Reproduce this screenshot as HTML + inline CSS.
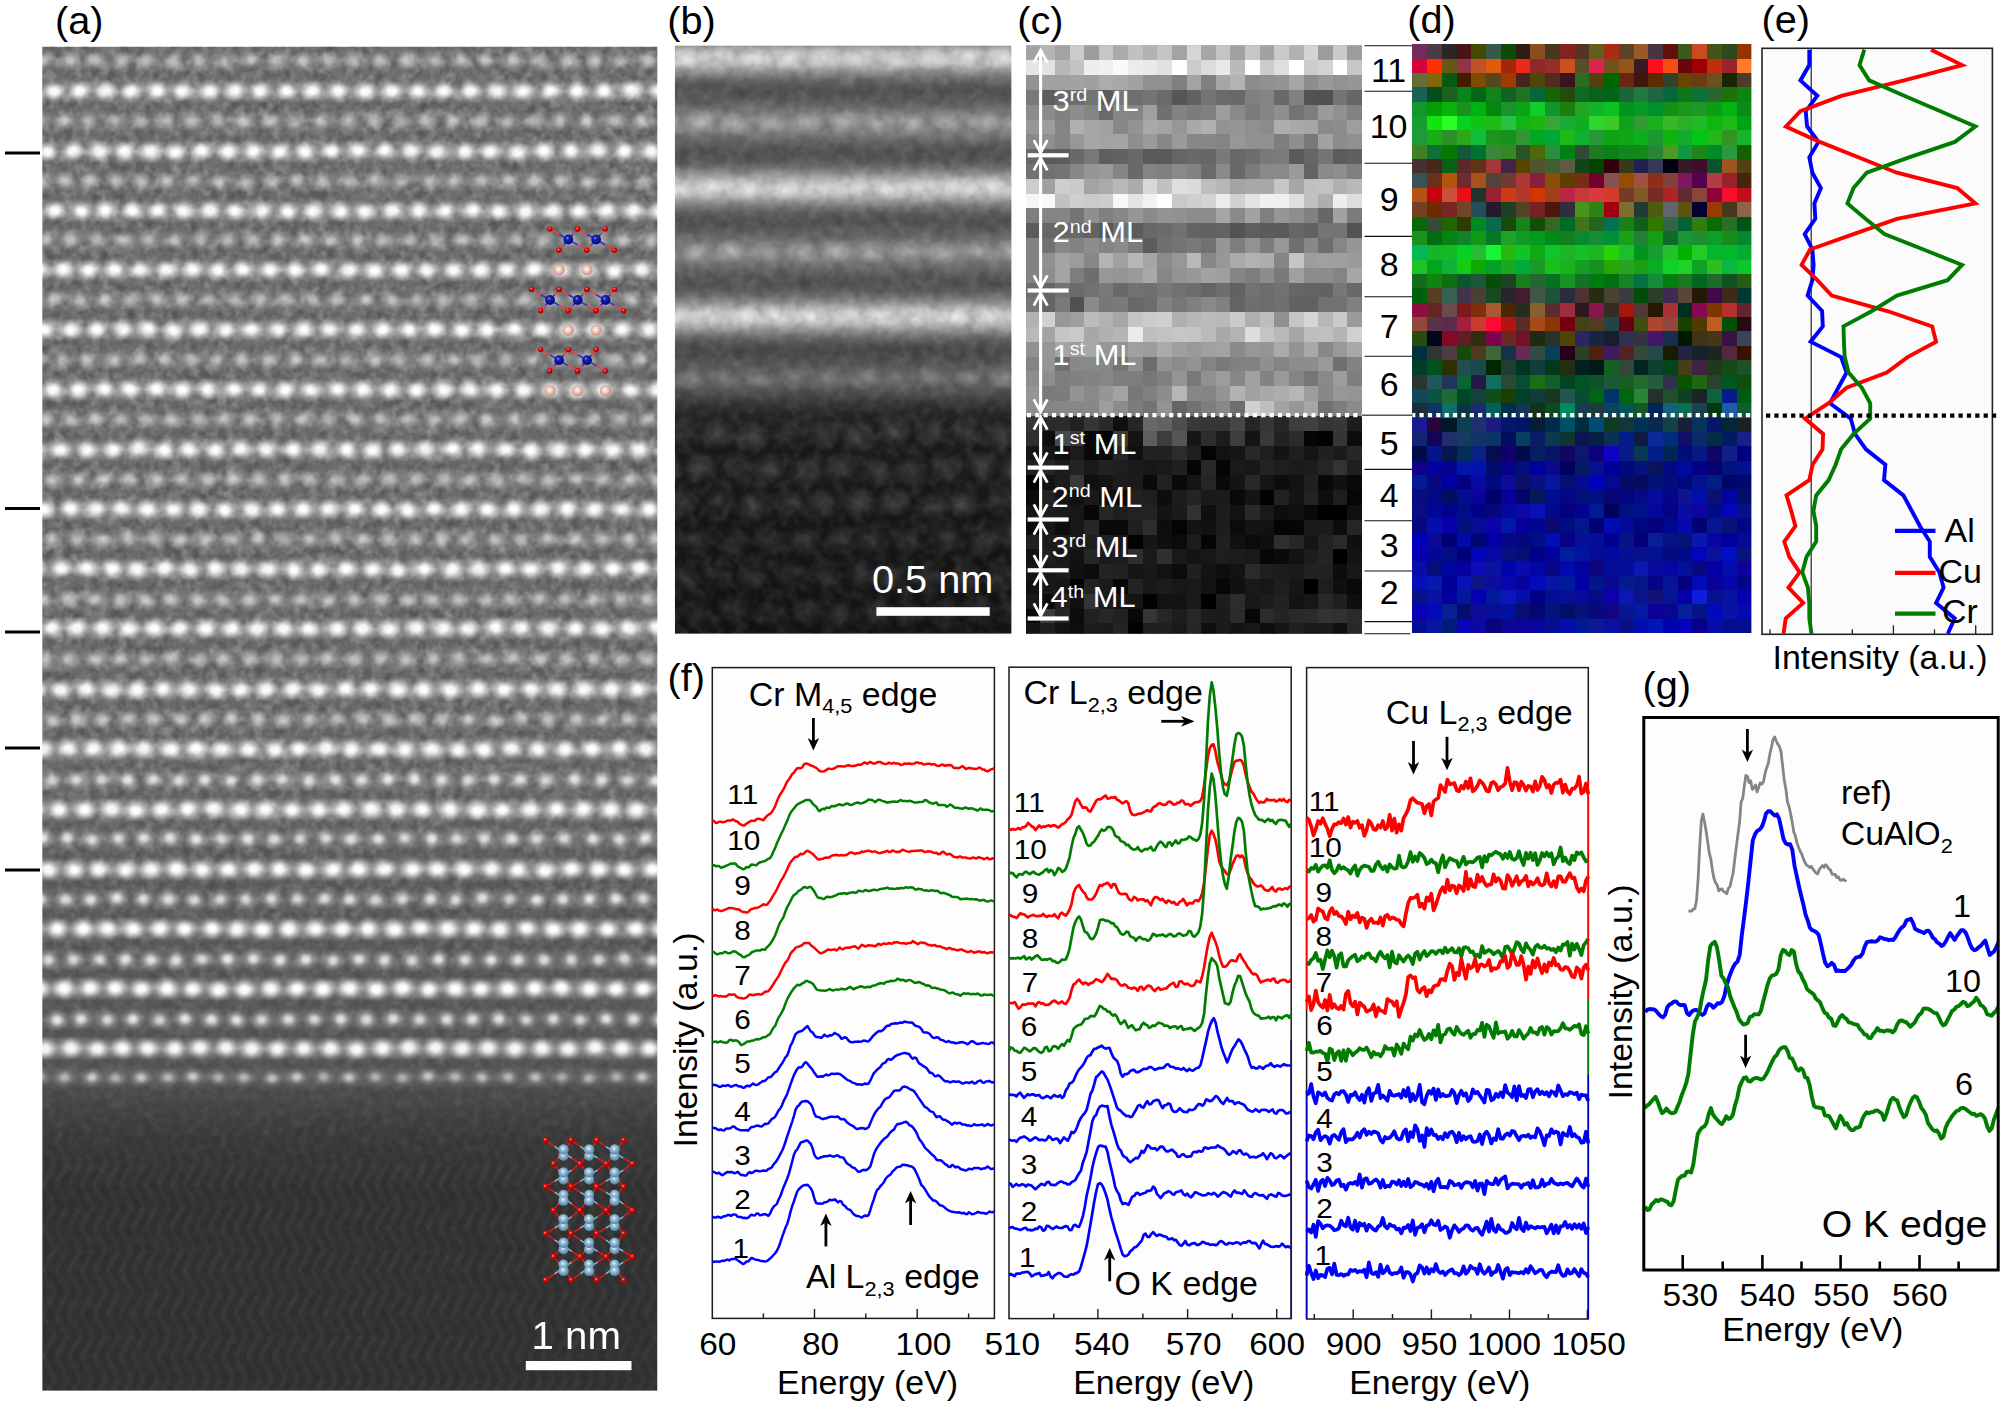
<!DOCTYPE html>
<html><head><meta charset="utf-8"><title>Figure</title>
<style>
html,body{margin:0;padding:0;background:#fff;}
body{width:2007px;height:1408px;overflow:hidden;}
svg{display:block;font-family:"Liberation Sans",sans-serif;}

</style></head><body>
<svg width="2007" height="1408" viewBox="0 0 2007 1408">
<rect width="2007" height="1408" fill="#fff"/>
<g id="panel_a"><defs>
<linearGradient id="abg" x1="0" y1="0" x2="0" y2="1">
<stop offset="0.0000" stop-color="#707070"/><stop offset="0.5605" stop-color="#6c6c6c"/><stop offset="0.6200" stop-color="#606060"/><stop offset="0.7539" stop-color="#585858"/><stop offset="0.7747" stop-color="#505050"/><stop offset="0.7874" stop-color="#464646"/><stop offset="0.8097" stop-color="#3a3a3a"/><stop offset="0.8506" stop-color="#313131"/><stop offset="0.9994" stop-color="#303030"/>
</linearGradient>
<radialGradient id="gB"><stop offset="0" stop-color="#fff" stop-opacity="1"/><stop offset="0.28" stop-color="#fff" stop-opacity="1"/><stop offset="0.55" stop-color="#fff" stop-opacity="0.5"/><stop offset="0.8" stop-color="#fff" stop-opacity="0.14"/><stop offset="1" stop-color="#fff" stop-opacity="0"/></radialGradient>
<radialGradient id="gD"><stop offset="0" stop-color="#fff" stop-opacity="0.62"/><stop offset="0.3" stop-color="#fff" stop-opacity="0.5"/><stop offset="0.65" stop-color="#fff" stop-opacity="0.17"/><stop offset="1" stop-color="#fff" stop-opacity="0"/></radialGradient>
<radialGradient id="gE"><stop offset="0" stop-color="#fff" stop-opacity="0.9"/><stop offset="0.25" stop-color="#fff" stop-opacity="0.8"/><stop offset="0.6" stop-color="#fff" stop-opacity="0.22"/><stop offset="1" stop-color="#fff" stop-opacity="0"/></radialGradient>
<linearGradient id="rowB" x1="0" y1="0" x2="0" y2="1"><stop offset="0" stop-color="#fff" stop-opacity="0"/><stop offset="0.5" stop-color="#fff" stop-opacity="0.34"/><stop offset="1" stop-color="#fff" stop-opacity="0"/></linearGradient>
<linearGradient id="rowD" x1="0" y1="0" x2="0" y2="1"><stop offset="0" stop-color="#fff" stop-opacity="0"/><stop offset="0.5" stop-color="#fff" stop-opacity="0.12"/><stop offset="1" stop-color="#fff" stop-opacity="0"/></linearGradient>
<linearGradient id="rowK" x1="0" y1="0" x2="0" y2="1"><stop offset="0" stop-color="#000" stop-opacity="0"/><stop offset="0.5" stop-color="#000" stop-opacity="0.04"/><stop offset="1" stop-color="#000" stop-opacity="0"/></linearGradient>
<pattern id="chev" width="25.6" height="43" patternUnits="userSpaceOnUse" x="42" y="1120"><path d="M2,20 L12,2 M14.8,20 L24.8,2 M-10.8,20 L-0.8,2" stroke="#fff" stroke-opacity="0.035" stroke-width="5" fill="none" stroke-linecap="round"/><path d="M2,23.5 L12,41.5 M14.8,23.5 L24.8,41.5 M27.6,23.5 L37.6,41.5" stroke="#fff" stroke-opacity="0.028" stroke-width="5" fill="none" stroke-linecap="round"/></pattern>
<linearGradient id="chevfade" x1="0" y1="0" x2="0" y2="1"><stop offset="0" stop-color="#fff" stop-opacity="0"/><stop offset="0.25" stop-color="#fff" stop-opacity="1"/><stop offset="1" stop-color="#fff" stop-opacity="1"/></linearGradient>
<mask id="chevm"><rect x="42" y="1100" width="616" height="291" fill="url(#chevfade)"/></mask>
<filter id="ablur" x="0" y="0" width="1" height="1" filterUnits="objectBoundingBox"><feGaussianBlur stdDeviation="1.1"/></filter>
<filter id="anz" x="0" y="0" width="1" height="1"><feTurbulence type="fractalNoise" baseFrequency="0.11" numOctaves="2" seed="4" result="t"/><feColorMatrix in="t" type="matrix" values="0 0 0 0 1  0 0 0 0 1  0 0 0 0 1  0.38 0 0 0 -0.148"/></filter>
<filter id="anzk" x="0" y="0" width="1" height="1"><feTurbulence type="fractalNoise" baseFrequency="0.11" numOctaves="2" seed="9" result="t"/><feColorMatrix in="t" type="matrix" values="0 0 0 0 0  0 0 0 0 0  0 0 0 0 0  0.38 0 0 0 -0.148"/></filter>
<filter id="anz2" x="0" y="0" width="1" height="1"><feTurbulence type="fractalNoise" baseFrequency="0.09" numOctaves="2" seed="14" result="t"/><feColorMatrix in="t" type="matrix" values="0 0 0 0 1  0 0 0 0 1  0 0 0 0 1  0.22 0 0 0 -0.075"/></filter>
<linearGradient id="nzg" gradientUnits="userSpaceOnUse" x1="0" y1="46" x2="0" y2="1391"><stop offset="0" stop-color="#fff"/><stop offset="0.5" stop-color="#fff"/><stop offset="0.68" stop-color="#999"/><stop offset="0.78" stop-color="#555"/><stop offset="0.84" stop-color="#2a2a2a"/><stop offset="1" stop-color="#222"/></linearGradient><mask id="nzm"><rect x="42" y="46" width="616" height="1345" fill="url(#nzg)"/></mask>
<clipPath id="aclip"><rect x="42.2" y="46.6" width="615.3" height="1344.2"/></clipPath>
</defs>
<g clip-path="url(#aclip)">
<rect x="42.2" y="46.6" width="615.3" height="1344.2" fill="url(#abg)"/>
<rect x="42" y="1100" width="616" height="291" fill="url(#chev)" mask="url(#chevm)"/>
<rect x="42" y="68.7" width="616" height="14" fill="url(#rowK)"/>
<rect x="42" y="99.2" width="616" height="14" fill="url(#rowK)"/>
<rect x="42" y="128.9" width="616" height="14" fill="url(#rowK)"/>
<rect x="42" y="159.3" width="616" height="14" fill="url(#rowK)"/>
<rect x="42" y="189.1" width="616" height="14" fill="url(#rowK)"/>
<rect x="42" y="218.9" width="616" height="14" fill="url(#rowK)"/>
<rect x="42" y="248" width="616" height="14" fill="url(#rowK)"/>
<rect x="42" y="277.9" width="616" height="14" fill="url(#rowK)"/>
<rect x="42" y="307.8" width="616" height="14" fill="url(#rowK)"/>
<rect x="42" y="337.7" width="616" height="14" fill="url(#rowK)"/>
<rect x="42" y="367.6" width="616" height="14" fill="url(#rowK)"/>
<rect x="42" y="397.5" width="616" height="14" fill="url(#rowK)"/>
<rect x="42" y="427.4" width="616" height="14" fill="url(#rowK)"/>
<rect x="42" y="457.6" width="616" height="14" fill="url(#rowK)"/>
<rect x="42" y="487.3" width="616" height="14" fill="url(#rowK)"/>
<rect x="42" y="517.2" width="616" height="14" fill="url(#rowK)"/>
<rect x="42" y="547.1" width="616" height="14" fill="url(#rowK)"/>
<rect x="42" y="577" width="616" height="14" fill="url(#rowK)"/>
<rect x="42" y="607.7" width="616" height="14" fill="url(#rowK)"/>
<rect x="42" y="636.6" width="616" height="14" fill="url(#rowK)"/>
<rect x="42" y="667" width="616" height="14" fill="url(#rowK)"/>
<rect x="42" y="697.4" width="616" height="14" fill="url(#rowK)"/>
<rect x="42" y="727.2" width="616" height="14" fill="url(#rowK)"/>
<rect x="42" y="757.1" width="616" height="14" fill="url(#rowK)"/>
<rect x="42" y="787.8" width="616" height="14" fill="url(#rowK)"/>
<rect x="42" y="817.7" width="616" height="14" fill="url(#rowK)"/>
<rect x="42" y="846.6" width="616" height="14" fill="url(#rowK)"/>
<rect x="42" y="877.2" width="616" height="14" fill="url(#rowK)"/>
<rect x="42" y="907.2" width="616" height="14" fill="url(#rowK)"/>
<rect x="42" y="937" width="616" height="14" fill="url(#rowK)"/>
<rect x="42" y="967.7" width="616" height="14" fill="url(#rowK)"/>
<rect x="42" y="996.7" width="616" height="14" fill="url(#rowK)"/>
<rect x="42" y="1027.3" width="616" height="14" fill="url(#rowK)"/>
<rect x="42" y="1056.4" width="616" height="14" fill="url(#rowK)"/>
<rect x="42" y="1085.4" width="616" height="14" fill="url(#rowK)"/>
<rect x="42" y="49.7" width="616" height="22" fill="url(#rowD)"/>
<rect x="42" y="79.2" width="616" height="24" fill="url(#rowB)"/>
<rect x="42" y="110" width="616" height="22" fill="url(#rowD)"/>
<rect x="42" y="139.4" width="616" height="24" fill="url(#rowB)"/>
<rect x="42" y="170.2" width="616" height="22" fill="url(#rowD)"/>
<rect x="42" y="199" width="616" height="24" fill="url(#rowB)"/>
<rect x="42" y="229.1" width="616" height="22" fill="url(#rowD)"/>
<rect x="42" y="258" width="616" height="24" fill="url(#rowB)"/>
<rect x="42" y="288.9" width="616" height="22" fill="url(#rowD)"/>
<rect x="42" y="317.8" width="616" height="24" fill="url(#rowB)"/>
<rect x="42" y="348.7" width="616" height="22" fill="url(#rowD)"/>
<rect x="42" y="377.6" width="616" height="24" fill="url(#rowB)"/>
<rect x="42" y="408.5" width="616" height="22" fill="url(#rowD)"/>
<rect x="42" y="437.6" width="616" height="24" fill="url(#rowB)"/>
<rect x="42" y="468.4" width="616" height="22" fill="url(#rowD)"/>
<rect x="42" y="497.3" width="616" height="24" fill="url(#rowB)"/>
<rect x="42" y="528.1" width="616" height="22" fill="url(#rowD)"/>
<rect x="42" y="557" width="616" height="24" fill="url(#rowB)"/>
<rect x="42" y="588.7" width="616" height="22" fill="url(#rowD)"/>
<rect x="42" y="616.6" width="616" height="24" fill="url(#rowB)"/>
<rect x="42" y="648" width="616" height="22" fill="url(#rowD)"/>
<rect x="42" y="677.4" width="616" height="24" fill="url(#rowB)"/>
<rect x="42" y="708.3" width="616" height="22" fill="url(#rowD)"/>
<rect x="42" y="737.1" width="616" height="24" fill="url(#rowB)"/>
<rect x="42" y="768.8" width="616" height="22" fill="url(#rowD)"/>
<rect x="42" y="797.7" width="616" height="24" fill="url(#rowB)"/>
<rect x="42" y="827.6" width="616" height="22" fill="url(#rowD)"/>
<rect x="42" y="857.3" width="616" height="24" fill="url(#rowB)"/>
<rect x="42" y="888.2" width="616" height="22" fill="url(#rowD)"/>
<rect x="42" y="917" width="616" height="24" fill="url(#rowB)"/>
<rect x="42" y="948.7" width="616" height="22" fill="url(#rowD)"/>
<rect x="42" y="976.7" width="616" height="24" fill="url(#rowB)"/>
<rect x="42" y="1008.4" width="616" height="22" fill="url(#rowD)"/>
<rect x="42" y="1036.4" width="616" height="24" fill="url(#rowB)"/>
<rect x="42" y="1066.4" width="616" height="22" fill="url(#rowD)"/>
<g mask="url(#nzm)"><rect x="42" y="46" width="616" height="1345" filter="url(#anz)"/>
<rect x="42" y="46" width="616" height="1345" filter="url(#anzk)"/></g>
<g filter="url(#ablur)">
<ellipse cx="44.4" cy="60.7" rx="11.8" ry="10.6" fill="url(#gD)" opacity="0.77"/>
<ellipse cx="70.3" cy="60.7" rx="12" ry="10.8" fill="url(#gD)" opacity="0.95"/>
<ellipse cx="94.8" cy="60.4" rx="11.4" ry="10.3" fill="url(#gD)" opacity="0.98"/>
<ellipse cx="121.2" cy="60.6" rx="12.4" ry="11.2" fill="url(#gD)" opacity="0.76"/>
<ellipse cx="146.2" cy="61" rx="11.3" ry="10.2" fill="url(#gD)" opacity="0.89"/>
<ellipse cx="172.8" cy="61.5" rx="12" ry="10.8" fill="url(#gD)" opacity="0.87"/>
<ellipse cx="198.6" cy="60.7" rx="11.6" ry="10.4" fill="url(#gD)" opacity="0.87"/>
<ellipse cx="223.7" cy="61.2" rx="12.2" ry="10.9" fill="url(#gD)" opacity="0.83"/>
<ellipse cx="250.2" cy="59.9" rx="11.7" ry="10.5" fill="url(#gD)" opacity="0.84"/>
<ellipse cx="276.7" cy="60.1" rx="11.7" ry="10.5" fill="url(#gD)" opacity="0.93"/>
<ellipse cx="303.2" cy="61.1" rx="11.3" ry="10.1" fill="url(#gD)" opacity="0.94"/>
<ellipse cx="328.6" cy="59.8" rx="12" ry="10.8" fill="url(#gD)" opacity="0.88"/>
<ellipse cx="354" cy="60.8" rx="11.8" ry="10.6" fill="url(#gD)" opacity="0.92"/>
<ellipse cx="381" cy="60.8" rx="11.1" ry="10" fill="url(#gD)" opacity="0.83"/>
<ellipse cx="407.8" cy="60" rx="12.4" ry="11.2" fill="url(#gD)" opacity="0.99"/>
<ellipse cx="434.3" cy="60.7" rx="12.3" ry="11" fill="url(#gD)" opacity="0.78"/>
<ellipse cx="461.2" cy="60.5" rx="12.1" ry="10.9" fill="url(#gD)" opacity="0.87"/>
<ellipse cx="486.3" cy="60.5" rx="11.5" ry="10.3" fill="url(#gD)" opacity="0.83"/>
<ellipse cx="513.5" cy="60.5" rx="11.7" ry="10.5" fill="url(#gD)" opacity="0.94"/>
<ellipse cx="540.1" cy="60.8" rx="11.7" ry="10.5" fill="url(#gD)" opacity="0.94"/>
<ellipse cx="568.2" cy="60.9" rx="12.2" ry="11" fill="url(#gD)" opacity="0.98"/>
<ellipse cx="594.7" cy="60.6" rx="12.2" ry="11" fill="url(#gD)" opacity="0.93"/>
<ellipse cx="620.4" cy="60.9" rx="11.1" ry="10" fill="url(#gD)" opacity="0.84"/>
<ellipse cx="647.9" cy="60.6" rx="11.9" ry="10.7" fill="url(#gD)" opacity="0.93"/>
<ellipse cx="54.3" cy="91.2" rx="13.2" ry="11.3" fill="url(#gB)"/>
<ellipse cx="79.9" cy="90.9" rx="13.3" ry="11.5" fill="url(#gB)"/>
<ellipse cx="105.2" cy="91" rx="13.4" ry="11.5" fill="url(#gB)"/>
<ellipse cx="130.9" cy="91" rx="13.3" ry="11.4" fill="url(#gB)"/>
<ellipse cx="157" cy="90.9" rx="13.6" ry="11.7" fill="url(#gB)"/>
<ellipse cx="182.5" cy="90.9" rx="13.6" ry="11.7" fill="url(#gB)"/>
<ellipse cx="209.2" cy="91" rx="13.6" ry="11.7" fill="url(#gB)"/>
<ellipse cx="234.5" cy="90.7" rx="13.6" ry="11.7" fill="url(#gB)"/>
<ellipse cx="259.6" cy="91.3" rx="12.6" ry="10.9" fill="url(#gB)"/>
<ellipse cx="286.8" cy="90.9" rx="12.7" ry="10.9" fill="url(#gB)"/>
<ellipse cx="312.5" cy="91" rx="13.4" ry="11.6" fill="url(#gB)"/>
<ellipse cx="338.1" cy="91.1" rx="13" ry="11.2" fill="url(#gB)"/>
<ellipse cx="365.2" cy="91.3" rx="13.8" ry="11.9" fill="url(#gB)"/>
<ellipse cx="392" cy="91.1" rx="13.6" ry="11.7" fill="url(#gB)"/>
<ellipse cx="418.2" cy="91.3" rx="12.6" ry="10.9" fill="url(#gB)"/>
<ellipse cx="443.7" cy="90.7" rx="12.7" ry="11" fill="url(#gB)"/>
<ellipse cx="470.5" cy="91.3" rx="13" ry="11.2" fill="url(#gB)"/>
<ellipse cx="496.7" cy="91" rx="13.2" ry="11.4" fill="url(#gB)"/>
<ellipse cx="523.1" cy="91.4" rx="13.5" ry="11.6" fill="url(#gB)"/>
<ellipse cx="550.6" cy="91" rx="13" ry="11.2" fill="url(#gB)"/>
<ellipse cx="577.1" cy="90.9" rx="13.7" ry="11.8" fill="url(#gB)"/>
<ellipse cx="603.9" cy="90.9" rx="13.1" ry="11.3" fill="url(#gB)"/>
<ellipse cx="631.6" cy="90.3" rx="13.7" ry="11.8" fill="url(#gB)"/>
<ellipse cx="659.4" cy="90.6" rx="13.3" ry="11.5" fill="url(#gB)"/>
<ellipse cx="38.6" cy="121.5" rx="12" ry="10.8" fill="url(#gD)" opacity="0.79"/>
<ellipse cx="64.4" cy="120.3" rx="11.1" ry="10" fill="url(#gD)" opacity="1.00"/>
<ellipse cx="89.2" cy="121.6" rx="12.1" ry="10.9" fill="url(#gD)" opacity="0.80"/>
<ellipse cx="114" cy="120.6" rx="11.9" ry="10.7" fill="url(#gD)" opacity="0.77"/>
<ellipse cx="140.2" cy="121.5" rx="11.7" ry="10.5" fill="url(#gD)" opacity="0.78"/>
<ellipse cx="166.4" cy="121.3" rx="11.9" ry="10.7" fill="url(#gD)" opacity="0.81"/>
<ellipse cx="191.5" cy="121.2" rx="12.2" ry="11" fill="url(#gD)" opacity="0.90"/>
<ellipse cx="217.7" cy="120.1" rx="11.9" ry="10.7" fill="url(#gD)" opacity="0.81"/>
<ellipse cx="243.4" cy="121.6" rx="12.3" ry="11.1" fill="url(#gD)" opacity="0.96"/>
<ellipse cx="269.7" cy="120.6" rx="11.5" ry="10.3" fill="url(#gD)" opacity="0.94"/>
<ellipse cx="294.6" cy="122" rx="12.3" ry="11.1" fill="url(#gD)" opacity="0.76"/>
<ellipse cx="320.9" cy="121.3" rx="11.1" ry="9.9" fill="url(#gD)" opacity="0.94"/>
<ellipse cx="348.5" cy="121.1" rx="11.9" ry="10.7" fill="url(#gD)" opacity="0.83"/>
<ellipse cx="373.6" cy="120.3" rx="12.3" ry="11.1" fill="url(#gD)" opacity="0.83"/>
<ellipse cx="400.9" cy="121.4" rx="11.5" ry="10.3" fill="url(#gD)" opacity="0.76"/>
<ellipse cx="426.6" cy="120.8" rx="11.4" ry="10.3" fill="url(#gD)" opacity="0.97"/>
<ellipse cx="453.9" cy="120.7" rx="11.2" ry="10.1" fill="url(#gD)" opacity="0.99"/>
<ellipse cx="480" cy="121" rx="12.4" ry="11.2" fill="url(#gD)" opacity="0.84"/>
<ellipse cx="507" cy="121.9" rx="11.1" ry="10" fill="url(#gD)" opacity="0.78"/>
<ellipse cx="533.5" cy="120.9" rx="11.1" ry="10" fill="url(#gD)" opacity="0.76"/>
<ellipse cx="559.9" cy="121" rx="11.3" ry="10.2" fill="url(#gD)" opacity="0.94"/>
<ellipse cx="587.3" cy="121.4" rx="11" ry="9.9" fill="url(#gD)" opacity="1.00"/>
<ellipse cx="614.2" cy="120.7" rx="11.8" ry="10.6" fill="url(#gD)" opacity="0.97"/>
<ellipse cx="641.5" cy="121.6" rx="11.6" ry="10.4" fill="url(#gD)" opacity="0.96"/>
<ellipse cx="668.1" cy="121.1" rx="11.4" ry="10.3" fill="url(#gD)" opacity="0.87"/>
<ellipse cx="47.3" cy="152" rx="12.8" ry="11" fill="url(#gB)"/>
<ellipse cx="73" cy="150.9" rx="12.9" ry="11.1" fill="url(#gB)"/>
<ellipse cx="98.9" cy="151.3" rx="13.7" ry="11.8" fill="url(#gB)"/>
<ellipse cx="124.7" cy="151.1" rx="13.6" ry="11.7" fill="url(#gB)"/>
<ellipse cx="150.2" cy="151.2" rx="13.7" ry="11.8" fill="url(#gB)"/>
<ellipse cx="175.4" cy="152.5" rx="13.5" ry="11.6" fill="url(#gB)"/>
<ellipse cx="201.7" cy="150.5" rx="13.5" ry="11.6" fill="url(#gB)"/>
<ellipse cx="227.9" cy="151.4" rx="13.6" ry="11.7" fill="url(#gB)"/>
<ellipse cx="253.4" cy="151.1" rx="13.6" ry="11.7" fill="url(#gB)"/>
<ellipse cx="279.8" cy="151.8" rx="13.2" ry="11.3" fill="url(#gB)"/>
<ellipse cx="305.5" cy="151.6" rx="13.6" ry="11.7" fill="url(#gB)"/>
<ellipse cx="331.6" cy="151" rx="12.8" ry="11" fill="url(#gB)"/>
<ellipse cx="357.8" cy="150.2" rx="13" ry="11.2" fill="url(#gB)"/>
<ellipse cx="385" cy="150.5" rx="12.6" ry="10.8" fill="url(#gB)"/>
<ellipse cx="410.8" cy="150.5" rx="13.1" ry="11.3" fill="url(#gB)"/>
<ellipse cx="437.3" cy="152.1" rx="12.9" ry="11.1" fill="url(#gB)"/>
<ellipse cx="464.6" cy="151.6" rx="13" ry="11.2" fill="url(#gB)"/>
<ellipse cx="490.6" cy="151.8" rx="13" ry="11.2" fill="url(#gB)"/>
<ellipse cx="517.5" cy="152.3" rx="13.1" ry="11.3" fill="url(#gB)"/>
<ellipse cx="544" cy="150.9" rx="13.7" ry="11.8" fill="url(#gB)"/>
<ellipse cx="571.3" cy="150.6" rx="13.1" ry="11.3" fill="url(#gB)"/>
<ellipse cx="597.9" cy="150.3" rx="13.1" ry="11.2" fill="url(#gB)"/>
<ellipse cx="624.6" cy="151.1" rx="13.3" ry="11.4" fill="url(#gB)"/>
<ellipse cx="651.1" cy="151.4" rx="13.3" ry="11.4" fill="url(#gB)"/>
<ellipse cx="39.5" cy="181.5" rx="12.4" ry="11.1" fill="url(#gD)" opacity="0.99"/>
<ellipse cx="64.9" cy="180.7" rx="11.7" ry="10.5" fill="url(#gD)" opacity="0.99"/>
<ellipse cx="89.7" cy="180.4" rx="11.6" ry="10.4" fill="url(#gD)" opacity="0.98"/>
<ellipse cx="116.5" cy="181.1" rx="11.4" ry="10.2" fill="url(#gD)" opacity="0.84"/>
<ellipse cx="141.7" cy="181.4" rx="11.3" ry="10.2" fill="url(#gD)" opacity="0.89"/>
<ellipse cx="166.6" cy="181.2" rx="11.6" ry="10.5" fill="url(#gD)" opacity="0.91"/>
<ellipse cx="193" cy="180.5" rx="11.5" ry="10.4" fill="url(#gD)" opacity="0.80"/>
<ellipse cx="218.6" cy="181.4" rx="11.6" ry="10.5" fill="url(#gD)" opacity="0.93"/>
<ellipse cx="245.3" cy="182.5" rx="11.6" ry="10.4" fill="url(#gD)" opacity="0.87"/>
<ellipse cx="271.9" cy="181.2" rx="11.8" ry="10.6" fill="url(#gD)" opacity="0.84"/>
<ellipse cx="297" cy="181.1" rx="11.1" ry="10" fill="url(#gD)" opacity="0.81"/>
<ellipse cx="322.8" cy="181.5" rx="12" ry="10.8" fill="url(#gD)" opacity="0.77"/>
<ellipse cx="349.9" cy="180.9" rx="12.4" ry="11.2" fill="url(#gD)" opacity="0.89"/>
<ellipse cx="375.3" cy="180.9" rx="11.4" ry="10.3" fill="url(#gD)" opacity="0.90"/>
<ellipse cx="401" cy="181.3" rx="12.2" ry="11" fill="url(#gD)" opacity="0.78"/>
<ellipse cx="429.4" cy="181.2" rx="11.9" ry="10.8" fill="url(#gD)" opacity="0.83"/>
<ellipse cx="454.4" cy="181.2" rx="11.7" ry="10.5" fill="url(#gD)" opacity="0.98"/>
<ellipse cx="481.9" cy="181" rx="11.7" ry="10.6" fill="url(#gD)" opacity="0.87"/>
<ellipse cx="507.8" cy="181.2" rx="11.5" ry="10.4" fill="url(#gD)" opacity="0.99"/>
<ellipse cx="534.9" cy="181.3" rx="12.4" ry="11.2" fill="url(#gD)" opacity="0.97"/>
<ellipse cx="562.2" cy="180.8" rx="11.9" ry="10.7" fill="url(#gD)" opacity="0.83"/>
<ellipse cx="588.5" cy="181.2" rx="11.9" ry="10.7" fill="url(#gD)" opacity="0.92"/>
<ellipse cx="615.9" cy="181.2" rx="11.9" ry="10.7" fill="url(#gD)" opacity="0.81"/>
<ellipse cx="643" cy="181.3" rx="11.3" ry="10.2" fill="url(#gD)" opacity="0.76"/>
<ellipse cx="668.9" cy="181.9" rx="11.4" ry="10.3" fill="url(#gD)" opacity="0.97"/>
<ellipse cx="30.9" cy="210.6" rx="13.7" ry="11.8" fill="url(#gB)"/>
<ellipse cx="54.9" cy="210.5" rx="12.9" ry="11.1" fill="url(#gB)"/>
<ellipse cx="81.1" cy="211.2" rx="12.9" ry="11.1" fill="url(#gB)"/>
<ellipse cx="105.3" cy="210.6" rx="13.4" ry="11.5" fill="url(#gB)"/>
<ellipse cx="132.2" cy="210.4" rx="13.2" ry="11.3" fill="url(#gB)"/>
<ellipse cx="157.9" cy="210.7" rx="12.7" ry="11" fill="url(#gB)"/>
<ellipse cx="183.4" cy="210.6" rx="13.7" ry="11.8" fill="url(#gB)"/>
<ellipse cx="210.1" cy="210.4" rx="13.4" ry="11.6" fill="url(#gB)"/>
<ellipse cx="235.4" cy="211.3" rx="12.8" ry="11" fill="url(#gB)"/>
<ellipse cx="261.8" cy="211.2" rx="13" ry="11.2" fill="url(#gB)"/>
<ellipse cx="287.8" cy="212.1" rx="12.9" ry="11.1" fill="url(#gB)"/>
<ellipse cx="313.4" cy="211.2" rx="13.6" ry="11.7" fill="url(#gB)"/>
<ellipse cx="340.4" cy="211.5" rx="12.8" ry="11" fill="url(#gB)"/>
<ellipse cx="364.9" cy="211.6" rx="13.8" ry="11.8" fill="url(#gB)"/>
<ellipse cx="392.2" cy="210.9" rx="13.6" ry="11.7" fill="url(#gB)"/>
<ellipse cx="418.7" cy="210.9" rx="13.2" ry="11.4" fill="url(#gB)"/>
<ellipse cx="444.8" cy="210.8" rx="12.6" ry="10.9" fill="url(#gB)"/>
<ellipse cx="472.3" cy="209.9" rx="13" ry="11.1" fill="url(#gB)"/>
<ellipse cx="498.8" cy="211.4" rx="12.7" ry="10.9" fill="url(#gB)"/>
<ellipse cx="526" cy="211.7" rx="13.7" ry="11.8" fill="url(#gB)"/>
<ellipse cx="552.3" cy="211" rx="13.3" ry="11.5" fill="url(#gB)"/>
<ellipse cx="578.9" cy="211.1" rx="12.7" ry="10.9" fill="url(#gB)"/>
<ellipse cx="606.2" cy="210.4" rx="13.6" ry="11.7" fill="url(#gB)"/>
<ellipse cx="633.4" cy="210.5" rx="13.4" ry="11.5" fill="url(#gB)"/>
<ellipse cx="660.3" cy="211.5" rx="13.7" ry="11.7" fill="url(#gB)"/>
<ellipse cx="46.3" cy="239.4" rx="11.1" ry="10" fill="url(#gD)" opacity="0.93"/>
<ellipse cx="71.7" cy="239.5" rx="12.2" ry="11" fill="url(#gD)" opacity="0.90"/>
<ellipse cx="97.5" cy="239.3" rx="12.3" ry="11.1" fill="url(#gD)" opacity="0.75"/>
<ellipse cx="123.3" cy="240.2" rx="11.3" ry="10.1" fill="url(#gD)" opacity="0.95"/>
<ellipse cx="148.9" cy="239.7" rx="11.9" ry="10.7" fill="url(#gD)" opacity="0.81"/>
<ellipse cx="174.9" cy="240.4" rx="11.2" ry="10.1" fill="url(#gD)" opacity="0.79"/>
<ellipse cx="200.6" cy="239.8" rx="11.3" ry="10.2" fill="url(#gD)" opacity="0.89"/>
<ellipse cx="226.5" cy="240.2" rx="11.2" ry="10.1" fill="url(#gD)" opacity="0.83"/>
<ellipse cx="251.5" cy="239.5" rx="11.6" ry="10.5" fill="url(#gD)" opacity="0.86"/>
<ellipse cx="278.1" cy="240.6" rx="11.5" ry="10.4" fill="url(#gD)" opacity="0.85"/>
<ellipse cx="304.8" cy="239.6" rx="11.6" ry="10.4" fill="url(#gD)" opacity="0.98"/>
<ellipse cx="330.5" cy="240.4" rx="11.4" ry="10.2" fill="url(#gD)" opacity="0.95"/>
<ellipse cx="356.9" cy="240.1" rx="11.9" ry="10.8" fill="url(#gD)" opacity="0.85"/>
<ellipse cx="383.7" cy="240.5" rx="12.4" ry="11.1" fill="url(#gD)" opacity="0.92"/>
<ellipse cx="409.6" cy="240.3" rx="11.5" ry="10.4" fill="url(#gD)" opacity="0.76"/>
<ellipse cx="436.4" cy="241.6" rx="12.2" ry="11" fill="url(#gD)" opacity="0.85"/>
<ellipse cx="462.5" cy="239.6" rx="11.1" ry="10" fill="url(#gD)" opacity="0.83"/>
<ellipse cx="489.1" cy="240.2" rx="12.5" ry="11.2" fill="url(#gD)" opacity="0.88"/>
<ellipse cx="516.4" cy="239.8" rx="11.2" ry="10.1" fill="url(#gD)" opacity="0.83"/>
<ellipse cx="542.6" cy="240.2" rx="11.8" ry="10.6" fill="url(#gD)" opacity="0.91"/>
<ellipse cx="569.3" cy="239.6" rx="11.8" ry="10.6" fill="url(#gD)" opacity="0.90"/>
<ellipse cx="596.3" cy="239.5" rx="12.5" ry="11.2" fill="url(#gD)" opacity="0.83"/>
<ellipse cx="623.1" cy="240.4" rx="11.7" ry="10.5" fill="url(#gD)" opacity="0.88"/>
<ellipse cx="651.3" cy="240.4" rx="12.2" ry="11" fill="url(#gD)" opacity="0.93"/>
<ellipse cx="38.6" cy="269.7" rx="13.2" ry="11.4" fill="url(#gB)"/>
<ellipse cx="63.2" cy="269.7" rx="13.5" ry="11.6" fill="url(#gB)"/>
<ellipse cx="88.8" cy="270.1" rx="13.3" ry="11.4" fill="url(#gB)"/>
<ellipse cx="114.6" cy="269.8" rx="13.3" ry="11.4" fill="url(#gB)"/>
<ellipse cx="139.8" cy="270.2" rx="12.7" ry="10.9" fill="url(#gB)"/>
<ellipse cx="166.7" cy="270.2" rx="13.6" ry="11.7" fill="url(#gB)"/>
<ellipse cx="192.4" cy="269.1" rx="13.5" ry="11.6" fill="url(#gB)"/>
<ellipse cx="217.7" cy="270.5" rx="13.7" ry="11.7" fill="url(#gB)"/>
<ellipse cx="243.1" cy="269.7" rx="13" ry="11.1" fill="url(#gB)"/>
<ellipse cx="270" cy="270.2" rx="13.2" ry="11.3" fill="url(#gB)"/>
<ellipse cx="295.4" cy="270.2" rx="13.2" ry="11.4" fill="url(#gB)"/>
<ellipse cx="321" cy="269.1" rx="12.8" ry="11" fill="url(#gB)"/>
<ellipse cx="348.9" cy="270.5" rx="13.4" ry="11.5" fill="url(#gB)"/>
<ellipse cx="374.3" cy="270.8" rx="13.6" ry="11.7" fill="url(#gB)"/>
<ellipse cx="401.3" cy="270.1" rx="13.1" ry="11.3" fill="url(#gB)"/>
<ellipse cx="426.8" cy="270.3" rx="12.7" ry="10.9" fill="url(#gB)"/>
<ellipse cx="453.7" cy="270.3" rx="12.7" ry="10.9" fill="url(#gB)"/>
<ellipse cx="480.7" cy="270.1" rx="13.5" ry="11.6" fill="url(#gB)"/>
<ellipse cx="506.2" cy="269.9" rx="12.7" ry="10.9" fill="url(#gB)"/>
<ellipse cx="534.1" cy="269.3" rx="13.7" ry="11.8" fill="url(#gB)"/>
<ellipse cx="560.9" cy="270.5" rx="12.8" ry="11" fill="url(#gB)"/>
<ellipse cx="586.8" cy="270.7" rx="13" ry="11.2" fill="url(#gB)"/>
<ellipse cx="614.3" cy="270.7" rx="13.6" ry="11.7" fill="url(#gB)"/>
<ellipse cx="641.7" cy="269.5" rx="12.9" ry="11.1" fill="url(#gB)"/>
<ellipse cx="668.9" cy="269.9" rx="13.1" ry="11.3" fill="url(#gB)"/>
<ellipse cx="54.1" cy="299.7" rx="11.7" ry="10.5" fill="url(#gD)" opacity="1.00"/>
<ellipse cx="80.3" cy="300.2" rx="12.2" ry="11" fill="url(#gD)" opacity="0.87"/>
<ellipse cx="105.5" cy="299.6" rx="11.8" ry="10.6" fill="url(#gD)" opacity="0.94"/>
<ellipse cx="131.3" cy="300.3" rx="11.7" ry="10.5" fill="url(#gD)" opacity="0.88"/>
<ellipse cx="156.6" cy="299.3" rx="11.8" ry="10.6" fill="url(#gD)" opacity="0.94"/>
<ellipse cx="182.2" cy="299.8" rx="12" ry="10.8" fill="url(#gD)" opacity="0.99"/>
<ellipse cx="207.9" cy="299.6" rx="11.9" ry="10.7" fill="url(#gD)" opacity="0.79"/>
<ellipse cx="233.7" cy="300.1" rx="11.4" ry="10.3" fill="url(#gD)" opacity="0.87"/>
<ellipse cx="260.5" cy="299.9" rx="12.5" ry="11.2" fill="url(#gD)" opacity="0.89"/>
<ellipse cx="286" cy="299.6" rx="11.9" ry="10.7" fill="url(#gD)" opacity="0.96"/>
<ellipse cx="312.1" cy="299.6" rx="12.2" ry="11" fill="url(#gD)" opacity="0.78"/>
<ellipse cx="337.4" cy="299.9" rx="11.5" ry="10.3" fill="url(#gD)" opacity="0.94"/>
<ellipse cx="365.5" cy="299.6" rx="11.4" ry="10.2" fill="url(#gD)" opacity="0.92"/>
<ellipse cx="391.3" cy="299.8" rx="11.4" ry="10.2" fill="url(#gD)" opacity="0.89"/>
<ellipse cx="417.4" cy="300.1" rx="12.4" ry="11.1" fill="url(#gD)" opacity="0.83"/>
<ellipse cx="444.1" cy="300.5" rx="12.1" ry="10.9" fill="url(#gD)" opacity="0.76"/>
<ellipse cx="470.1" cy="300.4" rx="12.2" ry="11" fill="url(#gD)" opacity="0.86"/>
<ellipse cx="497.9" cy="300" rx="11.3" ry="10.2" fill="url(#gD)" opacity="0.82"/>
<ellipse cx="524.9" cy="300.5" rx="12.2" ry="11" fill="url(#gD)" opacity="0.93"/>
<ellipse cx="552.1" cy="299.7" rx="12.2" ry="11" fill="url(#gD)" opacity="0.86"/>
<ellipse cx="577.2" cy="299" rx="11.8" ry="10.6" fill="url(#gD)" opacity="0.83"/>
<ellipse cx="604.6" cy="300.3" rx="12.2" ry="11" fill="url(#gD)" opacity="0.85"/>
<ellipse cx="631.2" cy="299.9" rx="11.6" ry="10.4" fill="url(#gD)" opacity="0.86"/>
<ellipse cx="658.2" cy="300.3" rx="11.3" ry="10.2" fill="url(#gD)" opacity="0.76"/>
<ellipse cx="45.2" cy="329.5" rx="13.3" ry="11.5" fill="url(#gB)"/>
<ellipse cx="71" cy="329.9" rx="13.3" ry="11.4" fill="url(#gB)"/>
<ellipse cx="97" cy="329.4" rx="13.2" ry="11.4" fill="url(#gB)"/>
<ellipse cx="122.9" cy="329.2" rx="13.3" ry="11.4" fill="url(#gB)"/>
<ellipse cx="147.7" cy="329.1" rx="13.8" ry="11.9" fill="url(#gB)"/>
<ellipse cx="173.6" cy="330.5" rx="13.4" ry="11.6" fill="url(#gB)"/>
<ellipse cx="199.3" cy="329.3" rx="13.7" ry="11.8" fill="url(#gB)"/>
<ellipse cx="225.6" cy="330.2" rx="13.1" ry="11.3" fill="url(#gB)"/>
<ellipse cx="251.2" cy="329.5" rx="13.5" ry="11.6" fill="url(#gB)"/>
<ellipse cx="278" cy="329.6" rx="12.9" ry="11.1" fill="url(#gB)"/>
<ellipse cx="303.6" cy="329.9" rx="13.5" ry="11.6" fill="url(#gB)"/>
<ellipse cx="329.3" cy="329.5" rx="12.7" ry="10.9" fill="url(#gB)"/>
<ellipse cx="356.7" cy="329.8" rx="13" ry="11.2" fill="url(#gB)"/>
<ellipse cx="382.6" cy="329.7" rx="13.8" ry="11.9" fill="url(#gB)"/>
<ellipse cx="408.7" cy="329.7" rx="13.3" ry="11.4" fill="url(#gB)"/>
<ellipse cx="434.6" cy="329.1" rx="13.8" ry="11.9" fill="url(#gB)"/>
<ellipse cx="461.7" cy="330.3" rx="13.4" ry="11.5" fill="url(#gB)"/>
<ellipse cx="487" cy="330.1" rx="13.6" ry="11.7" fill="url(#gB)"/>
<ellipse cx="514.5" cy="329" rx="12.8" ry="11" fill="url(#gB)"/>
<ellipse cx="541.9" cy="329.8" rx="13" ry="11.1" fill="url(#gB)"/>
<ellipse cx="568.2" cy="330" rx="13.7" ry="11.8" fill="url(#gB)"/>
<ellipse cx="594.8" cy="329.8" rx="13.6" ry="11.7" fill="url(#gB)"/>
<ellipse cx="622.1" cy="329.5" rx="13.3" ry="11.4" fill="url(#gB)"/>
<ellipse cx="649.2" cy="329.8" rx="13.4" ry="11.5" fill="url(#gB)"/>
<ellipse cx="37.1" cy="359.7" rx="11.2" ry="10.1" fill="url(#gD)" opacity="0.85"/>
<ellipse cx="62.3" cy="359.8" rx="11.2" ry="10.1" fill="url(#gD)" opacity="0.82"/>
<ellipse cx="87.7" cy="359.9" rx="11.1" ry="10" fill="url(#gD)" opacity="0.93"/>
<ellipse cx="113.9" cy="360.1" rx="11.6" ry="10.5" fill="url(#gD)" opacity="1.00"/>
<ellipse cx="139.1" cy="359.1" rx="11.6" ry="10.4" fill="url(#gD)" opacity="0.91"/>
<ellipse cx="164.7" cy="359.5" rx="12.5" ry="11.2" fill="url(#gD)" opacity="0.85"/>
<ellipse cx="191.2" cy="359.7" rx="11.5" ry="10.3" fill="url(#gD)" opacity="0.87"/>
<ellipse cx="216.2" cy="359.8" rx="11" ry="9.9" fill="url(#gD)" opacity="0.93"/>
<ellipse cx="242.2" cy="359.6" rx="11.4" ry="10.3" fill="url(#gD)" opacity="0.95"/>
<ellipse cx="268.6" cy="360.5" rx="11.3" ry="10.2" fill="url(#gD)" opacity="0.98"/>
<ellipse cx="295" cy="359.3" rx="11.2" ry="10.1" fill="url(#gD)" opacity="1.00"/>
<ellipse cx="320.8" cy="360.5" rx="11.7" ry="10.5" fill="url(#gD)" opacity="0.92"/>
<ellipse cx="347.4" cy="360.7" rx="12" ry="10.8" fill="url(#gD)" opacity="0.80"/>
<ellipse cx="374.1" cy="359.5" rx="11.7" ry="10.5" fill="url(#gD)" opacity="1.00"/>
<ellipse cx="398.7" cy="359.9" rx="12.3" ry="11.1" fill="url(#gD)" opacity="0.88"/>
<ellipse cx="427.2" cy="360" rx="12.3" ry="11.1" fill="url(#gD)" opacity="0.83"/>
<ellipse cx="452.7" cy="360.2" rx="11.5" ry="10.4" fill="url(#gD)" opacity="0.86"/>
<ellipse cx="478.2" cy="360" rx="12.5" ry="11.2" fill="url(#gD)" opacity="0.78"/>
<ellipse cx="505.9" cy="359.4" rx="11.9" ry="10.7" fill="url(#gD)" opacity="0.78"/>
<ellipse cx="532.2" cy="359.4" rx="11.2" ry="10.1" fill="url(#gD)" opacity="0.81"/>
<ellipse cx="558.9" cy="359.5" rx="12.2" ry="10.9" fill="url(#gD)" opacity="0.88"/>
<ellipse cx="586.4" cy="359.3" rx="12.2" ry="11" fill="url(#gD)" opacity="0.86"/>
<ellipse cx="613.4" cy="359.8" rx="12.1" ry="10.9" fill="url(#gD)" opacity="0.92"/>
<ellipse cx="639.6" cy="359.3" rx="11.1" ry="10" fill="url(#gD)" opacity="0.98"/>
<ellipse cx="666.4" cy="359.9" rx="11.2" ry="10.1" fill="url(#gD)" opacity="0.85"/>
<ellipse cx="53.2" cy="390.2" rx="13.4" ry="11.5" fill="url(#gB)"/>
<ellipse cx="78.4" cy="389.8" rx="13.7" ry="11.8" fill="url(#gB)"/>
<ellipse cx="104.5" cy="389.4" rx="13.2" ry="11.4" fill="url(#gB)"/>
<ellipse cx="129.9" cy="389.2" rx="13.8" ry="11.9" fill="url(#gB)"/>
<ellipse cx="156.3" cy="388.9" rx="13.5" ry="11.6" fill="url(#gB)"/>
<ellipse cx="181.7" cy="390.2" rx="13.9" ry="11.9" fill="url(#gB)"/>
<ellipse cx="207.9" cy="389.5" rx="13.2" ry="11.4" fill="url(#gB)"/>
<ellipse cx="233.8" cy="389.6" rx="12.9" ry="11.1" fill="url(#gB)"/>
<ellipse cx="259.2" cy="389.7" rx="12.7" ry="11" fill="url(#gB)"/>
<ellipse cx="285.3" cy="389.8" rx="13.4" ry="11.5" fill="url(#gB)"/>
<ellipse cx="311.1" cy="390.3" rx="13" ry="11.2" fill="url(#gB)"/>
<ellipse cx="337.6" cy="389.6" rx="12.8" ry="11" fill="url(#gB)"/>
<ellipse cx="363.3" cy="389.8" rx="13.7" ry="11.8" fill="url(#gB)"/>
<ellipse cx="390.4" cy="390" rx="13.7" ry="11.8" fill="url(#gB)"/>
<ellipse cx="416.7" cy="390.5" rx="13" ry="11.2" fill="url(#gB)"/>
<ellipse cx="443.8" cy="389.5" rx="13.8" ry="11.9" fill="url(#gB)"/>
<ellipse cx="469.7" cy="389.3" rx="13.5" ry="11.6" fill="url(#gB)"/>
<ellipse cx="496.4" cy="390.1" rx="13.6" ry="11.7" fill="url(#gB)"/>
<ellipse cx="523.7" cy="390.2" rx="13.2" ry="11.3" fill="url(#gB)"/>
<ellipse cx="550.3" cy="389.6" rx="13" ry="11.2" fill="url(#gB)"/>
<ellipse cx="577" cy="390.5" rx="13.7" ry="11.8" fill="url(#gB)"/>
<ellipse cx="603.4" cy="389.6" rx="13.4" ry="11.5" fill="url(#gB)"/>
<ellipse cx="630.6" cy="390.4" rx="13" ry="11.2" fill="url(#gB)"/>
<ellipse cx="658" cy="389.9" rx="13.8" ry="11.8" fill="url(#gB)"/>
<ellipse cx="45" cy="419.6" rx="11.3" ry="10.2" fill="url(#gD)" opacity="0.97"/>
<ellipse cx="70.3" cy="419.8" rx="11.2" ry="10.1" fill="url(#gD)" opacity="0.88"/>
<ellipse cx="95.4" cy="418.9" rx="12.2" ry="11" fill="url(#gD)" opacity="1.00"/>
<ellipse cx="120.6" cy="419.5" rx="11.3" ry="10.2" fill="url(#gD)" opacity="0.81"/>
<ellipse cx="147.3" cy="420" rx="11.7" ry="10.5" fill="url(#gD)" opacity="1.00"/>
<ellipse cx="172.3" cy="419.3" rx="11.9" ry="10.7" fill="url(#gD)" opacity="0.93"/>
<ellipse cx="199" cy="420.3" rx="11.6" ry="10.4" fill="url(#gD)" opacity="0.95"/>
<ellipse cx="224.1" cy="419.3" rx="12" ry="10.8" fill="url(#gD)" opacity="0.95"/>
<ellipse cx="249.8" cy="419.5" rx="11.5" ry="10.3" fill="url(#gD)" opacity="1.00"/>
<ellipse cx="276.5" cy="419.3" rx="11.3" ry="10.2" fill="url(#gD)" opacity="0.86"/>
<ellipse cx="302.7" cy="419" rx="11.8" ry="10.6" fill="url(#gD)" opacity="1.00"/>
<ellipse cx="328.8" cy="420.3" rx="11.3" ry="10.2" fill="url(#gD)" opacity="0.86"/>
<ellipse cx="354.9" cy="419" rx="11.2" ry="10.1" fill="url(#gD)" opacity="1.00"/>
<ellipse cx="380.7" cy="419.4" rx="11.2" ry="10.1" fill="url(#gD)" opacity="0.94"/>
<ellipse cx="407.2" cy="419.8" rx="11.6" ry="10.4" fill="url(#gD)" opacity="0.94"/>
<ellipse cx="434.5" cy="419.9" rx="11.5" ry="10.3" fill="url(#gD)" opacity="0.89"/>
<ellipse cx="460.6" cy="419.3" rx="12.4" ry="11.1" fill="url(#gD)" opacity="0.94"/>
<ellipse cx="486.8" cy="419.6" rx="12.3" ry="11" fill="url(#gD)" opacity="0.97"/>
<ellipse cx="514.6" cy="420.3" rx="11.2" ry="10.1" fill="url(#gD)" opacity="1.00"/>
<ellipse cx="541.6" cy="419.8" rx="11.3" ry="10.1" fill="url(#gD)" opacity="0.96"/>
<ellipse cx="567.6" cy="419.1" rx="11" ry="9.9" fill="url(#gD)" opacity="0.83"/>
<ellipse cx="593.9" cy="418.8" rx="12.3" ry="11.1" fill="url(#gD)" opacity="0.80"/>
<ellipse cx="620.8" cy="419.5" rx="11.6" ry="10.4" fill="url(#gD)" opacity="0.87"/>
<ellipse cx="648.1" cy="418.9" rx="11.5" ry="10.4" fill="url(#gD)" opacity="0.87"/>
<ellipse cx="35.4" cy="450" rx="13.1" ry="11.3" fill="url(#gB)"/>
<ellipse cx="60.2" cy="450.1" rx="13" ry="11.2" fill="url(#gB)"/>
<ellipse cx="86.8" cy="450" rx="13.1" ry="11.3" fill="url(#gB)"/>
<ellipse cx="112.9" cy="449.8" rx="13.1" ry="11.2" fill="url(#gB)"/>
<ellipse cx="138.7" cy="448.4" rx="13.3" ry="11.5" fill="url(#gB)"/>
<ellipse cx="163.7" cy="450.2" rx="13.7" ry="11.8" fill="url(#gB)"/>
<ellipse cx="189.2" cy="449.6" rx="13.4" ry="11.5" fill="url(#gB)"/>
<ellipse cx="215.5" cy="450.2" rx="13.3" ry="11.4" fill="url(#gB)"/>
<ellipse cx="240.6" cy="449.1" rx="13.2" ry="11.4" fill="url(#gB)"/>
<ellipse cx="266.5" cy="449.2" rx="13.1" ry="11.3" fill="url(#gB)"/>
<ellipse cx="293.2" cy="449.6" rx="13.1" ry="11.2" fill="url(#gB)"/>
<ellipse cx="320.2" cy="449.5" rx="13.3" ry="11.4" fill="url(#gB)"/>
<ellipse cx="346.4" cy="449.7" rx="13.8" ry="11.8" fill="url(#gB)"/>
<ellipse cx="372.6" cy="450.3" rx="13.5" ry="11.6" fill="url(#gB)"/>
<ellipse cx="398.4" cy="449.5" rx="12.9" ry="11.1" fill="url(#gB)"/>
<ellipse cx="425.1" cy="449.2" rx="13.5" ry="11.6" fill="url(#gB)"/>
<ellipse cx="452.3" cy="448.4" rx="12.9" ry="11.1" fill="url(#gB)"/>
<ellipse cx="478" cy="448.9" rx="13.4" ry="11.5" fill="url(#gB)"/>
<ellipse cx="505.1" cy="449.6" rx="12.8" ry="11" fill="url(#gB)"/>
<ellipse cx="531.1" cy="450.5" rx="13.8" ry="11.8" fill="url(#gB)"/>
<ellipse cx="558.7" cy="449.9" rx="13.8" ry="11.9" fill="url(#gB)"/>
<ellipse cx="584.9" cy="449.8" rx="13.4" ry="11.6" fill="url(#gB)"/>
<ellipse cx="612.4" cy="450" rx="13.9" ry="12" fill="url(#gB)"/>
<ellipse cx="639" cy="449.6" rx="13.7" ry="11.8" fill="url(#gB)"/>
<ellipse cx="666.5" cy="449" rx="12.9" ry="11.1" fill="url(#gB)"/>
<ellipse cx="52.5" cy="479.7" rx="11.8" ry="10.6" fill="url(#gD)" opacity="1.00"/>
<ellipse cx="79" cy="479.8" rx="11.1" ry="10" fill="url(#gD)" opacity="0.98"/>
<ellipse cx="103.4" cy="479.3" rx="12.5" ry="11.2" fill="url(#gD)" opacity="0.99"/>
<ellipse cx="129.8" cy="480" rx="12.5" ry="11.2" fill="url(#gD)" opacity="0.88"/>
<ellipse cx="155.8" cy="479.4" rx="12.3" ry="11" fill="url(#gD)" opacity="0.89"/>
<ellipse cx="180.5" cy="479.8" rx="12" ry="10.8" fill="url(#gD)" opacity="0.86"/>
<ellipse cx="207.5" cy="479.8" rx="11.2" ry="10.1" fill="url(#gD)" opacity="1.00"/>
<ellipse cx="233" cy="479.3" rx="12.4" ry="11.2" fill="url(#gD)" opacity="1.00"/>
<ellipse cx="258.9" cy="479.6" rx="12.4" ry="11.2" fill="url(#gD)" opacity="1.00"/>
<ellipse cx="284.5" cy="479.3" rx="11.8" ry="10.7" fill="url(#gD)" opacity="0.92"/>
<ellipse cx="310.4" cy="479" rx="11" ry="9.9" fill="url(#gD)" opacity="0.90"/>
<ellipse cx="337" cy="480.3" rx="12.4" ry="11.2" fill="url(#gD)" opacity="0.85"/>
<ellipse cx="362.5" cy="479.8" rx="12.2" ry="11" fill="url(#gD)" opacity="0.85"/>
<ellipse cx="389.5" cy="479.1" rx="12.4" ry="11.2" fill="url(#gD)" opacity="0.89"/>
<ellipse cx="416.3" cy="479.1" rx="11.8" ry="10.6" fill="url(#gD)" opacity="0.88"/>
<ellipse cx="443.8" cy="478.7" rx="11.9" ry="10.7" fill="url(#gD)" opacity="0.93"/>
<ellipse cx="468.7" cy="479.9" rx="12" ry="10.8" fill="url(#gD)" opacity="1.00"/>
<ellipse cx="497" cy="480.6" rx="11.9" ry="10.7" fill="url(#gD)" opacity="0.96"/>
<ellipse cx="523.3" cy="478.7" rx="11.8" ry="10.6" fill="url(#gD)" opacity="0.89"/>
<ellipse cx="549" cy="479.8" rx="12.2" ry="11" fill="url(#gD)" opacity="1.00"/>
<ellipse cx="576.3" cy="479.6" rx="11.2" ry="10.1" fill="url(#gD)" opacity="0.85"/>
<ellipse cx="602.3" cy="479.4" rx="12" ry="10.8" fill="url(#gD)" opacity="0.94"/>
<ellipse cx="629.6" cy="479.4" rx="11.1" ry="10" fill="url(#gD)" opacity="1.00"/>
<ellipse cx="656.5" cy="480" rx="12" ry="10.8" fill="url(#gD)" opacity="0.86"/>
<ellipse cx="44.1" cy="509.4" rx="13.8" ry="11.9" fill="url(#gB)"/>
<ellipse cx="70.6" cy="508.6" rx="13.5" ry="11.6" fill="url(#gB)"/>
<ellipse cx="96.1" cy="509.2" rx="13.7" ry="11.8" fill="url(#gB)"/>
<ellipse cx="121.5" cy="508.6" rx="13.3" ry="11.4" fill="url(#gB)"/>
<ellipse cx="147.4" cy="509.5" rx="14" ry="12.1" fill="url(#gB)"/>
<ellipse cx="173.5" cy="509.6" rx="13.3" ry="11.4" fill="url(#gB)"/>
<ellipse cx="198.7" cy="509.8" rx="13.9" ry="11.9" fill="url(#gB)"/>
<ellipse cx="224.9" cy="510.2" rx="13.1" ry="11.3" fill="url(#gB)"/>
<ellipse cx="251.6" cy="510" rx="13.7" ry="11.8" fill="url(#gB)"/>
<ellipse cx="277.4" cy="509.4" rx="13.2" ry="11.3" fill="url(#gB)"/>
<ellipse cx="303" cy="509.1" rx="13.4" ry="11.5" fill="url(#gB)"/>
<ellipse cx="328.9" cy="509.1" rx="13.3" ry="11.4" fill="url(#gB)"/>
<ellipse cx="354.3" cy="509" rx="13.9" ry="12" fill="url(#gB)"/>
<ellipse cx="381.6" cy="509.6" rx="13.3" ry="11.4" fill="url(#gB)"/>
<ellipse cx="407.3" cy="510.1" rx="13.9" ry="12" fill="url(#gB)"/>
<ellipse cx="434.2" cy="509.1" rx="12.9" ry="11.1" fill="url(#gB)"/>
<ellipse cx="461.2" cy="509.6" rx="13.6" ry="11.7" fill="url(#gB)"/>
<ellipse cx="487.7" cy="509.6" rx="13.7" ry="11.8" fill="url(#gB)"/>
<ellipse cx="514.1" cy="508.9" rx="13.6" ry="11.7" fill="url(#gB)"/>
<ellipse cx="540.8" cy="509.7" rx="13.4" ry="11.5" fill="url(#gB)"/>
<ellipse cx="567.4" cy="508.8" rx="13.6" ry="11.7" fill="url(#gB)"/>
<ellipse cx="594.6" cy="509.3" rx="13.2" ry="11.4" fill="url(#gB)"/>
<ellipse cx="622" cy="509.4" rx="13.1" ry="11.2" fill="url(#gB)"/>
<ellipse cx="649.3" cy="509.5" rx="13.7" ry="11.8" fill="url(#gB)"/>
<ellipse cx="52.7" cy="539.3" rx="11.4" ry="10.3" fill="url(#gD)" opacity="0.94"/>
<ellipse cx="77.4" cy="538.9" rx="11.9" ry="10.7" fill="url(#gD)" opacity="0.90"/>
<ellipse cx="102.5" cy="540.1" rx="11.6" ry="10.4" fill="url(#gD)" opacity="1.00"/>
<ellipse cx="128" cy="538.1" rx="12.1" ry="10.9" fill="url(#gD)" opacity="0.99"/>
<ellipse cx="154.4" cy="538.5" rx="12.5" ry="11.2" fill="url(#gD)" opacity="0.89"/>
<ellipse cx="180" cy="539.8" rx="12.4" ry="11.2" fill="url(#gD)" opacity="0.92"/>
<ellipse cx="205" cy="539.3" rx="12.4" ry="11.2" fill="url(#gD)" opacity="0.96"/>
<ellipse cx="231.5" cy="539.5" rx="11.4" ry="10.3" fill="url(#gD)" opacity="1.00"/>
<ellipse cx="258" cy="538.3" rx="11.1" ry="10" fill="url(#gD)" opacity="1.00"/>
<ellipse cx="284.3" cy="539.5" rx="11.3" ry="10.2" fill="url(#gD)" opacity="0.85"/>
<ellipse cx="308.9" cy="539.2" rx="11.2" ry="10.1" fill="url(#gD)" opacity="0.92"/>
<ellipse cx="335.8" cy="538.3" rx="11.7" ry="10.5" fill="url(#gD)" opacity="0.95"/>
<ellipse cx="362.8" cy="538.9" rx="11.4" ry="10.3" fill="url(#gD)" opacity="1.00"/>
<ellipse cx="389.5" cy="539.3" rx="11.9" ry="10.7" fill="url(#gD)" opacity="0.94"/>
<ellipse cx="414.7" cy="539.5" rx="11.7" ry="10.5" fill="url(#gD)" opacity="0.93"/>
<ellipse cx="442.1" cy="539.7" rx="12.2" ry="11" fill="url(#gD)" opacity="1.00"/>
<ellipse cx="467.5" cy="539.5" rx="11.9" ry="10.7" fill="url(#gD)" opacity="0.85"/>
<ellipse cx="495.4" cy="540" rx="11.5" ry="10.3" fill="url(#gD)" opacity="0.91"/>
<ellipse cx="521.5" cy="539.7" rx="11" ry="9.9" fill="url(#gD)" opacity="1.00"/>
<ellipse cx="547.2" cy="538.6" rx="11.4" ry="10.2" fill="url(#gD)" opacity="0.89"/>
<ellipse cx="575.5" cy="539.4" rx="11.6" ry="10.4" fill="url(#gD)" opacity="1.00"/>
<ellipse cx="602" cy="538.8" rx="11.8" ry="10.6" fill="url(#gD)" opacity="0.89"/>
<ellipse cx="628.7" cy="539.3" rx="11.5" ry="10.4" fill="url(#gD)" opacity="1.00"/>
<ellipse cx="655.7" cy="538.7" rx="12.3" ry="11.1" fill="url(#gD)" opacity="0.99"/>
<ellipse cx="35.4" cy="568.5" rx="13.2" ry="11.4" fill="url(#gB)"/>
<ellipse cx="61.4" cy="568.4" rx="13.3" ry="11.5" fill="url(#gB)"/>
<ellipse cx="86.8" cy="568.3" rx="13.1" ry="11.3" fill="url(#gB)"/>
<ellipse cx="112.3" cy="568.7" rx="13.9" ry="11.9" fill="url(#gB)"/>
<ellipse cx="137.1" cy="569.3" rx="14" ry="12.1" fill="url(#gB)"/>
<ellipse cx="164.3" cy="568.4" rx="13.7" ry="11.8" fill="url(#gB)"/>
<ellipse cx="189.7" cy="569.6" rx="13.3" ry="11.4" fill="url(#gB)"/>
<ellipse cx="215.4" cy="568.2" rx="13.1" ry="11.2" fill="url(#gB)"/>
<ellipse cx="240.8" cy="569.2" rx="13.3" ry="11.4" fill="url(#gB)"/>
<ellipse cx="267.6" cy="569.3" rx="13.7" ry="11.7" fill="url(#gB)"/>
<ellipse cx="293.7" cy="569.7" rx="13.4" ry="11.6" fill="url(#gB)"/>
<ellipse cx="319.1" cy="569.9" rx="13.3" ry="11.4" fill="url(#gB)"/>
<ellipse cx="346.3" cy="569.1" rx="13.7" ry="11.8" fill="url(#gB)"/>
<ellipse cx="373.2" cy="569.5" rx="13.1" ry="11.3" fill="url(#gB)"/>
<ellipse cx="398.1" cy="570.4" rx="13" ry="11.2" fill="url(#gB)"/>
<ellipse cx="424.1" cy="569.1" rx="13.1" ry="11.2" fill="url(#gB)"/>
<ellipse cx="452.2" cy="569.2" rx="14.1" ry="12.1" fill="url(#gB)"/>
<ellipse cx="478.4" cy="569" rx="13.9" ry="12" fill="url(#gB)"/>
<ellipse cx="505.7" cy="568.6" rx="13.4" ry="11.5" fill="url(#gB)"/>
<ellipse cx="530.4" cy="569.2" rx="13.6" ry="11.7" fill="url(#gB)"/>
<ellipse cx="558.1" cy="567.8" rx="13.4" ry="11.5" fill="url(#gB)"/>
<ellipse cx="585.2" cy="568.9" rx="13.7" ry="11.8" fill="url(#gB)"/>
<ellipse cx="612.9" cy="568.8" rx="13.3" ry="11.4" fill="url(#gB)"/>
<ellipse cx="639.6" cy="567.7" rx="14" ry="12" fill="url(#gB)"/>
<ellipse cx="665.3" cy="569.1" rx="13.2" ry="11.3" fill="url(#gB)"/>
<ellipse cx="43.2" cy="600" rx="11.9" ry="10.7" fill="url(#gD)" opacity="1.00"/>
<ellipse cx="68.6" cy="599.5" rx="12.4" ry="11.2" fill="url(#gD)" opacity="1.00"/>
<ellipse cx="94.4" cy="599.4" rx="12" ry="10.8" fill="url(#gD)" opacity="1.00"/>
<ellipse cx="120.5" cy="600.7" rx="11.9" ry="10.7" fill="url(#gD)" opacity="1.00"/>
<ellipse cx="145.8" cy="599.6" rx="11.7" ry="10.5" fill="url(#gD)" opacity="1.00"/>
<ellipse cx="171.1" cy="599.3" rx="12.4" ry="11.1" fill="url(#gD)" opacity="1.00"/>
<ellipse cx="197.7" cy="599.6" rx="12.3" ry="11" fill="url(#gD)" opacity="1.00"/>
<ellipse cx="222.2" cy="599.9" rx="11.8" ry="10.6" fill="url(#gD)" opacity="1.00"/>
<ellipse cx="249" cy="600" rx="11.7" ry="10.6" fill="url(#gD)" opacity="1.00"/>
<ellipse cx="274.4" cy="599.4" rx="11.4" ry="10.3" fill="url(#gD)" opacity="0.99"/>
<ellipse cx="301.6" cy="599.3" rx="12" ry="10.8" fill="url(#gD)" opacity="1.00"/>
<ellipse cx="327.2" cy="600.5" rx="11.3" ry="10.1" fill="url(#gD)" opacity="0.93"/>
<ellipse cx="353.7" cy="600.1" rx="11.2" ry="10" fill="url(#gD)" opacity="1.00"/>
<ellipse cx="380.2" cy="600" rx="12.3" ry="11" fill="url(#gD)" opacity="1.00"/>
<ellipse cx="407.3" cy="599.6" rx="11.1" ry="10" fill="url(#gD)" opacity="1.00"/>
<ellipse cx="432" cy="599.7" rx="11.4" ry="10.2" fill="url(#gD)" opacity="1.00"/>
<ellipse cx="458.9" cy="599.1" rx="11.6" ry="10.4" fill="url(#gD)" opacity="1.00"/>
<ellipse cx="486.2" cy="599.3" rx="11.1" ry="10" fill="url(#gD)" opacity="1.00"/>
<ellipse cx="511.4" cy="599.7" rx="11.5" ry="10.4" fill="url(#gD)" opacity="1.00"/>
<ellipse cx="539.2" cy="599.5" rx="11.6" ry="10.5" fill="url(#gD)" opacity="0.91"/>
<ellipse cx="565.1" cy="599.8" rx="11.1" ry="10" fill="url(#gD)" opacity="0.91"/>
<ellipse cx="593.6" cy="599.1" rx="12.2" ry="11" fill="url(#gD)" opacity="1.00"/>
<ellipse cx="620" cy="599.4" rx="12.4" ry="11.1" fill="url(#gD)" opacity="0.89"/>
<ellipse cx="646.5" cy="599.8" rx="12.4" ry="11.2" fill="url(#gD)" opacity="0.98"/>
<ellipse cx="52.3" cy="628.2" rx="13.3" ry="11.4" fill="url(#gB)"/>
<ellipse cx="76.8" cy="628" rx="14.2" ry="12.2" fill="url(#gB)"/>
<ellipse cx="102.5" cy="628.4" rx="14" ry="12.1" fill="url(#gB)"/>
<ellipse cx="128.9" cy="628.6" rx="14.1" ry="12.1" fill="url(#gB)"/>
<ellipse cx="154" cy="628.3" rx="14" ry="12" fill="url(#gB)"/>
<ellipse cx="179.8" cy="628.7" rx="13.2" ry="11.4" fill="url(#gB)"/>
<ellipse cx="205.9" cy="628.4" rx="13.8" ry="11.8" fill="url(#gB)"/>
<ellipse cx="231.8" cy="628.6" rx="13.7" ry="11.7" fill="url(#gB)"/>
<ellipse cx="257.4" cy="628.7" rx="14.2" ry="12.2" fill="url(#gB)"/>
<ellipse cx="283.6" cy="628.8" rx="13.5" ry="11.6" fill="url(#gB)"/>
<ellipse cx="308.8" cy="628.6" rx="13.4" ry="11.5" fill="url(#gB)"/>
<ellipse cx="336.4" cy="628.6" rx="13.6" ry="11.7" fill="url(#gB)"/>
<ellipse cx="362.7" cy="628.7" rx="13.8" ry="11.8" fill="url(#gB)"/>
<ellipse cx="388.6" cy="629.1" rx="13.8" ry="11.9" fill="url(#gB)"/>
<ellipse cx="415.6" cy="627.6" rx="14" ry="12" fill="url(#gB)"/>
<ellipse cx="442.5" cy="628.4" rx="14" ry="12" fill="url(#gB)"/>
<ellipse cx="467.9" cy="628.8" rx="13.1" ry="11.3" fill="url(#gB)"/>
<ellipse cx="495.2" cy="627.5" rx="13.5" ry="11.6" fill="url(#gB)"/>
<ellipse cx="521.1" cy="628" rx="13.2" ry="11.4" fill="url(#gB)"/>
<ellipse cx="548.5" cy="628.6" rx="13.7" ry="11.7" fill="url(#gB)"/>
<ellipse cx="575.3" cy="628.5" rx="13.1" ry="11.3" fill="url(#gB)"/>
<ellipse cx="602" cy="628.7" rx="14" ry="12" fill="url(#gB)"/>
<ellipse cx="628.9" cy="628" rx="14.1" ry="12.2" fill="url(#gB)"/>
<ellipse cx="656.6" cy="627.2" rx="13.5" ry="11.6" fill="url(#gB)"/>
<ellipse cx="43.9" cy="659.2" rx="12.4" ry="11.2" fill="url(#gD)" opacity="1.00"/>
<ellipse cx="69.3" cy="659.2" rx="11.7" ry="10.5" fill="url(#gD)" opacity="0.90"/>
<ellipse cx="96.1" cy="659.6" rx="12.1" ry="10.9" fill="url(#gD)" opacity="1.00"/>
<ellipse cx="119.9" cy="659.1" rx="11.1" ry="10" fill="url(#gD)" opacity="1.00"/>
<ellipse cx="145.8" cy="659.5" rx="11.1" ry="10" fill="url(#gD)" opacity="0.93"/>
<ellipse cx="171.2" cy="657.8" rx="12.2" ry="11" fill="url(#gD)" opacity="0.96"/>
<ellipse cx="198.7" cy="659.5" rx="11.6" ry="10.5" fill="url(#gD)" opacity="0.93"/>
<ellipse cx="222.9" cy="658.9" rx="11.5" ry="10.3" fill="url(#gD)" opacity="1.00"/>
<ellipse cx="249.6" cy="659.1" rx="12.4" ry="11.2" fill="url(#gD)" opacity="0.97"/>
<ellipse cx="276.4" cy="659.1" rx="12.3" ry="11.1" fill="url(#gD)" opacity="0.98"/>
<ellipse cx="300.7" cy="659.4" rx="11.3" ry="10.2" fill="url(#gD)" opacity="0.91"/>
<ellipse cx="327.3" cy="658.6" rx="12.1" ry="10.9" fill="url(#gD)" opacity="1.00"/>
<ellipse cx="353.5" cy="659.5" rx="11.3" ry="10.2" fill="url(#gD)" opacity="1.00"/>
<ellipse cx="380.7" cy="658.6" rx="11.6" ry="10.4" fill="url(#gD)" opacity="0.97"/>
<ellipse cx="406.2" cy="659.3" rx="12.1" ry="10.9" fill="url(#gD)" opacity="1.00"/>
<ellipse cx="433.2" cy="658.6" rx="11.9" ry="10.7" fill="url(#gD)" opacity="0.92"/>
<ellipse cx="458.6" cy="657.9" rx="12.1" ry="10.9" fill="url(#gD)" opacity="0.95"/>
<ellipse cx="486.3" cy="659" rx="11" ry="9.9" fill="url(#gD)" opacity="1.00"/>
<ellipse cx="512.7" cy="657.9" rx="11.4" ry="10.3" fill="url(#gD)" opacity="1.00"/>
<ellipse cx="540" cy="659" rx="12.3" ry="11.1" fill="url(#gD)" opacity="1.00"/>
<ellipse cx="566.4" cy="659.2" rx="12.2" ry="11" fill="url(#gD)" opacity="1.00"/>
<ellipse cx="593.5" cy="658.7" rx="11.9" ry="10.7" fill="url(#gD)" opacity="0.95"/>
<ellipse cx="621" cy="659.5" rx="12" ry="10.8" fill="url(#gD)" opacity="0.90"/>
<ellipse cx="647.2" cy="659.3" rx="12.2" ry="11" fill="url(#gD)" opacity="0.94"/>
<ellipse cx="36" cy="689.8" rx="13.6" ry="11.7" fill="url(#gB)"/>
<ellipse cx="60.4" cy="690.3" rx="13.2" ry="11.3" fill="url(#gB)"/>
<ellipse cx="86.2" cy="689.3" rx="13.5" ry="11.6" fill="url(#gB)"/>
<ellipse cx="111.8" cy="690" rx="14" ry="12" fill="url(#gB)"/>
<ellipse cx="136.6" cy="689.7" rx="14.2" ry="12.2" fill="url(#gB)"/>
<ellipse cx="163.3" cy="689.3" rx="13.1" ry="11.3" fill="url(#gB)"/>
<ellipse cx="188.4" cy="689.6" rx="13.6" ry="11.7" fill="url(#gB)"/>
<ellipse cx="215.9" cy="690.7" rx="13.5" ry="11.6" fill="url(#gB)"/>
<ellipse cx="240.4" cy="689.9" rx="13.3" ry="11.5" fill="url(#gB)"/>
<ellipse cx="266" cy="689.5" rx="13.9" ry="12" fill="url(#gB)"/>
<ellipse cx="292.5" cy="689.1" rx="13.4" ry="11.5" fill="url(#gB)"/>
<ellipse cx="317.8" cy="690.1" rx="13.7" ry="11.7" fill="url(#gB)"/>
<ellipse cx="346" cy="688.9" rx="13.4" ry="11.6" fill="url(#gB)"/>
<ellipse cx="370.7" cy="689" rx="13.3" ry="11.4" fill="url(#gB)"/>
<ellipse cx="397.9" cy="689.5" rx="14.2" ry="12.2" fill="url(#gB)"/>
<ellipse cx="423.8" cy="689.5" rx="14.1" ry="12.1" fill="url(#gB)"/>
<ellipse cx="450.5" cy="690" rx="14.3" ry="12.3" fill="url(#gB)"/>
<ellipse cx="478.2" cy="688.4" rx="13.5" ry="11.6" fill="url(#gB)"/>
<ellipse cx="503.9" cy="690" rx="13.7" ry="11.8" fill="url(#gB)"/>
<ellipse cx="531.2" cy="689.2" rx="13.2" ry="11.4" fill="url(#gB)"/>
<ellipse cx="557" cy="689.5" rx="13.4" ry="11.5" fill="url(#gB)"/>
<ellipse cx="584.1" cy="689.1" rx="14.3" ry="12.3" fill="url(#gB)"/>
<ellipse cx="610.9" cy="689.3" rx="13.8" ry="11.8" fill="url(#gB)"/>
<ellipse cx="637.7" cy="689.3" rx="14.2" ry="12.2" fill="url(#gB)"/>
<ellipse cx="665.8" cy="688.5" rx="13.3" ry="11.4" fill="url(#gB)"/>
<ellipse cx="51.8" cy="720.5" rx="11.3" ry="10.2" fill="url(#gD)" opacity="1.00"/>
<ellipse cx="76.8" cy="719.4" rx="12.2" ry="11" fill="url(#gD)" opacity="1.00"/>
<ellipse cx="102.6" cy="719.6" rx="11.6" ry="10.4" fill="url(#gD)" opacity="1.00"/>
<ellipse cx="128.6" cy="718.7" rx="11.3" ry="10.2" fill="url(#gD)" opacity="0.95"/>
<ellipse cx="154.1" cy="718.9" rx="11.9" ry="10.7" fill="url(#gD)" opacity="1.00"/>
<ellipse cx="180.3" cy="719.5" rx="11.5" ry="10.4" fill="url(#gD)" opacity="1.00"/>
<ellipse cx="205.2" cy="719.7" rx="11.7" ry="10.5" fill="url(#gD)" opacity="0.98"/>
<ellipse cx="231.3" cy="718.5" rx="12.2" ry="11" fill="url(#gD)" opacity="1.00"/>
<ellipse cx="258" cy="719.6" rx="12.3" ry="11.1" fill="url(#gD)" opacity="1.00"/>
<ellipse cx="283.4" cy="720" rx="11.2" ry="10.1" fill="url(#gD)" opacity="1.00"/>
<ellipse cx="309.3" cy="719.9" rx="11.9" ry="10.7" fill="url(#gD)" opacity="1.00"/>
<ellipse cx="336.7" cy="719.3" rx="11.4" ry="10.2" fill="url(#gD)" opacity="0.93"/>
<ellipse cx="362.4" cy="718.7" rx="12.4" ry="11.1" fill="url(#gD)" opacity="0.95"/>
<ellipse cx="389" cy="719.7" rx="11.9" ry="10.7" fill="url(#gD)" opacity="1.00"/>
<ellipse cx="415" cy="719" rx="11.2" ry="10.1" fill="url(#gD)" opacity="1.00"/>
<ellipse cx="442.4" cy="719.5" rx="11.4" ry="10.3" fill="url(#gD)" opacity="1.00"/>
<ellipse cx="468.5" cy="719.2" rx="11.3" ry="10.2" fill="url(#gD)" opacity="1.00"/>
<ellipse cx="495.2" cy="720.3" rx="11.2" ry="10" fill="url(#gD)" opacity="1.00"/>
<ellipse cx="521.7" cy="718.5" rx="11.3" ry="10.1" fill="url(#gD)" opacity="1.00"/>
<ellipse cx="547.9" cy="719.5" rx="11.4" ry="10.3" fill="url(#gD)" opacity="1.00"/>
<ellipse cx="575.9" cy="720.1" rx="12.4" ry="11.2" fill="url(#gD)" opacity="1.00"/>
<ellipse cx="602.6" cy="719.2" rx="11.1" ry="10" fill="url(#gD)" opacity="0.94"/>
<ellipse cx="628.8" cy="718.6" rx="11.1" ry="10" fill="url(#gD)" opacity="1.00"/>
<ellipse cx="656" cy="719.2" rx="11.1" ry="10" fill="url(#gD)" opacity="1.00"/>
<ellipse cx="42.9" cy="749.1" rx="13.6" ry="11.7" fill="url(#gB)"/>
<ellipse cx="68.3" cy="748.7" rx="13.4" ry="11.5" fill="url(#gB)"/>
<ellipse cx="93.2" cy="748.6" rx="13.7" ry="11.8" fill="url(#gB)"/>
<ellipse cx="118.3" cy="748.7" rx="14.3" ry="12.3" fill="url(#gB)"/>
<ellipse cx="143.7" cy="748.7" rx="14.1" ry="12.2" fill="url(#gB)"/>
<ellipse cx="170.5" cy="749.5" rx="14.4" ry="12.3" fill="url(#gB)"/>
<ellipse cx="196" cy="748.6" rx="14.2" ry="12.2" fill="url(#gB)"/>
<ellipse cx="221.6" cy="749.4" rx="13.7" ry="11.8" fill="url(#gB)"/>
<ellipse cx="248.3" cy="749.5" rx="13.3" ry="11.4" fill="url(#gB)"/>
<ellipse cx="274.9" cy="749.9" rx="13.5" ry="11.6" fill="url(#gB)"/>
<ellipse cx="299.2" cy="748.9" rx="13.4" ry="11.5" fill="url(#gB)"/>
<ellipse cx="326.4" cy="748.2" rx="13.8" ry="11.9" fill="url(#gB)"/>
<ellipse cx="351.4" cy="749.3" rx="13.7" ry="11.8" fill="url(#gB)"/>
<ellipse cx="378.6" cy="749.3" rx="14" ry="12" fill="url(#gB)"/>
<ellipse cx="404.8" cy="749.7" rx="13.8" ry="11.8" fill="url(#gB)"/>
<ellipse cx="431.8" cy="749.5" rx="14.1" ry="12.1" fill="url(#gB)"/>
<ellipse cx="458.5" cy="750" rx="13.4" ry="11.5" fill="url(#gB)"/>
<ellipse cx="484" cy="749.8" rx="14" ry="12" fill="url(#gB)"/>
<ellipse cx="511.6" cy="748.6" rx="13.3" ry="11.5" fill="url(#gB)"/>
<ellipse cx="538" cy="749.3" rx="13.2" ry="11.4" fill="url(#gB)"/>
<ellipse cx="564.6" cy="749.6" rx="13.7" ry="11.8" fill="url(#gB)"/>
<ellipse cx="591.6" cy="748.9" rx="13.7" ry="11.8" fill="url(#gB)"/>
<ellipse cx="618.8" cy="748.2" rx="13.5" ry="11.6" fill="url(#gB)"/>
<ellipse cx="645.6" cy="749.1" rx="13.8" ry="11.9" fill="url(#gB)"/>
<ellipse cx="51.2" cy="780.4" rx="12.2" ry="11.2" fill="url(#gE)" opacity="0.86"/>
<ellipse cx="76.2" cy="779.8" rx="11.9" ry="11" fill="url(#gE)" opacity="0.87"/>
<ellipse cx="101.9" cy="779.4" rx="12.3" ry="11.3" fill="url(#gE)" opacity="0.89"/>
<ellipse cx="127.1" cy="780" rx="11.7" ry="10.8" fill="url(#gE)" opacity="0.98"/>
<ellipse cx="153.6" cy="779.7" rx="11.6" ry="10.7" fill="url(#gE)" opacity="0.90"/>
<ellipse cx="178.8" cy="780.3" rx="12.3" ry="11.3" fill="url(#gE)" opacity="0.90"/>
<ellipse cx="204.6" cy="779.9" rx="11.7" ry="10.7" fill="url(#gE)" opacity="0.92"/>
<ellipse cx="230.9" cy="780.7" rx="11.7" ry="10.7" fill="url(#gE)" opacity="0.90"/>
<ellipse cx="257.4" cy="780" rx="12.2" ry="11.2" fill="url(#gE)" opacity="0.97"/>
<ellipse cx="282.7" cy="779.6" rx="12.4" ry="11.4" fill="url(#gE)" opacity="0.87"/>
<ellipse cx="309.1" cy="780.6" rx="12.4" ry="11.4" fill="url(#gE)" opacity="0.93"/>
<ellipse cx="334.9" cy="779.8" rx="11.7" ry="10.8" fill="url(#gE)" opacity="0.98"/>
<ellipse cx="361.5" cy="780.4" rx="12.1" ry="11.1" fill="url(#gE)" opacity="0.92"/>
<ellipse cx="387.7" cy="779.5" rx="11.8" ry="10.8" fill="url(#gE)" opacity="0.99"/>
<ellipse cx="414.6" cy="779" rx="12.1" ry="11.2" fill="url(#gE)" opacity="0.96"/>
<ellipse cx="441.5" cy="779.8" rx="12.1" ry="11.2" fill="url(#gE)" opacity="0.89"/>
<ellipse cx="468.2" cy="780.3" rx="12.4" ry="11.4" fill="url(#gE)" opacity="0.85"/>
<ellipse cx="493.9" cy="779.4" rx="11.8" ry="10.9" fill="url(#gE)" opacity="0.90"/>
<ellipse cx="520.2" cy="779.7" rx="11.7" ry="10.8" fill="url(#gE)" opacity="0.96"/>
<ellipse cx="546.5" cy="780.2" rx="11.9" ry="11" fill="url(#gE)" opacity="0.90"/>
<ellipse cx="574.4" cy="779.2" rx="11.9" ry="11" fill="url(#gE)" opacity="0.93"/>
<ellipse cx="601.4" cy="779.9" rx="12" ry="11" fill="url(#gE)" opacity="0.93"/>
<ellipse cx="628" cy="780.1" rx="11.6" ry="10.7" fill="url(#gE)" opacity="0.88"/>
<ellipse cx="655.3" cy="780.6" rx="11.7" ry="10.7" fill="url(#gE)" opacity="0.99"/>
<ellipse cx="33.8" cy="810.5" rx="14" ry="12" fill="url(#gB)"/>
<ellipse cx="59" cy="809.6" rx="13.3" ry="11.4" fill="url(#gB)"/>
<ellipse cx="84.5" cy="809.6" rx="13.6" ry="11.7" fill="url(#gB)"/>
<ellipse cx="111.5" cy="809" rx="13.5" ry="11.6" fill="url(#gB)"/>
<ellipse cx="135.5" cy="810.4" rx="14" ry="12" fill="url(#gB)"/>
<ellipse cx="161.6" cy="809.6" rx="13.9" ry="12" fill="url(#gB)"/>
<ellipse cx="188" cy="809.3" rx="13.7" ry="11.8" fill="url(#gB)"/>
<ellipse cx="213.4" cy="808.7" rx="13.8" ry="11.8" fill="url(#gB)"/>
<ellipse cx="240.5" cy="810.1" rx="14.5" ry="12.4" fill="url(#gB)"/>
<ellipse cx="265.6" cy="809.8" rx="14.5" ry="12.5" fill="url(#gB)"/>
<ellipse cx="291.8" cy="810" rx="13.5" ry="11.6" fill="url(#gB)"/>
<ellipse cx="318.3" cy="809.8" rx="13.8" ry="11.9" fill="url(#gB)"/>
<ellipse cx="343.4" cy="809.3" rx="14" ry="12.1" fill="url(#gB)"/>
<ellipse cx="370.9" cy="809.1" rx="14.2" ry="12.2" fill="url(#gB)"/>
<ellipse cx="396.5" cy="809.8" rx="13.6" ry="11.7" fill="url(#gB)"/>
<ellipse cx="422.3" cy="809.2" rx="13.4" ry="11.5" fill="url(#gB)"/>
<ellipse cx="449.9" cy="809.6" rx="14.1" ry="12.1" fill="url(#gB)"/>
<ellipse cx="477.5" cy="810.2" rx="14.5" ry="12.4" fill="url(#gB)"/>
<ellipse cx="502.2" cy="810.2" rx="13.3" ry="11.5" fill="url(#gB)"/>
<ellipse cx="530.3" cy="809.8" rx="13.8" ry="11.9" fill="url(#gB)"/>
<ellipse cx="556.2" cy="809" rx="13.6" ry="11.7" fill="url(#gB)"/>
<ellipse cx="583.3" cy="809.6" rx="14.4" ry="12.4" fill="url(#gB)"/>
<ellipse cx="610.6" cy="809.8" rx="14" ry="12.1" fill="url(#gB)"/>
<ellipse cx="636.6" cy="810.2" rx="14.2" ry="12.2" fill="url(#gB)"/>
<ellipse cx="664.6" cy="810" rx="13.9" ry="12" fill="url(#gB)"/>
<ellipse cx="42.6" cy="837.9" rx="12.4" ry="11.4" fill="url(#gE)" opacity="0.97"/>
<ellipse cx="67.4" cy="837.9" rx="12" ry="11" fill="url(#gE)" opacity="0.90"/>
<ellipse cx="91.9" cy="839.8" rx="12.1" ry="11.1" fill="url(#gE)" opacity="0.88"/>
<ellipse cx="118.5" cy="838.4" rx="11.7" ry="10.8" fill="url(#gE)" opacity="0.91"/>
<ellipse cx="144.1" cy="838.3" rx="12.3" ry="11.3" fill="url(#gE)" opacity="0.94"/>
<ellipse cx="170.2" cy="838.1" rx="12.5" ry="11.5" fill="url(#gE)" opacity="0.95"/>
<ellipse cx="196.1" cy="839.2" rx="12.2" ry="11.2" fill="url(#gE)" opacity="0.99"/>
<ellipse cx="221.4" cy="838.7" rx="12.3" ry="11.3" fill="url(#gE)" opacity="0.86"/>
<ellipse cx="247.8" cy="838.9" rx="12.4" ry="11.4" fill="url(#gE)" opacity="0.96"/>
<ellipse cx="273.9" cy="839.3" rx="12.1" ry="11.1" fill="url(#gE)" opacity="0.92"/>
<ellipse cx="299.8" cy="838.6" rx="11.6" ry="10.7" fill="url(#gE)" opacity="0.86"/>
<ellipse cx="325.9" cy="838.2" rx="12.1" ry="11.1" fill="url(#gE)" opacity="0.86"/>
<ellipse cx="350.9" cy="838.9" rx="12.3" ry="11.3" fill="url(#gE)" opacity="0.96"/>
<ellipse cx="378.3" cy="839.1" rx="11.6" ry="10.7" fill="url(#gE)" opacity="0.97"/>
<ellipse cx="404.7" cy="838.2" rx="12" ry="11" fill="url(#gE)" opacity="0.87"/>
<ellipse cx="431.9" cy="838.7" rx="11.8" ry="10.9" fill="url(#gE)" opacity="0.98"/>
<ellipse cx="456.6" cy="838.7" rx="12" ry="11.1" fill="url(#gE)" opacity="0.88"/>
<ellipse cx="484.1" cy="838.7" rx="11.6" ry="10.7" fill="url(#gE)" opacity="0.98"/>
<ellipse cx="511.4" cy="838.9" rx="12.2" ry="11.2" fill="url(#gE)" opacity="0.96"/>
<ellipse cx="536.8" cy="839" rx="12.3" ry="11.3" fill="url(#gE)" opacity="0.88"/>
<ellipse cx="564.7" cy="838.4" rx="11.6" ry="10.7" fill="url(#gE)" opacity="0.91"/>
<ellipse cx="592.8" cy="838.5" rx="11.9" ry="10.9" fill="url(#gE)" opacity="0.92"/>
<ellipse cx="619" cy="839.4" rx="12.4" ry="11.4" fill="url(#gE)" opacity="0.89"/>
<ellipse cx="645.5" cy="838.2" rx="12.4" ry="11.4" fill="url(#gE)" opacity="0.99"/>
<ellipse cx="48.5" cy="869.7" rx="14" ry="12.1" fill="url(#gB)"/>
<ellipse cx="74" cy="869.8" rx="13.8" ry="11.8" fill="url(#gB)"/>
<ellipse cx="99.3" cy="869.4" rx="13.7" ry="11.8" fill="url(#gB)"/>
<ellipse cx="125.8" cy="869.8" rx="13.7" ry="11.8" fill="url(#gB)"/>
<ellipse cx="150.8" cy="869.2" rx="13.9" ry="12" fill="url(#gB)"/>
<ellipse cx="176.3" cy="869" rx="14.6" ry="12.5" fill="url(#gB)"/>
<ellipse cx="202" cy="869.8" rx="13.8" ry="11.9" fill="url(#gB)"/>
<ellipse cx="228.4" cy="869.6" rx="13.6" ry="11.7" fill="url(#gB)"/>
<ellipse cx="254.1" cy="868.9" rx="13.8" ry="11.8" fill="url(#gB)"/>
<ellipse cx="279.6" cy="869" rx="13.6" ry="11.7" fill="url(#gB)"/>
<ellipse cx="306" cy="870.3" rx="14" ry="12" fill="url(#gB)"/>
<ellipse cx="332.8" cy="869.4" rx="14.2" ry="12.2" fill="url(#gB)"/>
<ellipse cx="358.5" cy="869.3" rx="14.5" ry="12.5" fill="url(#gB)"/>
<ellipse cx="384.5" cy="869.2" rx="13.7" ry="11.8" fill="url(#gB)"/>
<ellipse cx="412.2" cy="869.3" rx="14" ry="12" fill="url(#gB)"/>
<ellipse cx="437.3" cy="869.2" rx="13.9" ry="11.9" fill="url(#gB)"/>
<ellipse cx="464" cy="869.3" rx="14.4" ry="12.4" fill="url(#gB)"/>
<ellipse cx="491.5" cy="868.9" rx="13.4" ry="11.6" fill="url(#gB)"/>
<ellipse cx="518" cy="870.1" rx="14.1" ry="12.2" fill="url(#gB)"/>
<ellipse cx="545.1" cy="870.6" rx="14.2" ry="12.2" fill="url(#gB)"/>
<ellipse cx="571.3" cy="868.9" rx="13.9" ry="12" fill="url(#gB)"/>
<ellipse cx="598.6" cy="869.2" rx="13.8" ry="11.9" fill="url(#gB)"/>
<ellipse cx="624.3" cy="869.8" rx="13.4" ry="11.5" fill="url(#gB)"/>
<ellipse cx="652.4" cy="869.3" rx="14.3" ry="12.3" fill="url(#gB)"/>
<ellipse cx="40.1" cy="899.5" rx="12.1" ry="11.2" fill="url(#gE)" opacity="0.94"/>
<ellipse cx="65.7" cy="899.4" rx="12.3" ry="11.3" fill="url(#gE)" opacity="0.94"/>
<ellipse cx="90.7" cy="899.6" rx="12.2" ry="11.2" fill="url(#gE)" opacity="0.95"/>
<ellipse cx="117" cy="897.9" rx="12.2" ry="11.2" fill="url(#gE)" opacity="0.97"/>
<ellipse cx="143.2" cy="899" rx="11.8" ry="10.8" fill="url(#gE)" opacity="0.94"/>
<ellipse cx="168.3" cy="899.6" rx="12.5" ry="11.5" fill="url(#gE)" opacity="0.98"/>
<ellipse cx="194.1" cy="900" rx="12.3" ry="11.4" fill="url(#gE)" opacity="0.87"/>
<ellipse cx="220.2" cy="899.6" rx="11.5" ry="10.6" fill="url(#gE)" opacity="0.87"/>
<ellipse cx="245.9" cy="899.5" rx="11.9" ry="10.9" fill="url(#gE)" opacity="0.88"/>
<ellipse cx="271.5" cy="898.5" rx="11.8" ry="10.8" fill="url(#gE)" opacity="0.93"/>
<ellipse cx="297.6" cy="898.6" rx="12" ry="11.1" fill="url(#gE)" opacity="0.85"/>
<ellipse cx="324.5" cy="898.6" rx="12.2" ry="11.3" fill="url(#gE)" opacity="0.92"/>
<ellipse cx="349.8" cy="899.5" rx="12.3" ry="11.3" fill="url(#gE)" opacity="0.95"/>
<ellipse cx="375.8" cy="899.6" rx="12.4" ry="11.4" fill="url(#gE)" opacity="0.88"/>
<ellipse cx="402.4" cy="899.2" rx="12.2" ry="11.2" fill="url(#gE)" opacity="0.87"/>
<ellipse cx="430.5" cy="898.9" rx="12.3" ry="11.4" fill="url(#gE)" opacity="0.91"/>
<ellipse cx="455.4" cy="899.8" rx="11.6" ry="10.7" fill="url(#gE)" opacity="0.90"/>
<ellipse cx="482.2" cy="898.2" rx="12.1" ry="11.1" fill="url(#gE)" opacity="0.94"/>
<ellipse cx="509.6" cy="899" rx="11.6" ry="10.7" fill="url(#gE)" opacity="0.86"/>
<ellipse cx="536.7" cy="899.8" rx="11.7" ry="10.8" fill="url(#gE)" opacity="1.00"/>
<ellipse cx="562.6" cy="899.2" rx="12.2" ry="11.2" fill="url(#gE)" opacity="0.93"/>
<ellipse cx="589.5" cy="898.8" rx="12.1" ry="11.1" fill="url(#gE)" opacity="0.98"/>
<ellipse cx="616" cy="898.3" rx="11.9" ry="10.9" fill="url(#gE)" opacity="1.00"/>
<ellipse cx="643.1" cy="898.8" rx="12.4" ry="11.4" fill="url(#gE)" opacity="0.87"/>
<ellipse cx="31.6" cy="929.1" rx="14.4" ry="12.4" fill="url(#gB)"/>
<ellipse cx="57.1" cy="929" rx="13.8" ry="11.9" fill="url(#gB)"/>
<ellipse cx="83.3" cy="928.9" rx="14.2" ry="12.2" fill="url(#gB)"/>
<ellipse cx="107.2" cy="928.8" rx="14.3" ry="12.3" fill="url(#gB)"/>
<ellipse cx="133" cy="928.9" rx="13.9" ry="11.9" fill="url(#gB)"/>
<ellipse cx="160.1" cy="928.5" rx="14.1" ry="12.2" fill="url(#gB)"/>
<ellipse cx="184.7" cy="928.9" rx="13.5" ry="11.6" fill="url(#gB)"/>
<ellipse cx="211.9" cy="928.6" rx="13.7" ry="11.8" fill="url(#gB)"/>
<ellipse cx="237.2" cy="929.4" rx="13.9" ry="12" fill="url(#gB)"/>
<ellipse cx="262.6" cy="929.5" rx="14.5" ry="12.4" fill="url(#gB)"/>
<ellipse cx="289.1" cy="929.2" rx="14.5" ry="12.5" fill="url(#gB)"/>
<ellipse cx="315.2" cy="928.9" rx="14" ry="12" fill="url(#gB)"/>
<ellipse cx="342.2" cy="929.1" rx="13.9" ry="11.9" fill="url(#gB)"/>
<ellipse cx="368.1" cy="929" rx="14" ry="12.1" fill="url(#gB)"/>
<ellipse cx="394.6" cy="929.6" rx="14.5" ry="12.4" fill="url(#gB)"/>
<ellipse cx="420.8" cy="928" rx="13.7" ry="11.7" fill="url(#gB)"/>
<ellipse cx="447.5" cy="928.7" rx="14.6" ry="12.5" fill="url(#gB)"/>
<ellipse cx="474.1" cy="928.6" rx="14" ry="12.1" fill="url(#gB)"/>
<ellipse cx="499.7" cy="929.7" rx="13.8" ry="11.9" fill="url(#gB)"/>
<ellipse cx="526.9" cy="928.3" rx="13.5" ry="11.6" fill="url(#gB)"/>
<ellipse cx="553.5" cy="929.3" rx="14.2" ry="12.2" fill="url(#gB)"/>
<ellipse cx="579.4" cy="929" rx="14.5" ry="12.5" fill="url(#gB)"/>
<ellipse cx="607.7" cy="929.3" rx="13.5" ry="11.6" fill="url(#gB)"/>
<ellipse cx="635.5" cy="928.7" rx="13.5" ry="11.6" fill="url(#gB)"/>
<ellipse cx="662" cy="929.3" rx="14.5" ry="12.5" fill="url(#gB)"/>
<ellipse cx="48.2" cy="959.9" rx="12.2" ry="11.2" fill="url(#gE)" opacity="0.92"/>
<ellipse cx="73.4" cy="959.5" rx="12.1" ry="11.2" fill="url(#gE)" opacity="0.91"/>
<ellipse cx="99.6" cy="959.5" rx="11.7" ry="10.8" fill="url(#gE)" opacity="0.90"/>
<ellipse cx="125.6" cy="959.3" rx="12.4" ry="11.4" fill="url(#gE)" opacity="0.95"/>
<ellipse cx="150.8" cy="960.2" rx="12.5" ry="11.5" fill="url(#gE)" opacity="0.94"/>
<ellipse cx="175.8" cy="960.5" rx="12.3" ry="11.3" fill="url(#gE)" opacity="0.95"/>
<ellipse cx="201.9" cy="959.4" rx="12.3" ry="11.3" fill="url(#gE)" opacity="0.86"/>
<ellipse cx="227.4" cy="959.3" rx="12.4" ry="11.4" fill="url(#gE)" opacity="0.99"/>
<ellipse cx="253.4" cy="958.8" rx="12.5" ry="11.5" fill="url(#gE)" opacity="0.94"/>
<ellipse cx="280.1" cy="960.2" rx="12.2" ry="11.2" fill="url(#gE)" opacity="0.98"/>
<ellipse cx="305.6" cy="959.6" rx="12.3" ry="11.3" fill="url(#gE)" opacity="1.00"/>
<ellipse cx="333.1" cy="960.6" rx="12" ry="11" fill="url(#gE)" opacity="0.91"/>
<ellipse cx="359" cy="959.1" rx="12.1" ry="11.1" fill="url(#gE)" opacity="0.95"/>
<ellipse cx="384.5" cy="960.2" rx="12.1" ry="11.1" fill="url(#gE)" opacity="0.93"/>
<ellipse cx="412" cy="960.5" rx="12.3" ry="11.4" fill="url(#gE)" opacity="0.89"/>
<ellipse cx="438.5" cy="959.5" rx="11.5" ry="10.6" fill="url(#gE)" opacity="0.97"/>
<ellipse cx="464.8" cy="960" rx="11.9" ry="10.9" fill="url(#gE)" opacity="0.90"/>
<ellipse cx="491" cy="959.9" rx="11.6" ry="10.6" fill="url(#gE)" opacity="0.99"/>
<ellipse cx="518.2" cy="960" rx="12.4" ry="11.4" fill="url(#gE)" opacity="0.98"/>
<ellipse cx="544.1" cy="960" rx="12.2" ry="11.2" fill="url(#gE)" opacity="0.89"/>
<ellipse cx="571.5" cy="959.7" rx="11.8" ry="10.9" fill="url(#gE)" opacity="0.92"/>
<ellipse cx="598.6" cy="959.9" rx="12.1" ry="11.1" fill="url(#gE)" opacity="0.87"/>
<ellipse cx="624.7" cy="958.9" rx="12.4" ry="11.4" fill="url(#gE)" opacity="0.88"/>
<ellipse cx="652.1" cy="960.5" rx="12.1" ry="11.1" fill="url(#gE)" opacity="0.91"/>
<ellipse cx="39.1" cy="988.8" rx="13.8" ry="11.8" fill="url(#gB)"/>
<ellipse cx="63.9" cy="988.6" rx="14.6" ry="12.5" fill="url(#gB)"/>
<ellipse cx="89.9" cy="987.9" rx="14.1" ry="12.1" fill="url(#gB)"/>
<ellipse cx="115.4" cy="988.1" rx="13.9" ry="11.9" fill="url(#gB)"/>
<ellipse cx="141.2" cy="988.9" rx="13.6" ry="11.7" fill="url(#gB)"/>
<ellipse cx="167" cy="988.5" rx="14.5" ry="12.4" fill="url(#gB)"/>
<ellipse cx="192.8" cy="989" rx="13.5" ry="11.6" fill="url(#gB)"/>
<ellipse cx="218.8" cy="990.1" rx="13.9" ry="12" fill="url(#gB)"/>
<ellipse cx="244.4" cy="989.6" rx="14.3" ry="12.3" fill="url(#gB)"/>
<ellipse cx="270.8" cy="988.5" rx="13.8" ry="11.9" fill="url(#gB)"/>
<ellipse cx="296.6" cy="988.6" rx="13.6" ry="11.7" fill="url(#gB)"/>
<ellipse cx="322.9" cy="989.2" rx="14.3" ry="12.3" fill="url(#gB)"/>
<ellipse cx="349.4" cy="988.3" rx="14.4" ry="12.4" fill="url(#gB)"/>
<ellipse cx="376.2" cy="989.4" rx="14.3" ry="12.3" fill="url(#gB)"/>
<ellipse cx="402.5" cy="988.1" rx="14.4" ry="12.4" fill="url(#gB)"/>
<ellipse cx="428.7" cy="989.5" rx="13.4" ry="11.6" fill="url(#gB)"/>
<ellipse cx="455.3" cy="988.8" rx="14.4" ry="12.4" fill="url(#gB)"/>
<ellipse cx="481" cy="989.4" rx="13.4" ry="11.5" fill="url(#gB)"/>
<ellipse cx="507.9" cy="988.7" rx="14.6" ry="12.5" fill="url(#gB)"/>
<ellipse cx="534.9" cy="988.1" rx="13.8" ry="11.9" fill="url(#gB)"/>
<ellipse cx="561.2" cy="987.8" rx="13.8" ry="11.9" fill="url(#gB)"/>
<ellipse cx="589.4" cy="988.9" rx="14.5" ry="12.5" fill="url(#gB)"/>
<ellipse cx="615.9" cy="988.9" rx="13.8" ry="11.8" fill="url(#gB)"/>
<ellipse cx="642.9" cy="988.9" rx="13.8" ry="11.9" fill="url(#gB)"/>
<ellipse cx="31.3" cy="1019.5" rx="12.1" ry="11.1" fill="url(#gE)" opacity="0.93"/>
<ellipse cx="56.8" cy="1020.1" rx="12.2" ry="11.2" fill="url(#gE)" opacity="1.00"/>
<ellipse cx="81" cy="1019.2" rx="12.1" ry="11.1" fill="url(#gE)" opacity="0.98"/>
<ellipse cx="107.5" cy="1019.8" rx="11.9" ry="11" fill="url(#gE)" opacity="0.89"/>
<ellipse cx="132.9" cy="1019.2" rx="12" ry="11" fill="url(#gE)" opacity="1.00"/>
<ellipse cx="159.6" cy="1020.2" rx="12" ry="11" fill="url(#gE)" opacity="0.85"/>
<ellipse cx="184.9" cy="1018.8" rx="12.2" ry="11.2" fill="url(#gE)" opacity="0.99"/>
<ellipse cx="211.3" cy="1019.3" rx="12.3" ry="11.3" fill="url(#gE)" opacity="0.96"/>
<ellipse cx="236.6" cy="1020" rx="11.6" ry="10.7" fill="url(#gE)" opacity="0.99"/>
<ellipse cx="261.7" cy="1019.7" rx="12.1" ry="11.1" fill="url(#gE)" opacity="0.87"/>
<ellipse cx="288.3" cy="1019.3" rx="12.2" ry="11.3" fill="url(#gE)" opacity="0.93"/>
<ellipse cx="314.2" cy="1019" rx="11.6" ry="10.7" fill="url(#gE)" opacity="0.88"/>
<ellipse cx="340.7" cy="1019.1" rx="12.3" ry="11.3" fill="url(#gE)" opacity="0.93"/>
<ellipse cx="366.4" cy="1019.6" rx="12.4" ry="11.4" fill="url(#gE)" opacity="0.94"/>
<ellipse cx="393.3" cy="1018.9" rx="12" ry="11" fill="url(#gE)" opacity="0.98"/>
<ellipse cx="419.5" cy="1019.5" rx="12.1" ry="11.2" fill="url(#gE)" opacity="0.86"/>
<ellipse cx="446.8" cy="1019.4" rx="11.7" ry="10.8" fill="url(#gE)" opacity="0.95"/>
<ellipse cx="472.3" cy="1019.3" rx="12.4" ry="11.4" fill="url(#gE)" opacity="0.96"/>
<ellipse cx="498.9" cy="1019.1" rx="11.9" ry="10.9" fill="url(#gE)" opacity="0.96"/>
<ellipse cx="526.1" cy="1019.8" rx="11.5" ry="10.6" fill="url(#gE)" opacity="0.85"/>
<ellipse cx="553.2" cy="1019.1" rx="11.7" ry="10.7" fill="url(#gE)" opacity="0.94"/>
<ellipse cx="580.3" cy="1020" rx="11.5" ry="10.6" fill="url(#gE)" opacity="0.88"/>
<ellipse cx="606.2" cy="1019" rx="11.9" ry="10.9" fill="url(#gE)" opacity="0.97"/>
<ellipse cx="633.5" cy="1019.2" rx="12" ry="11" fill="url(#gE)" opacity="0.97"/>
<ellipse cx="660.5" cy="1019.5" rx="12" ry="11.1" fill="url(#gE)" opacity="0.95"/>
<ellipse cx="45.5" cy="1049" rx="14" ry="12.1" fill="url(#gB)" opacity="0.95"/>
<ellipse cx="71" cy="1048.1" rx="14.5" ry="12.5" fill="url(#gB)" opacity="0.95"/>
<ellipse cx="97.2" cy="1049" rx="13.8" ry="11.8" fill="url(#gB)" opacity="0.95"/>
<ellipse cx="122.4" cy="1048.2" rx="14.2" ry="12.2" fill="url(#gB)" opacity="0.95"/>
<ellipse cx="147.8" cy="1048.4" rx="13.8" ry="11.9" fill="url(#gB)" opacity="0.95"/>
<ellipse cx="174.4" cy="1048.5" rx="13.9" ry="12" fill="url(#gB)" opacity="0.95"/>
<ellipse cx="199.9" cy="1047.8" rx="14" ry="12" fill="url(#gB)" opacity="0.95"/>
<ellipse cx="226.1" cy="1047.7" rx="13.5" ry="11.6" fill="url(#gB)" opacity="0.95"/>
<ellipse cx="251.4" cy="1048.7" rx="14.3" ry="12.3" fill="url(#gB)" opacity="0.95"/>
<ellipse cx="277.4" cy="1048.9" rx="13.6" ry="11.7" fill="url(#gB)" opacity="0.95"/>
<ellipse cx="303.8" cy="1048.8" rx="13.5" ry="11.6" fill="url(#gB)" opacity="0.95"/>
<ellipse cx="330.4" cy="1048.6" rx="14" ry="12" fill="url(#gB)" opacity="0.95"/>
<ellipse cx="356.5" cy="1049.7" rx="14" ry="12" fill="url(#gB)" opacity="0.95"/>
<ellipse cx="382.5" cy="1048.4" rx="14.4" ry="12.4" fill="url(#gB)" opacity="0.95"/>
<ellipse cx="408.7" cy="1047.6" rx="14.5" ry="12.5" fill="url(#gB)" opacity="0.95"/>
<ellipse cx="435.6" cy="1047.8" rx="14.1" ry="12.1" fill="url(#gB)" opacity="0.95"/>
<ellipse cx="461.8" cy="1048.6" rx="14.2" ry="12.2" fill="url(#gB)" opacity="0.95"/>
<ellipse cx="488" cy="1048.1" rx="14.1" ry="12.1" fill="url(#gB)" opacity="0.95"/>
<ellipse cx="514.8" cy="1048.7" rx="14.3" ry="12.3" fill="url(#gB)" opacity="0.95"/>
<ellipse cx="541.8" cy="1048.6" rx="14.1" ry="12.1" fill="url(#gB)" opacity="0.95"/>
<ellipse cx="568.2" cy="1049.1" rx="13.9" ry="12" fill="url(#gB)" opacity="0.95"/>
<ellipse cx="595.1" cy="1047.3" rx="14.1" ry="12.1" fill="url(#gB)" opacity="0.95"/>
<ellipse cx="622.1" cy="1048.3" rx="14.4" ry="12.4" fill="url(#gB)" opacity="0.95"/>
<ellipse cx="649.5" cy="1048.7" rx="13.7" ry="11.8" fill="url(#gB)" opacity="0.95"/>
<ellipse cx="39.2" cy="1076.8" rx="11.5" ry="9.5" fill="url(#gE)" opacity="0.61"/>
<ellipse cx="64.5" cy="1077.5" rx="11.5" ry="9.5" fill="url(#gE)" opacity="0.66"/>
<ellipse cx="92" cy="1077.5" rx="11.5" ry="9.5" fill="url(#gE)" opacity="0.79"/>
<ellipse cx="115.2" cy="1078.1" rx="11.5" ry="9.5" fill="url(#gE)" opacity="0.61"/>
<ellipse cx="141" cy="1077.6" rx="11.5" ry="9.5" fill="url(#gE)" opacity="0.78"/>
<ellipse cx="168" cy="1077.5" rx="11.5" ry="9.5" fill="url(#gE)" opacity="0.66"/>
<ellipse cx="192.8" cy="1076.7" rx="11.5" ry="9.5" fill="url(#gE)" opacity="0.78"/>
<ellipse cx="218.4" cy="1077.8" rx="11.5" ry="9.5" fill="url(#gE)" opacity="0.56"/>
<ellipse cx="244.2" cy="1077.5" rx="11.5" ry="9.5" fill="url(#gE)" opacity="0.64"/>
<ellipse cx="271.9" cy="1078.4" rx="11.5" ry="9.5" fill="url(#gE)" opacity="0.68"/>
<ellipse cx="296.6" cy="1077.2" rx="11.5" ry="9.5" fill="url(#gE)" opacity="0.77"/>
<ellipse cx="323.5" cy="1077" rx="11.5" ry="9.5" fill="url(#gE)" opacity="0.58"/>
<ellipse cx="349.2" cy="1077.6" rx="11.5" ry="9.5" fill="url(#gE)" opacity="0.75"/>
<ellipse cx="375.6" cy="1077" rx="11.5" ry="9.5" fill="url(#gE)" opacity="0.60"/>
<ellipse cx="402.6" cy="1078.1" rx="11.5" ry="9.5" fill="url(#gE)" opacity="0.59"/>
<ellipse cx="427.9" cy="1076.3" rx="11.5" ry="9.5" fill="url(#gE)" opacity="0.74"/>
<ellipse cx="455.3" cy="1076.9" rx="11.5" ry="9.5" fill="url(#gE)" opacity="0.63"/>
<ellipse cx="481.8" cy="1077.5" rx="11.5" ry="9.5" fill="url(#gE)" opacity="0.68"/>
<ellipse cx="508.3" cy="1077.2" rx="11.5" ry="9.5" fill="url(#gE)" opacity="0.65"/>
<ellipse cx="535.3" cy="1077.3" rx="11.5" ry="9.5" fill="url(#gE)" opacity="0.68"/>
<ellipse cx="561.8" cy="1077.2" rx="11.5" ry="9.5" fill="url(#gE)" opacity="0.55"/>
<ellipse cx="588.9" cy="1078.1" rx="11.5" ry="9.5" fill="url(#gE)" opacity="0.61"/>
<ellipse cx="616.2" cy="1076.8" rx="11.5" ry="9.5" fill="url(#gE)" opacity="0.57"/>
<ellipse cx="642" cy="1077" rx="11.5" ry="9.5" fill="url(#gE)" opacity="0.74"/>
</g>
<g mask="url(#nzm)" opacity="0.35"><rect x="42" y="46" width="616" height="1345" filter="url(#anz)"/>
<rect x="42" y="46" width="616" height="1345" filter="url(#anzk)"/></g>
</g>
<g id="modelTop">
<defs><radialGradient id="bBlue" cx="0.4" cy="0.35"><stop offset="0" stop-color="#8a96ff"/><stop offset="0.35" stop-color="#1a22b8"/><stop offset="1" stop-color="#0a0f80"/></radialGradient><radialGradient id="bRed" cx="0.4" cy="0.35"><stop offset="0" stop-color="#ffb0a0"/><stop offset="0.4" stop-color="#ee1111"/><stop offset="1" stop-color="#b00000"/></radialGradient><radialGradient id="bPink" cx="0.45" cy="0.45"><stop offset="0" stop-color="#fff"/><stop offset="0.3" stop-color="#f6dcd6"/><stop offset="0.75" stop-color="#dfb0a6"/><stop offset="1" stop-color="#c8948a"/></radialGradient><radialGradient id="bAl" cx="0.45" cy="0.4"><stop offset="0" stop-color="#fff"/><stop offset="0.3" stop-color="#a8cbe2"/><stop offset="1" stop-color="#5f8fb0"/></radialGradient></defs>
<path d="M568.4,239.5L559.2,234.2" stroke="#2a34c8" stroke-width="1.6"/>
<path d="M559.2,234.2L550,228.9" stroke="#f04040" stroke-width="1.6"/>
<path d="M568.4,239.5L573,234.2" stroke="#2a34c8" stroke-width="1.6"/>
<path d="M573,234.2L577.6,228.9" stroke="#f04040" stroke-width="1.6"/>
<path d="M568.4,239.5L563.7,244.9" stroke="#2a34c8" stroke-width="1.6"/>
<path d="M563.7,244.9L559,250.3" stroke="#f04040" stroke-width="1.6"/>
<path d="M568.4,239.5L577.5,244.9" stroke="#2a34c8" stroke-width="1.6"/>
<path d="M577.5,244.9L586.7,250.3" stroke="#f04040" stroke-width="1.6"/>
<path d="M596.1,239.5L586.9,234.2" stroke="#2a34c8" stroke-width="1.6"/>
<path d="M586.9,234.2L577.7,228.9" stroke="#f04040" stroke-width="1.6"/>
<path d="M596.1,239.5L600.7,234.2" stroke="#2a34c8" stroke-width="1.6"/>
<path d="M600.7,234.2L605.3,228.9" stroke="#f04040" stroke-width="1.6"/>
<path d="M596.1,239.5L591.4,244.9" stroke="#2a34c8" stroke-width="1.6"/>
<path d="M591.4,244.9L586.7,250.3" stroke="#f04040" stroke-width="1.6"/>
<path d="M596.1,239.5L605.2,244.9" stroke="#2a34c8" stroke-width="1.6"/>
<path d="M605.2,244.9L614.4,250.3" stroke="#f04040" stroke-width="1.6"/>
<circle cx="550" cy="228.9" r="2.7" fill="url(#bRed)"/>
<circle cx="559" cy="250.3" r="2.7" fill="url(#bRed)"/>
<circle cx="577.6" cy="228.9" r="2.7" fill="url(#bRed)"/>
<circle cx="577.7" cy="228.9" r="2.7" fill="url(#bRed)"/>
<circle cx="586.7" cy="250.3" r="2.7" fill="url(#bRed)"/>
<circle cx="605.3" cy="228.9" r="2.7" fill="url(#bRed)"/>
<circle cx="614.4" cy="250.3" r="2.7" fill="url(#bRed)"/>
<circle cx="568.4" cy="239.5" r="4.9" fill="url(#bBlue)"/>
<circle cx="596.1" cy="239.5" r="4.9" fill="url(#bBlue)"/>
<path d="M550,300L540.8,294.7" stroke="#2a34c8" stroke-width="1.6"/>
<path d="M540.8,294.7L531.6,289.4" stroke="#f04040" stroke-width="1.6"/>
<path d="M550,300L554.6,294.7" stroke="#2a34c8" stroke-width="1.6"/>
<path d="M554.6,294.7L559.2,289.4" stroke="#f04040" stroke-width="1.6"/>
<path d="M550,300L545.3,305.4" stroke="#2a34c8" stroke-width="1.6"/>
<path d="M545.3,305.4L540.6,310.8" stroke="#f04040" stroke-width="1.6"/>
<path d="M550,300L559.1,305.4" stroke="#2a34c8" stroke-width="1.6"/>
<path d="M559.1,305.4L568.3,310.8" stroke="#f04040" stroke-width="1.6"/>
<path d="M577.7,300L568.5,294.7" stroke="#2a34c8" stroke-width="1.6"/>
<path d="M568.5,294.7L559.3,289.4" stroke="#f04040" stroke-width="1.6"/>
<path d="M577.7,300L582.3,294.7" stroke="#2a34c8" stroke-width="1.6"/>
<path d="M582.3,294.7L586.9,289.4" stroke="#f04040" stroke-width="1.6"/>
<path d="M577.7,300L573,305.4" stroke="#2a34c8" stroke-width="1.6"/>
<path d="M573,305.4L568.3,310.8" stroke="#f04040" stroke-width="1.6"/>
<path d="M577.7,300L586.9,305.4" stroke="#2a34c8" stroke-width="1.6"/>
<path d="M586.9,305.4L596,310.8" stroke="#f04040" stroke-width="1.6"/>
<path d="M605.5,300L596.3,294.7" stroke="#2a34c8" stroke-width="1.6"/>
<path d="M596.3,294.7L587.1,289.4" stroke="#f04040" stroke-width="1.6"/>
<path d="M605.5,300L610.1,294.7" stroke="#2a34c8" stroke-width="1.6"/>
<path d="M610.1,294.7L614.7,289.4" stroke="#f04040" stroke-width="1.6"/>
<path d="M605.5,300L600.8,305.4" stroke="#2a34c8" stroke-width="1.6"/>
<path d="M600.8,305.4L596.1,310.8" stroke="#f04040" stroke-width="1.6"/>
<path d="M605.5,300L614.6,305.4" stroke="#2a34c8" stroke-width="1.6"/>
<path d="M614.6,305.4L623.8,310.8" stroke="#f04040" stroke-width="1.6"/>
<circle cx="531.6" cy="289.4" r="2.7" fill="url(#bRed)"/>
<circle cx="540.6" cy="310.8" r="2.7" fill="url(#bRed)"/>
<circle cx="559.2" cy="289.4" r="2.7" fill="url(#bRed)"/>
<circle cx="559.3" cy="289.4" r="2.7" fill="url(#bRed)"/>
<circle cx="568.3" cy="310.8" r="2.7" fill="url(#bRed)"/>
<circle cx="586.9" cy="289.4" r="2.7" fill="url(#bRed)"/>
<circle cx="587.1" cy="289.4" r="2.7" fill="url(#bRed)"/>
<circle cx="596" cy="310.8" r="2.7" fill="url(#bRed)"/>
<circle cx="596.1" cy="310.8" r="2.7" fill="url(#bRed)"/>
<circle cx="614.7" cy="289.4" r="2.7" fill="url(#bRed)"/>
<circle cx="623.8" cy="310.8" r="2.7" fill="url(#bRed)"/>
<circle cx="550" cy="300" r="4.9" fill="url(#bBlue)"/>
<circle cx="577.7" cy="300" r="4.9" fill="url(#bBlue)"/>
<circle cx="605.5" cy="300" r="4.9" fill="url(#bBlue)"/>
<path d="M559.1,360.2L549.9,354.9" stroke="#2a34c8" stroke-width="1.6"/>
<path d="M549.9,354.9L540.7,349.6" stroke="#f04040" stroke-width="1.6"/>
<path d="M559.1,360.2L563.7,354.9" stroke="#2a34c8" stroke-width="1.6"/>
<path d="M563.7,354.9L568.3,349.6" stroke="#f04040" stroke-width="1.6"/>
<path d="M559.1,360.2L554.4,365.6" stroke="#2a34c8" stroke-width="1.6"/>
<path d="M554.4,365.6L549.7,371" stroke="#f04040" stroke-width="1.6"/>
<path d="M559.1,360.2L568.2,365.6" stroke="#2a34c8" stroke-width="1.6"/>
<path d="M568.2,365.6L577.4,371" stroke="#f04040" stroke-width="1.6"/>
<path d="M587,360.2L577.8,354.9" stroke="#2a34c8" stroke-width="1.6"/>
<path d="M577.8,354.9L568.6,349.6" stroke="#f04040" stroke-width="1.6"/>
<path d="M587,360.2L591.6,354.9" stroke="#2a34c8" stroke-width="1.6"/>
<path d="M591.6,354.9L596.2,349.6" stroke="#f04040" stroke-width="1.6"/>
<path d="M587,360.2L582.3,365.6" stroke="#2a34c8" stroke-width="1.6"/>
<path d="M582.3,365.6L577.6,371" stroke="#f04040" stroke-width="1.6"/>
<path d="M587,360.2L596.1,365.6" stroke="#2a34c8" stroke-width="1.6"/>
<path d="M596.1,365.6L605.3,371" stroke="#f04040" stroke-width="1.6"/>
<circle cx="540.7" cy="349.6" r="2.7" fill="url(#bRed)"/>
<circle cx="549.7" cy="371" r="2.7" fill="url(#bRed)"/>
<circle cx="568.3" cy="349.6" r="2.7" fill="url(#bRed)"/>
<circle cx="568.6" cy="349.6" r="2.7" fill="url(#bRed)"/>
<circle cx="577.4" cy="371" r="2.7" fill="url(#bRed)"/>
<circle cx="577.6" cy="371" r="2.7" fill="url(#bRed)"/>
<circle cx="596.2" cy="349.6" r="2.7" fill="url(#bRed)"/>
<circle cx="605.3" cy="371" r="2.7" fill="url(#bRed)"/>
<circle cx="559.1" cy="360.2" r="4.9" fill="url(#bBlue)"/>
<circle cx="587" cy="360.2" r="4.9" fill="url(#bBlue)"/>
<circle cx="559.1" cy="269.8" r="5.7" fill="url(#bPink)"/>
<circle cx="587" cy="269.8" r="5.7" fill="url(#bPink)"/>
<circle cx="568.3" cy="330.2" r="5.7" fill="url(#bPink)"/>
<circle cx="596.1" cy="330.2" r="5.7" fill="url(#bPink)"/>
<circle cx="550" cy="390.6" r="5.7" fill="url(#bPink)"/>
<circle cx="577.7" cy="390.6" r="5.7" fill="url(#bPink)"/>
<circle cx="605.5" cy="390.6" r="5.7" fill="url(#bPink)"/>
</g>
<g id="modelBot">
<path d="M563.5,1152.6L554.5,1146.4" stroke="#8fb6d2" stroke-width="1.5"/>
<path d="M554.5,1146.4L545.6,1140.2" stroke="#e01818" stroke-width="1.5"/>
<path d="M563.5,1152.6L567.4,1146.4" stroke="#8fb6d2" stroke-width="1.5"/>
<path d="M567.4,1146.4L571.2,1140.2" stroke="#e01818" stroke-width="1.5"/>
<path d="M563.5,1152.6L558.5,1158.2" stroke="#8fb6d2" stroke-width="1.5"/>
<path d="M558.5,1158.2L553.5,1163.7" stroke="#e01818" stroke-width="1.5"/>
<path d="M563.5,1152.6L571.8,1158.2" stroke="#8fb6d2" stroke-width="1.5"/>
<path d="M571.8,1158.2L580.1,1163.7" stroke="#e01818" stroke-width="1.5"/>
<path d="M589.1,1152.6L580.2,1146.4" stroke="#8fb6d2" stroke-width="1.5"/>
<path d="M580.2,1146.4L571.2,1140.2" stroke="#e01818" stroke-width="1.5"/>
<path d="M589.1,1152.6L592.9,1146.4" stroke="#8fb6d2" stroke-width="1.5"/>
<path d="M592.9,1146.4L596.7,1140.2" stroke="#e01818" stroke-width="1.5"/>
<path d="M589.1,1152.6L584.6,1158.2" stroke="#8fb6d2" stroke-width="1.5"/>
<path d="M584.6,1158.2L580.1,1163.7" stroke="#e01818" stroke-width="1.5"/>
<path d="M589.1,1152.6L597.7,1158.2" stroke="#8fb6d2" stroke-width="1.5"/>
<path d="M597.7,1158.2L606.3,1163.7" stroke="#e01818" stroke-width="1.5"/>
<path d="M614.6,1152.6L605.7,1146.4" stroke="#8fb6d2" stroke-width="1.5"/>
<path d="M605.7,1146.4L596.7,1140.2" stroke="#e01818" stroke-width="1.5"/>
<path d="M614.6,1152.6L619.1,1146.4" stroke="#8fb6d2" stroke-width="1.5"/>
<path d="M619.1,1146.4L623.6,1140.2" stroke="#e01818" stroke-width="1.5"/>
<path d="M614.6,1152.6L610.5,1158.2" stroke="#8fb6d2" stroke-width="1.5"/>
<path d="M610.5,1158.2L606.3,1163.7" stroke="#e01818" stroke-width="1.5"/>
<path d="M614.6,1152.6L623.5,1158.2" stroke="#8fb6d2" stroke-width="1.5"/>
<path d="M623.5,1158.2L632.5,1163.7" stroke="#e01818" stroke-width="1.5"/>
<path d="M563.5,1175.9L558.5,1169.8" stroke="#8fb6d2" stroke-width="1.5"/>
<path d="M558.5,1169.8L553.5,1163.7" stroke="#e01818" stroke-width="1.5"/>
<path d="M563.5,1175.9L571.8,1169.8" stroke="#8fb6d2" stroke-width="1.5"/>
<path d="M571.8,1169.8L580.1,1163.7" stroke="#e01818" stroke-width="1.5"/>
<path d="M563.5,1175.9L554.5,1181.3" stroke="#8fb6d2" stroke-width="1.5"/>
<path d="M554.5,1181.3L545.6,1186.8" stroke="#e01818" stroke-width="1.5"/>
<path d="M563.5,1175.9L567.4,1181.3" stroke="#8fb6d2" stroke-width="1.5"/>
<path d="M567.4,1181.3L571.2,1186.8" stroke="#e01818" stroke-width="1.5"/>
<path d="M589.1,1175.9L584.6,1169.8" stroke="#8fb6d2" stroke-width="1.5"/>
<path d="M584.6,1169.8L580.1,1163.7" stroke="#e01818" stroke-width="1.5"/>
<path d="M589.1,1175.9L597.7,1169.8" stroke="#8fb6d2" stroke-width="1.5"/>
<path d="M597.7,1169.8L606.3,1163.7" stroke="#e01818" stroke-width="1.5"/>
<path d="M589.1,1175.9L580.2,1181.3" stroke="#8fb6d2" stroke-width="1.5"/>
<path d="M580.2,1181.3L571.2,1186.8" stroke="#e01818" stroke-width="1.5"/>
<path d="M589.1,1175.9L592.9,1181.3" stroke="#8fb6d2" stroke-width="1.5"/>
<path d="M592.9,1181.3L596.7,1186.8" stroke="#e01818" stroke-width="1.5"/>
<path d="M614.6,1175.9L610.5,1169.8" stroke="#8fb6d2" stroke-width="1.5"/>
<path d="M610.5,1169.8L606.3,1163.7" stroke="#e01818" stroke-width="1.5"/>
<path d="M614.6,1175.9L623.5,1169.8" stroke="#8fb6d2" stroke-width="1.5"/>
<path d="M623.5,1169.8L632.5,1163.7" stroke="#e01818" stroke-width="1.5"/>
<path d="M614.6,1175.9L605.7,1181.3" stroke="#8fb6d2" stroke-width="1.5"/>
<path d="M605.7,1181.3L596.7,1186.8" stroke="#e01818" stroke-width="1.5"/>
<path d="M614.6,1175.9L619.1,1181.3" stroke="#8fb6d2" stroke-width="1.5"/>
<path d="M619.1,1181.3L623.6,1186.8" stroke="#e01818" stroke-width="1.5"/>
<path d="M563.5,1197.7L554.5,1192.2" stroke="#8fb6d2" stroke-width="1.5"/>
<path d="M554.5,1192.2L545.6,1186.8" stroke="#e01818" stroke-width="1.5"/>
<path d="M563.5,1197.7L567.4,1192.2" stroke="#8fb6d2" stroke-width="1.5"/>
<path d="M567.4,1192.2L571.2,1186.8" stroke="#e01818" stroke-width="1.5"/>
<path d="M563.5,1197.7L558.5,1204" stroke="#8fb6d2" stroke-width="1.5"/>
<path d="M558.5,1204L553.5,1210.4" stroke="#e01818" stroke-width="1.5"/>
<path d="M563.5,1197.7L571.8,1204" stroke="#8fb6d2" stroke-width="1.5"/>
<path d="M571.8,1204L580.1,1210.4" stroke="#e01818" stroke-width="1.5"/>
<path d="M589.1,1197.7L580.2,1192.2" stroke="#8fb6d2" stroke-width="1.5"/>
<path d="M580.2,1192.2L571.2,1186.8" stroke="#e01818" stroke-width="1.5"/>
<path d="M589.1,1197.7L592.9,1192.2" stroke="#8fb6d2" stroke-width="1.5"/>
<path d="M592.9,1192.2L596.7,1186.8" stroke="#e01818" stroke-width="1.5"/>
<path d="M589.1,1197.7L584.6,1204" stroke="#8fb6d2" stroke-width="1.5"/>
<path d="M584.6,1204L580.1,1210.4" stroke="#e01818" stroke-width="1.5"/>
<path d="M589.1,1197.7L597.7,1204" stroke="#8fb6d2" stroke-width="1.5"/>
<path d="M597.7,1204L606.3,1210.4" stroke="#e01818" stroke-width="1.5"/>
<path d="M614.6,1197.7L605.7,1192.2" stroke="#8fb6d2" stroke-width="1.5"/>
<path d="M605.7,1192.2L596.7,1186.8" stroke="#e01818" stroke-width="1.5"/>
<path d="M614.6,1197.7L619.1,1192.2" stroke="#8fb6d2" stroke-width="1.5"/>
<path d="M619.1,1192.2L623.6,1186.8" stroke="#e01818" stroke-width="1.5"/>
<path d="M614.6,1197.7L610.5,1204" stroke="#8fb6d2" stroke-width="1.5"/>
<path d="M610.5,1204L606.3,1210.4" stroke="#e01818" stroke-width="1.5"/>
<path d="M614.6,1197.7L623.5,1204" stroke="#8fb6d2" stroke-width="1.5"/>
<path d="M623.5,1204L632.5,1210.4" stroke="#e01818" stroke-width="1.5"/>
<path d="M563.5,1222.6L558.5,1216.5" stroke="#8fb6d2" stroke-width="1.5"/>
<path d="M558.5,1216.5L553.5,1210.4" stroke="#e01818" stroke-width="1.5"/>
<path d="M563.5,1222.6L571.8,1216.5" stroke="#8fb6d2" stroke-width="1.5"/>
<path d="M571.8,1216.5L580.1,1210.4" stroke="#e01818" stroke-width="1.5"/>
<path d="M563.5,1222.6L554.5,1228.1" stroke="#8fb6d2" stroke-width="1.5"/>
<path d="M554.5,1228.1L545.6,1233.6" stroke="#e01818" stroke-width="1.5"/>
<path d="M563.5,1222.6L567.4,1228.1" stroke="#8fb6d2" stroke-width="1.5"/>
<path d="M567.4,1228.1L571.2,1233.6" stroke="#e01818" stroke-width="1.5"/>
<path d="M589.1,1222.6L584.6,1216.5" stroke="#8fb6d2" stroke-width="1.5"/>
<path d="M584.6,1216.5L580.1,1210.4" stroke="#e01818" stroke-width="1.5"/>
<path d="M589.1,1222.6L597.7,1216.5" stroke="#8fb6d2" stroke-width="1.5"/>
<path d="M597.7,1216.5L606.3,1210.4" stroke="#e01818" stroke-width="1.5"/>
<path d="M589.1,1222.6L580.2,1228.1" stroke="#8fb6d2" stroke-width="1.5"/>
<path d="M580.2,1228.1L571.2,1233.6" stroke="#e01818" stroke-width="1.5"/>
<path d="M589.1,1222.6L592.9,1228.1" stroke="#8fb6d2" stroke-width="1.5"/>
<path d="M592.9,1228.1L596.7,1233.6" stroke="#e01818" stroke-width="1.5"/>
<path d="M614.6,1222.6L610.5,1216.5" stroke="#8fb6d2" stroke-width="1.5"/>
<path d="M610.5,1216.5L606.3,1210.4" stroke="#e01818" stroke-width="1.5"/>
<path d="M614.6,1222.6L623.5,1216.5" stroke="#8fb6d2" stroke-width="1.5"/>
<path d="M623.5,1216.5L632.5,1210.4" stroke="#e01818" stroke-width="1.5"/>
<path d="M614.6,1222.6L605.7,1228.1" stroke="#8fb6d2" stroke-width="1.5"/>
<path d="M605.7,1228.1L596.7,1233.6" stroke="#e01818" stroke-width="1.5"/>
<path d="M614.6,1222.6L619.1,1228.1" stroke="#8fb6d2" stroke-width="1.5"/>
<path d="M619.1,1228.1L623.6,1233.6" stroke="#e01818" stroke-width="1.5"/>
<path d="M563.5,1246L554.5,1239.8" stroke="#8fb6d2" stroke-width="1.5"/>
<path d="M554.5,1239.8L545.6,1233.6" stroke="#e01818" stroke-width="1.5"/>
<path d="M563.5,1246L567.4,1239.8" stroke="#8fb6d2" stroke-width="1.5"/>
<path d="M567.4,1239.8L571.2,1233.6" stroke="#e01818" stroke-width="1.5"/>
<path d="M563.5,1246L558.5,1251.4" stroke="#8fb6d2" stroke-width="1.5"/>
<path d="M558.5,1251.4L553.5,1256.8" stroke="#e01818" stroke-width="1.5"/>
<path d="M563.5,1246L571.8,1251.4" stroke="#8fb6d2" stroke-width="1.5"/>
<path d="M571.8,1251.4L580.1,1256.8" stroke="#e01818" stroke-width="1.5"/>
<path d="M589.1,1246L580.2,1239.8" stroke="#8fb6d2" stroke-width="1.5"/>
<path d="M580.2,1239.8L571.2,1233.6" stroke="#e01818" stroke-width="1.5"/>
<path d="M589.1,1246L592.9,1239.8" stroke="#8fb6d2" stroke-width="1.5"/>
<path d="M592.9,1239.8L596.7,1233.6" stroke="#e01818" stroke-width="1.5"/>
<path d="M589.1,1246L584.6,1251.4" stroke="#8fb6d2" stroke-width="1.5"/>
<path d="M584.6,1251.4L580.1,1256.8" stroke="#e01818" stroke-width="1.5"/>
<path d="M589.1,1246L597.7,1251.4" stroke="#8fb6d2" stroke-width="1.5"/>
<path d="M597.7,1251.4L606.3,1256.8" stroke="#e01818" stroke-width="1.5"/>
<path d="M614.6,1246L605.7,1239.8" stroke="#8fb6d2" stroke-width="1.5"/>
<path d="M605.7,1239.8L596.7,1233.6" stroke="#e01818" stroke-width="1.5"/>
<path d="M614.6,1246L619.1,1239.8" stroke="#8fb6d2" stroke-width="1.5"/>
<path d="M619.1,1239.8L623.6,1233.6" stroke="#e01818" stroke-width="1.5"/>
<path d="M614.6,1246L610.5,1251.4" stroke="#8fb6d2" stroke-width="1.5"/>
<path d="M610.5,1251.4L606.3,1256.8" stroke="#e01818" stroke-width="1.5"/>
<path d="M614.6,1246L623.5,1251.4" stroke="#8fb6d2" stroke-width="1.5"/>
<path d="M623.5,1251.4L632.5,1256.8" stroke="#e01818" stroke-width="1.5"/>
<path d="M563.5,1267.7L558.5,1262.2" stroke="#8fb6d2" stroke-width="1.5"/>
<path d="M558.5,1262.2L553.5,1256.8" stroke="#e01818" stroke-width="1.5"/>
<path d="M563.5,1267.7L571.8,1262.2" stroke="#8fb6d2" stroke-width="1.5"/>
<path d="M571.8,1262.2L580.1,1256.8" stroke="#e01818" stroke-width="1.5"/>
<path d="M563.5,1267.7L554.5,1273.9" stroke="#8fb6d2" stroke-width="1.5"/>
<path d="M554.5,1273.9L545.6,1280.1" stroke="#e01818" stroke-width="1.5"/>
<path d="M563.5,1267.7L567.4,1273.9" stroke="#8fb6d2" stroke-width="1.5"/>
<path d="M567.4,1273.9L571.2,1280.1" stroke="#e01818" stroke-width="1.5"/>
<path d="M589.1,1267.7L584.6,1262.2" stroke="#8fb6d2" stroke-width="1.5"/>
<path d="M584.6,1262.2L580.1,1256.8" stroke="#e01818" stroke-width="1.5"/>
<path d="M589.1,1267.7L597.7,1262.2" stroke="#8fb6d2" stroke-width="1.5"/>
<path d="M597.7,1262.2L606.3,1256.8" stroke="#e01818" stroke-width="1.5"/>
<path d="M589.1,1267.7L580.2,1273.9" stroke="#8fb6d2" stroke-width="1.5"/>
<path d="M580.2,1273.9L571.2,1280.1" stroke="#e01818" stroke-width="1.5"/>
<path d="M589.1,1267.7L592.9,1273.9" stroke="#8fb6d2" stroke-width="1.5"/>
<path d="M592.9,1273.9L596.7,1280.1" stroke="#e01818" stroke-width="1.5"/>
<path d="M614.6,1267.7L610.5,1262.2" stroke="#8fb6d2" stroke-width="1.5"/>
<path d="M610.5,1262.2L606.3,1256.8" stroke="#e01818" stroke-width="1.5"/>
<path d="M614.6,1267.7L623.5,1262.2" stroke="#8fb6d2" stroke-width="1.5"/>
<path d="M623.5,1262.2L632.5,1256.8" stroke="#e01818" stroke-width="1.5"/>
<path d="M614.6,1267.7L605.7,1273.9" stroke="#8fb6d2" stroke-width="1.5"/>
<path d="M605.7,1273.9L596.7,1280.1" stroke="#e01818" stroke-width="1.5"/>
<path d="M614.6,1267.7L619.1,1273.9" stroke="#8fb6d2" stroke-width="1.5"/>
<path d="M619.1,1273.9L623.6,1280.1" stroke="#e01818" stroke-width="1.5"/>
<circle cx="545.6" cy="1140.2" r="3" fill="url(#bRed)"/>
<circle cx="571.2" cy="1140.2" r="3" fill="url(#bRed)"/>
<circle cx="596.7" cy="1140.2" r="3" fill="url(#bRed)"/>
<circle cx="623.6" cy="1140.2" r="3" fill="url(#bRed)"/>
<circle cx="553.5" cy="1163.7" r="3" fill="url(#bRed)"/>
<circle cx="580.1" cy="1163.7" r="3" fill="url(#bRed)"/>
<circle cx="606.3" cy="1163.7" r="3" fill="url(#bRed)"/>
<circle cx="632.5" cy="1163.7" r="3" fill="url(#bRed)"/>
<circle cx="545.6" cy="1186.8" r="3" fill="url(#bRed)"/>
<circle cx="571.2" cy="1186.8" r="3" fill="url(#bRed)"/>
<circle cx="596.7" cy="1186.8" r="3" fill="url(#bRed)"/>
<circle cx="623.6" cy="1186.8" r="3" fill="url(#bRed)"/>
<circle cx="553.5" cy="1210.4" r="3" fill="url(#bRed)"/>
<circle cx="580.1" cy="1210.4" r="3" fill="url(#bRed)"/>
<circle cx="606.3" cy="1210.4" r="3" fill="url(#bRed)"/>
<circle cx="632.5" cy="1210.4" r="3" fill="url(#bRed)"/>
<circle cx="545.6" cy="1233.6" r="3" fill="url(#bRed)"/>
<circle cx="571.2" cy="1233.6" r="3" fill="url(#bRed)"/>
<circle cx="596.7" cy="1233.6" r="3" fill="url(#bRed)"/>
<circle cx="623.6" cy="1233.6" r="3" fill="url(#bRed)"/>
<circle cx="553.5" cy="1256.8" r="3" fill="url(#bRed)"/>
<circle cx="580.1" cy="1256.8" r="3" fill="url(#bRed)"/>
<circle cx="606.3" cy="1256.8" r="3" fill="url(#bRed)"/>
<circle cx="632.5" cy="1256.8" r="3" fill="url(#bRed)"/>
<circle cx="545.6" cy="1280.1" r="3" fill="url(#bRed)"/>
<circle cx="571.2" cy="1280.1" r="3" fill="url(#bRed)"/>
<circle cx="596.7" cy="1280.1" r="3" fill="url(#bRed)"/>
<circle cx="623.6" cy="1280.1" r="3" fill="url(#bRed)"/>
<circle cx="563.5" cy="1155.8" r="5" fill="url(#bAl)"/>
<circle cx="563.5" cy="1149.4" r="5.2" fill="url(#bAl)"/>
<circle cx="589.1" cy="1155.8" r="5" fill="url(#bAl)"/>
<circle cx="589.1" cy="1149.4" r="5.2" fill="url(#bAl)"/>
<circle cx="614.6" cy="1155.8" r="5" fill="url(#bAl)"/>
<circle cx="614.6" cy="1149.4" r="5.2" fill="url(#bAl)"/>
<circle cx="563.5" cy="1179.4" r="5" fill="url(#bAl)"/>
<circle cx="563.5" cy="1172.4" r="5.2" fill="url(#bAl)"/>
<circle cx="589.1" cy="1179.4" r="5" fill="url(#bAl)"/>
<circle cx="589.1" cy="1172.4" r="5.2" fill="url(#bAl)"/>
<circle cx="614.6" cy="1179.4" r="5" fill="url(#bAl)"/>
<circle cx="614.6" cy="1172.4" r="5.2" fill="url(#bAl)"/>
<circle cx="563.5" cy="1194.8" r="5" fill="url(#bAl)"/>
<circle cx="563.5" cy="1200.6" r="5.2" fill="url(#bAl)"/>
<circle cx="589.1" cy="1194.8" r="5" fill="url(#bAl)"/>
<circle cx="589.1" cy="1200.6" r="5.2" fill="url(#bAl)"/>
<circle cx="614.6" cy="1194.8" r="5" fill="url(#bAl)"/>
<circle cx="614.6" cy="1200.6" r="5.2" fill="url(#bAl)"/>
<circle cx="563.5" cy="1226.1" r="5" fill="url(#bAl)"/>
<circle cx="563.5" cy="1219.1" r="5.2" fill="url(#bAl)"/>
<circle cx="589.1" cy="1226.1" r="5" fill="url(#bAl)"/>
<circle cx="589.1" cy="1219.1" r="5.2" fill="url(#bAl)"/>
<circle cx="614.6" cy="1226.1" r="5" fill="url(#bAl)"/>
<circle cx="614.6" cy="1219.1" r="5.2" fill="url(#bAl)"/>
<circle cx="563.5" cy="1249.2" r="5" fill="url(#bAl)"/>
<circle cx="563.5" cy="1242.8" r="5.2" fill="url(#bAl)"/>
<circle cx="589.1" cy="1249.2" r="5" fill="url(#bAl)"/>
<circle cx="589.1" cy="1242.8" r="5.2" fill="url(#bAl)"/>
<circle cx="614.6" cy="1249.2" r="5" fill="url(#bAl)"/>
<circle cx="614.6" cy="1242.8" r="5.2" fill="url(#bAl)"/>
<circle cx="563.5" cy="1264.5" r="5" fill="url(#bAl)"/>
<circle cx="563.5" cy="1270.9" r="5.2" fill="url(#bAl)"/>
<circle cx="589.1" cy="1264.5" r="5" fill="url(#bAl)"/>
<circle cx="589.1" cy="1270.9" r="5.2" fill="url(#bAl)"/>
<circle cx="614.6" cy="1264.5" r="5" fill="url(#bAl)"/>
<circle cx="614.6" cy="1270.9" r="5.2" fill="url(#bAl)"/>
</g>
<rect x="525.8" y="1361" width="105.7" height="9.2" fill="#fff"/>
<text transform="translate(576.2,1348.7) scale(1.045,1)" font-size="38.5" text-anchor="middle" fill="#fff">1 nm</text>
<rect x="5" y="151.5" width="35" height="3" fill="#000"/>
<rect x="5" y="507" width="35" height="3" fill="#000"/>
<rect x="5" y="630.5" width="35" height="3" fill="#000"/>
<rect x="5" y="746.5" width="35" height="3" fill="#000"/>
<rect x="5" y="868.5" width="35" height="3" fill="#000"/>
<text transform="translate(55,34) scale(1.045,1)" font-size="38">(a)</text></g>
<g id="panel_b"><defs><linearGradient id="bbg" x1="0" y1="0" x2="0" y2="1">
<stop offset="0.0000" stop-color="#969696"/>
<stop offset="0.0051" stop-color="#a7a7a7"/>
<stop offset="0.0102" stop-color="#b6b6b6"/>
<stop offset="0.0153" stop-color="#c1c1c1"/>
<stop offset="0.0204" stop-color="#c6c6c6"/>
<stop offset="0.0255" stop-color="#c4c4c4"/>
<stop offset="0.0306" stop-color="#bdbdbd"/>
<stop offset="0.0357" stop-color="#b1b1b1"/>
<stop offset="0.0408" stop-color="#a1a1a1"/>
<stop offset="0.0459" stop-color="#909090"/>
<stop offset="0.0510" stop-color="#7f7f7f"/>
<stop offset="0.0561" stop-color="#707070"/>
<stop offset="0.0612" stop-color="#646464"/>
<stop offset="0.0663" stop-color="#5b5b5b"/>
<stop offset="0.0714" stop-color="#555555"/>
<stop offset="0.0765" stop-color="#525252"/>
<stop offset="0.0816" stop-color="#525252"/>
<stop offset="0.0867" stop-color="#555555"/>
<stop offset="0.0918" stop-color="#5a5a5a"/>
<stop offset="0.0969" stop-color="#606060"/>
<stop offset="0.1020" stop-color="#676767"/>
<stop offset="0.1071" stop-color="#707070"/>
<stop offset="0.1122" stop-color="#787878"/>
<stop offset="0.1173" stop-color="#7f7f7f"/>
<stop offset="0.1224" stop-color="#858585"/>
<stop offset="0.1275" stop-color="#898989"/>
<stop offset="0.1326" stop-color="#8a8a8a"/>
<stop offset="0.1377" stop-color="#888888"/>
<stop offset="0.1428" stop-color="#848484"/>
<stop offset="0.1479" stop-color="#7e7e7e"/>
<stop offset="0.1530" stop-color="#767676"/>
<stop offset="0.1581" stop-color="#6d6d6d"/>
<stop offset="0.1632" stop-color="#656565"/>
<stop offset="0.1683" stop-color="#5e5e5e"/>
<stop offset="0.1734" stop-color="#585858"/>
<stop offset="0.1785" stop-color="#545454"/>
<stop offset="0.1835" stop-color="#525252"/>
<stop offset="0.1886" stop-color="#535353"/>
<stop offset="0.1937" stop-color="#565656"/>
<stop offset="0.1988" stop-color="#5d5d5d"/>
<stop offset="0.2039" stop-color="#676767"/>
<stop offset="0.2090" stop-color="#747474"/>
<stop offset="0.2141" stop-color="#848484"/>
<stop offset="0.2192" stop-color="#969696"/>
<stop offset="0.2243" stop-color="#a8a8a8"/>
<stop offset="0.2294" stop-color="#b8b8b8"/>
<stop offset="0.2345" stop-color="#c4c4c4"/>
<stop offset="0.2396" stop-color="#cbcbcb"/>
<stop offset="0.2447" stop-color="#cbcbcb"/>
<stop offset="0.2498" stop-color="#c5c5c5"/>
<stop offset="0.2549" stop-color="#b9b9b9"/>
<stop offset="0.2600" stop-color="#a9a9a9"/>
<stop offset="0.2651" stop-color="#979797"/>
<stop offset="0.2702" stop-color="#858585"/>
<stop offset="0.2753" stop-color="#757575"/>
<stop offset="0.2804" stop-color="#686868"/>
<stop offset="0.2855" stop-color="#5d5d5d"/>
<stop offset="0.2906" stop-color="#575757"/>
<stop offset="0.2957" stop-color="#535353"/>
<stop offset="0.3008" stop-color="#525252"/>
<stop offset="0.3059" stop-color="#545454"/>
<stop offset="0.3110" stop-color="#585858"/>
<stop offset="0.3161" stop-color="#5d5d5d"/>
<stop offset="0.3212" stop-color="#646464"/>
<stop offset="0.3263" stop-color="#6b6b6b"/>
<stop offset="0.3314" stop-color="#737373"/>
<stop offset="0.3365" stop-color="#7a7a7a"/>
<stop offset="0.3416" stop-color="#7f7f7f"/>
<stop offset="0.3467" stop-color="#838383"/>
<stop offset="0.3518" stop-color="#848484"/>
<stop offset="0.3569" stop-color="#838383"/>
<stop offset="0.3620" stop-color="#7f7f7f"/>
<stop offset="0.3671" stop-color="#797979"/>
<stop offset="0.3722" stop-color="#727272"/>
<stop offset="0.3773" stop-color="#6b6b6b"/>
<stop offset="0.3824" stop-color="#636363"/>
<stop offset="0.3875" stop-color="#5d5d5d"/>
<stop offset="0.3926" stop-color="#575757"/>
<stop offset="0.3977" stop-color="#545454"/>
<stop offset="0.4028" stop-color="#525252"/>
<stop offset="0.4079" stop-color="#535353"/>
<stop offset="0.4130" stop-color="#575757"/>
<stop offset="0.4181" stop-color="#5e5e5e"/>
<stop offset="0.4232" stop-color="#686868"/>
<stop offset="0.4283" stop-color="#757575"/>
<stop offset="0.4334" stop-color="#868686"/>
<stop offset="0.4385" stop-color="#979797"/>
<stop offset="0.4436" stop-color="#a9a9a9"/>
<stop offset="0.4487" stop-color="#b8b8b8"/>
<stop offset="0.4538" stop-color="#c4c4c4"/>
<stop offset="0.4589" stop-color="#c9c9c9"/>
<stop offset="0.4640" stop-color="#c9c9c9"/>
<stop offset="0.4691" stop-color="#c2c2c2"/>
<stop offset="0.4742" stop-color="#b5b5b5"/>
<stop offset="0.4793" stop-color="#a5a5a5"/>
<stop offset="0.4844" stop-color="#939393"/>
<stop offset="0.4895" stop-color="#818181"/>
<stop offset="0.4946" stop-color="#707070"/>
<stop offset="0.4997" stop-color="#626262"/>
<stop offset="0.5048" stop-color="#575757"/>
<stop offset="0.5099" stop-color="#4f4f4f"/>
<stop offset="0.5150" stop-color="#4b4b4b"/>
<stop offset="0.5201" stop-color="#494949"/>
<stop offset="0.5252" stop-color="#4a4a4a"/>
<stop offset="0.5303" stop-color="#4c4c4c"/>
<stop offset="0.5354" stop-color="#505050"/>
<stop offset="0.5404" stop-color="#545454"/>
<stop offset="0.5455" stop-color="#595959"/>
<stop offset="0.5506" stop-color="#5d5d5d"/>
<stop offset="0.5557" stop-color="#616161"/>
<stop offset="0.5608" stop-color="#636363"/>
<stop offset="0.5659" stop-color="#636363"/>
<stop offset="0.5710" stop-color="#616161"/>
<stop offset="0.5761" stop-color="#5e5e5e"/>
<stop offset="0.5812" stop-color="#595959"/>
<stop offset="0.5863" stop-color="#535353"/>
<stop offset="0.5914" stop-color="#4d4d4d"/>
<stop offset="0.5965" stop-color="#464646"/>
<stop offset="0.6016" stop-color="#3f3f3f"/>
<stop offset="0.6067" stop-color="#383838"/>
<stop offset="0.6118" stop-color="#323232"/>
<stop offset="0.6169" stop-color="#2d2d2d"/>
<stop offset="0.6220" stop-color="#292929"/>
<stop offset="0.6271" stop-color="#262626"/>
<stop offset="0.6322" stop-color="#242424"/>
<stop offset="0.6373" stop-color="#222222"/>
<stop offset="0.6424" stop-color="#212121"/>
<stop offset="0.6475" stop-color="#1f1f1f"/>
<stop offset="0.6526" stop-color="#1e1e1e"/>
<stop offset="0.6577" stop-color="#1c1c1c"/>
<stop offset="0.6628" stop-color="#1b1b1b"/>
<stop offset="0.6679" stop-color="#1b1b1b"/>
<stop offset="0.6730" stop-color="#1b1b1b"/>
<stop offset="0.6781" stop-color="#1b1b1b"/>
<stop offset="0.6832" stop-color="#1a1a1a"/>
<stop offset="0.6883" stop-color="#1a1a1a"/>
<stop offset="0.6934" stop-color="#1a1a1a"/>
<stop offset="0.6985" stop-color="#1a1a1a"/>
<stop offset="0.7036" stop-color="#1a1a1a"/>
<stop offset="0.7087" stop-color="#1a1a1a"/>
<stop offset="0.7138" stop-color="#1a1a1a"/>
<stop offset="0.7189" stop-color="#191919"/>
<stop offset="0.7240" stop-color="#191919"/>
<stop offset="0.7291" stop-color="#191919"/>
<stop offset="0.7342" stop-color="#191919"/>
<stop offset="0.7393" stop-color="#191919"/>
<stop offset="0.7444" stop-color="#191919"/>
<stop offset="0.7495" stop-color="#191919"/>
<stop offset="0.7546" stop-color="#181818"/>
<stop offset="0.7597" stop-color="#181818"/>
<stop offset="0.7648" stop-color="#181818"/>
<stop offset="0.7699" stop-color="#181818"/>
<stop offset="0.7750" stop-color="#181818"/>
<stop offset="0.7801" stop-color="#181818"/>
<stop offset="0.7852" stop-color="#181818"/>
<stop offset="0.7903" stop-color="#171717"/>
<stop offset="0.7954" stop-color="#171717"/>
<stop offset="0.8005" stop-color="#171717"/>
<stop offset="0.8056" stop-color="#171717"/>
<stop offset="0.8107" stop-color="#171717"/>
<stop offset="0.8158" stop-color="#171717"/>
<stop offset="0.8209" stop-color="#171717"/>
<stop offset="0.8260" stop-color="#171717"/>
<stop offset="0.8311" stop-color="#161616"/>
<stop offset="0.8362" stop-color="#161616"/>
<stop offset="0.8413" stop-color="#161616"/>
<stop offset="0.8464" stop-color="#161616"/>
<stop offset="0.8515" stop-color="#161616"/>
<stop offset="0.8566" stop-color="#161616"/>
<stop offset="0.8617" stop-color="#161616"/>
<stop offset="0.8668" stop-color="#161616"/>
<stop offset="0.8719" stop-color="#161616"/>
<stop offset="0.8770" stop-color="#161616"/>
<stop offset="0.8821" stop-color="#151515"/>
<stop offset="0.8872" stop-color="#151515"/>
<stop offset="0.8923" stop-color="#151515"/>
<stop offset="0.8973" stop-color="#151515"/>
<stop offset="0.9024" stop-color="#151515"/>
<stop offset="0.9075" stop-color="#151515"/>
<stop offset="0.9126" stop-color="#151515"/>
<stop offset="0.9177" stop-color="#151515"/>
<stop offset="0.9228" stop-color="#151515"/>
<stop offset="0.9279" stop-color="#141414"/>
<stop offset="0.9330" stop-color="#141414"/>
<stop offset="0.9381" stop-color="#141414"/>
<stop offset="0.9432" stop-color="#141414"/>
<stop offset="0.9483" stop-color="#141414"/>
<stop offset="0.9534" stop-color="#141414"/>
<stop offset="0.9585" stop-color="#141414"/>
<stop offset="0.9636" stop-color="#141414"/>
<stop offset="0.9687" stop-color="#141414"/>
<stop offset="0.9738" stop-color="#141414"/>
<stop offset="0.9789" stop-color="#131313"/>
<stop offset="0.9840" stop-color="#131313"/>
<stop offset="0.9891" stop-color="#131313"/>
<stop offset="0.9942" stop-color="#131313"/>
<stop offset="0.9993" stop-color="#131313"/>
</linearGradient>
<radialGradient id="bblob"><stop offset="0" stop-color="#fff" stop-opacity="0.62"/><stop offset="0.5" stop-color="#fff" stop-opacity="0.28"/><stop offset="1" stop-color="#fff" stop-opacity="0"/></radialGradient>
<radialGradient id="bblob2"><stop offset="0" stop-color="#fff" stop-opacity="0.2"/><stop offset="0.55" stop-color="#fff" stop-opacity="0.09"/><stop offset="1" stop-color="#fff" stop-opacity="0"/></radialGradient>
<clipPath id="bclip"><rect x="674.8" y="45.4" width="336.8" height="588.4"/></clipPath>
<filter id="bnz" x="0" y="0" width="1" height="1"><feTurbulence type="fractalNoise" baseFrequency="0.09" numOctaves="2" seed="21" result="t"/><feColorMatrix in="t" type="matrix" values="0 0 0 0 1  0 0 0 0 1  0 0 0 0 1  0.2 0 0 0 -0.075"/></filter>
<filter id="bnzk" x="0" y="0" width="1" height="1"><feTurbulence type="fractalNoise" baseFrequency="0.09" numOctaves="2" seed="22" result="t"/><feColorMatrix in="t" type="matrix" values="0 0 0 0 0  0 0 0 0 0  0 0 0 0 0  0.3 0 0 0 -0.11"/></filter>
</defs>
<g clip-path="url(#bclip)">
<rect x="674.8" y="45.4" width="336.8" height="588.4" fill="url(#bbg)"/>
<ellipse cx="652.3" cy="58.7" rx="17" ry="12.5" fill="url(#bblob)" opacity="0.72"/>
<ellipse cx="686.3" cy="58.3" rx="17" ry="12.5" fill="url(#bblob)" opacity="0.98"/>
<ellipse cx="719.6" cy="57.9" rx="17" ry="12.5" fill="url(#bblob)" opacity="0.62"/>
<ellipse cx="754.5" cy="58.2" rx="17" ry="12.5" fill="url(#bblob)" opacity="0.79"/>
<ellipse cx="788.4" cy="59.2" rx="17" ry="12.5" fill="url(#bblob)" opacity="0.88"/>
<ellipse cx="825.1" cy="58.4" rx="17" ry="12.5" fill="url(#bblob)" opacity="0.83"/>
<ellipse cx="860" cy="56.8" rx="17" ry="12.5" fill="url(#bblob)" opacity="0.72"/>
<ellipse cx="895.2" cy="60.1" rx="17" ry="12.5" fill="url(#bblob)" opacity="0.66"/>
<ellipse cx="933.4" cy="58.5" rx="17" ry="12.5" fill="url(#bblob)" opacity="0.73"/>
<ellipse cx="965.6" cy="57" rx="17" ry="12.5" fill="url(#bblob)" opacity="0.99"/>
<ellipse cx="1000.4" cy="58.1" rx="17" ry="12.5" fill="url(#bblob)" opacity="0.87"/>
<ellipse cx="1033.8" cy="59.1" rx="17" ry="12.5" fill="url(#bblob)" opacity="0.69"/>
<ellipse cx="665.4" cy="120.6" rx="17" ry="12.5" fill="url(#bblob)" opacity="0.50"/>
<ellipse cx="701.2" cy="121.2" rx="17" ry="12.5" fill="url(#bblob)" opacity="0.68"/>
<ellipse cx="734.6" cy="123.6" rx="17" ry="12.5" fill="url(#bblob)" opacity="0.50"/>
<ellipse cx="770.1" cy="122.8" rx="17" ry="12.5" fill="url(#bblob)" opacity="0.48"/>
<ellipse cx="806.1" cy="123" rx="17" ry="12.5" fill="url(#bblob)" opacity="0.57"/>
<ellipse cx="844.7" cy="122.1" rx="17" ry="12.5" fill="url(#bblob)" opacity="0.64"/>
<ellipse cx="879.5" cy="124.1" rx="17" ry="12.5" fill="url(#bblob)" opacity="0.53"/>
<ellipse cx="911.2" cy="124.3" rx="17" ry="12.5" fill="url(#bblob)" opacity="0.59"/>
<ellipse cx="947.3" cy="121.1" rx="17" ry="12.5" fill="url(#bblob)" opacity="0.44"/>
<ellipse cx="984.5" cy="122" rx="17" ry="12.5" fill="url(#bblob)" opacity="0.62"/>
<ellipse cx="1018.3" cy="124.8" rx="17" ry="12.5" fill="url(#bblob)" opacity="0.60"/>
<ellipse cx="1053.1" cy="122.6" rx="17" ry="12.5" fill="url(#bblob)" opacity="0.45"/>
<ellipse cx="642.8" cy="186.9" rx="17" ry="12.5" fill="url(#bblob)" opacity="0.67"/>
<ellipse cx="678" cy="188.3" rx="17" ry="12.5" fill="url(#bblob)" opacity="0.82"/>
<ellipse cx="711.5" cy="188.9" rx="17" ry="12.5" fill="url(#bblob)" opacity="0.99"/>
<ellipse cx="749" cy="188.8" rx="17" ry="12.5" fill="url(#bblob)" opacity="0.80"/>
<ellipse cx="784.1" cy="188.7" rx="17" ry="12.5" fill="url(#bblob)" opacity="0.88"/>
<ellipse cx="818.9" cy="188.7" rx="17" ry="12.5" fill="url(#bblob)" opacity="0.75"/>
<ellipse cx="851.7" cy="188.2" rx="17" ry="12.5" fill="url(#bblob)" opacity="0.68"/>
<ellipse cx="890.3" cy="188.7" rx="17" ry="12.5" fill="url(#bblob)" opacity="1.00"/>
<ellipse cx="924.4" cy="189.2" rx="17" ry="12.5" fill="url(#bblob)" opacity="0.63"/>
<ellipse cx="960.6" cy="188" rx="17" ry="12.5" fill="url(#bblob)" opacity="0.93"/>
<ellipse cx="990.2" cy="187" rx="17" ry="12.5" fill="url(#bblob)" opacity="0.69"/>
<ellipse cx="1030.2" cy="188.8" rx="17" ry="12.5" fill="url(#bblob)" opacity="0.66"/>
<ellipse cx="658.7" cy="252.2" rx="17" ry="12.5" fill="url(#bblob)" opacity="0.48"/>
<ellipse cx="696.1" cy="253.6" rx="17" ry="12.5" fill="url(#bblob)" opacity="0.56"/>
<ellipse cx="731.3" cy="251" rx="17" ry="12.5" fill="url(#bblob)" opacity="0.71"/>
<ellipse cx="764.1" cy="252.2" rx="17" ry="12.5" fill="url(#bblob)" opacity="0.44"/>
<ellipse cx="802.3" cy="252.4" rx="17" ry="12.5" fill="url(#bblob)" opacity="0.47"/>
<ellipse cx="836.9" cy="251.2" rx="17" ry="12.5" fill="url(#bblob)" opacity="0.69"/>
<ellipse cx="870" cy="252.1" rx="17" ry="12.5" fill="url(#bblob)" opacity="0.68"/>
<ellipse cx="907.5" cy="251.4" rx="17" ry="12.5" fill="url(#bblob)" opacity="0.47"/>
<ellipse cx="942.5" cy="252.8" rx="17" ry="12.5" fill="url(#bblob)" opacity="0.64"/>
<ellipse cx="978.4" cy="251.5" rx="17" ry="12.5" fill="url(#bblob)" opacity="0.46"/>
<ellipse cx="1010.5" cy="250.6" rx="17" ry="12.5" fill="url(#bblob)" opacity="0.68"/>
<ellipse cx="1045" cy="251.8" rx="17" ry="12.5" fill="url(#bblob)" opacity="0.49"/>
<ellipse cx="672.3" cy="318.5" rx="17" ry="12.5" fill="url(#bblob)" opacity="0.72"/>
<ellipse cx="707.8" cy="316.6" rx="17" ry="12.5" fill="url(#bblob)" opacity="0.63"/>
<ellipse cx="743.8" cy="316.1" rx="17" ry="12.5" fill="url(#bblob)" opacity="0.96"/>
<ellipse cx="776.5" cy="315.6" rx="17" ry="12.5" fill="url(#bblob)" opacity="0.78"/>
<ellipse cx="812" cy="316.7" rx="17" ry="12.5" fill="url(#bblob)" opacity="0.95"/>
<ellipse cx="850.9" cy="316.8" rx="17" ry="12.5" fill="url(#bblob)" opacity="0.69"/>
<ellipse cx="884.4" cy="316.5" rx="17" ry="12.5" fill="url(#bblob)" opacity="0.89"/>
<ellipse cx="919.2" cy="314.7" rx="17" ry="12.5" fill="url(#bblob)" opacity="0.66"/>
<ellipse cx="954.2" cy="317" rx="17" ry="12.5" fill="url(#bblob)" opacity="0.95"/>
<ellipse cx="989.3" cy="315.8" rx="17" ry="12.5" fill="url(#bblob)" opacity="0.62"/>
<ellipse cx="1024.4" cy="317.6" rx="17" ry="12.5" fill="url(#bblob)" opacity="0.62"/>
<ellipse cx="1059.9" cy="315.8" rx="17" ry="12.5" fill="url(#bblob)" opacity="0.63"/>
<ellipse cx="653.2" cy="376.7" rx="17" ry="12.5" fill="url(#bblob)" opacity="0.33"/>
<ellipse cx="691.5" cy="379.3" rx="17" ry="12.5" fill="url(#bblob)" opacity="0.31"/>
<ellipse cx="722.4" cy="378.4" rx="17" ry="12.5" fill="url(#bblob)" opacity="0.29"/>
<ellipse cx="758.5" cy="378.4" rx="17" ry="12.5" fill="url(#bblob)" opacity="0.28"/>
<ellipse cx="794.2" cy="376.4" rx="17" ry="12.5" fill="url(#bblob)" opacity="0.25"/>
<ellipse cx="829.5" cy="377.5" rx="17" ry="12.5" fill="url(#bblob)" opacity="0.27"/>
<ellipse cx="866.4" cy="378.6" rx="17" ry="12.5" fill="url(#bblob)" opacity="0.35"/>
<ellipse cx="898.7" cy="379.6" rx="17" ry="12.5" fill="url(#bblob)" opacity="0.25"/>
<ellipse cx="932.2" cy="377" rx="17" ry="12.5" fill="url(#bblob)" opacity="0.35"/>
<ellipse cx="969.9" cy="377.5" rx="17" ry="12.5" fill="url(#bblob)" opacity="0.39"/>
<ellipse cx="1004.7" cy="376.5" rx="17" ry="12.5" fill="url(#bblob)" opacity="0.41"/>
<ellipse cx="1039.7" cy="377.6" rx="17" ry="12.5" fill="url(#bblob)" opacity="0.37"/>
<ellipse cx="651.6" cy="435.4" rx="19" ry="16" fill="url(#bblob2)" opacity="0.47"/>
<ellipse cx="684.4" cy="431" rx="19" ry="16" fill="url(#bblob2)" opacity="0.48"/>
<ellipse cx="718" cy="434" rx="19" ry="16" fill="url(#bblob2)" opacity="0.85"/>
<ellipse cx="752.1" cy="437.4" rx="19" ry="16" fill="url(#bblob2)" opacity="0.92"/>
<ellipse cx="789.2" cy="432.2" rx="19" ry="16" fill="url(#bblob2)" opacity="0.47"/>
<ellipse cx="824.4" cy="434.6" rx="19" ry="16" fill="url(#bblob2)" opacity="0.70"/>
<ellipse cx="857.9" cy="437" rx="19" ry="16" fill="url(#bblob2)" opacity="0.88"/>
<ellipse cx="894" cy="431" rx="19" ry="16" fill="url(#bblob2)" opacity="0.93"/>
<ellipse cx="930" cy="432.5" rx="19" ry="16" fill="url(#bblob2)" opacity="0.64"/>
<ellipse cx="964.6" cy="432.6" rx="19" ry="16" fill="url(#bblob2)" opacity="0.68"/>
<ellipse cx="999.3" cy="436.4" rx="19" ry="16" fill="url(#bblob2)" opacity="0.73"/>
<ellipse cx="1031.5" cy="431.7" rx="19" ry="16" fill="url(#bblob2)" opacity="0.95"/>
<ellipse cx="666.8" cy="469.3" rx="19" ry="16" fill="url(#bblob2)" opacity="0.94"/>
<ellipse cx="700.3" cy="467.7" rx="19" ry="16" fill="url(#bblob2)" opacity="0.92"/>
<ellipse cx="740.6" cy="468.5" rx="19" ry="16" fill="url(#bblob2)" opacity="0.51"/>
<ellipse cx="768.9" cy="469.1" rx="19" ry="16" fill="url(#bblob2)" opacity="0.74"/>
<ellipse cx="805" cy="472.9" rx="19" ry="16" fill="url(#bblob2)" opacity="0.82"/>
<ellipse cx="841" cy="466.6" rx="19" ry="16" fill="url(#bblob2)" opacity="0.77"/>
<ellipse cx="877" cy="472.1" rx="19" ry="16" fill="url(#bblob2)" opacity="0.76"/>
<ellipse cx="910.7" cy="470.2" rx="19" ry="16" fill="url(#bblob2)" opacity="0.74"/>
<ellipse cx="945.1" cy="468.5" rx="19" ry="16" fill="url(#bblob2)" opacity="0.69"/>
<ellipse cx="981.6" cy="465" rx="19" ry="16" fill="url(#bblob2)" opacity="0.76"/>
<ellipse cx="1016.5" cy="470.6" rx="19" ry="16" fill="url(#bblob2)" opacity="0.94"/>
<ellipse cx="1054.7" cy="466.7" rx="19" ry="16" fill="url(#bblob2)" opacity="0.75"/>
<ellipse cx="644.8" cy="504.5" rx="19" ry="16" fill="url(#bblob2)" opacity="0.97"/>
<ellipse cx="681.7" cy="503.8" rx="19" ry="16" fill="url(#bblob2)" opacity="0.75"/>
<ellipse cx="720.1" cy="501.3" rx="19" ry="16" fill="url(#bblob2)" opacity="0.47"/>
<ellipse cx="754.1" cy="506.1" rx="19" ry="16" fill="url(#bblob2)" opacity="0.85"/>
<ellipse cx="789.8" cy="503.2" rx="19" ry="16" fill="url(#bblob2)" opacity="0.64"/>
<ellipse cx="822.4" cy="503.2" rx="19" ry="16" fill="url(#bblob2)" opacity="0.75"/>
<ellipse cx="859.4" cy="502.9" rx="19" ry="16" fill="url(#bblob2)" opacity="0.97"/>
<ellipse cx="893.6" cy="502.5" rx="19" ry="16" fill="url(#bblob2)" opacity="0.85"/>
<ellipse cx="932.9" cy="507.6" rx="19" ry="16" fill="url(#bblob2)" opacity="0.71"/>
<ellipse cx="961.7" cy="503.6" rx="19" ry="16" fill="url(#bblob2)" opacity="0.96"/>
<ellipse cx="1003.4" cy="500.6" rx="19" ry="16" fill="url(#bblob2)" opacity="0.56"/>
<ellipse cx="1032.4" cy="500.4" rx="19" ry="16" fill="url(#bblob2)" opacity="0.67"/>
<ellipse cx="665.3" cy="537.7" rx="19" ry="16" fill="url(#bblob2)" opacity="0.59"/>
<ellipse cx="697.6" cy="542.1" rx="19" ry="16" fill="url(#bblob2)" opacity="0.46"/>
<ellipse cx="733.8" cy="542.8" rx="19" ry="16" fill="url(#bblob2)" opacity="0.40"/>
<ellipse cx="769.5" cy="541.3" rx="19" ry="16" fill="url(#bblob2)" opacity="0.50"/>
<ellipse cx="805.3" cy="540.7" rx="19" ry="16" fill="url(#bblob2)" opacity="0.63"/>
<ellipse cx="842.2" cy="539.7" rx="19" ry="16" fill="url(#bblob2)" opacity="0.63"/>
<ellipse cx="874.1" cy="539.9" rx="19" ry="16" fill="url(#bblob2)" opacity="0.49"/>
<ellipse cx="907.3" cy="539.8" rx="19" ry="16" fill="url(#bblob2)" opacity="0.56"/>
<ellipse cx="946.1" cy="537.1" rx="19" ry="16" fill="url(#bblob2)" opacity="0.56"/>
<ellipse cx="983.7" cy="541.6" rx="19" ry="16" fill="url(#bblob2)" opacity="0.64"/>
<ellipse cx="1014" cy="535.4" rx="19" ry="16" fill="url(#bblob2)" opacity="0.70"/>
<ellipse cx="1054.5" cy="538.5" rx="19" ry="16" fill="url(#bblob2)" opacity="0.75"/>
<ellipse cx="647.8" cy="578.6" rx="19" ry="16" fill="url(#bblob2)" opacity="0.46"/>
<ellipse cx="685.8" cy="579" rx="19" ry="16" fill="url(#bblob2)" opacity="0.55"/>
<ellipse cx="716.9" cy="572.9" rx="19" ry="16" fill="url(#bblob2)" opacity="0.37"/>
<ellipse cx="751.7" cy="576.1" rx="19" ry="16" fill="url(#bblob2)" opacity="0.61"/>
<ellipse cx="788.6" cy="572.6" rx="19" ry="16" fill="url(#bblob2)" opacity="0.36"/>
<ellipse cx="824.7" cy="575.2" rx="19" ry="16" fill="url(#bblob2)" opacity="0.59"/>
<ellipse cx="861.4" cy="574" rx="19" ry="16" fill="url(#bblob2)" opacity="0.52"/>
<ellipse cx="889.1" cy="577.3" rx="19" ry="16" fill="url(#bblob2)" opacity="0.74"/>
<ellipse cx="927.2" cy="577.7" rx="19" ry="16" fill="url(#bblob2)" opacity="0.63"/>
<ellipse cx="963.8" cy="577.1" rx="19" ry="16" fill="url(#bblob2)" opacity="0.67"/>
<ellipse cx="999.9" cy="577.5" rx="19" ry="16" fill="url(#bblob2)" opacity="0.51"/>
<ellipse cx="1037.6" cy="575.6" rx="19" ry="16" fill="url(#bblob2)" opacity="0.38"/>
<ellipse cx="664.6" cy="615" rx="19" ry="16" fill="url(#bblob2)" opacity="0.37"/>
<ellipse cx="699" cy="614.3" rx="19" ry="16" fill="url(#bblob2)" opacity="0.38"/>
<ellipse cx="735.5" cy="611.5" rx="19" ry="16" fill="url(#bblob2)" opacity="0.41"/>
<ellipse cx="771.5" cy="613.2" rx="19" ry="16" fill="url(#bblob2)" opacity="0.37"/>
<ellipse cx="808.2" cy="611.4" rx="19" ry="16" fill="url(#bblob2)" opacity="0.54"/>
<ellipse cx="840" cy="613.9" rx="19" ry="16" fill="url(#bblob2)" opacity="0.60"/>
<ellipse cx="876.8" cy="611.1" rx="19" ry="16" fill="url(#bblob2)" opacity="0.68"/>
<ellipse cx="907.3" cy="613.4" rx="19" ry="16" fill="url(#bblob2)" opacity="0.48"/>
<ellipse cx="944.2" cy="612.5" rx="19" ry="16" fill="url(#bblob2)" opacity="0.55"/>
<ellipse cx="979.4" cy="609.4" rx="19" ry="16" fill="url(#bblob2)" opacity="0.47"/>
<ellipse cx="1015.9" cy="612.8" rx="19" ry="16" fill="url(#bblob2)" opacity="0.44"/>
<ellipse cx="1054.1" cy="611.5" rx="19" ry="16" fill="url(#bblob2)" opacity="0.71"/>
<rect x="674" y="45" width="339" height="590" filter="url(#bnz)"/>
<rect x="674" y="45" width="339" height="590" filter="url(#bnzk)"/>
</g>
<rect x="876.4" y="607.2" width="113.3" height="8.6" fill="#fff"/>
<text transform="translate(932.7,593) scale(1.045,1)" font-size="38" text-anchor="middle" fill="#fff">0.5 nm</text>
<text transform="translate(667.3,34) scale(1.045,1)" font-size="38">(b)</text></g>
<g id="panel_c"><clipPath id="cclip"><rect x="1025.7" y="45.4" width="336.3" height="588.4"/></clipPath>
<g shape-rendering="crispEdges" clip-path="url(#cclip)">
<rect x="1025.7" y="45.4" width="336.3" height="588.4" fill="#808080"/>
<rect x="1025.7" y="45.4" width="14.9" height="15.1" fill="#a3a3a3"/>
<rect x="1040.3" y="45.4" width="14.9" height="15.1" fill="#b4b4b4"/>
<rect x="1054.9" y="45.4" width="14.9" height="15.1" fill="#a3a3a3"/>
<rect x="1069.6" y="45.4" width="14.9" height="15.1" fill="#cccccc"/>
<rect x="1084.2" y="45.4" width="14.9" height="15.1" fill="#9d9d9d"/>
<rect x="1098.8" y="45.4" width="14.9" height="15.1" fill="#c6c6c6"/>
<rect x="1113.4" y="45.4" width="14.9" height="15.1" fill="#aaaaaa"/>
<rect x="1128.1" y="45.4" width="14.9" height="15.1" fill="#c1c1c1"/>
<rect x="1142.7" y="45.4" width="14.9" height="15.1" fill="#b2b2b2"/>
<rect x="1157.3" y="45.4" width="14.9" height="15.1" fill="#c4c4c4"/>
<rect x="1171.9" y="45.4" width="14.9" height="15.1" fill="#a3a3a3"/>
<rect x="1186.5" y="45.4" width="14.9" height="15.1" fill="#d6d6d6"/>
<rect x="1201.2" y="45.4" width="14.9" height="15.1" fill="#a6a6a6"/>
<rect x="1215.8" y="45.4" width="14.9" height="15.1" fill="#c4c4c4"/>
<rect x="1230.4" y="45.4" width="14.9" height="15.1" fill="#a1a1a1"/>
<rect x="1245" y="45.4" width="14.9" height="15.1" fill="#c6c6c6"/>
<rect x="1259.6" y="45.4" width="14.9" height="15.1" fill="#a2a2a2"/>
<rect x="1274.3" y="45.4" width="14.9" height="15.1" fill="#cacaca"/>
<rect x="1288.9" y="45.4" width="14.9" height="15.1" fill="#b1b1b1"/>
<rect x="1303.5" y="45.4" width="14.9" height="15.1" fill="#d4d4d4"/>
<rect x="1318.1" y="45.4" width="14.9" height="15.1" fill="#9c9c9c"/>
<rect x="1332.8" y="45.4" width="14.9" height="15.1" fill="#cacaca"/>
<rect x="1347.4" y="45.4" width="14.9" height="15.1" fill="#9d9d9d"/>
<rect x="1025.7" y="60.2" width="14.9" height="15.1" fill="#e5e5e5"/>
<rect x="1040.3" y="60.2" width="14.9" height="15.1" fill="#e2e2e2"/>
<rect x="1054.9" y="60.2" width="14.9" height="15.1" fill="#b7b7b7"/>
<rect x="1069.6" y="60.2" width="14.9" height="15.1" fill="#c3c3c3"/>
<rect x="1084.2" y="60.2" width="14.9" height="15.1" fill="#eeeeee"/>
<rect x="1098.8" y="60.2" width="14.9" height="15.1" fill="#f0f0f0"/>
<rect x="1113.4" y="60.2" width="14.9" height="15.1" fill="#fafafa"/>
<rect x="1128.1" y="60.2" width="14.9" height="15.1" fill="#ececec"/>
<rect x="1142.7" y="60.2" width="14.9" height="15.1" fill="#e9e9e9"/>
<rect x="1157.3" y="60.2" width="14.9" height="15.1" fill="#e2e2e2"/>
<rect x="1171.9" y="60.2" width="14.9" height="15.1" fill="#fdfdfd"/>
<rect x="1186.5" y="60.2" width="14.9" height="15.1" fill="#cbcbcb"/>
<rect x="1201.2" y="60.2" width="14.9" height="15.1" fill="#dcdcdc"/>
<rect x="1215.8" y="60.2" width="14.9" height="15.1" fill="#e9e9e9"/>
<rect x="1230.4" y="60.2" width="14.9" height="15.1" fill="#bababa"/>
<rect x="1245" y="60.2" width="14.9" height="15.1" fill="#ffffff"/>
<rect x="1259.6" y="60.2" width="14.9" height="15.1" fill="#cccccc"/>
<rect x="1274.3" y="60.2" width="14.9" height="15.1" fill="#dedede"/>
<rect x="1288.9" y="60.2" width="14.9" height="15.1" fill="#ffffff"/>
<rect x="1303.5" y="60.2" width="14.9" height="15.1" fill="#cccccc"/>
<rect x="1318.1" y="60.2" width="14.9" height="15.1" fill="#d3d3d3"/>
<rect x="1332.8" y="60.2" width="14.9" height="15.1" fill="#ffffff"/>
<rect x="1347.4" y="60.2" width="14.9" height="15.1" fill="#c6c6c6"/>
<rect x="1025.7" y="75" width="14.9" height="15.1" fill="#939393"/>
<rect x="1040.3" y="75" width="14.9" height="15.1" fill="#a1a1a1"/>
<rect x="1054.9" y="75" width="14.9" height="15.1" fill="#a0a0a0"/>
<rect x="1069.6" y="75" width="14.9" height="15.1" fill="#a2a2a2"/>
<rect x="1084.2" y="75" width="14.9" height="15.1" fill="#9f9f9f"/>
<rect x="1098.8" y="75" width="14.9" height="15.1" fill="#acacac"/>
<rect x="1113.4" y="75" width="14.9" height="15.1" fill="#a8a8a8"/>
<rect x="1128.1" y="75" width="14.9" height="15.1" fill="#a2a2a2"/>
<rect x="1142.7" y="75" width="14.9" height="15.1" fill="#909090"/>
<rect x="1157.3" y="75" width="14.9" height="15.1" fill="#909090"/>
<rect x="1171.9" y="75" width="14.9" height="15.1" fill="#7f7f7f"/>
<rect x="1186.5" y="75" width="14.9" height="15.1" fill="#a3a3a3"/>
<rect x="1201.2" y="75" width="14.9" height="15.1" fill="#808080"/>
<rect x="1215.8" y="75" width="14.9" height="15.1" fill="#a6a6a6"/>
<rect x="1230.4" y="75" width="14.9" height="15.1" fill="#b3b3b3"/>
<rect x="1245" y="75" width="14.9" height="15.1" fill="#8b8b8b"/>
<rect x="1259.6" y="75" width="14.9" height="15.1" fill="#909090"/>
<rect x="1274.3" y="75" width="14.9" height="15.1" fill="#939393"/>
<rect x="1288.9" y="75" width="14.9" height="15.1" fill="#a5a5a5"/>
<rect x="1303.5" y="75" width="14.9" height="15.1" fill="#8d8d8d"/>
<rect x="1318.1" y="75" width="14.9" height="15.1" fill="#989898"/>
<rect x="1332.8" y="75" width="14.9" height="15.1" fill="#929292"/>
<rect x="1347.4" y="75" width="14.9" height="15.1" fill="#969696"/>
<rect x="1025.7" y="89.9" width="14.9" height="15.1" fill="#797979"/>
<rect x="1040.3" y="89.9" width="14.9" height="15.1" fill="#5e5e5e"/>
<rect x="1054.9" y="89.9" width="14.9" height="15.1" fill="#6a6a6a"/>
<rect x="1069.6" y="89.9" width="14.9" height="15.1" fill="#6d6d6d"/>
<rect x="1084.2" y="89.9" width="14.9" height="15.1" fill="#747474"/>
<rect x="1098.8" y="89.9" width="14.9" height="15.1" fill="#5a5a5a"/>
<rect x="1113.4" y="89.9" width="14.9" height="15.1" fill="#777777"/>
<rect x="1128.1" y="89.9" width="14.9" height="15.1" fill="#6f6f6f"/>
<rect x="1142.7" y="89.9" width="14.9" height="15.1" fill="#747474"/>
<rect x="1157.3" y="89.9" width="14.9" height="15.1" fill="#6a6a6a"/>
<rect x="1171.9" y="89.9" width="14.9" height="15.1" fill="#565656"/>
<rect x="1186.5" y="89.9" width="14.9" height="15.1" fill="#626262"/>
<rect x="1201.2" y="89.9" width="14.9" height="15.1" fill="#737373"/>
<rect x="1215.8" y="89.9" width="14.9" height="15.1" fill="#6a6a6a"/>
<rect x="1230.4" y="89.9" width="14.9" height="15.1" fill="#696969"/>
<rect x="1245" y="89.9" width="14.9" height="15.1" fill="#7f7f7f"/>
<rect x="1259.6" y="89.9" width="14.9" height="15.1" fill="#848484"/>
<rect x="1274.3" y="89.9" width="14.9" height="15.1" fill="#696969"/>
<rect x="1288.9" y="89.9" width="14.9" height="15.1" fill="#818181"/>
<rect x="1303.5" y="89.9" width="14.9" height="15.1" fill="#525252"/>
<rect x="1318.1" y="89.9" width="14.9" height="15.1" fill="#515151"/>
<rect x="1332.8" y="89.9" width="14.9" height="15.1" fill="#747474"/>
<rect x="1347.4" y="89.9" width="14.9" height="15.1" fill="#666666"/>
<rect x="1025.7" y="104.7" width="14.9" height="15.1" fill="#8c8c8c"/>
<rect x="1040.3" y="104.7" width="14.9" height="15.1" fill="#8b8b8b"/>
<rect x="1054.9" y="104.7" width="14.9" height="15.1" fill="#818181"/>
<rect x="1069.6" y="104.7" width="14.9" height="15.1" fill="#8d8d8d"/>
<rect x="1084.2" y="104.7" width="14.9" height="15.1" fill="#858585"/>
<rect x="1098.8" y="104.7" width="14.9" height="15.1" fill="#6a6a6a"/>
<rect x="1113.4" y="104.7" width="14.9" height="15.1" fill="#868686"/>
<rect x="1128.1" y="104.7" width="14.9" height="15.1" fill="#858585"/>
<rect x="1142.7" y="104.7" width="14.9" height="15.1" fill="#a0a0a0"/>
<rect x="1157.3" y="104.7" width="14.9" height="15.1" fill="#707070"/>
<rect x="1171.9" y="104.7" width="14.9" height="15.1" fill="#838383"/>
<rect x="1186.5" y="104.7" width="14.9" height="15.1" fill="#7c7c7c"/>
<rect x="1201.2" y="104.7" width="14.9" height="15.1" fill="#808080"/>
<rect x="1215.8" y="104.7" width="14.9" height="15.1" fill="#9d9d9d"/>
<rect x="1230.4" y="104.7" width="14.9" height="15.1" fill="#898989"/>
<rect x="1245" y="104.7" width="14.9" height="15.1" fill="#7b7b7b"/>
<rect x="1259.6" y="104.7" width="14.9" height="15.1" fill="#858585"/>
<rect x="1274.3" y="104.7" width="14.9" height="15.1" fill="#8f8f8f"/>
<rect x="1288.9" y="104.7" width="14.9" height="15.1" fill="#737373"/>
<rect x="1303.5" y="104.7" width="14.9" height="15.1" fill="#7e7e7e"/>
<rect x="1318.1" y="104.7" width="14.9" height="15.1" fill="#9b9b9b"/>
<rect x="1332.8" y="104.7" width="14.9" height="15.1" fill="#909090"/>
<rect x="1347.4" y="104.7" width="14.9" height="15.1" fill="#828282"/>
<rect x="1025.7" y="119.5" width="14.9" height="15.1" fill="#979797"/>
<rect x="1040.3" y="119.5" width="14.9" height="15.1" fill="#9d9d9d"/>
<rect x="1054.9" y="119.5" width="14.9" height="15.1" fill="#848484"/>
<rect x="1069.6" y="119.5" width="14.9" height="15.1" fill="#b0b0b0"/>
<rect x="1084.2" y="119.5" width="14.9" height="15.1" fill="#a6a6a6"/>
<rect x="1098.8" y="119.5" width="14.9" height="15.1" fill="#a2a2a2"/>
<rect x="1113.4" y="119.5" width="14.9" height="15.1" fill="#888888"/>
<rect x="1128.1" y="119.5" width="14.9" height="15.1" fill="#939393"/>
<rect x="1142.7" y="119.5" width="14.9" height="15.1" fill="#a9a9a9"/>
<rect x="1157.3" y="119.5" width="14.9" height="15.1" fill="#a4a4a4"/>
<rect x="1171.9" y="119.5" width="14.9" height="15.1" fill="#979797"/>
<rect x="1186.5" y="119.5" width="14.9" height="15.1" fill="#a9a9a9"/>
<rect x="1201.2" y="119.5" width="14.9" height="15.1" fill="#b0b0b0"/>
<rect x="1215.8" y="119.5" width="14.9" height="15.1" fill="#939393"/>
<rect x="1230.4" y="119.5" width="14.9" height="15.1" fill="#969696"/>
<rect x="1245" y="119.5" width="14.9" height="15.1" fill="#909090"/>
<rect x="1259.6" y="119.5" width="14.9" height="15.1" fill="#8b8b8b"/>
<rect x="1274.3" y="119.5" width="14.9" height="15.1" fill="#aeaeae"/>
<rect x="1288.9" y="119.5" width="14.9" height="15.1" fill="#a9a9a9"/>
<rect x="1303.5" y="119.5" width="14.9" height="15.1" fill="#a6a6a6"/>
<rect x="1318.1" y="119.5" width="14.9" height="15.1" fill="#8a8a8a"/>
<rect x="1332.8" y="119.5" width="14.9" height="15.1" fill="#8d8d8d"/>
<rect x="1347.4" y="119.5" width="14.9" height="15.1" fill="#9e9e9e"/>
<rect x="1025.7" y="134.3" width="14.9" height="15.1" fill="#888888"/>
<rect x="1040.3" y="134.3" width="14.9" height="15.1" fill="#8f8f8f"/>
<rect x="1054.9" y="134.3" width="14.9" height="15.1" fill="#848484"/>
<rect x="1069.6" y="134.3" width="14.9" height="15.1" fill="#979797"/>
<rect x="1084.2" y="134.3" width="14.9" height="15.1" fill="#a7a7a7"/>
<rect x="1098.8" y="134.3" width="14.9" height="15.1" fill="#a3a3a3"/>
<rect x="1113.4" y="134.3" width="14.9" height="15.1" fill="#a4a4a4"/>
<rect x="1128.1" y="134.3" width="14.9" height="15.1" fill="#8e8e8e"/>
<rect x="1142.7" y="134.3" width="14.9" height="15.1" fill="#9a9a9a"/>
<rect x="1157.3" y="134.3" width="14.9" height="15.1" fill="#888888"/>
<rect x="1171.9" y="134.3" width="14.9" height="15.1" fill="#9a9a9a"/>
<rect x="1186.5" y="134.3" width="14.9" height="15.1" fill="#888888"/>
<rect x="1201.2" y="134.3" width="14.9" height="15.1" fill="#878787"/>
<rect x="1215.8" y="134.3" width="14.9" height="15.1" fill="#848484"/>
<rect x="1230.4" y="134.3" width="14.9" height="15.1" fill="#979797"/>
<rect x="1245" y="134.3" width="14.9" height="15.1" fill="#919191"/>
<rect x="1259.6" y="134.3" width="14.9" height="15.1" fill="#909090"/>
<rect x="1274.3" y="134.3" width="14.9" height="15.1" fill="#7e7e7e"/>
<rect x="1288.9" y="134.3" width="14.9" height="15.1" fill="#8f8f8f"/>
<rect x="1303.5" y="134.3" width="14.9" height="15.1" fill="#797979"/>
<rect x="1318.1" y="134.3" width="14.9" height="15.1" fill="#a2a2a2"/>
<rect x="1332.8" y="134.3" width="14.9" height="15.1" fill="#8c8c8c"/>
<rect x="1347.4" y="134.3" width="14.9" height="15.1" fill="#909090"/>
<rect x="1025.7" y="149.1" width="14.9" height="15.1" fill="#686868"/>
<rect x="1040.3" y="149.1" width="14.9" height="15.1" fill="#5a5a5a"/>
<rect x="1054.9" y="149.1" width="14.9" height="15.1" fill="#5c5c5c"/>
<rect x="1069.6" y="149.1" width="14.9" height="15.1" fill="#696969"/>
<rect x="1084.2" y="149.1" width="14.9" height="15.1" fill="#787878"/>
<rect x="1098.8" y="149.1" width="14.9" height="15.1" fill="#5e5e5e"/>
<rect x="1113.4" y="149.1" width="14.9" height="15.1" fill="#626262"/>
<rect x="1128.1" y="149.1" width="14.9" height="15.1" fill="#696969"/>
<rect x="1142.7" y="149.1" width="14.9" height="15.1" fill="#595959"/>
<rect x="1157.3" y="149.1" width="14.9" height="15.1" fill="#595959"/>
<rect x="1171.9" y="149.1" width="14.9" height="15.1" fill="#656565"/>
<rect x="1186.5" y="149.1" width="14.9" height="15.1" fill="#696969"/>
<rect x="1201.2" y="149.1" width="14.9" height="15.1" fill="#666666"/>
<rect x="1215.8" y="149.1" width="14.9" height="15.1" fill="#797979"/>
<rect x="1230.4" y="149.1" width="14.9" height="15.1" fill="#686868"/>
<rect x="1245" y="149.1" width="14.9" height="15.1" fill="#6d6d6d"/>
<rect x="1259.6" y="149.1" width="14.9" height="15.1" fill="#797979"/>
<rect x="1274.3" y="149.1" width="14.9" height="15.1" fill="#7b7b7b"/>
<rect x="1288.9" y="149.1" width="14.9" height="15.1" fill="#5a5a5a"/>
<rect x="1303.5" y="149.1" width="14.9" height="15.1" fill="#666666"/>
<rect x="1318.1" y="149.1" width="14.9" height="15.1" fill="#757575"/>
<rect x="1332.8" y="149.1" width="14.9" height="15.1" fill="#5c5c5c"/>
<rect x="1347.4" y="149.1" width="14.9" height="15.1" fill="#606060"/>
<rect x="1025.7" y="164" width="14.9" height="15.1" fill="#727272"/>
<rect x="1040.3" y="164" width="14.9" height="15.1" fill="#717171"/>
<rect x="1054.9" y="164" width="14.9" height="15.1" fill="#757575"/>
<rect x="1069.6" y="164" width="14.9" height="15.1" fill="#878787"/>
<rect x="1084.2" y="164" width="14.9" height="15.1" fill="#969696"/>
<rect x="1098.8" y="164" width="14.9" height="15.1" fill="#9a9a9a"/>
<rect x="1113.4" y="164" width="14.9" height="15.1" fill="#858585"/>
<rect x="1128.1" y="164" width="14.9" height="15.1" fill="#696969"/>
<rect x="1142.7" y="164" width="14.9" height="15.1" fill="#848484"/>
<rect x="1157.3" y="164" width="14.9" height="15.1" fill="#808080"/>
<rect x="1171.9" y="164" width="14.9" height="15.1" fill="#898989"/>
<rect x="1186.5" y="164" width="14.9" height="15.1" fill="#838383"/>
<rect x="1201.2" y="164" width="14.9" height="15.1" fill="#6b6b6b"/>
<rect x="1215.8" y="164" width="14.9" height="15.1" fill="#8a8a8a"/>
<rect x="1230.4" y="164" width="14.9" height="15.1" fill="#686868"/>
<rect x="1245" y="164" width="14.9" height="15.1" fill="#7b7b7b"/>
<rect x="1259.6" y="164" width="14.9" height="15.1" fill="#898989"/>
<rect x="1274.3" y="164" width="14.9" height="15.1" fill="#898989"/>
<rect x="1288.9" y="164" width="14.9" height="15.1" fill="#9a9a9a"/>
<rect x="1303.5" y="164" width="14.9" height="15.1" fill="#636363"/>
<rect x="1318.1" y="164" width="14.9" height="15.1" fill="#898989"/>
<rect x="1332.8" y="164" width="14.9" height="15.1" fill="#8e8e8e"/>
<rect x="1347.4" y="164" width="14.9" height="15.1" fill="#808080"/>
<rect x="1025.7" y="178.8" width="14.9" height="15.1" fill="#cdcdcd"/>
<rect x="1040.3" y="178.8" width="14.9" height="15.1" fill="#a0a0a0"/>
<rect x="1054.9" y="178.8" width="14.9" height="15.1" fill="#cecece"/>
<rect x="1069.6" y="178.8" width="14.9" height="15.1" fill="#cacaca"/>
<rect x="1084.2" y="178.8" width="14.9" height="15.1" fill="#a3a3a3"/>
<rect x="1098.8" y="178.8" width="14.9" height="15.1" fill="#ababab"/>
<rect x="1113.4" y="178.8" width="14.9" height="15.1" fill="#b8b8b8"/>
<rect x="1128.1" y="178.8" width="14.9" height="15.1" fill="#ababab"/>
<rect x="1142.7" y="178.8" width="14.9" height="15.1" fill="#d8d8d8"/>
<rect x="1157.3" y="178.8" width="14.9" height="15.1" fill="#c1c1c1"/>
<rect x="1171.9" y="178.8" width="14.9" height="15.1" fill="#dfdfdf"/>
<rect x="1186.5" y="178.8" width="14.9" height="15.1" fill="#dbdbdb"/>
<rect x="1201.2" y="178.8" width="14.9" height="15.1" fill="#bebebe"/>
<rect x="1215.8" y="178.8" width="14.9" height="15.1" fill="#b7b7b7"/>
<rect x="1230.4" y="178.8" width="14.9" height="15.1" fill="#a4a4a4"/>
<rect x="1245" y="178.8" width="14.9" height="15.1" fill="#a8a8a8"/>
<rect x="1259.6" y="178.8" width="14.9" height="15.1" fill="#a8a8a8"/>
<rect x="1274.3" y="178.8" width="14.9" height="15.1" fill="#c6c6c6"/>
<rect x="1288.9" y="178.8" width="14.9" height="15.1" fill="#a6a6a6"/>
<rect x="1303.5" y="178.8" width="14.9" height="15.1" fill="#bfbfbf"/>
<rect x="1318.1" y="178.8" width="14.9" height="15.1" fill="#c2c2c2"/>
<rect x="1332.8" y="178.8" width="14.9" height="15.1" fill="#b0b0b0"/>
<rect x="1347.4" y="178.8" width="14.9" height="15.1" fill="#b8b8b8"/>
<rect x="1025.7" y="193.6" width="14.9" height="15.1" fill="#f6f6f6"/>
<rect x="1040.3" y="193.6" width="14.9" height="15.1" fill="#fafafa"/>
<rect x="1054.9" y="193.6" width="14.9" height="15.1" fill="#c1c1c1"/>
<rect x="1069.6" y="193.6" width="14.9" height="15.1" fill="#cfcfcf"/>
<rect x="1084.2" y="193.6" width="14.9" height="15.1" fill="#cbcbcb"/>
<rect x="1098.8" y="193.6" width="14.9" height="15.1" fill="#cdcdcd"/>
<rect x="1113.4" y="193.6" width="14.9" height="15.1" fill="#f8f8f8"/>
<rect x="1128.1" y="193.6" width="14.9" height="15.1" fill="#e4e4e4"/>
<rect x="1142.7" y="193.6" width="14.9" height="15.1" fill="#f2f2f2"/>
<rect x="1157.3" y="193.6" width="14.9" height="15.1" fill="#fefefe"/>
<rect x="1171.9" y="193.6" width="14.9" height="15.1" fill="#c9c9c9"/>
<rect x="1186.5" y="193.6" width="14.9" height="15.1" fill="#cfcfcf"/>
<rect x="1201.2" y="193.6" width="14.9" height="15.1" fill="#d4d4d4"/>
<rect x="1215.8" y="193.6" width="14.9" height="15.1" fill="#ececec"/>
<rect x="1230.4" y="193.6" width="14.9" height="15.1" fill="#d1d1d1"/>
<rect x="1245" y="193.6" width="14.9" height="15.1" fill="#e3e3e3"/>
<rect x="1259.6" y="193.6" width="14.9" height="15.1" fill="#f0f0f0"/>
<rect x="1274.3" y="193.6" width="14.9" height="15.1" fill="#efefef"/>
<rect x="1288.9" y="193.6" width="14.9" height="15.1" fill="#dedede"/>
<rect x="1303.5" y="193.6" width="14.9" height="15.1" fill="#c1c1c1"/>
<rect x="1318.1" y="193.6" width="14.9" height="15.1" fill="#aeaeae"/>
<rect x="1332.8" y="193.6" width="14.9" height="15.1" fill="#eeeeee"/>
<rect x="1347.4" y="193.6" width="14.9" height="15.1" fill="#dedede"/>
<rect x="1025.7" y="208.4" width="14.9" height="15.1" fill="#7e7e7e"/>
<rect x="1040.3" y="208.4" width="14.9" height="15.1" fill="#848484"/>
<rect x="1054.9" y="208.4" width="14.9" height="15.1" fill="#858585"/>
<rect x="1069.6" y="208.4" width="14.9" height="15.1" fill="#747474"/>
<rect x="1084.2" y="208.4" width="14.9" height="15.1" fill="#8f8f8f"/>
<rect x="1098.8" y="208.4" width="14.9" height="15.1" fill="#808080"/>
<rect x="1113.4" y="208.4" width="14.9" height="15.1" fill="#878787"/>
<rect x="1128.1" y="208.4" width="14.9" height="15.1" fill="#969696"/>
<rect x="1142.7" y="208.4" width="14.9" height="15.1" fill="#8a8a8a"/>
<rect x="1157.3" y="208.4" width="14.9" height="15.1" fill="#939393"/>
<rect x="1171.9" y="208.4" width="14.9" height="15.1" fill="#919191"/>
<rect x="1186.5" y="208.4" width="14.9" height="15.1" fill="#8c8c8c"/>
<rect x="1201.2" y="208.4" width="14.9" height="15.1" fill="#8c8c8c"/>
<rect x="1215.8" y="208.4" width="14.9" height="15.1" fill="#a6a6a6"/>
<rect x="1230.4" y="208.4" width="14.9" height="15.1" fill="#898989"/>
<rect x="1245" y="208.4" width="14.9" height="15.1" fill="#a2a2a2"/>
<rect x="1259.6" y="208.4" width="14.9" height="15.1" fill="#7f7f7f"/>
<rect x="1274.3" y="208.4" width="14.9" height="15.1" fill="#969696"/>
<rect x="1288.9" y="208.4" width="14.9" height="15.1" fill="#8e8e8e"/>
<rect x="1303.5" y="208.4" width="14.9" height="15.1" fill="#818181"/>
<rect x="1318.1" y="208.4" width="14.9" height="15.1" fill="#666666"/>
<rect x="1332.8" y="208.4" width="14.9" height="15.1" fill="#a2a2a2"/>
<rect x="1347.4" y="208.4" width="14.9" height="15.1" fill="#7b7b7b"/>
<rect x="1025.7" y="223.2" width="14.9" height="15.1" fill="#5c5c5c"/>
<rect x="1040.3" y="223.2" width="14.9" height="15.1" fill="#676767"/>
<rect x="1054.9" y="223.2" width="14.9" height="15.1" fill="#666666"/>
<rect x="1069.6" y="223.2" width="14.9" height="15.1" fill="#686868"/>
<rect x="1084.2" y="223.2" width="14.9" height="15.1" fill="#636363"/>
<rect x="1098.8" y="223.2" width="14.9" height="15.1" fill="#575757"/>
<rect x="1113.4" y="223.2" width="14.9" height="15.1" fill="#6e6e6e"/>
<rect x="1128.1" y="223.2" width="14.9" height="15.1" fill="#5c5c5c"/>
<rect x="1142.7" y="223.2" width="14.9" height="15.1" fill="#686868"/>
<rect x="1157.3" y="223.2" width="14.9" height="15.1" fill="#6b6b6b"/>
<rect x="1171.9" y="223.2" width="14.9" height="15.1" fill="#717171"/>
<rect x="1186.5" y="223.2" width="14.9" height="15.1" fill="#636363"/>
<rect x="1201.2" y="223.2" width="14.9" height="15.1" fill="#626262"/>
<rect x="1215.8" y="223.2" width="14.9" height="15.1" fill="#636363"/>
<rect x="1230.4" y="223.2" width="14.9" height="15.1" fill="#535353"/>
<rect x="1245" y="223.2" width="14.9" height="15.1" fill="#5e5e5e"/>
<rect x="1259.6" y="223.2" width="14.9" height="15.1" fill="#5b5b5b"/>
<rect x="1274.3" y="223.2" width="14.9" height="15.1" fill="#5a5a5a"/>
<rect x="1288.9" y="223.2" width="14.9" height="15.1" fill="#676767"/>
<rect x="1303.5" y="223.2" width="14.9" height="15.1" fill="#626262"/>
<rect x="1318.1" y="223.2" width="14.9" height="15.1" fill="#757575"/>
<rect x="1332.8" y="223.2" width="14.9" height="15.1" fill="#747474"/>
<rect x="1347.4" y="223.2" width="14.9" height="15.1" fill="#535353"/>
<rect x="1025.7" y="238.1" width="14.9" height="15.1" fill="#818181"/>
<rect x="1040.3" y="238.1" width="14.9" height="15.1" fill="#717171"/>
<rect x="1054.9" y="238.1" width="14.9" height="15.1" fill="#878787"/>
<rect x="1069.6" y="238.1" width="14.9" height="15.1" fill="#828282"/>
<rect x="1084.2" y="238.1" width="14.9" height="15.1" fill="#8d8d8d"/>
<rect x="1098.8" y="238.1" width="14.9" height="15.1" fill="#848484"/>
<rect x="1113.4" y="238.1" width="14.9" height="15.1" fill="#8a8a8a"/>
<rect x="1128.1" y="238.1" width="14.9" height="15.1" fill="#7b7b7b"/>
<rect x="1142.7" y="238.1" width="14.9" height="15.1" fill="#5c5c5c"/>
<rect x="1157.3" y="238.1" width="14.9" height="15.1" fill="#6f6f6f"/>
<rect x="1171.9" y="238.1" width="14.9" height="15.1" fill="#747474"/>
<rect x="1186.5" y="238.1" width="14.9" height="15.1" fill="#797979"/>
<rect x="1201.2" y="238.1" width="14.9" height="15.1" fill="#717171"/>
<rect x="1215.8" y="238.1" width="14.9" height="15.1" fill="#969696"/>
<rect x="1230.4" y="238.1" width="14.9" height="15.1" fill="#7d7d7d"/>
<rect x="1245" y="238.1" width="14.9" height="15.1" fill="#929292"/>
<rect x="1259.6" y="238.1" width="14.9" height="15.1" fill="#7b7b7b"/>
<rect x="1274.3" y="238.1" width="14.9" height="15.1" fill="#979797"/>
<rect x="1288.9" y="238.1" width="14.9" height="15.1" fill="#6f6f6f"/>
<rect x="1303.5" y="238.1" width="14.9" height="15.1" fill="#888888"/>
<rect x="1318.1" y="238.1" width="14.9" height="15.1" fill="#6d6d6d"/>
<rect x="1332.8" y="238.1" width="14.9" height="15.1" fill="#868686"/>
<rect x="1347.4" y="238.1" width="14.9" height="15.1" fill="#969696"/>
<rect x="1025.7" y="252.9" width="14.9" height="15.1" fill="#828282"/>
<rect x="1040.3" y="252.9" width="14.9" height="15.1" fill="#909090"/>
<rect x="1054.9" y="252.9" width="14.9" height="15.1" fill="#a4a4a4"/>
<rect x="1069.6" y="252.9" width="14.9" height="15.1" fill="#9c9c9c"/>
<rect x="1084.2" y="252.9" width="14.9" height="15.1" fill="#878787"/>
<rect x="1098.8" y="252.9" width="14.9" height="15.1" fill="#b4b4b4"/>
<rect x="1113.4" y="252.9" width="14.9" height="15.1" fill="#a0a0a0"/>
<rect x="1128.1" y="252.9" width="14.9" height="15.1" fill="#b7b7b7"/>
<rect x="1142.7" y="252.9" width="14.9" height="15.1" fill="#a5a5a5"/>
<rect x="1157.3" y="252.9" width="14.9" height="15.1" fill="#8b8b8b"/>
<rect x="1171.9" y="252.9" width="14.9" height="15.1" fill="#979797"/>
<rect x="1186.5" y="252.9" width="14.9" height="15.1" fill="#b8b8b8"/>
<rect x="1201.2" y="252.9" width="14.9" height="15.1" fill="#878787"/>
<rect x="1215.8" y="252.9" width="14.9" height="15.1" fill="#979797"/>
<rect x="1230.4" y="252.9" width="14.9" height="15.1" fill="#aaaaaa"/>
<rect x="1245" y="252.9" width="14.9" height="15.1" fill="#b2b2b2"/>
<rect x="1259.6" y="252.9" width="14.9" height="15.1" fill="#aeaeae"/>
<rect x="1274.3" y="252.9" width="14.9" height="15.1" fill="#858585"/>
<rect x="1288.9" y="252.9" width="14.9" height="15.1" fill="#c5c5c5"/>
<rect x="1303.5" y="252.9" width="14.9" height="15.1" fill="#9d9d9d"/>
<rect x="1318.1" y="252.9" width="14.9" height="15.1" fill="#a0a0a0"/>
<rect x="1332.8" y="252.9" width="14.9" height="15.1" fill="#9f9f9f"/>
<rect x="1347.4" y="252.9" width="14.9" height="15.1" fill="#9b9b9b"/>
<rect x="1025.7" y="267.7" width="14.9" height="15.1" fill="#838383"/>
<rect x="1040.3" y="267.7" width="14.9" height="15.1" fill="#8c8c8c"/>
<rect x="1054.9" y="267.7" width="14.9" height="15.1" fill="#a3a3a3"/>
<rect x="1069.6" y="267.7" width="14.9" height="15.1" fill="#7d7d7d"/>
<rect x="1084.2" y="267.7" width="14.9" height="15.1" fill="#6e6e6e"/>
<rect x="1098.8" y="267.7" width="14.9" height="15.1" fill="#989898"/>
<rect x="1113.4" y="267.7" width="14.9" height="15.1" fill="#959595"/>
<rect x="1128.1" y="267.7" width="14.9" height="15.1" fill="#9b9b9b"/>
<rect x="1142.7" y="267.7" width="14.9" height="15.1" fill="#a9a9a9"/>
<rect x="1157.3" y="267.7" width="14.9" height="15.1" fill="#868686"/>
<rect x="1171.9" y="267.7" width="14.9" height="15.1" fill="#939393"/>
<rect x="1186.5" y="267.7" width="14.9" height="15.1" fill="#989898"/>
<rect x="1201.2" y="267.7" width="14.9" height="15.1" fill="#a2a2a2"/>
<rect x="1215.8" y="267.7" width="14.9" height="15.1" fill="#9f9f9f"/>
<rect x="1230.4" y="267.7" width="14.9" height="15.1" fill="#858585"/>
<rect x="1245" y="267.7" width="14.9" height="15.1" fill="#7d7d7d"/>
<rect x="1259.6" y="267.7" width="14.9" height="15.1" fill="#8d8d8d"/>
<rect x="1274.3" y="267.7" width="14.9" height="15.1" fill="#7a7a7a"/>
<rect x="1288.9" y="267.7" width="14.9" height="15.1" fill="#a0a0a0"/>
<rect x="1303.5" y="267.7" width="14.9" height="15.1" fill="#8b8b8b"/>
<rect x="1318.1" y="267.7" width="14.9" height="15.1" fill="#8c8c8c"/>
<rect x="1332.8" y="267.7" width="14.9" height="15.1" fill="#848484"/>
<rect x="1347.4" y="267.7" width="14.9" height="15.1" fill="#a6a6a6"/>
<rect x="1025.7" y="282.5" width="14.9" height="15.1" fill="#6e6e6e"/>
<rect x="1040.3" y="282.5" width="14.9" height="15.1" fill="#676767"/>
<rect x="1054.9" y="282.5" width="14.9" height="15.1" fill="#727272"/>
<rect x="1069.6" y="282.5" width="14.9" height="15.1" fill="#6b6b6b"/>
<rect x="1084.2" y="282.5" width="14.9" height="15.1" fill="#717171"/>
<rect x="1098.8" y="282.5" width="14.9" height="15.1" fill="#797979"/>
<rect x="1113.4" y="282.5" width="14.9" height="15.1" fill="#696969"/>
<rect x="1128.1" y="282.5" width="14.9" height="15.1" fill="#717171"/>
<rect x="1142.7" y="282.5" width="14.9" height="15.1" fill="#707070"/>
<rect x="1157.3" y="282.5" width="14.9" height="15.1" fill="#777777"/>
<rect x="1171.9" y="282.5" width="14.9" height="15.1" fill="#717171"/>
<rect x="1186.5" y="282.5" width="14.9" height="15.1" fill="#6c6c6c"/>
<rect x="1201.2" y="282.5" width="14.9" height="15.1" fill="#656565"/>
<rect x="1215.8" y="282.5" width="14.9" height="15.1" fill="#6e6e6e"/>
<rect x="1230.4" y="282.5" width="14.9" height="15.1" fill="#616161"/>
<rect x="1245" y="282.5" width="14.9" height="15.1" fill="#727272"/>
<rect x="1259.6" y="282.5" width="14.9" height="15.1" fill="#6c6c6c"/>
<rect x="1274.3" y="282.5" width="14.9" height="15.1" fill="#717171"/>
<rect x="1288.9" y="282.5" width="14.9" height="15.1" fill="#666666"/>
<rect x="1303.5" y="282.5" width="14.9" height="15.1" fill="#636363"/>
<rect x="1318.1" y="282.5" width="14.9" height="15.1" fill="#626262"/>
<rect x="1332.8" y="282.5" width="14.9" height="15.1" fill="#777777"/>
<rect x="1347.4" y="282.5" width="14.9" height="15.1" fill="#696969"/>
<rect x="1025.7" y="297.3" width="14.9" height="15.1" fill="#777777"/>
<rect x="1040.3" y="297.3" width="14.9" height="15.1" fill="#646464"/>
<rect x="1054.9" y="297.3" width="14.9" height="15.1" fill="#797979"/>
<rect x="1069.6" y="297.3" width="14.9" height="15.1" fill="#505050"/>
<rect x="1084.2" y="297.3" width="14.9" height="15.1" fill="#8a8a8a"/>
<rect x="1098.8" y="297.3" width="14.9" height="15.1" fill="#777777"/>
<rect x="1113.4" y="297.3" width="14.9" height="15.1" fill="#7a7a7a"/>
<rect x="1128.1" y="297.3" width="14.9" height="15.1" fill="#686868"/>
<rect x="1142.7" y="297.3" width="14.9" height="15.1" fill="#6c6c6c"/>
<rect x="1157.3" y="297.3" width="14.9" height="15.1" fill="#818181"/>
<rect x="1171.9" y="297.3" width="14.9" height="15.1" fill="#777777"/>
<rect x="1186.5" y="297.3" width="14.9" height="15.1" fill="#7f7f7f"/>
<rect x="1201.2" y="297.3" width="14.9" height="15.1" fill="#898989"/>
<rect x="1215.8" y="297.3" width="14.9" height="15.1" fill="#818181"/>
<rect x="1230.4" y="297.3" width="14.9" height="15.1" fill="#636363"/>
<rect x="1245" y="297.3" width="14.9" height="15.1" fill="#6e6e6e"/>
<rect x="1259.6" y="297.3" width="14.9" height="15.1" fill="#6c6c6c"/>
<rect x="1274.3" y="297.3" width="14.9" height="15.1" fill="#6f6f6f"/>
<rect x="1288.9" y="297.3" width="14.9" height="15.1" fill="#616161"/>
<rect x="1303.5" y="297.3" width="14.9" height="15.1" fill="#616161"/>
<rect x="1318.1" y="297.3" width="14.9" height="15.1" fill="#717171"/>
<rect x="1332.8" y="297.3" width="14.9" height="15.1" fill="#727272"/>
<rect x="1347.4" y="297.3" width="14.9" height="15.1" fill="#808080"/>
<rect x="1025.7" y="312.2" width="14.9" height="15.1" fill="#b2b2b2"/>
<rect x="1040.3" y="312.2" width="14.9" height="15.1" fill="#d1d1d1"/>
<rect x="1054.9" y="312.2" width="14.9" height="15.1" fill="#979797"/>
<rect x="1069.6" y="312.2" width="14.9" height="15.1" fill="#9e9e9e"/>
<rect x="1084.2" y="312.2" width="14.9" height="15.1" fill="#bcbcbc"/>
<rect x="1098.8" y="312.2" width="14.9" height="15.1" fill="#b3b3b3"/>
<rect x="1113.4" y="312.2" width="14.9" height="15.1" fill="#a6a6a6"/>
<rect x="1128.1" y="312.2" width="14.9" height="15.1" fill="#c5c5c5"/>
<rect x="1142.7" y="312.2" width="14.9" height="15.1" fill="#cbcbcb"/>
<rect x="1157.3" y="312.2" width="14.9" height="15.1" fill="#cfcfcf"/>
<rect x="1171.9" y="312.2" width="14.9" height="15.1" fill="#b0b0b0"/>
<rect x="1186.5" y="312.2" width="14.9" height="15.1" fill="#b7b7b7"/>
<rect x="1201.2" y="312.2" width="14.9" height="15.1" fill="#bcbcbc"/>
<rect x="1215.8" y="312.2" width="14.9" height="15.1" fill="#b8b8b8"/>
<rect x="1230.4" y="312.2" width="14.9" height="15.1" fill="#cacaca"/>
<rect x="1245" y="312.2" width="14.9" height="15.1" fill="#afafaf"/>
<rect x="1259.6" y="312.2" width="14.9" height="15.1" fill="#bebebe"/>
<rect x="1274.3" y="312.2" width="14.9" height="15.1" fill="#909090"/>
<rect x="1288.9" y="312.2" width="14.9" height="15.1" fill="#c5c5c5"/>
<rect x="1303.5" y="312.2" width="14.9" height="15.1" fill="#d5d5d5"/>
<rect x="1318.1" y="312.2" width="14.9" height="15.1" fill="#b7b7b7"/>
<rect x="1332.8" y="312.2" width="14.9" height="15.1" fill="#cacaca"/>
<rect x="1347.4" y="312.2" width="14.9" height="15.1" fill="#9a9a9a"/>
<rect x="1025.7" y="327" width="14.9" height="15.1" fill="#b9b9b9"/>
<rect x="1040.3" y="327" width="14.9" height="15.1" fill="#a4a4a4"/>
<rect x="1054.9" y="327" width="14.9" height="15.1" fill="#c5c5c5"/>
<rect x="1069.6" y="327" width="14.9" height="15.1" fill="#c9c9c9"/>
<rect x="1084.2" y="327" width="14.9" height="15.1" fill="#a7a7a7"/>
<rect x="1098.8" y="327" width="14.9" height="15.1" fill="#b0b0b0"/>
<rect x="1113.4" y="327" width="14.9" height="15.1" fill="#b5b5b5"/>
<rect x="1128.1" y="327" width="14.9" height="15.1" fill="#ebebeb"/>
<rect x="1142.7" y="327" width="14.9" height="15.1" fill="#bebebe"/>
<rect x="1157.3" y="327" width="14.9" height="15.1" fill="#c2c2c2"/>
<rect x="1171.9" y="327" width="14.9" height="15.1" fill="#c6c6c6"/>
<rect x="1186.5" y="327" width="14.9" height="15.1" fill="#c5c5c5"/>
<rect x="1201.2" y="327" width="14.9" height="15.1" fill="#bbbbbb"/>
<rect x="1215.8" y="327" width="14.9" height="15.1" fill="#a8a8a8"/>
<rect x="1230.4" y="327" width="14.9" height="15.1" fill="#b3b3b3"/>
<rect x="1245" y="327" width="14.9" height="15.1" fill="#dddddd"/>
<rect x="1259.6" y="327" width="14.9" height="15.1" fill="#c4c4c4"/>
<rect x="1274.3" y="327" width="14.9" height="15.1" fill="#b9b9b9"/>
<rect x="1288.9" y="327" width="14.9" height="15.1" fill="#a7a7a7"/>
<rect x="1303.5" y="327" width="14.9" height="15.1" fill="#bebebe"/>
<rect x="1318.1" y="327" width="14.9" height="15.1" fill="#c0c0c0"/>
<rect x="1332.8" y="327" width="14.9" height="15.1" fill="#b4b4b4"/>
<rect x="1347.4" y="327" width="14.9" height="15.1" fill="#d0d0d0"/>
<rect x="1025.7" y="341.8" width="14.9" height="15.1" fill="#919191"/>
<rect x="1040.3" y="341.8" width="14.9" height="15.1" fill="#979797"/>
<rect x="1054.9" y="341.8" width="14.9" height="15.1" fill="#a5a5a5"/>
<rect x="1069.6" y="341.8" width="14.9" height="15.1" fill="#9d9d9d"/>
<rect x="1084.2" y="341.8" width="14.9" height="15.1" fill="#a9a9a9"/>
<rect x="1098.8" y="341.8" width="14.9" height="15.1" fill="#969696"/>
<rect x="1113.4" y="341.8" width="14.9" height="15.1" fill="#939393"/>
<rect x="1128.1" y="341.8" width="14.9" height="15.1" fill="#a0a0a0"/>
<rect x="1142.7" y="341.8" width="14.9" height="15.1" fill="#9c9c9c"/>
<rect x="1157.3" y="341.8" width="14.9" height="15.1" fill="#aaaaaa"/>
<rect x="1171.9" y="341.8" width="14.9" height="15.1" fill="#9f9f9f"/>
<rect x="1186.5" y="341.8" width="14.9" height="15.1" fill="#999999"/>
<rect x="1201.2" y="341.8" width="14.9" height="15.1" fill="#a0a0a0"/>
<rect x="1215.8" y="341.8" width="14.9" height="15.1" fill="#a3a3a3"/>
<rect x="1230.4" y="341.8" width="14.9" height="15.1" fill="#8a8a8a"/>
<rect x="1245" y="341.8" width="14.9" height="15.1" fill="#979797"/>
<rect x="1259.6" y="341.8" width="14.9" height="15.1" fill="#959595"/>
<rect x="1274.3" y="341.8" width="14.9" height="15.1" fill="#aaaaaa"/>
<rect x="1288.9" y="341.8" width="14.9" height="15.1" fill="#939393"/>
<rect x="1303.5" y="341.8" width="14.9" height="15.1" fill="#a8a8a8"/>
<rect x="1318.1" y="341.8" width="14.9" height="15.1" fill="#888888"/>
<rect x="1332.8" y="341.8" width="14.9" height="15.1" fill="#999999"/>
<rect x="1347.4" y="341.8" width="14.9" height="15.1" fill="#a8a8a8"/>
<rect x="1025.7" y="356.6" width="14.9" height="15.1" fill="#848484"/>
<rect x="1040.3" y="356.6" width="14.9" height="15.1" fill="#959595"/>
<rect x="1054.9" y="356.6" width="14.9" height="15.1" fill="#6f6f6f"/>
<rect x="1069.6" y="356.6" width="14.9" height="15.1" fill="#888888"/>
<rect x="1084.2" y="356.6" width="14.9" height="15.1" fill="#898989"/>
<rect x="1098.8" y="356.6" width="14.9" height="15.1" fill="#868686"/>
<rect x="1113.4" y="356.6" width="14.9" height="15.1" fill="#757575"/>
<rect x="1128.1" y="356.6" width="14.9" height="15.1" fill="#8f8f8f"/>
<rect x="1142.7" y="356.6" width="14.9" height="15.1" fill="#6c6c6c"/>
<rect x="1157.3" y="356.6" width="14.9" height="15.1" fill="#939393"/>
<rect x="1171.9" y="356.6" width="14.9" height="15.1" fill="#8b8b8b"/>
<rect x="1186.5" y="356.6" width="14.9" height="15.1" fill="#939393"/>
<rect x="1201.2" y="356.6" width="14.9" height="15.1" fill="#848484"/>
<rect x="1215.8" y="356.6" width="14.9" height="15.1" fill="#7a7a7a"/>
<rect x="1230.4" y="356.6" width="14.9" height="15.1" fill="#818181"/>
<rect x="1245" y="356.6" width="14.9" height="15.1" fill="#828282"/>
<rect x="1259.6" y="356.6" width="14.9" height="15.1" fill="#8f8f8f"/>
<rect x="1274.3" y="356.6" width="14.9" height="15.1" fill="#848484"/>
<rect x="1288.9" y="356.6" width="14.9" height="15.1" fill="#8c8c8c"/>
<rect x="1303.5" y="356.6" width="14.9" height="15.1" fill="#8d8d8d"/>
<rect x="1318.1" y="356.6" width="14.9" height="15.1" fill="#999999"/>
<rect x="1332.8" y="356.6" width="14.9" height="15.1" fill="#707070"/>
<rect x="1347.4" y="356.6" width="14.9" height="15.1" fill="#838383"/>
<rect x="1025.7" y="371.4" width="14.9" height="15.1" fill="#8d8d8d"/>
<rect x="1040.3" y="371.4" width="14.9" height="15.1" fill="#8d8d8d"/>
<rect x="1054.9" y="371.4" width="14.9" height="15.1" fill="#7e7e7e"/>
<rect x="1069.6" y="371.4" width="14.9" height="15.1" fill="#818181"/>
<rect x="1084.2" y="371.4" width="14.9" height="15.1" fill="#838383"/>
<rect x="1098.8" y="371.4" width="14.9" height="15.1" fill="#868686"/>
<rect x="1113.4" y="371.4" width="14.9" height="15.1" fill="#7e7e7e"/>
<rect x="1128.1" y="371.4" width="14.9" height="15.1" fill="#7d7d7d"/>
<rect x="1142.7" y="371.4" width="14.9" height="15.1" fill="#777777"/>
<rect x="1157.3" y="371.4" width="14.9" height="15.1" fill="#808080"/>
<rect x="1171.9" y="371.4" width="14.9" height="15.1" fill="#959595"/>
<rect x="1186.5" y="371.4" width="14.9" height="15.1" fill="#797979"/>
<rect x="1201.2" y="371.4" width="14.9" height="15.1" fill="#909090"/>
<rect x="1215.8" y="371.4" width="14.9" height="15.1" fill="#9c9c9c"/>
<rect x="1230.4" y="371.4" width="14.9" height="15.1" fill="#878787"/>
<rect x="1245" y="371.4" width="14.9" height="15.1" fill="#a1a1a1"/>
<rect x="1259.6" y="371.4" width="14.9" height="15.1" fill="#838383"/>
<rect x="1274.3" y="371.4" width="14.9" height="15.1" fill="#999999"/>
<rect x="1288.9" y="371.4" width="14.9" height="15.1" fill="#848484"/>
<rect x="1303.5" y="371.4" width="14.9" height="15.1" fill="#767676"/>
<rect x="1318.1" y="371.4" width="14.9" height="15.1" fill="#898989"/>
<rect x="1332.8" y="371.4" width="14.9" height="15.1" fill="#9c9c9c"/>
<rect x="1347.4" y="371.4" width="14.9" height="15.1" fill="#7e7e7e"/>
<rect x="1025.7" y="386.3" width="14.9" height="15.1" fill="#959595"/>
<rect x="1040.3" y="386.3" width="14.9" height="15.1" fill="#7a7a7a"/>
<rect x="1054.9" y="386.3" width="14.9" height="15.1" fill="#7c7c7c"/>
<rect x="1069.6" y="386.3" width="14.9" height="15.1" fill="#949494"/>
<rect x="1084.2" y="386.3" width="14.9" height="15.1" fill="#898989"/>
<rect x="1098.8" y="386.3" width="14.9" height="15.1" fill="#969696"/>
<rect x="1113.4" y="386.3" width="14.9" height="15.1" fill="#a3a3a3"/>
<rect x="1128.1" y="386.3" width="14.9" height="15.1" fill="#777777"/>
<rect x="1142.7" y="386.3" width="14.9" height="15.1" fill="#808080"/>
<rect x="1157.3" y="386.3" width="14.9" height="15.1" fill="#8d8d8d"/>
<rect x="1171.9" y="386.3" width="14.9" height="15.1" fill="#b6b6b6"/>
<rect x="1186.5" y="386.3" width="14.9" height="15.1" fill="#878787"/>
<rect x="1201.2" y="386.3" width="14.9" height="15.1" fill="#848484"/>
<rect x="1215.8" y="386.3" width="14.9" height="15.1" fill="#949494"/>
<rect x="1230.4" y="386.3" width="14.9" height="15.1" fill="#b2b2b2"/>
<rect x="1245" y="386.3" width="14.9" height="15.1" fill="#a1a1a1"/>
<rect x="1259.6" y="386.3" width="14.9" height="15.1" fill="#a9a9a9"/>
<rect x="1274.3" y="386.3" width="14.9" height="15.1" fill="#adadad"/>
<rect x="1288.9" y="386.3" width="14.9" height="15.1" fill="#b6b6b6"/>
<rect x="1303.5" y="386.3" width="14.9" height="15.1" fill="#9d9d9d"/>
<rect x="1318.1" y="386.3" width="14.9" height="15.1" fill="#888888"/>
<rect x="1332.8" y="386.3" width="14.9" height="15.1" fill="#979797"/>
<rect x="1347.4" y="386.3" width="14.9" height="15.1" fill="#959595"/>
<rect x="1025.7" y="401.1" width="14.9" height="15.1" fill="#909090"/>
<rect x="1040.3" y="401.1" width="14.9" height="15.1" fill="#848484"/>
<rect x="1054.9" y="401.1" width="14.9" height="15.1" fill="#878787"/>
<rect x="1069.6" y="401.1" width="14.9" height="15.1" fill="#878787"/>
<rect x="1084.2" y="401.1" width="14.9" height="15.1" fill="#888888"/>
<rect x="1098.8" y="401.1" width="14.9" height="15.1" fill="#9e9e9e"/>
<rect x="1113.4" y="401.1" width="14.9" height="15.1" fill="#8c8c8c"/>
<rect x="1128.1" y="401.1" width="14.9" height="15.1" fill="#7c7c7c"/>
<rect x="1142.7" y="401.1" width="14.9" height="15.1" fill="#737373"/>
<rect x="1157.3" y="401.1" width="14.9" height="15.1" fill="#939393"/>
<rect x="1171.9" y="401.1" width="14.9" height="15.1" fill="#656565"/>
<rect x="1186.5" y="401.1" width="14.9" height="15.1" fill="#727272"/>
<rect x="1201.2" y="401.1" width="14.9" height="15.1" fill="#7e7e7e"/>
<rect x="1215.8" y="401.1" width="14.9" height="15.1" fill="#888888"/>
<rect x="1230.4" y="401.1" width="14.9" height="15.1" fill="#6e6e6e"/>
<rect x="1245" y="401.1" width="14.9" height="15.1" fill="#d0d0d0"/>
<rect x="1259.6" y="401.1" width="14.9" height="15.1" fill="#bfbfbf"/>
<rect x="1274.3" y="401.1" width="14.9" height="15.1" fill="#a3a3a3"/>
<rect x="1288.9" y="401.1" width="14.9" height="15.1" fill="#969696"/>
<rect x="1303.5" y="401.1" width="14.9" height="15.1" fill="#a6a6a6"/>
<rect x="1318.1" y="401.1" width="14.9" height="15.1" fill="#707070"/>
<rect x="1332.8" y="401.1" width="14.9" height="15.1" fill="#7d7d7d"/>
<rect x="1347.4" y="401.1" width="14.9" height="15.1" fill="#8b8b8b"/>
<rect x="1025.7" y="415.9" width="14.9" height="15.1" fill="#353535"/>
<rect x="1040.3" y="415.9" width="14.9" height="15.1" fill="#2a2a2a"/>
<rect x="1054.9" y="415.9" width="14.9" height="15.1" fill="#2b2b2b"/>
<rect x="1069.6" y="415.9" width="14.9" height="15.1" fill="#212121"/>
<rect x="1084.2" y="415.9" width="14.9" height="15.1" fill="#353535"/>
<rect x="1098.8" y="415.9" width="14.9" height="15.1" fill="#292929"/>
<rect x="1113.4" y="415.9" width="14.9" height="15.1" fill="#0f0f0f"/>
<rect x="1128.1" y="415.9" width="14.9" height="15.1" fill="#262626"/>
<rect x="1142.7" y="415.9" width="14.9" height="15.1" fill="#686868"/>
<rect x="1157.3" y="415.9" width="14.9" height="15.1" fill="#626262"/>
<rect x="1171.9" y="415.9" width="14.9" height="15.1" fill="#4d4d4d"/>
<rect x="1186.5" y="415.9" width="14.9" height="15.1" fill="#383838"/>
<rect x="1201.2" y="415.9" width="14.9" height="15.1" fill="#363636"/>
<rect x="1215.8" y="415.9" width="14.9" height="15.1" fill="#363636"/>
<rect x="1230.4" y="415.9" width="14.9" height="15.1" fill="#464646"/>
<rect x="1245" y="415.9" width="14.9" height="15.1" fill="#252525"/>
<rect x="1259.6" y="415.9" width="14.9" height="15.1" fill="#363636"/>
<rect x="1274.3" y="415.9" width="14.9" height="15.1" fill="#262626"/>
<rect x="1288.9" y="415.9" width="14.9" height="15.1" fill="#3d3d3d"/>
<rect x="1303.5" y="415.9" width="14.9" height="15.1" fill="#404040"/>
<rect x="1318.1" y="415.9" width="14.9" height="15.1" fill="#343434"/>
<rect x="1332.8" y="415.9" width="14.9" height="15.1" fill="#383838"/>
<rect x="1347.4" y="415.9" width="14.9" height="15.1" fill="#1c1c1c"/>
<rect x="1025.7" y="430.7" width="14.9" height="15.1" fill="#2e2e2e"/>
<rect x="1040.3" y="430.7" width="14.9" height="15.1" fill="#0d0d0d"/>
<rect x="1054.9" y="430.7" width="14.9" height="15.1" fill="#494949"/>
<rect x="1069.6" y="430.7" width="14.9" height="15.1" fill="#373737"/>
<rect x="1084.2" y="430.7" width="14.9" height="15.1" fill="#070707"/>
<rect x="1098.8" y="430.7" width="14.9" height="15.1" fill="#000000"/>
<rect x="1113.4" y="430.7" width="14.9" height="15.1" fill="#3a3a3a"/>
<rect x="1128.1" y="430.7" width="14.9" height="15.1" fill="#131313"/>
<rect x="1142.7" y="430.7" width="14.9" height="15.1" fill="#5e5e5e"/>
<rect x="1157.3" y="430.7" width="14.9" height="15.1" fill="#3d3d3d"/>
<rect x="1171.9" y="430.7" width="14.9" height="15.1" fill="#555555"/>
<rect x="1186.5" y="430.7" width="14.9" height="15.1" fill="#161616"/>
<rect x="1201.2" y="430.7" width="14.9" height="15.1" fill="#2d2d2d"/>
<rect x="1215.8" y="430.7" width="14.9" height="15.1" fill="#1c1c1c"/>
<rect x="1230.4" y="430.7" width="14.9" height="15.1" fill="#3d3d3d"/>
<rect x="1245" y="430.7" width="14.9" height="15.1" fill="#141414"/>
<rect x="1259.6" y="430.7" width="14.9" height="15.1" fill="#393939"/>
<rect x="1274.3" y="430.7" width="14.9" height="15.1" fill="#222222"/>
<rect x="1288.9" y="430.7" width="14.9" height="15.1" fill="#2b2b2b"/>
<rect x="1303.5" y="430.7" width="14.9" height="15.1" fill="#050505"/>
<rect x="1318.1" y="430.7" width="14.9" height="15.1" fill="#020202"/>
<rect x="1332.8" y="430.7" width="14.9" height="15.1" fill="#353535"/>
<rect x="1347.4" y="430.7" width="14.9" height="15.1" fill="#0c0c0c"/>
<rect x="1025.7" y="445.5" width="14.9" height="15.1" fill="#161616"/>
<rect x="1040.3" y="445.5" width="14.9" height="15.1" fill="#161616"/>
<rect x="1054.9" y="445.5" width="14.9" height="15.1" fill="#0f0f0f"/>
<rect x="1069.6" y="445.5" width="14.9" height="15.1" fill="#1c1c1c"/>
<rect x="1084.2" y="445.5" width="14.9" height="15.1" fill="#090909"/>
<rect x="1098.8" y="445.5" width="14.9" height="15.1" fill="#0b0b0b"/>
<rect x="1113.4" y="445.5" width="14.9" height="15.1" fill="#252525"/>
<rect x="1128.1" y="445.5" width="14.9" height="15.1" fill="#101010"/>
<rect x="1142.7" y="445.5" width="14.9" height="15.1" fill="#222222"/>
<rect x="1157.3" y="445.5" width="14.9" height="15.1" fill="#222222"/>
<rect x="1171.9" y="445.5" width="14.9" height="15.1" fill="#2c2c2c"/>
<rect x="1186.5" y="445.5" width="14.9" height="15.1" fill="#1f1f1f"/>
<rect x="1201.2" y="445.5" width="14.9" height="15.1" fill="#040404"/>
<rect x="1215.8" y="445.5" width="14.9" height="15.1" fill="#121212"/>
<rect x="1230.4" y="445.5" width="14.9" height="15.1" fill="#151515"/>
<rect x="1245" y="445.5" width="14.9" height="15.1" fill="#282828"/>
<rect x="1259.6" y="445.5" width="14.9" height="15.1" fill="#1e1e1e"/>
<rect x="1274.3" y="445.5" width="14.9" height="15.1" fill="#141414"/>
<rect x="1288.9" y="445.5" width="14.9" height="15.1" fill="#1f1f1f"/>
<rect x="1303.5" y="445.5" width="14.9" height="15.1" fill="#151515"/>
<rect x="1318.1" y="445.5" width="14.9" height="15.1" fill="#202020"/>
<rect x="1332.8" y="445.5" width="14.9" height="15.1" fill="#1b1b1b"/>
<rect x="1347.4" y="445.5" width="14.9" height="15.1" fill="#272727"/>
<rect x="1025.7" y="460.4" width="14.9" height="15.1" fill="#1f1f1f"/>
<rect x="1040.3" y="460.4" width="14.9" height="15.1" fill="#252525"/>
<rect x="1054.9" y="460.4" width="14.9" height="15.1" fill="#1b1b1b"/>
<rect x="1069.6" y="460.4" width="14.9" height="15.1" fill="#232323"/>
<rect x="1084.2" y="460.4" width="14.9" height="15.1" fill="#1a1a1a"/>
<rect x="1098.8" y="460.4" width="14.9" height="15.1" fill="#222222"/>
<rect x="1113.4" y="460.4" width="14.9" height="15.1" fill="#1e1e1e"/>
<rect x="1128.1" y="460.4" width="14.9" height="15.1" fill="#1a1a1a"/>
<rect x="1142.7" y="460.4" width="14.9" height="15.1" fill="#171717"/>
<rect x="1157.3" y="460.4" width="14.9" height="15.1" fill="#191919"/>
<rect x="1171.9" y="460.4" width="14.9" height="15.1" fill="#202020"/>
<rect x="1186.5" y="460.4" width="14.9" height="15.1" fill="#050505"/>
<rect x="1201.2" y="460.4" width="14.9" height="15.1" fill="#282828"/>
<rect x="1215.8" y="460.4" width="14.9" height="15.1" fill="#040404"/>
<rect x="1230.4" y="460.4" width="14.9" height="15.1" fill="#1a1a1a"/>
<rect x="1245" y="460.4" width="14.9" height="15.1" fill="#181818"/>
<rect x="1259.6" y="460.4" width="14.9" height="15.1" fill="#232323"/>
<rect x="1274.3" y="460.4" width="14.9" height="15.1" fill="#1e1e1e"/>
<rect x="1288.9" y="460.4" width="14.9" height="15.1" fill="#1b1b1b"/>
<rect x="1303.5" y="460.4" width="14.9" height="15.1" fill="#1c1c1c"/>
<rect x="1318.1" y="460.4" width="14.9" height="15.1" fill="#252525"/>
<rect x="1332.8" y="460.4" width="14.9" height="15.1" fill="#333333"/>
<rect x="1347.4" y="460.4" width="14.9" height="15.1" fill="#1f1f1f"/>
<rect x="1025.7" y="475.2" width="14.9" height="15.1" fill="#030303"/>
<rect x="1040.3" y="475.2" width="14.9" height="15.1" fill="#131313"/>
<rect x="1054.9" y="475.2" width="14.9" height="15.1" fill="#1c1c1c"/>
<rect x="1069.6" y="475.2" width="14.9" height="15.1" fill="#393939"/>
<rect x="1084.2" y="475.2" width="14.9" height="15.1" fill="#101010"/>
<rect x="1098.8" y="475.2" width="14.9" height="15.1" fill="#141414"/>
<rect x="1113.4" y="475.2" width="14.9" height="15.1" fill="#1d1d1d"/>
<rect x="1128.1" y="475.2" width="14.9" height="15.1" fill="#1b1b1b"/>
<rect x="1142.7" y="475.2" width="14.9" height="15.1" fill="#0a0a0a"/>
<rect x="1157.3" y="475.2" width="14.9" height="15.1" fill="#212121"/>
<rect x="1171.9" y="475.2" width="14.9" height="15.1" fill="#0a0a0a"/>
<rect x="1186.5" y="475.2" width="14.9" height="15.1" fill="#151515"/>
<rect x="1201.2" y="475.2" width="14.9" height="15.1" fill="#252525"/>
<rect x="1215.8" y="475.2" width="14.9" height="15.1" fill="#0a0a0a"/>
<rect x="1230.4" y="475.2" width="14.9" height="15.1" fill="#141414"/>
<rect x="1245" y="475.2" width="14.9" height="15.1" fill="#282828"/>
<rect x="1259.6" y="475.2" width="14.9" height="15.1" fill="#151515"/>
<rect x="1274.3" y="475.2" width="14.9" height="15.1" fill="#0d0d0d"/>
<rect x="1288.9" y="475.2" width="14.9" height="15.1" fill="#121212"/>
<rect x="1303.5" y="475.2" width="14.9" height="15.1" fill="#202020"/>
<rect x="1318.1" y="475.2" width="14.9" height="15.1" fill="#080808"/>
<rect x="1332.8" y="475.2" width="14.9" height="15.1" fill="#111111"/>
<rect x="1347.4" y="475.2" width="14.9" height="15.1" fill="#090909"/>
<rect x="1025.7" y="490" width="14.9" height="15.1" fill="#0a0a0a"/>
<rect x="1040.3" y="490" width="14.9" height="15.1" fill="#222222"/>
<rect x="1054.9" y="490" width="14.9" height="15.1" fill="#151515"/>
<rect x="1069.6" y="490" width="14.9" height="15.1" fill="#111111"/>
<rect x="1084.2" y="490" width="14.9" height="15.1" fill="#1a1a1a"/>
<rect x="1098.8" y="490" width="14.9" height="15.1" fill="#0e0e0e"/>
<rect x="1113.4" y="490" width="14.9" height="15.1" fill="#090909"/>
<rect x="1128.1" y="490" width="14.9" height="15.1" fill="#212121"/>
<rect x="1142.7" y="490" width="14.9" height="15.1" fill="#1e1e1e"/>
<rect x="1157.3" y="490" width="14.9" height="15.1" fill="#0d0d0d"/>
<rect x="1171.9" y="490" width="14.9" height="15.1" fill="#1d1d1d"/>
<rect x="1186.5" y="490" width="14.9" height="15.1" fill="#242424"/>
<rect x="1201.2" y="490" width="14.9" height="15.1" fill="#1a1a1a"/>
<rect x="1215.8" y="490" width="14.9" height="15.1" fill="#1b1b1b"/>
<rect x="1230.4" y="490" width="14.9" height="15.1" fill="#090909"/>
<rect x="1245" y="490" width="14.9" height="15.1" fill="#141414"/>
<rect x="1259.6" y="490" width="14.9" height="15.1" fill="#030303"/>
<rect x="1274.3" y="490" width="14.9" height="15.1" fill="#212121"/>
<rect x="1288.9" y="490" width="14.9" height="15.1" fill="#141414"/>
<rect x="1303.5" y="490" width="14.9" height="15.1" fill="#232323"/>
<rect x="1318.1" y="490" width="14.9" height="15.1" fill="#0e0e0e"/>
<rect x="1332.8" y="490" width="14.9" height="15.1" fill="#1e1e1e"/>
<rect x="1347.4" y="490" width="14.9" height="15.1" fill="#060606"/>
<rect x="1025.7" y="504.8" width="14.9" height="15.1" fill="#131313"/>
<rect x="1040.3" y="504.8" width="14.9" height="15.1" fill="#1d1d1d"/>
<rect x="1054.9" y="504.8" width="14.9" height="15.1" fill="#1b1b1b"/>
<rect x="1069.6" y="504.8" width="14.9" height="15.1" fill="#171717"/>
<rect x="1084.2" y="504.8" width="14.9" height="15.1" fill="#070707"/>
<rect x="1098.8" y="504.8" width="14.9" height="15.1" fill="#252525"/>
<rect x="1113.4" y="504.8" width="14.9" height="15.1" fill="#1e1e1e"/>
<rect x="1128.1" y="504.8" width="14.9" height="15.1" fill="#232323"/>
<rect x="1142.7" y="504.8" width="14.9" height="15.1" fill="#232323"/>
<rect x="1157.3" y="504.8" width="14.9" height="15.1" fill="#141414"/>
<rect x="1171.9" y="504.8" width="14.9" height="15.1" fill="#1b1b1b"/>
<rect x="1186.5" y="504.8" width="14.9" height="15.1" fill="#323232"/>
<rect x="1201.2" y="504.8" width="14.9" height="15.1" fill="#0f0f0f"/>
<rect x="1215.8" y="504.8" width="14.9" height="15.1" fill="#1c1c1c"/>
<rect x="1230.4" y="504.8" width="14.9" height="15.1" fill="#121212"/>
<rect x="1245" y="504.8" width="14.9" height="15.1" fill="#292929"/>
<rect x="1259.6" y="504.8" width="14.9" height="15.1" fill="#191919"/>
<rect x="1274.3" y="504.8" width="14.9" height="15.1" fill="#0d0d0d"/>
<rect x="1288.9" y="504.8" width="14.9" height="15.1" fill="#111111"/>
<rect x="1303.5" y="504.8" width="14.9" height="15.1" fill="#090909"/>
<rect x="1318.1" y="504.8" width="14.9" height="15.1" fill="#000000"/>
<rect x="1332.8" y="504.8" width="14.9" height="15.1" fill="#000000"/>
<rect x="1347.4" y="504.8" width="14.9" height="15.1" fill="#101010"/>
<rect x="1025.7" y="519.6" width="14.9" height="15.1" fill="#0a0a0a"/>
<rect x="1040.3" y="519.6" width="14.9" height="15.1" fill="#171717"/>
<rect x="1054.9" y="519.6" width="14.9" height="15.1" fill="#0d0d0d"/>
<rect x="1069.6" y="519.6" width="14.9" height="15.1" fill="#181818"/>
<rect x="1084.2" y="519.6" width="14.9" height="15.1" fill="#272727"/>
<rect x="1098.8" y="519.6" width="14.9" height="15.1" fill="#0a0a0a"/>
<rect x="1113.4" y="519.6" width="14.9" height="15.1" fill="#090909"/>
<rect x="1128.1" y="519.6" width="14.9" height="15.1" fill="#1f1f1f"/>
<rect x="1142.7" y="519.6" width="14.9" height="15.1" fill="#2d2d2d"/>
<rect x="1157.3" y="519.6" width="14.9" height="15.1" fill="#0d0d0d"/>
<rect x="1171.9" y="519.6" width="14.9" height="15.1" fill="#040404"/>
<rect x="1186.5" y="519.6" width="14.9" height="15.1" fill="#131313"/>
<rect x="1201.2" y="519.6" width="14.9" height="15.1" fill="#111111"/>
<rect x="1215.8" y="519.6" width="14.9" height="15.1" fill="#1d1d1d"/>
<rect x="1230.4" y="519.6" width="14.9" height="15.1" fill="#0b0b0b"/>
<rect x="1245" y="519.6" width="14.9" height="15.1" fill="#131313"/>
<rect x="1259.6" y="519.6" width="14.9" height="15.1" fill="#121212"/>
<rect x="1274.3" y="519.6" width="14.9" height="15.1" fill="#050505"/>
<rect x="1288.9" y="519.6" width="14.9" height="15.1" fill="#060606"/>
<rect x="1303.5" y="519.6" width="14.9" height="15.1" fill="#1a1a1a"/>
<rect x="1318.1" y="519.6" width="14.9" height="15.1" fill="#1b1b1b"/>
<rect x="1332.8" y="519.6" width="14.9" height="15.1" fill="#0d0d0d"/>
<rect x="1347.4" y="519.6" width="14.9" height="15.1" fill="#252525"/>
<rect x="1025.7" y="534.5" width="14.9" height="15.1" fill="#212121"/>
<rect x="1040.3" y="534.5" width="14.9" height="15.1" fill="#1c1c1c"/>
<rect x="1054.9" y="534.5" width="14.9" height="15.1" fill="#1e1e1e"/>
<rect x="1069.6" y="534.5" width="14.9" height="15.1" fill="#1b1b1b"/>
<rect x="1084.2" y="534.5" width="14.9" height="15.1" fill="#1f1f1f"/>
<rect x="1098.8" y="534.5" width="14.9" height="15.1" fill="#202020"/>
<rect x="1113.4" y="534.5" width="14.9" height="15.1" fill="#181818"/>
<rect x="1128.1" y="534.5" width="14.9" height="15.1" fill="#030303"/>
<rect x="1142.7" y="534.5" width="14.9" height="15.1" fill="#161616"/>
<rect x="1157.3" y="534.5" width="14.9" height="15.1" fill="#0f0f0f"/>
<rect x="1171.9" y="534.5" width="14.9" height="15.1" fill="#0b0b0b"/>
<rect x="1186.5" y="534.5" width="14.9" height="15.1" fill="#1d1d1d"/>
<rect x="1201.2" y="534.5" width="14.9" height="15.1" fill="#050505"/>
<rect x="1215.8" y="534.5" width="14.9" height="15.1" fill="#202020"/>
<rect x="1230.4" y="534.5" width="14.9" height="15.1" fill="#111111"/>
<rect x="1245" y="534.5" width="14.9" height="15.1" fill="#0b0b0b"/>
<rect x="1259.6" y="534.5" width="14.9" height="15.1" fill="#0f0f0f"/>
<rect x="1274.3" y="534.5" width="14.9" height="15.1" fill="#2f2f2f"/>
<rect x="1288.9" y="534.5" width="14.9" height="15.1" fill="#262626"/>
<rect x="1303.5" y="534.5" width="14.9" height="15.1" fill="#151515"/>
<rect x="1318.1" y="534.5" width="14.9" height="15.1" fill="#222222"/>
<rect x="1332.8" y="534.5" width="14.9" height="15.1" fill="#2a2a2a"/>
<rect x="1347.4" y="534.5" width="14.9" height="15.1" fill="#0f0f0f"/>
<rect x="1025.7" y="549.3" width="14.9" height="15.1" fill="#121212"/>
<rect x="1040.3" y="549.3" width="14.9" height="15.1" fill="#1f1f1f"/>
<rect x="1054.9" y="549.3" width="14.9" height="15.1" fill="#191919"/>
<rect x="1069.6" y="549.3" width="14.9" height="15.1" fill="#121212"/>
<rect x="1084.2" y="549.3" width="14.9" height="15.1" fill="#262626"/>
<rect x="1098.8" y="549.3" width="14.9" height="15.1" fill="#1b1b1b"/>
<rect x="1113.4" y="549.3" width="14.9" height="15.1" fill="#1d1d1d"/>
<rect x="1128.1" y="549.3" width="14.9" height="15.1" fill="#2e2e2e"/>
<rect x="1142.7" y="549.3" width="14.9" height="15.1" fill="#1a1a1a"/>
<rect x="1157.3" y="549.3" width="14.9" height="15.1" fill="#303030"/>
<rect x="1171.9" y="549.3" width="14.9" height="15.1" fill="#191919"/>
<rect x="1186.5" y="549.3" width="14.9" height="15.1" fill="#141414"/>
<rect x="1201.2" y="549.3" width="14.9" height="15.1" fill="#171717"/>
<rect x="1215.8" y="549.3" width="14.9" height="15.1" fill="#1e1e1e"/>
<rect x="1230.4" y="549.3" width="14.9" height="15.1" fill="#1c1c1c"/>
<rect x="1245" y="549.3" width="14.9" height="15.1" fill="#191919"/>
<rect x="1259.6" y="549.3" width="14.9" height="15.1" fill="#060606"/>
<rect x="1274.3" y="549.3" width="14.9" height="15.1" fill="#0a0a0a"/>
<rect x="1288.9" y="549.3" width="14.9" height="15.1" fill="#131313"/>
<rect x="1303.5" y="549.3" width="14.9" height="15.1" fill="#1d1d1d"/>
<rect x="1318.1" y="549.3" width="14.9" height="15.1" fill="#242424"/>
<rect x="1332.8" y="549.3" width="14.9" height="15.1" fill="#000000"/>
<rect x="1347.4" y="549.3" width="14.9" height="15.1" fill="#141414"/>
<rect x="1025.7" y="564.1" width="14.9" height="15.1" fill="#151515"/>
<rect x="1040.3" y="564.1" width="14.9" height="15.1" fill="#181818"/>
<rect x="1054.9" y="564.1" width="14.9" height="15.1" fill="#1c1c1c"/>
<rect x="1069.6" y="564.1" width="14.9" height="15.1" fill="#111111"/>
<rect x="1084.2" y="564.1" width="14.9" height="15.1" fill="#0c0c0c"/>
<rect x="1098.8" y="564.1" width="14.9" height="15.1" fill="#242424"/>
<rect x="1113.4" y="564.1" width="14.9" height="15.1" fill="#212121"/>
<rect x="1128.1" y="564.1" width="14.9" height="15.1" fill="#151515"/>
<rect x="1142.7" y="564.1" width="14.9" height="15.1" fill="#181818"/>
<rect x="1157.3" y="564.1" width="14.9" height="15.1" fill="#121212"/>
<rect x="1171.9" y="564.1" width="14.9" height="15.1" fill="#0b0b0b"/>
<rect x="1186.5" y="564.1" width="14.9" height="15.1" fill="#202020"/>
<rect x="1201.2" y="564.1" width="14.9" height="15.1" fill="#131313"/>
<rect x="1215.8" y="564.1" width="14.9" height="15.1" fill="#0e0e0e"/>
<rect x="1230.4" y="564.1" width="14.9" height="15.1" fill="#131313"/>
<rect x="1245" y="564.1" width="14.9" height="15.1" fill="#2a2a2a"/>
<rect x="1259.6" y="564.1" width="14.9" height="15.1" fill="#1e1e1e"/>
<rect x="1274.3" y="564.1" width="14.9" height="15.1" fill="#1c1c1c"/>
<rect x="1288.9" y="564.1" width="14.9" height="15.1" fill="#1a1a1a"/>
<rect x="1303.5" y="564.1" width="14.9" height="15.1" fill="#222222"/>
<rect x="1318.1" y="564.1" width="14.9" height="15.1" fill="#212121"/>
<rect x="1332.8" y="564.1" width="14.9" height="15.1" fill="#0c0c0c"/>
<rect x="1347.4" y="564.1" width="14.9" height="15.1" fill="#171717"/>
<rect x="1025.7" y="578.9" width="14.9" height="15.1" fill="#111111"/>
<rect x="1040.3" y="578.9" width="14.9" height="15.1" fill="#191919"/>
<rect x="1054.9" y="578.9" width="14.9" height="15.1" fill="#171717"/>
<rect x="1069.6" y="578.9" width="14.9" height="15.1" fill="#030303"/>
<rect x="1084.2" y="578.9" width="14.9" height="15.1" fill="#232323"/>
<rect x="1098.8" y="578.9" width="14.9" height="15.1" fill="#1a1a1a"/>
<rect x="1113.4" y="578.9" width="14.9" height="15.1" fill="#060606"/>
<rect x="1128.1" y="578.9" width="14.9" height="15.1" fill="#232323"/>
<rect x="1142.7" y="578.9" width="14.9" height="15.1" fill="#181818"/>
<rect x="1157.3" y="578.9" width="14.9" height="15.1" fill="#1c1c1c"/>
<rect x="1171.9" y="578.9" width="14.9" height="15.1" fill="#171717"/>
<rect x="1186.5" y="578.9" width="14.9" height="15.1" fill="#191919"/>
<rect x="1201.2" y="578.9" width="14.9" height="15.1" fill="#121212"/>
<rect x="1215.8" y="578.9" width="14.9" height="15.1" fill="#060606"/>
<rect x="1230.4" y="578.9" width="14.9" height="15.1" fill="#111111"/>
<rect x="1245" y="578.9" width="14.9" height="15.1" fill="#191919"/>
<rect x="1259.6" y="578.9" width="14.9" height="15.1" fill="#171717"/>
<rect x="1274.3" y="578.9" width="14.9" height="15.1" fill="#1e1e1e"/>
<rect x="1288.9" y="578.9" width="14.9" height="15.1" fill="#161616"/>
<rect x="1303.5" y="578.9" width="14.9" height="15.1" fill="#000000"/>
<rect x="1318.1" y="578.9" width="14.9" height="15.1" fill="#1e1e1e"/>
<rect x="1332.8" y="578.9" width="14.9" height="15.1" fill="#0f0f0f"/>
<rect x="1347.4" y="578.9" width="14.9" height="15.1" fill="#090909"/>
<rect x="1025.7" y="593.7" width="14.9" height="15.1" fill="#191919"/>
<rect x="1040.3" y="593.7" width="14.9" height="15.1" fill="#0c0c0c"/>
<rect x="1054.9" y="593.7" width="14.9" height="15.1" fill="#212121"/>
<rect x="1069.6" y="593.7" width="14.9" height="15.1" fill="#111111"/>
<rect x="1084.2" y="593.7" width="14.9" height="15.1" fill="#343434"/>
<rect x="1098.8" y="593.7" width="14.9" height="15.1" fill="#1a1a1a"/>
<rect x="1113.4" y="593.7" width="14.9" height="15.1" fill="#161616"/>
<rect x="1128.1" y="593.7" width="14.9" height="15.1" fill="#151515"/>
<rect x="1142.7" y="593.7" width="14.9" height="15.1" fill="#020202"/>
<rect x="1157.3" y="593.7" width="14.9" height="15.1" fill="#121212"/>
<rect x="1171.9" y="593.7" width="14.9" height="15.1" fill="#131313"/>
<rect x="1186.5" y="593.7" width="14.9" height="15.1" fill="#191919"/>
<rect x="1201.2" y="593.7" width="14.9" height="15.1" fill="#010101"/>
<rect x="1215.8" y="593.7" width="14.9" height="15.1" fill="#1d1d1d"/>
<rect x="1230.4" y="593.7" width="14.9" height="15.1" fill="#2c2c2c"/>
<rect x="1245" y="593.7" width="14.9" height="15.1" fill="#171717"/>
<rect x="1259.6" y="593.7" width="14.9" height="15.1" fill="#1c1c1c"/>
<rect x="1274.3" y="593.7" width="14.9" height="15.1" fill="#222222"/>
<rect x="1288.9" y="593.7" width="14.9" height="15.1" fill="#131313"/>
<rect x="1303.5" y="593.7" width="14.9" height="15.1" fill="#171717"/>
<rect x="1318.1" y="593.7" width="14.9" height="15.1" fill="#282828"/>
<rect x="1332.8" y="593.7" width="14.9" height="15.1" fill="#1f1f1f"/>
<rect x="1347.4" y="593.7" width="14.9" height="15.1" fill="#0e0e0e"/>
<rect x="1025.7" y="608.6" width="14.9" height="15.1" fill="#090909"/>
<rect x="1040.3" y="608.6" width="14.9" height="15.1" fill="#3b3b3b"/>
<rect x="1054.9" y="608.6" width="14.9" height="15.1" fill="#242424"/>
<rect x="1069.6" y="608.6" width="14.9" height="15.1" fill="#0c0c0c"/>
<rect x="1084.2" y="608.6" width="14.9" height="15.1" fill="#212121"/>
<rect x="1098.8" y="608.6" width="14.9" height="15.1" fill="#272727"/>
<rect x="1113.4" y="608.6" width="14.9" height="15.1" fill="#212121"/>
<rect x="1128.1" y="608.6" width="14.9" height="15.1" fill="#080808"/>
<rect x="1142.7" y="608.6" width="14.9" height="15.1" fill="#353535"/>
<rect x="1157.3" y="608.6" width="14.9" height="15.1" fill="#262626"/>
<rect x="1171.9" y="608.6" width="14.9" height="15.1" fill="#1d1d1d"/>
<rect x="1186.5" y="608.6" width="14.9" height="15.1" fill="#282828"/>
<rect x="1201.2" y="608.6" width="14.9" height="15.1" fill="#1c1c1c"/>
<rect x="1215.8" y="608.6" width="14.9" height="15.1" fill="#1b1b1b"/>
<rect x="1230.4" y="608.6" width="14.9" height="15.1" fill="#2a2a2a"/>
<rect x="1245" y="608.6" width="14.9" height="15.1" fill="#070707"/>
<rect x="1259.6" y="608.6" width="14.9" height="15.1" fill="#2c2c2c"/>
<rect x="1274.3" y="608.6" width="14.9" height="15.1" fill="#242424"/>
<rect x="1288.9" y="608.6" width="14.9" height="15.1" fill="#292929"/>
<rect x="1303.5" y="608.6" width="14.9" height="15.1" fill="#2b2b2b"/>
<rect x="1318.1" y="608.6" width="14.9" height="15.1" fill="#323232"/>
<rect x="1332.8" y="608.6" width="14.9" height="15.1" fill="#313131"/>
<rect x="1347.4" y="608.6" width="14.9" height="15.1" fill="#2a2a2a"/>
<rect x="1025.7" y="623.4" width="14.9" height="15.1" fill="#141414"/>
<rect x="1040.3" y="623.4" width="14.9" height="15.1" fill="#1f1f1f"/>
<rect x="1054.9" y="623.4" width="14.9" height="15.1" fill="#131313"/>
<rect x="1069.6" y="623.4" width="14.9" height="15.1" fill="#0e0e0e"/>
<rect x="1084.2" y="623.4" width="14.9" height="15.1" fill="#1c1c1c"/>
<rect x="1098.8" y="623.4" width="14.9" height="15.1" fill="#1b1b1b"/>
<rect x="1113.4" y="623.4" width="14.9" height="15.1" fill="#242424"/>
<rect x="1128.1" y="623.4" width="14.9" height="15.1" fill="#020202"/>
<rect x="1142.7" y="623.4" width="14.9" height="15.1" fill="#1e1e1e"/>
<rect x="1157.3" y="623.4" width="14.9" height="15.1" fill="#1f1f1f"/>
<rect x="1171.9" y="623.4" width="14.9" height="15.1" fill="#191919"/>
<rect x="1186.5" y="623.4" width="14.9" height="15.1" fill="#272727"/>
<rect x="1201.2" y="623.4" width="14.9" height="15.1" fill="#0f0f0f"/>
<rect x="1215.8" y="623.4" width="14.9" height="15.1" fill="#1b1b1b"/>
<rect x="1230.4" y="623.4" width="14.9" height="15.1" fill="#141414"/>
<rect x="1245" y="623.4" width="14.9" height="15.1" fill="#181818"/>
<rect x="1259.6" y="623.4" width="14.9" height="15.1" fill="#0e0e0e"/>
<rect x="1274.3" y="623.4" width="14.9" height="15.1" fill="#161616"/>
<rect x="1288.9" y="623.4" width="14.9" height="15.1" fill="#1f1f1f"/>
<rect x="1303.5" y="623.4" width="14.9" height="15.1" fill="#191919"/>
<rect x="1318.1" y="623.4" width="14.9" height="15.1" fill="#1b1b1b"/>
<rect x="1332.8" y="623.4" width="14.9" height="15.1" fill="#101010"/>
<rect x="1347.4" y="623.4" width="14.9" height="15.1" fill="#282828"/>
</g>
<path d="M1040.6,50.1L1040.6,152.7" stroke="#fff" stroke-width="3.1" fill="none"/><path d="M1033.8,62.6L1040.6,50.1L1047.4,62.6" stroke="#fff" stroke-width="2.8" fill="none" stroke-linejoin="miter"/><path d="M1033.8,140.2L1040.6,152.7L1047.4,140.2" stroke="#fff" stroke-width="2.8" fill="none" stroke-linejoin="miter"/>
<path d="M1040.6,157.9L1040.6,287.9" stroke="#fff" stroke-width="3.1" fill="none"/><path d="M1033.8,170.4L1040.6,157.9L1047.4,170.4" stroke="#fff" stroke-width="2.8" fill="none" stroke-linejoin="miter"/><path d="M1033.8,275.4L1040.6,287.9L1047.4,275.4" stroke="#fff" stroke-width="2.8" fill="none" stroke-linejoin="miter"/>
<path d="M1040.6,293.1L1040.6,411.9" stroke="#fff" stroke-width="3.1" fill="none"/><path d="M1033.8,305.6L1040.6,293.1L1047.4,305.6" stroke="#fff" stroke-width="2.8" fill="none" stroke-linejoin="miter"/><path d="M1033.8,399.4L1040.6,411.9L1047.4,399.4" stroke="#fff" stroke-width="2.8" fill="none" stroke-linejoin="miter"/>
<path d="M1040.6,417.1L1040.6,465" stroke="#fff" stroke-width="3.1" fill="none"/><path d="M1033.8,429.6L1040.6,417.1L1047.4,429.6" stroke="#fff" stroke-width="2.8" fill="none" stroke-linejoin="miter"/><path d="M1033.8,452.5L1040.6,465L1047.4,452.5" stroke="#fff" stroke-width="2.8" fill="none" stroke-linejoin="miter"/>
<path d="M1040.6,470.2L1040.6,516.9" stroke="#fff" stroke-width="3.1" fill="none"/><path d="M1033.8,482.7L1040.6,470.2L1047.4,482.7" stroke="#fff" stroke-width="2.8" fill="none" stroke-linejoin="miter"/><path d="M1033.8,504.4L1040.6,516.9L1047.4,504.4" stroke="#fff" stroke-width="2.8" fill="none" stroke-linejoin="miter"/>
<path d="M1040.6,522.1L1040.6,567.7" stroke="#fff" stroke-width="3.1" fill="none"/><path d="M1033.8,534.6L1040.6,522.1L1047.4,534.6" stroke="#fff" stroke-width="2.8" fill="none" stroke-linejoin="miter"/><path d="M1033.8,555.2L1040.6,567.7L1047.4,555.2" stroke="#fff" stroke-width="2.8" fill="none" stroke-linejoin="miter"/>
<path d="M1040.6,572.9L1040.6,615.9" stroke="#fff" stroke-width="3.1" fill="none"/><path d="M1033.8,585.4L1040.6,572.9L1047.4,585.4" stroke="#fff" stroke-width="2.8" fill="none" stroke-linejoin="miter"/><path d="M1033.8,603.4L1040.6,615.9L1047.4,603.4" stroke="#fff" stroke-width="2.8" fill="none" stroke-linejoin="miter"/>
<rect x="1027.6" y="153.2" width="41" height="4.2" fill="#fff"/>
<rect x="1027.6" y="288.4" width="41" height="4.2" fill="#fff"/>
<rect x="1027.6" y="465.5" width="41" height="4.2" fill="#fff"/>
<rect x="1027.6" y="517.4" width="41" height="4.2" fill="#fff"/>
<rect x="1027.6" y="568.2" width="41" height="4.2" fill="#fff"/>
<rect x="1027.6" y="616.4" width="41" height="4.2" fill="#fff"/>
<path d="M1025.7,415.2L1362,415.2" stroke="#fff" stroke-width="4.2" stroke-dasharray="4.2,4.17" stroke-dashoffset="7.23" fill="none"/>
<text transform="translate(1052.6,110.6) scale(1.045,1)" font-size="29.5" fill="#fff">3<tspan font-size="18.9" dy="-9.5">rd</tspan><tspan dy="9.5"> ML</tspan></text>
<text transform="translate(1052.6,242.3) scale(1.045,1)" font-size="29.5" fill="#fff">2<tspan font-size="18.9" dy="-9.5">nd</tspan><tspan dy="9.5"> ML</tspan></text>
<text transform="translate(1052.6,364.8) scale(1.045,1)" font-size="29.5" fill="#fff">1<tspan font-size="18.9" dy="-9.5">st</tspan><tspan dy="9.5"> ML</tspan></text>
<text transform="translate(1052.6,453.6) scale(1.045,1)" font-size="29.5" fill="#fff">1<tspan font-size="18.9" dy="-9.5">st</tspan><tspan dy="9.5"> ML</tspan></text>
<text transform="translate(1051.6,506.5) scale(1.045,1)" font-size="29.5" fill="#fff">2<tspan font-size="18.9" dy="-9.5">nd</tspan><tspan dy="9.5"> ML</tspan></text>
<text transform="translate(1051.6,556.5) scale(1.045,1)" font-size="29.5" fill="#fff">3<tspan font-size="18.9" dy="-9.5">rd</tspan><tspan dy="9.5"> ML</tspan></text>
<text transform="translate(1050.6,607) scale(1.045,1)" font-size="29.5" fill="#fff">4<tspan font-size="18.9" dy="-9.5">th</tspan><tspan dy="9.5"> ML</tspan></text>
<path d="M1364.5,45.8L1414,45.8" stroke="#111" stroke-width="1.1"/>
<path d="M1364.5,91.2L1414,91.2" stroke="#111" stroke-width="1.1"/>
<path d="M1364.5,163.2L1414,163.2" stroke="#111" stroke-width="1.1"/>
<path d="M1364.5,236.4L1414,236.4" stroke="#111" stroke-width="1.1"/>
<path d="M1364.5,296.7L1414,296.7" stroke="#111" stroke-width="1.1"/>
<path d="M1364.5,356.2L1414,356.2" stroke="#111" stroke-width="1.1"/>
<path d="M1364.5,469.4L1414,469.4" stroke="#111" stroke-width="1.1"/>
<path d="M1364.5,520.7L1414,520.7" stroke="#111" stroke-width="1.1"/>
<path d="M1364.5,571L1414,571" stroke="#111" stroke-width="1.1"/>
<path d="M1364.5,621.6L1414,621.6" stroke="#111" stroke-width="1.1"/>
<path d="M1364.5,633.8L1414,633.8" stroke="#111" stroke-width="1.1"/>
<path d="M1362,415.2L1413,415.2" stroke="#555" stroke-width="1.4"/>
<text transform="translate(1388.5,82.3) scale(1.045,1)" font-size="32.5" text-anchor="middle">11</text>
<text transform="translate(1388.5,138) scale(1.045,1)" font-size="32.5" text-anchor="middle">10</text>
<text transform="translate(1389.2,210.8) scale(1.045,1)" font-size="32.5" text-anchor="middle">9</text>
<text transform="translate(1389.2,276.3) scale(1.045,1)" font-size="32.5" text-anchor="middle">8</text>
<text transform="translate(1389.2,338.2) scale(1.045,1)" font-size="32.5" text-anchor="middle">7</text>
<text transform="translate(1389.2,396.4) scale(1.045,1)" font-size="32.5" text-anchor="middle">6</text>
<text transform="translate(1389.2,455.4) scale(1.045,1)" font-size="32.5" text-anchor="middle">5</text>
<text transform="translate(1389.2,507.4) scale(1.045,1)" font-size="32.5" text-anchor="middle">4</text>
<text transform="translate(1389.2,556.8) scale(1.045,1)" font-size="32.5" text-anchor="middle">3</text>
<text transform="translate(1389.2,603.7) scale(1.045,1)" font-size="32.5" text-anchor="middle">2</text>
<text transform="translate(1017.3,34) scale(1.045,1)" font-size="38">(c)</text></g>
<g id="panel_d"><g shape-rendering="crispEdges">
<rect x="1412.4" y="44.2" width="339" height="588.8" fill="#203040"/>
<rect x="1412.4" y="44.2" width="15" height="14.7" fill="#702d5a"/>
<rect x="1427.1" y="44.2" width="15" height="14.7" fill="#4d3a45"/>
<rect x="1441.9" y="44.2" width="15" height="14.7" fill="#2c2522"/>
<rect x="1456.6" y="44.2" width="15" height="14.7" fill="#491318"/>
<rect x="1471.4" y="44.2" width="15" height="14.7" fill="#484900"/>
<rect x="1486.1" y="44.2" width="15" height="14.7" fill="#36594c"/>
<rect x="1500.8" y="44.2" width="15" height="14.7" fill="#0e4a05"/>
<rect x="1515.6" y="44.2" width="15" height="14.7" fill="#2f1c13"/>
<rect x="1530.3" y="44.2" width="15" height="14.7" fill="#8b4c1f"/>
<rect x="1545.1" y="44.2" width="15" height="14.7" fill="#47371b"/>
<rect x="1559.8" y="44.2" width="15" height="14.7" fill="#81241d"/>
<rect x="1574.5" y="44.2" width="15" height="14.7" fill="#543524"/>
<rect x="1589.3" y="44.2" width="15" height="14.7" fill="#635f1b"/>
<rect x="1604" y="44.2" width="15" height="14.7" fill="#a82d12"/>
<rect x="1618.7" y="44.2" width="15" height="14.7" fill="#5f4124"/>
<rect x="1633.5" y="44.2" width="15" height="14.7" fill="#9a592a"/>
<rect x="1648.2" y="44.2" width="15" height="14.7" fill="#493341"/>
<rect x="1663" y="44.2" width="15" height="14.7" fill="#650f0c"/>
<rect x="1677.7" y="44.2" width="15" height="14.7" fill="#3d591b"/>
<rect x="1692.4" y="44.2" width="15" height="14.7" fill="#cb4a21"/>
<rect x="1707.2" y="44.2" width="15" height="14.7" fill="#445417"/>
<rect x="1721.9" y="44.2" width="15" height="14.7" fill="#30481e"/>
<rect x="1736.7" y="44.2" width="15" height="14.7" fill="#953400"/>
<rect x="1412.4" y="58.6" width="15" height="14.7" fill="#d6033a"/>
<rect x="1427.1" y="58.6" width="15" height="14.7" fill="#ff2f04"/>
<rect x="1441.9" y="58.6" width="15" height="14.7" fill="#695617"/>
<rect x="1456.6" y="58.6" width="15" height="14.7" fill="#913445"/>
<rect x="1471.4" y="58.6" width="15" height="14.7" fill="#c0522b"/>
<rect x="1486.1" y="58.6" width="15" height="14.7" fill="#e15b0d"/>
<rect x="1500.8" y="58.6" width="15" height="14.7" fill="#a4250d"/>
<rect x="1515.6" y="58.6" width="15" height="14.7" fill="#e82c1a"/>
<rect x="1530.3" y="58.6" width="15" height="14.7" fill="#8c2a2b"/>
<rect x="1545.1" y="58.6" width="15" height="14.7" fill="#982d25"/>
<rect x="1559.8" y="58.6" width="15" height="14.7" fill="#c8531f"/>
<rect x="1574.5" y="58.6" width="15" height="14.7" fill="#574e25"/>
<rect x="1589.3" y="58.6" width="15" height="14.7" fill="#e1224e"/>
<rect x="1604" y="58.6" width="15" height="14.7" fill="#71511c"/>
<rect x="1618.7" y="58.6" width="15" height="14.7" fill="#965416"/>
<rect x="1633.5" y="58.6" width="15" height="14.7" fill="#3a1825"/>
<rect x="1648.2" y="58.6" width="15" height="14.7" fill="#ff0f1b"/>
<rect x="1663" y="58.6" width="15" height="14.7" fill="#f74e14"/>
<rect x="1677.7" y="58.6" width="15" height="14.7" fill="#67060d"/>
<rect x="1692.4" y="58.6" width="15" height="14.7" fill="#9c0000"/>
<rect x="1707.2" y="58.6" width="15" height="14.7" fill="#be2f0c"/>
<rect x="1721.9" y="58.6" width="15" height="14.7" fill="#9a232e"/>
<rect x="1736.7" y="58.6" width="15" height="14.7" fill="#ff7a2a"/>
<rect x="1412.4" y="72.9" width="15" height="14.7" fill="#636f36"/>
<rect x="1427.1" y="72.9" width="15" height="14.7" fill="#806607"/>
<rect x="1441.9" y="72.9" width="15" height="14.7" fill="#065a12"/>
<rect x="1456.6" y="72.9" width="15" height="14.7" fill="#431c00"/>
<rect x="1471.4" y="72.9" width="15" height="14.7" fill="#7e4c00"/>
<rect x="1486.1" y="72.9" width="15" height="14.7" fill="#55461e"/>
<rect x="1500.8" y="72.9" width="15" height="14.7" fill="#9f3a00"/>
<rect x="1515.6" y="72.9" width="15" height="14.7" fill="#47251e"/>
<rect x="1530.3" y="72.9" width="15" height="14.7" fill="#4e4808"/>
<rect x="1545.1" y="72.9" width="15" height="14.7" fill="#562a1e"/>
<rect x="1559.8" y="72.9" width="15" height="14.7" fill="#39141d"/>
<rect x="1574.5" y="72.9" width="15" height="14.7" fill="#296e1c"/>
<rect x="1589.3" y="72.9" width="15" height="14.7" fill="#583f12"/>
<rect x="1604" y="72.9" width="15" height="14.7" fill="#006603"/>
<rect x="1618.7" y="72.9" width="15" height="14.7" fill="#6c2511"/>
<rect x="1633.5" y="72.9" width="15" height="14.7" fill="#3d1710"/>
<rect x="1648.2" y="72.9" width="15" height="14.7" fill="#592d00"/>
<rect x="1663" y="72.9" width="15" height="14.7" fill="#2f442a"/>
<rect x="1677.7" y="72.9" width="15" height="14.7" fill="#674600"/>
<rect x="1692.4" y="72.9" width="15" height="14.7" fill="#6a3c0f"/>
<rect x="1707.2" y="72.9" width="15" height="14.7" fill="#6a511d"/>
<rect x="1721.9" y="72.9" width="15" height="14.7" fill="#172600"/>
<rect x="1736.7" y="72.9" width="15" height="14.7" fill="#4d3c26"/>
<rect x="1412.4" y="87.3" width="15" height="14.7" fill="#176152"/>
<rect x="1427.1" y="87.3" width="15" height="14.7" fill="#044e1b"/>
<rect x="1441.9" y="87.3" width="15" height="14.7" fill="#1b621f"/>
<rect x="1456.6" y="87.3" width="15" height="14.7" fill="#03861b"/>
<rect x="1471.4" y="87.3" width="15" height="14.7" fill="#036617"/>
<rect x="1486.1" y="87.3" width="15" height="14.7" fill="#10831f"/>
<rect x="1500.8" y="87.3" width="15" height="14.7" fill="#136124"/>
<rect x="1515.6" y="87.3" width="15" height="14.7" fill="#207321"/>
<rect x="1530.3" y="87.3" width="15" height="14.7" fill="#066638"/>
<rect x="1545.1" y="87.3" width="15" height="14.7" fill="#136603"/>
<rect x="1559.8" y="87.3" width="15" height="14.7" fill="#224b0e"/>
<rect x="1574.5" y="87.3" width="15" height="14.7" fill="#0e6928"/>
<rect x="1589.3" y="87.3" width="15" height="14.7" fill="#08621b"/>
<rect x="1604" y="87.3" width="15" height="14.7" fill="#00631a"/>
<rect x="1618.7" y="87.3" width="15" height="14.7" fill="#1a663b"/>
<rect x="1633.5" y="87.3" width="15" height="14.7" fill="#1e7a40"/>
<rect x="1648.2" y="87.3" width="15" height="14.7" fill="#1e6543"/>
<rect x="1663" y="87.3" width="15" height="14.7" fill="#066839"/>
<rect x="1677.7" y="87.3" width="15" height="14.7" fill="#0f7717"/>
<rect x="1692.4" y="87.3" width="15" height="14.7" fill="#0b7336"/>
<rect x="1707.2" y="87.3" width="15" height="14.7" fill="#25672d"/>
<rect x="1721.9" y="87.3" width="15" height="14.7" fill="#1d720d"/>
<rect x="1736.7" y="87.3" width="15" height="14.7" fill="#0b850f"/>
<rect x="1412.4" y="101.6" width="15" height="14.7" fill="#13962e"/>
<rect x="1427.1" y="101.6" width="15" height="14.7" fill="#029e03"/>
<rect x="1441.9" y="101.6" width="15" height="14.7" fill="#0bb10a"/>
<rect x="1456.6" y="101.6" width="15" height="14.7" fill="#1a911f"/>
<rect x="1471.4" y="101.6" width="15" height="14.7" fill="#00b113"/>
<rect x="1486.1" y="101.6" width="15" height="14.7" fill="#058612"/>
<rect x="1500.8" y="101.6" width="15" height="14.7" fill="#19942c"/>
<rect x="1515.6" y="101.6" width="15" height="14.7" fill="#09a418"/>
<rect x="1530.3" y="101.6" width="15" height="14.7" fill="#11cc29"/>
<rect x="1545.1" y="101.6" width="15" height="14.7" fill="#12952e"/>
<rect x="1559.8" y="101.6" width="15" height="14.7" fill="#1c7f0c"/>
<rect x="1574.5" y="101.6" width="15" height="14.7" fill="#25a521"/>
<rect x="1589.3" y="101.6" width="15" height="14.7" fill="#12b12b"/>
<rect x="1604" y="101.6" width="15" height="14.7" fill="#09c320"/>
<rect x="1618.7" y="101.6" width="15" height="14.7" fill="#01931e"/>
<rect x="1633.5" y="101.6" width="15" height="14.7" fill="#079a24"/>
<rect x="1648.2" y="101.6" width="15" height="14.7" fill="#008f2d"/>
<rect x="1663" y="101.6" width="15" height="14.7" fill="#129117"/>
<rect x="1677.7" y="101.6" width="15" height="14.7" fill="#199918"/>
<rect x="1692.4" y="101.6" width="15" height="14.7" fill="#229729"/>
<rect x="1707.2" y="101.6" width="15" height="14.7" fill="#0b9e12"/>
<rect x="1721.9" y="101.6" width="15" height="14.7" fill="#02b410"/>
<rect x="1736.7" y="101.6" width="15" height="14.7" fill="#0f881c"/>
<rect x="1412.4" y="116" width="15" height="14.7" fill="#159d2f"/>
<rect x="1427.1" y="116" width="15" height="14.7" fill="#12e412"/>
<rect x="1441.9" y="116" width="15" height="14.7" fill="#28ff23"/>
<rect x="1456.6" y="116" width="15" height="14.7" fill="#09d121"/>
<rect x="1471.4" y="116" width="15" height="14.7" fill="#11c217"/>
<rect x="1486.1" y="116" width="15" height="14.7" fill="#1ebc14"/>
<rect x="1500.8" y="116" width="15" height="14.7" fill="#26c145"/>
<rect x="1515.6" y="116" width="15" height="14.7" fill="#11b418"/>
<rect x="1530.3" y="116" width="15" height="14.7" fill="#1db40e"/>
<rect x="1545.1" y="116" width="15" height="14.7" fill="#36a635"/>
<rect x="1559.8" y="116" width="15" height="14.7" fill="#18ab37"/>
<rect x="1574.5" y="116" width="15" height="14.7" fill="#11ac20"/>
<rect x="1589.3" y="116" width="15" height="14.7" fill="#2fd72b"/>
<rect x="1604" y="116" width="15" height="14.7" fill="#39cb25"/>
<rect x="1618.7" y="116" width="15" height="14.7" fill="#11a11d"/>
<rect x="1633.5" y="116" width="15" height="14.7" fill="#369a32"/>
<rect x="1648.2" y="116" width="15" height="14.7" fill="#1baf20"/>
<rect x="1663" y="116" width="15" height="14.7" fill="#39b72b"/>
<rect x="1677.7" y="116" width="15" height="14.7" fill="#2caf28"/>
<rect x="1692.4" y="116" width="15" height="14.7" fill="#20ba29"/>
<rect x="1707.2" y="116" width="15" height="14.7" fill="#0eb70e"/>
<rect x="1721.9" y="116" width="15" height="14.7" fill="#1dbb18"/>
<rect x="1736.7" y="116" width="15" height="14.7" fill="#00a314"/>
<rect x="1412.4" y="130.4" width="15" height="14.7" fill="#1c9b38"/>
<rect x="1427.1" y="130.4" width="15" height="14.7" fill="#18af13"/>
<rect x="1441.9" y="130.4" width="15" height="14.7" fill="#2f8f2b"/>
<rect x="1456.6" y="130.4" width="15" height="14.7" fill="#2ba81a"/>
<rect x="1471.4" y="130.4" width="15" height="14.7" fill="#11be37"/>
<rect x="1486.1" y="130.4" width="15" height="14.7" fill="#1b961a"/>
<rect x="1500.8" y="130.4" width="15" height="14.7" fill="#159220"/>
<rect x="1515.6" y="130.4" width="15" height="14.7" fill="#339634"/>
<rect x="1530.3" y="130.4" width="15" height="14.7" fill="#04a523"/>
<rect x="1545.1" y="130.4" width="15" height="14.7" fill="#00a936"/>
<rect x="1559.8" y="130.4" width="15" height="14.7" fill="#1cb918"/>
<rect x="1574.5" y="130.4" width="15" height="14.7" fill="#0fb02d"/>
<rect x="1589.3" y="130.4" width="15" height="14.7" fill="#26983b"/>
<rect x="1604" y="130.4" width="15" height="14.7" fill="#0da613"/>
<rect x="1618.7" y="130.4" width="15" height="14.7" fill="#10a712"/>
<rect x="1633.5" y="130.4" width="15" height="14.7" fill="#0dae1e"/>
<rect x="1648.2" y="130.4" width="15" height="14.7" fill="#1d9730"/>
<rect x="1663" y="130.4" width="15" height="14.7" fill="#0fb30a"/>
<rect x="1677.7" y="130.4" width="15" height="14.7" fill="#13aa31"/>
<rect x="1692.4" y="130.4" width="15" height="14.7" fill="#00c714"/>
<rect x="1707.2" y="130.4" width="15" height="14.7" fill="#25b719"/>
<rect x="1721.9" y="130.4" width="15" height="14.7" fill="#329421"/>
<rect x="1736.7" y="130.4" width="15" height="14.7" fill="#15b627"/>
<rect x="1412.4" y="144.7" width="15" height="14.7" fill="#3f8123"/>
<rect x="1427.1" y="144.7" width="15" height="14.7" fill="#0c7135"/>
<rect x="1441.9" y="144.7" width="15" height="14.7" fill="#057a00"/>
<rect x="1456.6" y="144.7" width="15" height="14.7" fill="#13573b"/>
<rect x="1471.4" y="144.7" width="15" height="14.7" fill="#007331"/>
<rect x="1486.1" y="144.7" width="15" height="14.7" fill="#3a8738"/>
<rect x="1500.8" y="144.7" width="15" height="14.7" fill="#368821"/>
<rect x="1515.6" y="144.7" width="15" height="14.7" fill="#275426"/>
<rect x="1530.3" y="144.7" width="15" height="14.7" fill="#4e690b"/>
<rect x="1545.1" y="144.7" width="15" height="14.7" fill="#2a8e3b"/>
<rect x="1559.8" y="144.7" width="15" height="14.7" fill="#008115"/>
<rect x="1574.5" y="144.7" width="15" height="14.7" fill="#304a35"/>
<rect x="1589.3" y="144.7" width="15" height="14.7" fill="#1c7c1f"/>
<rect x="1604" y="144.7" width="15" height="14.7" fill="#088219"/>
<rect x="1618.7" y="144.7" width="15" height="14.7" fill="#138521"/>
<rect x="1633.5" y="144.7" width="15" height="14.7" fill="#138a17"/>
<rect x="1648.2" y="144.7" width="15" height="14.7" fill="#278635"/>
<rect x="1663" y="144.7" width="15" height="14.7" fill="#4c9923"/>
<rect x="1677.7" y="144.7" width="15" height="14.7" fill="#10983e"/>
<rect x="1692.4" y="144.7" width="15" height="14.7" fill="#1f861b"/>
<rect x="1707.2" y="144.7" width="15" height="14.7" fill="#008c29"/>
<rect x="1721.9" y="144.7" width="15" height="14.7" fill="#2b993f"/>
<rect x="1736.7" y="144.7" width="15" height="14.7" fill="#146100"/>
<rect x="1412.4" y="159.1" width="15" height="14.7" fill="#463031"/>
<rect x="1427.1" y="159.1" width="15" height="14.7" fill="#46281d"/>
<rect x="1441.9" y="159.1" width="15" height="14.7" fill="#07601a"/>
<rect x="1456.6" y="159.1" width="15" height="14.7" fill="#5e2829"/>
<rect x="1471.4" y="159.1" width="15" height="14.7" fill="#5f3313"/>
<rect x="1486.1" y="159.1" width="15" height="14.7" fill="#a33636"/>
<rect x="1500.8" y="159.1" width="15" height="14.7" fill="#422448"/>
<rect x="1515.6" y="159.1" width="15" height="14.7" fill="#554600"/>
<rect x="1530.3" y="159.1" width="15" height="14.7" fill="#51552f"/>
<rect x="1545.1" y="159.1" width="15" height="14.7" fill="#405f2e"/>
<rect x="1559.8" y="159.1" width="15" height="14.7" fill="#5d5b41"/>
<rect x="1574.5" y="159.1" width="15" height="14.7" fill="#114614"/>
<rect x="1589.3" y="159.1" width="15" height="14.7" fill="#004400"/>
<rect x="1604" y="159.1" width="15" height="14.7" fill="#33000e"/>
<rect x="1618.7" y="159.1" width="15" height="14.7" fill="#333b1a"/>
<rect x="1633.5" y="159.1" width="15" height="14.7" fill="#21204e"/>
<rect x="1648.2" y="159.1" width="15" height="14.7" fill="#333957"/>
<rect x="1663" y="159.1" width="15" height="14.7" fill="#00000e"/>
<rect x="1677.7" y="159.1" width="15" height="14.7" fill="#361926"/>
<rect x="1692.4" y="159.1" width="15" height="14.7" fill="#420d2c"/>
<rect x="1707.2" y="159.1" width="15" height="14.7" fill="#0c502d"/>
<rect x="1721.9" y="159.1" width="15" height="14.7" fill="#9d5422"/>
<rect x="1736.7" y="159.1" width="15" height="14.7" fill="#534015"/>
<rect x="1412.4" y="173.4" width="15" height="14.7" fill="#385255"/>
<rect x="1427.1" y="173.4" width="15" height="14.7" fill="#6a3019"/>
<rect x="1441.9" y="173.4" width="15" height="14.7" fill="#b4550d"/>
<rect x="1456.6" y="173.4" width="15" height="14.7" fill="#70292e"/>
<rect x="1471.4" y="173.4" width="15" height="14.7" fill="#a8511f"/>
<rect x="1486.1" y="173.4" width="15" height="14.7" fill="#504439"/>
<rect x="1500.8" y="173.4" width="15" height="14.7" fill="#703b32"/>
<rect x="1515.6" y="173.4" width="15" height="14.7" fill="#ad3836"/>
<rect x="1530.3" y="173.4" width="15" height="14.7" fill="#8a1e3d"/>
<rect x="1545.1" y="173.4" width="15" height="14.7" fill="#865104"/>
<rect x="1559.8" y="173.4" width="15" height="14.7" fill="#5e3f00"/>
<rect x="1574.5" y="173.4" width="15" height="14.7" fill="#7b2b1b"/>
<rect x="1589.3" y="173.4" width="15" height="14.7" fill="#750029"/>
<rect x="1604" y="173.4" width="15" height="14.7" fill="#855153"/>
<rect x="1618.7" y="173.4" width="15" height="14.7" fill="#934e00"/>
<rect x="1633.5" y="173.4" width="15" height="14.7" fill="#9d5242"/>
<rect x="1648.2" y="173.4" width="15" height="14.7" fill="#8d2e1d"/>
<rect x="1663" y="173.4" width="15" height="14.7" fill="#834139"/>
<rect x="1677.7" y="173.4" width="15" height="14.7" fill="#7d175e"/>
<rect x="1692.4" y="173.4" width="15" height="14.7" fill="#560052"/>
<rect x="1707.2" y="173.4" width="15" height="14.7" fill="#b43b45"/>
<rect x="1721.9" y="173.4" width="15" height="14.7" fill="#98222b"/>
<rect x="1736.7" y="173.4" width="15" height="14.7" fill="#44260d"/>
<rect x="1412.4" y="187.8" width="15" height="14.7" fill="#b75115"/>
<rect x="1427.1" y="187.8" width="15" height="14.7" fill="#c8010b"/>
<rect x="1441.9" y="187.8" width="15" height="14.7" fill="#cc4e3d"/>
<rect x="1456.6" y="187.8" width="15" height="14.7" fill="#e90e18"/>
<rect x="1471.4" y="187.8" width="15" height="14.7" fill="#21332b"/>
<rect x="1486.1" y="187.8" width="15" height="14.7" fill="#9c1f30"/>
<rect x="1500.8" y="187.8" width="15" height="14.7" fill="#cc3a16"/>
<rect x="1515.6" y="187.8" width="15" height="14.7" fill="#b1392c"/>
<rect x="1530.3" y="187.8" width="15" height="14.7" fill="#d13601"/>
<rect x="1545.1" y="187.8" width="15" height="14.7" fill="#9f401b"/>
<rect x="1559.8" y="187.8" width="15" height="14.7" fill="#ba2547"/>
<rect x="1574.5" y="187.8" width="15" height="14.7" fill="#c53a38"/>
<rect x="1589.3" y="187.8" width="15" height="14.7" fill="#d8393f"/>
<rect x="1604" y="187.8" width="15" height="14.7" fill="#d33c26"/>
<rect x="1618.7" y="187.8" width="15" height="14.7" fill="#723b2a"/>
<rect x="1633.5" y="187.8" width="15" height="14.7" fill="#815925"/>
<rect x="1648.2" y="187.8" width="15" height="14.7" fill="#742c24"/>
<rect x="1663" y="187.8" width="15" height="14.7" fill="#ad2326"/>
<rect x="1677.7" y="187.8" width="15" height="14.7" fill="#5e2c30"/>
<rect x="1692.4" y="187.8" width="15" height="14.7" fill="#89473a"/>
<rect x="1707.2" y="187.8" width="15" height="14.7" fill="#8e003c"/>
<rect x="1721.9" y="187.8" width="15" height="14.7" fill="#f90f2b"/>
<rect x="1736.7" y="187.8" width="15" height="14.7" fill="#c00e18"/>
<rect x="1412.4" y="202.2" width="15" height="14.7" fill="#744223"/>
<rect x="1427.1" y="202.2" width="15" height="14.7" fill="#702a00"/>
<rect x="1441.9" y="202.2" width="15" height="14.7" fill="#792523"/>
<rect x="1456.6" y="202.2" width="15" height="14.7" fill="#714527"/>
<rect x="1471.4" y="202.2" width="15" height="14.7" fill="#224e5a"/>
<rect x="1486.1" y="202.2" width="15" height="14.7" fill="#231b2b"/>
<rect x="1500.8" y="202.2" width="15" height="14.7" fill="#1c4024"/>
<rect x="1515.6" y="202.2" width="15" height="14.7" fill="#54432b"/>
<rect x="1530.3" y="202.2" width="15" height="14.7" fill="#772025"/>
<rect x="1545.1" y="202.2" width="15" height="14.7" fill="#4c180c"/>
<rect x="1559.8" y="202.2" width="15" height="14.7" fill="#2f2d40"/>
<rect x="1574.5" y="202.2" width="15" height="14.7" fill="#44951a"/>
<rect x="1589.3" y="202.2" width="15" height="14.7" fill="#308116"/>
<rect x="1604" y="202.2" width="15" height="14.7" fill="#a10013"/>
<rect x="1618.7" y="202.2" width="15" height="14.7" fill="#7d6d2f"/>
<rect x="1633.5" y="202.2" width="15" height="14.7" fill="#213937"/>
<rect x="1648.2" y="202.2" width="15" height="14.7" fill="#4c5a12"/>
<rect x="1663" y="202.2" width="15" height="14.7" fill="#646471"/>
<rect x="1677.7" y="202.2" width="15" height="14.7" fill="#5f530f"/>
<rect x="1692.4" y="202.2" width="15" height="14.7" fill="#020030"/>
<rect x="1707.2" y="202.2" width="15" height="14.7" fill="#9a3b00"/>
<rect x="1721.9" y="202.2" width="15" height="14.7" fill="#47371b"/>
<rect x="1736.7" y="202.2" width="15" height="14.7" fill="#8e634a"/>
<rect x="1412.4" y="216.5" width="15" height="14.7" fill="#076709"/>
<rect x="1427.1" y="216.5" width="15" height="14.7" fill="#374a38"/>
<rect x="1441.9" y="216.5" width="15" height="14.7" fill="#216502"/>
<rect x="1456.6" y="216.5" width="15" height="14.7" fill="#2c3c06"/>
<rect x="1471.4" y="216.5" width="15" height="14.7" fill="#038921"/>
<rect x="1486.1" y="216.5" width="15" height="14.7" fill="#096a4f"/>
<rect x="1500.8" y="216.5" width="15" height="14.7" fill="#164b09"/>
<rect x="1515.6" y="216.5" width="15" height="14.7" fill="#19821c"/>
<rect x="1530.3" y="216.5" width="15" height="14.7" fill="#144c08"/>
<rect x="1545.1" y="216.5" width="15" height="14.7" fill="#346727"/>
<rect x="1559.8" y="216.5" width="15" height="14.7" fill="#006b25"/>
<rect x="1574.5" y="216.5" width="15" height="14.7" fill="#40751a"/>
<rect x="1589.3" y="216.5" width="15" height="14.7" fill="#22661d"/>
<rect x="1604" y="216.5" width="15" height="14.7" fill="#04724c"/>
<rect x="1618.7" y="216.5" width="15" height="14.7" fill="#178118"/>
<rect x="1633.5" y="216.5" width="15" height="14.7" fill="#115f19"/>
<rect x="1648.2" y="216.5" width="15" height="14.7" fill="#327700"/>
<rect x="1663" y="216.5" width="15" height="14.7" fill="#2e6742"/>
<rect x="1677.7" y="216.5" width="15" height="14.7" fill="#036237"/>
<rect x="1692.4" y="216.5" width="15" height="14.7" fill="#307e0f"/>
<rect x="1707.2" y="216.5" width="15" height="14.7" fill="#096b03"/>
<rect x="1721.9" y="216.5" width="15" height="14.7" fill="#257225"/>
<rect x="1736.7" y="216.5" width="15" height="14.7" fill="#005418"/>
<rect x="1412.4" y="230.9" width="15" height="14.7" fill="#19931d"/>
<rect x="1427.1" y="230.9" width="15" height="14.7" fill="#006d14"/>
<rect x="1441.9" y="230.9" width="15" height="14.7" fill="#028313"/>
<rect x="1456.6" y="230.9" width="15" height="14.7" fill="#0f8327"/>
<rect x="1471.4" y="230.9" width="15" height="14.7" fill="#129814"/>
<rect x="1486.1" y="230.9" width="15" height="14.7" fill="#047925"/>
<rect x="1500.8" y="230.9" width="15" height="14.7" fill="#1da226"/>
<rect x="1515.6" y="230.9" width="15" height="14.7" fill="#0f9b23"/>
<rect x="1530.3" y="230.9" width="15" height="14.7" fill="#039b1d"/>
<rect x="1545.1" y="230.9" width="15" height="14.7" fill="#008a16"/>
<rect x="1559.8" y="230.9" width="15" height="14.7" fill="#11811e"/>
<rect x="1574.5" y="230.9" width="15" height="14.7" fill="#088b2d"/>
<rect x="1589.3" y="230.9" width="15" height="14.7" fill="#158d34"/>
<rect x="1604" y="230.9" width="15" height="14.7" fill="#009036"/>
<rect x="1618.7" y="230.9" width="15" height="14.7" fill="#1aa215"/>
<rect x="1633.5" y="230.9" width="15" height="14.7" fill="#238136"/>
<rect x="1648.2" y="230.9" width="15" height="14.7" fill="#159d17"/>
<rect x="1663" y="230.9" width="15" height="14.7" fill="#0e6c29"/>
<rect x="1677.7" y="230.9" width="15" height="14.7" fill="#1d9436"/>
<rect x="1692.4" y="230.9" width="15" height="14.7" fill="#1b902d"/>
<rect x="1707.2" y="230.9" width="15" height="14.7" fill="#0a9f29"/>
<rect x="1721.9" y="230.9" width="15" height="14.7" fill="#178c1b"/>
<rect x="1736.7" y="230.9" width="15" height="14.7" fill="#048930"/>
<rect x="1412.4" y="245.3" width="15" height="14.7" fill="#00b954"/>
<rect x="1427.1" y="245.3" width="15" height="14.7" fill="#18b428"/>
<rect x="1441.9" y="245.3" width="15" height="14.7" fill="#13ba25"/>
<rect x="1456.6" y="245.3" width="15" height="14.7" fill="#07d026"/>
<rect x="1471.4" y="245.3" width="15" height="14.7" fill="#26bb32"/>
<rect x="1486.1" y="245.3" width="15" height="14.7" fill="#16f534"/>
<rect x="1500.8" y="245.3" width="15" height="14.7" fill="#2ab70e"/>
<rect x="1515.6" y="245.3" width="15" height="14.7" fill="#11c326"/>
<rect x="1530.3" y="245.3" width="15" height="14.7" fill="#0daa13"/>
<rect x="1545.1" y="245.3" width="15" height="14.7" fill="#0fc52d"/>
<rect x="1559.8" y="245.3" width="15" height="14.7" fill="#1fb426"/>
<rect x="1574.5" y="245.3" width="15" height="14.7" fill="#15c027"/>
<rect x="1589.3" y="245.3" width="15" height="14.7" fill="#1eb522"/>
<rect x="1604" y="245.3" width="15" height="14.7" fill="#2ad105"/>
<rect x="1618.7" y="245.3" width="15" height="14.7" fill="#1abe2e"/>
<rect x="1633.5" y="245.3" width="15" height="14.7" fill="#00951c"/>
<rect x="1648.2" y="245.3" width="15" height="14.7" fill="#159f31"/>
<rect x="1663" y="245.3" width="15" height="14.7" fill="#23c22d"/>
<rect x="1677.7" y="245.3" width="15" height="14.7" fill="#02b201"/>
<rect x="1692.4" y="245.3" width="15" height="14.7" fill="#22cc27"/>
<rect x="1707.2" y="245.3" width="15" height="14.7" fill="#04b62e"/>
<rect x="1721.9" y="245.3" width="15" height="14.7" fill="#01b92b"/>
<rect x="1736.7" y="245.3" width="15" height="14.7" fill="#08aa32"/>
<rect x="1412.4" y="259.6" width="15" height="14.7" fill="#1dc326"/>
<rect x="1427.1" y="259.6" width="15" height="14.7" fill="#03a618"/>
<rect x="1441.9" y="259.6" width="15" height="14.7" fill="#0eb139"/>
<rect x="1456.6" y="259.6" width="15" height="14.7" fill="#14cd0d"/>
<rect x="1471.4" y="259.6" width="15" height="14.7" fill="#0fa901"/>
<rect x="1486.1" y="259.6" width="15" height="14.7" fill="#00a124"/>
<rect x="1500.8" y="259.6" width="15" height="14.7" fill="#18aa1d"/>
<rect x="1515.6" y="259.6" width="15" height="14.7" fill="#00a93b"/>
<rect x="1530.3" y="259.6" width="15" height="14.7" fill="#199b24"/>
<rect x="1545.1" y="259.6" width="15" height="14.7" fill="#18c119"/>
<rect x="1559.8" y="259.6" width="15" height="14.7" fill="#19b31d"/>
<rect x="1574.5" y="259.6" width="15" height="14.7" fill="#11a023"/>
<rect x="1589.3" y="259.6" width="15" height="14.7" fill="#169020"/>
<rect x="1604" y="259.6" width="15" height="14.7" fill="#29a805"/>
<rect x="1618.7" y="259.6" width="15" height="14.7" fill="#28a425"/>
<rect x="1633.5" y="259.6" width="15" height="14.7" fill="#1aa112"/>
<rect x="1648.2" y="259.6" width="15" height="14.7" fill="#07ae22"/>
<rect x="1663" y="259.6" width="15" height="14.7" fill="#0ed326"/>
<rect x="1677.7" y="259.6" width="15" height="14.7" fill="#20d224"/>
<rect x="1692.4" y="259.6" width="15" height="14.7" fill="#0ca424"/>
<rect x="1707.2" y="259.6" width="15" height="14.7" fill="#2dbe1f"/>
<rect x="1721.9" y="259.6" width="15" height="14.7" fill="#0ab83f"/>
<rect x="1736.7" y="259.6" width="15" height="14.7" fill="#0ac828"/>
<rect x="1412.4" y="274" width="15" height="14.7" fill="#156b1a"/>
<rect x="1427.1" y="274" width="15" height="14.7" fill="#0e850f"/>
<rect x="1441.9" y="274" width="15" height="14.7" fill="#0e6e13"/>
<rect x="1456.6" y="274" width="15" height="14.7" fill="#0d562d"/>
<rect x="1471.4" y="274" width="15" height="14.7" fill="#1e5638"/>
<rect x="1486.1" y="274" width="15" height="14.7" fill="#054d09"/>
<rect x="1500.8" y="274" width="15" height="14.7" fill="#1b4421"/>
<rect x="1515.6" y="274" width="15" height="14.7" fill="#177f1e"/>
<rect x="1530.3" y="274" width="15" height="14.7" fill="#256730"/>
<rect x="1545.1" y="274" width="15" height="14.7" fill="#05731e"/>
<rect x="1559.8" y="274" width="15" height="14.7" fill="#169523"/>
<rect x="1574.5" y="274" width="15" height="14.7" fill="#157028"/>
<rect x="1589.3" y="274" width="15" height="14.7" fill="#007b0f"/>
<rect x="1604" y="274" width="15" height="14.7" fill="#007010"/>
<rect x="1618.7" y="274" width="15" height="14.7" fill="#178123"/>
<rect x="1633.5" y="274" width="15" height="14.7" fill="#057041"/>
<rect x="1648.2" y="274" width="15" height="14.7" fill="#158d38"/>
<rect x="1663" y="274" width="15" height="14.7" fill="#027e0f"/>
<rect x="1677.7" y="274" width="15" height="14.7" fill="#1c7820"/>
<rect x="1692.4" y="274" width="15" height="14.7" fill="#00671e"/>
<rect x="1707.2" y="274" width="15" height="14.7" fill="#1b6c2a"/>
<rect x="1721.9" y="274" width="15" height="14.7" fill="#0f5122"/>
<rect x="1736.7" y="274" width="15" height="14.7" fill="#285e13"/>
<rect x="1412.4" y="288.3" width="15" height="14.7" fill="#00610d"/>
<rect x="1427.1" y="288.3" width="15" height="14.7" fill="#573f24"/>
<rect x="1441.9" y="288.3" width="15" height="14.7" fill="#346152"/>
<rect x="1456.6" y="288.3" width="15" height="14.7" fill="#44334c"/>
<rect x="1471.4" y="288.3" width="15" height="14.7" fill="#4a3e35"/>
<rect x="1486.1" y="288.3" width="15" height="14.7" fill="#174a21"/>
<rect x="1500.8" y="288.3" width="15" height="14.7" fill="#2a252a"/>
<rect x="1515.6" y="288.3" width="15" height="14.7" fill="#411e30"/>
<rect x="1530.3" y="288.3" width="15" height="14.7" fill="#415644"/>
<rect x="1545.1" y="288.3" width="15" height="14.7" fill="#1d5435"/>
<rect x="1559.8" y="288.3" width="15" height="14.7" fill="#2b2c3e"/>
<rect x="1574.5" y="288.3" width="15" height="14.7" fill="#4f3330"/>
<rect x="1589.3" y="288.3" width="15" height="14.7" fill="#242c11"/>
<rect x="1604" y="288.3" width="15" height="14.7" fill="#484231"/>
<rect x="1618.7" y="288.3" width="15" height="14.7" fill="#3a3d3f"/>
<rect x="1633.5" y="288.3" width="15" height="14.7" fill="#004c0b"/>
<rect x="1648.2" y="288.3" width="15" height="14.7" fill="#2b3e28"/>
<rect x="1663" y="288.3" width="15" height="14.7" fill="#412a51"/>
<rect x="1677.7" y="288.3" width="15" height="14.7" fill="#574639"/>
<rect x="1692.4" y="288.3" width="15" height="14.7" fill="#241902"/>
<rect x="1707.2" y="288.3" width="15" height="14.7" fill="#42084e"/>
<rect x="1721.9" y="288.3" width="15" height="14.7" fill="#40291a"/>
<rect x="1736.7" y="288.3" width="15" height="14.7" fill="#003931"/>
<rect x="1412.4" y="302.7" width="15" height="14.7" fill="#8f0e42"/>
<rect x="1427.1" y="302.7" width="15" height="14.7" fill="#632623"/>
<rect x="1441.9" y="302.7" width="15" height="14.7" fill="#6a4c4f"/>
<rect x="1456.6" y="302.7" width="15" height="14.7" fill="#7e191c"/>
<rect x="1471.4" y="302.7" width="15" height="14.7" fill="#812f0b"/>
<rect x="1486.1" y="302.7" width="15" height="14.7" fill="#ab5732"/>
<rect x="1500.8" y="302.7" width="15" height="14.7" fill="#4a2805"/>
<rect x="1515.6" y="302.7" width="15" height="14.7" fill="#252e1c"/>
<rect x="1530.3" y="302.7" width="15" height="14.7" fill="#836131"/>
<rect x="1545.1" y="302.7" width="15" height="14.7" fill="#5b2b31"/>
<rect x="1559.8" y="302.7" width="15" height="14.7" fill="#9d2c3d"/>
<rect x="1574.5" y="302.7" width="15" height="14.7" fill="#2e161e"/>
<rect x="1589.3" y="302.7" width="15" height="14.7" fill="#85174b"/>
<rect x="1604" y="302.7" width="15" height="14.7" fill="#332c23"/>
<rect x="1618.7" y="302.7" width="15" height="14.7" fill="#a3160b"/>
<rect x="1633.5" y="302.7" width="15" height="14.7" fill="#513839"/>
<rect x="1648.2" y="302.7" width="15" height="14.7" fill="#261900"/>
<rect x="1663" y="302.7" width="15" height="14.7" fill="#a93138"/>
<rect x="1677.7" y="302.7" width="15" height="14.7" fill="#002e1e"/>
<rect x="1692.4" y="302.7" width="15" height="14.7" fill="#88094f"/>
<rect x="1707.2" y="302.7" width="15" height="14.7" fill="#7c3602"/>
<rect x="1721.9" y="302.7" width="15" height="14.7" fill="#b73030"/>
<rect x="1736.7" y="302.7" width="15" height="14.7" fill="#62252c"/>
<rect x="1412.4" y="317.1" width="15" height="14.7" fill="#92473b"/>
<rect x="1427.1" y="317.1" width="15" height="14.7" fill="#593148"/>
<rect x="1441.9" y="317.1" width="15" height="14.7" fill="#5e2a4c"/>
<rect x="1456.6" y="317.1" width="15" height="14.7" fill="#a41f3c"/>
<rect x="1471.4" y="317.1" width="15" height="14.7" fill="#c63d30"/>
<rect x="1486.1" y="317.1" width="15" height="14.7" fill="#ff0934"/>
<rect x="1500.8" y="317.1" width="15" height="14.7" fill="#b01513"/>
<rect x="1515.6" y="317.1" width="15" height="14.7" fill="#582f27"/>
<rect x="1530.3" y="317.1" width="15" height="14.7" fill="#a74a17"/>
<rect x="1545.1" y="317.1" width="15" height="14.7" fill="#8b3500"/>
<rect x="1559.8" y="317.1" width="15" height="14.7" fill="#74000f"/>
<rect x="1574.5" y="317.1" width="15" height="14.7" fill="#424314"/>
<rect x="1589.3" y="317.1" width="15" height="14.7" fill="#533a21"/>
<rect x="1604" y="317.1" width="15" height="14.7" fill="#244343"/>
<rect x="1618.7" y="317.1" width="15" height="14.7" fill="#670010"/>
<rect x="1633.5" y="317.1" width="15" height="14.7" fill="#404f0f"/>
<rect x="1648.2" y="317.1" width="15" height="14.7" fill="#ad462e"/>
<rect x="1663" y="317.1" width="15" height="14.7" fill="#90473d"/>
<rect x="1677.7" y="317.1" width="15" height="14.7" fill="#184100"/>
<rect x="1692.4" y="317.1" width="15" height="14.7" fill="#4f3b00"/>
<rect x="1707.2" y="317.1" width="15" height="14.7" fill="#bd5d1e"/>
<rect x="1721.9" y="317.1" width="15" height="14.7" fill="#034f07"/>
<rect x="1736.7" y="317.1" width="15" height="14.7" fill="#260913"/>
<rect x="1412.4" y="331.4" width="15" height="14.7" fill="#274c0d"/>
<rect x="1427.1" y="331.4" width="15" height="14.7" fill="#00061e"/>
<rect x="1441.9" y="331.4" width="15" height="14.7" fill="#830926"/>
<rect x="1456.6" y="331.4" width="15" height="14.7" fill="#5e1f24"/>
<rect x="1471.4" y="331.4" width="15" height="14.7" fill="#312c13"/>
<rect x="1486.1" y="331.4" width="15" height="14.7" fill="#7a024f"/>
<rect x="1500.8" y="331.4" width="15" height="14.7" fill="#6c2623"/>
<rect x="1515.6" y="331.4" width="15" height="14.7" fill="#731226"/>
<rect x="1530.3" y="331.4" width="15" height="14.7" fill="#1f2b0e"/>
<rect x="1545.1" y="331.4" width="15" height="14.7" fill="#28332d"/>
<rect x="1559.8" y="331.4" width="15" height="14.7" fill="#4c4600"/>
<rect x="1574.5" y="331.4" width="15" height="14.7" fill="#2b2660"/>
<rect x="1589.3" y="331.4" width="15" height="14.7" fill="#172442"/>
<rect x="1604" y="331.4" width="15" height="14.7" fill="#181d2f"/>
<rect x="1618.7" y="331.4" width="15" height="14.7" fill="#2e324e"/>
<rect x="1633.5" y="331.4" width="15" height="14.7" fill="#33343f"/>
<rect x="1648.2" y="331.4" width="15" height="14.7" fill="#441869"/>
<rect x="1663" y="331.4" width="15" height="14.7" fill="#182c4d"/>
<rect x="1677.7" y="331.4" width="15" height="14.7" fill="#001900"/>
<rect x="1692.4" y="331.4" width="15" height="14.7" fill="#3c3318"/>
<rect x="1707.2" y="331.4" width="15" height="14.7" fill="#463517"/>
<rect x="1721.9" y="331.4" width="15" height="14.7" fill="#381242"/>
<rect x="1736.7" y="331.4" width="15" height="14.7" fill="#39445b"/>
<rect x="1412.4" y="345.8" width="15" height="14.7" fill="#00313c"/>
<rect x="1427.1" y="345.8" width="15" height="14.7" fill="#31352f"/>
<rect x="1441.9" y="345.8" width="15" height="14.7" fill="#4d3c42"/>
<rect x="1456.6" y="345.8" width="15" height="14.7" fill="#18490c"/>
<rect x="1471.4" y="345.8" width="15" height="14.7" fill="#4f3b1d"/>
<rect x="1486.1" y="345.8" width="15" height="14.7" fill="#3c6738"/>
<rect x="1500.8" y="345.8" width="15" height="14.7" fill="#173148"/>
<rect x="1515.6" y="345.8" width="15" height="14.7" fill="#6a2854"/>
<rect x="1530.3" y="345.8" width="15" height="14.7" fill="#344b43"/>
<rect x="1545.1" y="345.8" width="15" height="14.7" fill="#0a3f58"/>
<rect x="1559.8" y="345.8" width="15" height="14.7" fill="#26001b"/>
<rect x="1574.5" y="345.8" width="15" height="14.7" fill="#2e3e27"/>
<rect x="1589.3" y="345.8" width="15" height="14.7" fill="#50200e"/>
<rect x="1604" y="345.8" width="15" height="14.7" fill="#3c1c5e"/>
<rect x="1618.7" y="345.8" width="15" height="14.7" fill="#532224"/>
<rect x="1633.5" y="345.8" width="15" height="14.7" fill="#34493a"/>
<rect x="1648.2" y="345.8" width="15" height="14.7" fill="#28474a"/>
<rect x="1663" y="345.8" width="15" height="14.7" fill="#151c00"/>
<rect x="1677.7" y="345.8" width="15" height="14.7" fill="#242344"/>
<rect x="1692.4" y="345.8" width="15" height="14.7" fill="#14222a"/>
<rect x="1707.2" y="345.8" width="15" height="14.7" fill="#1a2524"/>
<rect x="1721.9" y="345.8" width="15" height="14.7" fill="#552841"/>
<rect x="1736.7" y="345.8" width="15" height="14.7" fill="#381200"/>
<rect x="1412.4" y="360.1" width="15" height="14.7" fill="#003e27"/>
<rect x="1427.1" y="360.1" width="15" height="14.7" fill="#005120"/>
<rect x="1441.9" y="360.1" width="15" height="14.7" fill="#2b3200"/>
<rect x="1456.6" y="360.1" width="15" height="14.7" fill="#244d53"/>
<rect x="1471.4" y="360.1" width="15" height="14.7" fill="#194a49"/>
<rect x="1486.1" y="360.1" width="15" height="14.7" fill="#002700"/>
<rect x="1500.8" y="360.1" width="15" height="14.7" fill="#1f3f30"/>
<rect x="1515.6" y="360.1" width="15" height="14.7" fill="#003524"/>
<rect x="1530.3" y="360.1" width="15" height="14.7" fill="#113d3a"/>
<rect x="1545.1" y="360.1" width="15" height="14.7" fill="#03391a"/>
<rect x="1559.8" y="360.1" width="15" height="14.7" fill="#242e10"/>
<rect x="1574.5" y="360.1" width="15" height="14.7" fill="#002120"/>
<rect x="1589.3" y="360.1" width="15" height="14.7" fill="#041818"/>
<rect x="1604" y="360.1" width="15" height="14.7" fill="#156121"/>
<rect x="1618.7" y="360.1" width="15" height="14.7" fill="#35453e"/>
<rect x="1633.5" y="360.1" width="15" height="14.7" fill="#00261f"/>
<rect x="1648.2" y="360.1" width="15" height="14.7" fill="#0c422d"/>
<rect x="1663" y="360.1" width="15" height="14.7" fill="#004618"/>
<rect x="1677.7" y="360.1" width="15" height="14.7" fill="#453e1b"/>
<rect x="1692.4" y="360.1" width="15" height="14.7" fill="#402245"/>
<rect x="1707.2" y="360.1" width="15" height="14.7" fill="#1e3a1c"/>
<rect x="1721.9" y="360.1" width="15" height="14.7" fill="#164916"/>
<rect x="1736.7" y="360.1" width="15" height="14.7" fill="#1e5125"/>
<rect x="1412.4" y="374.5" width="15" height="14.7" fill="#283831"/>
<rect x="1427.1" y="374.5" width="15" height="14.7" fill="#20575b"/>
<rect x="1441.9" y="374.5" width="15" height="14.7" fill="#203559"/>
<rect x="1456.6" y="374.5" width="15" height="14.7" fill="#0a6631"/>
<rect x="1471.4" y="374.5" width="15" height="14.7" fill="#231a45"/>
<rect x="1486.1" y="374.5" width="15" height="14.7" fill="#10705f"/>
<rect x="1500.8" y="374.5" width="15" height="14.7" fill="#274c32"/>
<rect x="1515.6" y="374.5" width="15" height="14.7" fill="#064e34"/>
<rect x="1530.3" y="374.5" width="15" height="14.7" fill="#1b6e17"/>
<rect x="1545.1" y="374.5" width="15" height="14.7" fill="#165d2d"/>
<rect x="1559.8" y="374.5" width="15" height="14.7" fill="#00451f"/>
<rect x="1574.5" y="374.5" width="15" height="14.7" fill="#025325"/>
<rect x="1589.3" y="374.5" width="15" height="14.7" fill="#0f512d"/>
<rect x="1604" y="374.5" width="15" height="14.7" fill="#1b5a36"/>
<rect x="1618.7" y="374.5" width="15" height="14.7" fill="#195e25"/>
<rect x="1633.5" y="374.5" width="15" height="14.7" fill="#226b2c"/>
<rect x="1648.2" y="374.5" width="15" height="14.7" fill="#275b3f"/>
<rect x="1663" y="374.5" width="15" height="14.7" fill="#2e3249"/>
<rect x="1677.7" y="374.5" width="15" height="14.7" fill="#095300"/>
<rect x="1692.4" y="374.5" width="15" height="14.7" fill="#1f6811"/>
<rect x="1707.2" y="374.5" width="15" height="14.7" fill="#2a412b"/>
<rect x="1721.9" y="374.5" width="15" height="14.7" fill="#015722"/>
<rect x="1736.7" y="374.5" width="15" height="14.7" fill="#0e4d0c"/>
<rect x="1412.4" y="388.9" width="15" height="14.7" fill="#13455d"/>
<rect x="1427.1" y="388.9" width="15" height="14.7" fill="#0a5541"/>
<rect x="1441.9" y="388.9" width="15" height="14.7" fill="#1d6a36"/>
<rect x="1456.6" y="388.9" width="15" height="14.7" fill="#004928"/>
<rect x="1471.4" y="388.9" width="15" height="14.7" fill="#14433d"/>
<rect x="1486.1" y="388.9" width="15" height="14.7" fill="#0e4f17"/>
<rect x="1500.8" y="388.9" width="15" height="14.7" fill="#1b3f03"/>
<rect x="1515.6" y="388.9" width="15" height="14.7" fill="#004227"/>
<rect x="1530.3" y="388.9" width="15" height="14.7" fill="#103d3a"/>
<rect x="1545.1" y="388.9" width="15" height="14.7" fill="#183721"/>
<rect x="1559.8" y="388.9" width="15" height="14.7" fill="#215550"/>
<rect x="1574.5" y="388.9" width="15" height="14.7" fill="#0a4b33"/>
<rect x="1589.3" y="388.9" width="15" height="14.7" fill="#006415"/>
<rect x="1604" y="388.9" width="15" height="14.7" fill="#02336d"/>
<rect x="1618.7" y="388.9" width="15" height="14.7" fill="#00650f"/>
<rect x="1633.5" y="388.9" width="15" height="14.7" fill="#2a8336"/>
<rect x="1648.2" y="388.9" width="15" height="14.7" fill="#23312b"/>
<rect x="1663" y="388.9" width="15" height="14.7" fill="#204f2a"/>
<rect x="1677.7" y="388.9" width="15" height="14.7" fill="#0e4124"/>
<rect x="1692.4" y="388.9" width="15" height="14.7" fill="#1b2427"/>
<rect x="1707.2" y="388.9" width="15" height="14.7" fill="#0d613d"/>
<rect x="1721.9" y="388.9" width="15" height="14.7" fill="#061c8e"/>
<rect x="1736.7" y="388.9" width="15" height="14.7" fill="#015c13"/>
<rect x="1412.4" y="403.2" width="15" height="14.7" fill="#1a2f3b"/>
<rect x="1427.1" y="403.2" width="15" height="14.7" fill="#0e3364"/>
<rect x="1441.9" y="403.2" width="15" height="14.7" fill="#0e6f67"/>
<rect x="1456.6" y="403.2" width="15" height="14.7" fill="#073643"/>
<rect x="1471.4" y="403.2" width="15" height="14.7" fill="#1d2b6d"/>
<rect x="1486.1" y="403.2" width="15" height="14.7" fill="#00615c"/>
<rect x="1500.8" y="403.2" width="15" height="14.7" fill="#002f4d"/>
<rect x="1515.6" y="403.2" width="15" height="14.7" fill="#15335b"/>
<rect x="1530.3" y="403.2" width="15" height="14.7" fill="#113416"/>
<rect x="1545.1" y="403.2" width="15" height="14.7" fill="#0d4a22"/>
<rect x="1559.8" y="403.2" width="15" height="14.7" fill="#008861"/>
<rect x="1574.5" y="403.2" width="15" height="14.7" fill="#153f4d"/>
<rect x="1589.3" y="403.2" width="15" height="14.7" fill="#1e3c3c"/>
<rect x="1604" y="403.2" width="15" height="14.7" fill="#08465e"/>
<rect x="1618.7" y="403.2" width="15" height="14.7" fill="#025756"/>
<rect x="1633.5" y="403.2" width="15" height="14.7" fill="#125924"/>
<rect x="1648.2" y="403.2" width="15" height="14.7" fill="#002653"/>
<rect x="1663" y="403.2" width="15" height="14.7" fill="#16607c"/>
<rect x="1677.7" y="403.2" width="15" height="14.7" fill="#0a6f54"/>
<rect x="1692.4" y="403.2" width="15" height="14.7" fill="#1b424c"/>
<rect x="1707.2" y="403.2" width="15" height="14.7" fill="#02380e"/>
<rect x="1721.9" y="403.2" width="15" height="14.7" fill="#1d5da5"/>
<rect x="1736.7" y="403.2" width="15" height="14.7" fill="#0f5e31"/>
<rect x="1412.4" y="417.6" width="15" height="14.7" fill="#171c8f"/>
<rect x="1427.1" y="417.6" width="15" height="14.7" fill="#27053b"/>
<rect x="1441.9" y="417.6" width="15" height="14.7" fill="#00192a"/>
<rect x="1456.6" y="417.6" width="15" height="14.7" fill="#0e3f54"/>
<rect x="1471.4" y="417.6" width="15" height="14.7" fill="#1b3171"/>
<rect x="1486.1" y="417.6" width="15" height="14.7" fill="#1c1983"/>
<rect x="1500.8" y="417.6" width="15" height="14.7" fill="#00176a"/>
<rect x="1515.6" y="417.6" width="15" height="14.7" fill="#001568"/>
<rect x="1530.3" y="417.6" width="15" height="14.7" fill="#061d39"/>
<rect x="1545.1" y="417.6" width="15" height="14.7" fill="#002c4b"/>
<rect x="1559.8" y="417.6" width="15" height="14.7" fill="#024e63"/>
<rect x="1574.5" y="417.6" width="15" height="14.7" fill="#002d3b"/>
<rect x="1589.3" y="417.6" width="15" height="14.7" fill="#034a77"/>
<rect x="1604" y="417.6" width="15" height="14.7" fill="#0d3c24"/>
<rect x="1618.7" y="417.6" width="15" height="14.7" fill="#12363a"/>
<rect x="1633.5" y="417.6" width="15" height="14.7" fill="#003258"/>
<rect x="1648.2" y="417.6" width="15" height="14.7" fill="#082952"/>
<rect x="1663" y="417.6" width="15" height="14.7" fill="#144242"/>
<rect x="1677.7" y="417.6" width="15" height="14.7" fill="#191f3a"/>
<rect x="1692.4" y="417.6" width="15" height="14.7" fill="#06335e"/>
<rect x="1707.2" y="417.6" width="15" height="14.7" fill="#09146c"/>
<rect x="1721.9" y="417.6" width="15" height="14.7" fill="#052636"/>
<rect x="1736.7" y="417.6" width="15" height="14.7" fill="#1e1f26"/>
<rect x="1412.4" y="431.9" width="15" height="14.7" fill="#112476"/>
<rect x="1427.1" y="431.9" width="15" height="14.7" fill="#120556"/>
<rect x="1441.9" y="431.9" width="15" height="14.7" fill="#212e6c"/>
<rect x="1456.6" y="431.9" width="15" height="14.7" fill="#133c5f"/>
<rect x="1471.4" y="431.9" width="15" height="14.7" fill="#123365"/>
<rect x="1486.1" y="431.9" width="15" height="14.7" fill="#093369"/>
<rect x="1500.8" y="431.9" width="15" height="14.7" fill="#000e5d"/>
<rect x="1515.6" y="431.9" width="15" height="14.7" fill="#093f5e"/>
<rect x="1530.3" y="431.9" width="15" height="14.7" fill="#091e64"/>
<rect x="1545.1" y="431.9" width="15" height="14.7" fill="#0d3950"/>
<rect x="1559.8" y="431.9" width="15" height="14.7" fill="#0f362e"/>
<rect x="1574.5" y="431.9" width="15" height="14.7" fill="#0c154f"/>
<rect x="1589.3" y="431.9" width="15" height="14.7" fill="#071f45"/>
<rect x="1604" y="431.9" width="15" height="14.7" fill="#0b2f56"/>
<rect x="1618.7" y="431.9" width="15" height="14.7" fill="#001d8c"/>
<rect x="1633.5" y="431.9" width="15" height="14.7" fill="#0f1c40"/>
<rect x="1648.2" y="431.9" width="15" height="14.7" fill="#0c299b"/>
<rect x="1663" y="431.9" width="15" height="14.7" fill="#002d7a"/>
<rect x="1677.7" y="431.9" width="15" height="14.7" fill="#140c6b"/>
<rect x="1692.4" y="431.9" width="15" height="14.7" fill="#0a2b6a"/>
<rect x="1707.2" y="431.9" width="15" height="14.7" fill="#022e46"/>
<rect x="1721.9" y="431.9" width="15" height="14.7" fill="#001a64"/>
<rect x="1736.7" y="431.9" width="15" height="14.7" fill="#1a1e87"/>
<rect x="1412.4" y="446.3" width="15" height="14.7" fill="#000b4c"/>
<rect x="1427.1" y="446.3" width="15" height="14.7" fill="#06148b"/>
<rect x="1441.9" y="446.3" width="15" height="14.7" fill="#041751"/>
<rect x="1456.6" y="446.3" width="15" height="14.7" fill="#052e56"/>
<rect x="1471.4" y="446.3" width="15" height="14.7" fill="#072185"/>
<rect x="1486.1" y="446.3" width="15" height="14.7" fill="#050c50"/>
<rect x="1500.8" y="446.3" width="15" height="14.7" fill="#110069"/>
<rect x="1515.6" y="446.3" width="15" height="14.7" fill="#000b4d"/>
<rect x="1530.3" y="446.3" width="15" height="14.7" fill="#061f60"/>
<rect x="1545.1" y="446.3" width="15" height="14.7" fill="#061566"/>
<rect x="1559.8" y="446.3" width="15" height="14.7" fill="#140562"/>
<rect x="1574.5" y="446.3" width="15" height="14.7" fill="#0e176e"/>
<rect x="1589.3" y="446.3" width="15" height="14.7" fill="#10007c"/>
<rect x="1604" y="446.3" width="15" height="14.7" fill="#1102c3"/>
<rect x="1618.7" y="446.3" width="15" height="14.7" fill="#0a1b84"/>
<rect x="1633.5" y="446.3" width="15" height="14.7" fill="#083752"/>
<rect x="1648.2" y="446.3" width="15" height="14.7" fill="#001e86"/>
<rect x="1663" y="446.3" width="15" height="14.7" fill="#002653"/>
<rect x="1677.7" y="446.3" width="15" height="14.7" fill="#020e78"/>
<rect x="1692.4" y="446.3" width="15" height="14.7" fill="#061a87"/>
<rect x="1707.2" y="446.3" width="15" height="14.7" fill="#0d0664"/>
<rect x="1721.9" y="446.3" width="15" height="14.7" fill="#131f89"/>
<rect x="1736.7" y="446.3" width="15" height="14.7" fill="#000080"/>
<rect x="1412.4" y="460.7" width="15" height="14.7" fill="#10008a"/>
<rect x="1427.1" y="460.7" width="15" height="14.7" fill="#05009f"/>
<rect x="1441.9" y="460.7" width="15" height="14.7" fill="#06048f"/>
<rect x="1456.6" y="460.7" width="15" height="14.7" fill="#0315aa"/>
<rect x="1471.4" y="460.7" width="15" height="14.7" fill="#0312ab"/>
<rect x="1486.1" y="460.7" width="15" height="14.7" fill="#000c6c"/>
<rect x="1500.8" y="460.7" width="15" height="14.7" fill="#08008b"/>
<rect x="1515.6" y="460.7" width="15" height="14.7" fill="#020e79"/>
<rect x="1530.3" y="460.7" width="15" height="14.7" fill="#00009d"/>
<rect x="1545.1" y="460.7" width="15" height="14.7" fill="#0b0889"/>
<rect x="1559.8" y="460.7" width="15" height="14.7" fill="#00015e"/>
<rect x="1574.5" y="460.7" width="15" height="14.7" fill="#021c67"/>
<rect x="1589.3" y="460.7" width="15" height="14.7" fill="#091090"/>
<rect x="1604" y="460.7" width="15" height="14.7" fill="#000099"/>
<rect x="1618.7" y="460.7" width="15" height="14.7" fill="#00097a"/>
<rect x="1633.5" y="460.7" width="15" height="14.7" fill="#041377"/>
<rect x="1648.2" y="460.7" width="15" height="14.7" fill="#09145d"/>
<rect x="1663" y="460.7" width="15" height="14.7" fill="#050783"/>
<rect x="1677.7" y="460.7" width="15" height="14.7" fill="#000aa0"/>
<rect x="1692.4" y="460.7" width="15" height="14.7" fill="#050086"/>
<rect x="1707.2" y="460.7" width="15" height="14.7" fill="#080077"/>
<rect x="1721.9" y="460.7" width="15" height="14.7" fill="#02137c"/>
<rect x="1736.7" y="460.7" width="15" height="14.7" fill="#031091"/>
<rect x="1412.4" y="475" width="15" height="14.7" fill="#031a92"/>
<rect x="1427.1" y="475" width="15" height="14.7" fill="#09087f"/>
<rect x="1441.9" y="475" width="15" height="14.7" fill="#0000a2"/>
<rect x="1456.6" y="475" width="15" height="14.7" fill="#040180"/>
<rect x="1471.4" y="475" width="15" height="14.7" fill="#080aa0"/>
<rect x="1486.1" y="475" width="15" height="14.7" fill="#000981"/>
<rect x="1500.8" y="475" width="15" height="14.7" fill="#0c0e96"/>
<rect x="1515.6" y="475" width="15" height="14.7" fill="#0b0f65"/>
<rect x="1530.3" y="475" width="15" height="14.7" fill="#0c0f84"/>
<rect x="1545.1" y="475" width="15" height="14.7" fill="#071799"/>
<rect x="1559.8" y="475" width="15" height="14.7" fill="#040e75"/>
<rect x="1574.5" y="475" width="15" height="14.7" fill="#070990"/>
<rect x="1589.3" y="475" width="15" height="14.7" fill="#0000c3"/>
<rect x="1604" y="475" width="15" height="14.7" fill="#030993"/>
<rect x="1618.7" y="475" width="15" height="14.7" fill="#030c60"/>
<rect x="1633.5" y="475" width="15" height="14.7" fill="#05095f"/>
<rect x="1648.2" y="475" width="15" height="14.7" fill="#001174"/>
<rect x="1663" y="475" width="15" height="14.7" fill="#010d7e"/>
<rect x="1677.7" y="475" width="15" height="14.7" fill="#00067f"/>
<rect x="1692.4" y="475" width="15" height="14.7" fill="#03138f"/>
<rect x="1707.2" y="475" width="15" height="14.7" fill="#011e85"/>
<rect x="1721.9" y="475" width="15" height="14.7" fill="#00056b"/>
<rect x="1736.7" y="475" width="15" height="14.7" fill="#000970"/>
<rect x="1412.4" y="489.4" width="15" height="14.7" fill="#0a0b7f"/>
<rect x="1427.1" y="489.4" width="15" height="14.7" fill="#020988"/>
<rect x="1441.9" y="489.4" width="15" height="14.7" fill="#010f62"/>
<rect x="1456.6" y="489.4" width="15" height="14.7" fill="#050c90"/>
<rect x="1471.4" y="489.4" width="15" height="14.7" fill="#090399"/>
<rect x="1486.1" y="489.4" width="15" height="14.7" fill="#00026c"/>
<rect x="1500.8" y="489.4" width="15" height="14.7" fill="#08009c"/>
<rect x="1515.6" y="489.4" width="15" height="14.7" fill="#04046a"/>
<rect x="1530.3" y="489.4" width="15" height="14.7" fill="#031c57"/>
<rect x="1545.1" y="489.4" width="15" height="14.7" fill="#010d90"/>
<rect x="1559.8" y="489.4" width="15" height="14.7" fill="#060586"/>
<rect x="1574.5" y="489.4" width="15" height="14.7" fill="#001178"/>
<rect x="1589.3" y="489.4" width="15" height="14.7" fill="#010f81"/>
<rect x="1604" y="489.4" width="15" height="14.7" fill="#090476"/>
<rect x="1618.7" y="489.4" width="15" height="14.7" fill="#02057d"/>
<rect x="1633.5" y="489.4" width="15" height="14.7" fill="#060b85"/>
<rect x="1648.2" y="489.4" width="15" height="14.7" fill="#070c9b"/>
<rect x="1663" y="489.4" width="15" height="14.7" fill="#030687"/>
<rect x="1677.7" y="489.4" width="15" height="14.7" fill="#0d158e"/>
<rect x="1692.4" y="489.4" width="15" height="14.7" fill="#000fa8"/>
<rect x="1707.2" y="489.4" width="15" height="14.7" fill="#0e0f6f"/>
<rect x="1721.9" y="489.4" width="15" height="14.7" fill="#0005a2"/>
<rect x="1736.7" y="489.4" width="15" height="14.7" fill="#020e68"/>
<rect x="1412.4" y="503.8" width="15" height="14.7" fill="#080d81"/>
<rect x="1427.1" y="503.8" width="15" height="14.7" fill="#030594"/>
<rect x="1441.9" y="503.8" width="15" height="14.7" fill="#02038a"/>
<rect x="1456.6" y="503.8" width="15" height="14.7" fill="#010c88"/>
<rect x="1471.4" y="503.8" width="15" height="14.7" fill="#000385"/>
<rect x="1486.1" y="503.8" width="15" height="14.7" fill="#04087a"/>
<rect x="1500.8" y="503.8" width="15" height="14.7" fill="#02089e"/>
<rect x="1515.6" y="503.8" width="15" height="14.7" fill="#0a0aa9"/>
<rect x="1530.3" y="503.8" width="15" height="14.7" fill="#0c0eb6"/>
<rect x="1545.1" y="503.8" width="15" height="14.7" fill="#000b8b"/>
<rect x="1559.8" y="503.8" width="15" height="14.7" fill="#02027e"/>
<rect x="1574.5" y="503.8" width="15" height="14.7" fill="#06038f"/>
<rect x="1589.3" y="503.8" width="15" height="14.7" fill="#001b94"/>
<rect x="1604" y="503.8" width="15" height="14.7" fill="#00005d"/>
<rect x="1618.7" y="503.8" width="15" height="14.7" fill="#000f82"/>
<rect x="1633.5" y="503.8" width="15" height="14.7" fill="#011189"/>
<rect x="1648.2" y="503.8" width="15" height="14.7" fill="#05079b"/>
<rect x="1663" y="503.8" width="15" height="14.7" fill="#040384"/>
<rect x="1677.7" y="503.8" width="15" height="14.7" fill="#090e9c"/>
<rect x="1692.4" y="503.8" width="15" height="14.7" fill="#0d04a1"/>
<rect x="1707.2" y="503.8" width="15" height="14.7" fill="#000b86"/>
<rect x="1721.9" y="503.8" width="15" height="14.7" fill="#0405b4"/>
<rect x="1736.7" y="503.8" width="15" height="14.7" fill="#051286"/>
<rect x="1412.4" y="518.1" width="15" height="14.7" fill="#060781"/>
<rect x="1427.1" y="518.1" width="15" height="14.7" fill="#040eb0"/>
<rect x="1441.9" y="518.1" width="15" height="14.7" fill="#0500a8"/>
<rect x="1456.6" y="518.1" width="15" height="14.7" fill="#020f7c"/>
<rect x="1471.4" y="518.1" width="15" height="14.7" fill="#050d92"/>
<rect x="1486.1" y="518.1" width="15" height="14.7" fill="#0a03ab"/>
<rect x="1500.8" y="518.1" width="15" height="14.7" fill="#0017a8"/>
<rect x="1515.6" y="518.1" width="15" height="14.7" fill="#08009d"/>
<rect x="1530.3" y="518.1" width="15" height="14.7" fill="#020592"/>
<rect x="1545.1" y="518.1" width="15" height="14.7" fill="#0d0771"/>
<rect x="1559.8" y="518.1" width="15" height="14.7" fill="#000d82"/>
<rect x="1574.5" y="518.1" width="15" height="14.7" fill="#03178d"/>
<rect x="1589.3" y="518.1" width="15" height="14.7" fill="#030074"/>
<rect x="1604" y="518.1" width="15" height="14.7" fill="#000bb1"/>
<rect x="1618.7" y="518.1" width="15" height="14.7" fill="#010a9b"/>
<rect x="1633.5" y="518.1" width="15" height="14.7" fill="#00067c"/>
<rect x="1648.2" y="518.1" width="15" height="14.7" fill="#050280"/>
<rect x="1663" y="518.1" width="15" height="14.7" fill="#000892"/>
<rect x="1677.7" y="518.1" width="15" height="14.7" fill="#0808af"/>
<rect x="1692.4" y="518.1" width="15" height="14.7" fill="#000473"/>
<rect x="1707.2" y="518.1" width="15" height="14.7" fill="#071594"/>
<rect x="1721.9" y="518.1" width="15" height="14.7" fill="#0a1278"/>
<rect x="1736.7" y="518.1" width="15" height="14.7" fill="#010784"/>
<rect x="1412.4" y="532.5" width="15" height="14.7" fill="#0000bc"/>
<rect x="1427.1" y="532.5" width="15" height="14.7" fill="#0d0894"/>
<rect x="1441.9" y="532.5" width="15" height="14.7" fill="#000074"/>
<rect x="1456.6" y="532.5" width="15" height="14.7" fill="#020aaa"/>
<rect x="1471.4" y="532.5" width="15" height="14.7" fill="#000673"/>
<rect x="1486.1" y="532.5" width="15" height="14.7" fill="#0200a5"/>
<rect x="1500.8" y="532.5" width="15" height="14.7" fill="#060785"/>
<rect x="1515.6" y="532.5" width="15" height="14.7" fill="#05087c"/>
<rect x="1530.3" y="532.5" width="15" height="14.7" fill="#000e85"/>
<rect x="1545.1" y="532.5" width="15" height="14.7" fill="#000db4"/>
<rect x="1559.8" y="532.5" width="15" height="14.7" fill="#060186"/>
<rect x="1574.5" y="532.5" width="15" height="14.7" fill="#070e97"/>
<rect x="1589.3" y="532.5" width="15" height="14.7" fill="#050e9a"/>
<rect x="1604" y="532.5" width="15" height="14.7" fill="#000092"/>
<rect x="1618.7" y="532.5" width="15" height="14.7" fill="#061483"/>
<rect x="1633.5" y="532.5" width="15" height="14.7" fill="#02007d"/>
<rect x="1648.2" y="532.5" width="15" height="14.7" fill="#091e95"/>
<rect x="1663" y="532.5" width="15" height="14.7" fill="#071284"/>
<rect x="1677.7" y="532.5" width="15" height="14.7" fill="#061475"/>
<rect x="1692.4" y="532.5" width="15" height="14.7" fill="#0a16af"/>
<rect x="1707.2" y="532.5" width="15" height="14.7" fill="#0a04a4"/>
<rect x="1721.9" y="532.5" width="15" height="14.7" fill="#00009b"/>
<rect x="1736.7" y="532.5" width="15" height="14.7" fill="#050b94"/>
<rect x="1412.4" y="546.8" width="15" height="14.7" fill="#0600b2"/>
<rect x="1427.1" y="546.8" width="15" height="14.7" fill="#040599"/>
<rect x="1441.9" y="546.8" width="15" height="14.7" fill="#030c83"/>
<rect x="1456.6" y="546.8" width="15" height="14.7" fill="#00007c"/>
<rect x="1471.4" y="546.8" width="15" height="14.7" fill="#0104ba"/>
<rect x="1486.1" y="546.8" width="15" height="14.7" fill="#0607a5"/>
<rect x="1500.8" y="546.8" width="15" height="14.7" fill="#0b0e7e"/>
<rect x="1515.6" y="546.8" width="15" height="14.7" fill="#011074"/>
<rect x="1530.3" y="546.8" width="15" height="14.7" fill="#000088"/>
<rect x="1545.1" y="546.8" width="15" height="14.7" fill="#00049b"/>
<rect x="1559.8" y="546.8" width="15" height="14.7" fill="#001d9e"/>
<rect x="1574.5" y="546.8" width="15" height="14.7" fill="#02139e"/>
<rect x="1589.3" y="546.8" width="15" height="14.7" fill="#060a95"/>
<rect x="1604" y="546.8" width="15" height="14.7" fill="#02099f"/>
<rect x="1618.7" y="546.8" width="15" height="14.7" fill="#050f95"/>
<rect x="1633.5" y="546.8" width="15" height="14.7" fill="#08108e"/>
<rect x="1648.2" y="546.8" width="15" height="14.7" fill="#011390"/>
<rect x="1663" y="546.8" width="15" height="14.7" fill="#070980"/>
<rect x="1677.7" y="546.8" width="15" height="14.7" fill="#000a88"/>
<rect x="1692.4" y="546.8" width="15" height="14.7" fill="#0106b7"/>
<rect x="1707.2" y="546.8" width="15" height="14.7" fill="#091199"/>
<rect x="1721.9" y="546.8" width="15" height="14.7" fill="#000fc4"/>
<rect x="1736.7" y="546.8" width="15" height="14.7" fill="#08147b"/>
<rect x="1412.4" y="561.2" width="15" height="14.7" fill="#060dab"/>
<rect x="1427.1" y="561.2" width="15" height="14.7" fill="#040e7a"/>
<rect x="1441.9" y="561.2" width="15" height="14.7" fill="#01069f"/>
<rect x="1456.6" y="561.2" width="15" height="14.7" fill="#07009f"/>
<rect x="1471.4" y="561.2" width="15" height="14.7" fill="#0e0bb6"/>
<rect x="1486.1" y="561.2" width="15" height="14.7" fill="#0b139e"/>
<rect x="1500.8" y="561.2" width="15" height="14.7" fill="#0005ab"/>
<rect x="1515.6" y="561.2" width="15" height="14.7" fill="#0c09b1"/>
<rect x="1530.3" y="561.2" width="15" height="14.7" fill="#0007a4"/>
<rect x="1545.1" y="561.2" width="15" height="14.7" fill="#070787"/>
<rect x="1559.8" y="561.2" width="15" height="14.7" fill="#020aad"/>
<rect x="1574.5" y="561.2" width="15" height="14.7" fill="#03039d"/>
<rect x="1589.3" y="561.2" width="15" height="14.7" fill="#0f067e"/>
<rect x="1604" y="561.2" width="15" height="14.7" fill="#050e97"/>
<rect x="1618.7" y="561.2" width="15" height="14.7" fill="#080c9d"/>
<rect x="1633.5" y="561.2" width="15" height="14.7" fill="#0c16b2"/>
<rect x="1648.2" y="561.2" width="15" height="14.7" fill="#090a9e"/>
<rect x="1663" y="561.2" width="15" height="14.7" fill="#0607a3"/>
<rect x="1677.7" y="561.2" width="15" height="14.7" fill="#02109b"/>
<rect x="1692.4" y="561.2" width="15" height="14.7" fill="#060981"/>
<rect x="1707.2" y="561.2" width="15" height="14.7" fill="#0400a5"/>
<rect x="1721.9" y="561.2" width="15" height="14.7" fill="#050eac"/>
<rect x="1736.7" y="561.2" width="15" height="14.7" fill="#0e009b"/>
<rect x="1412.4" y="575.6" width="15" height="14.7" fill="#0610b9"/>
<rect x="1427.1" y="575.6" width="15" height="14.7" fill="#0519b1"/>
<rect x="1441.9" y="575.6" width="15" height="14.7" fill="#000094"/>
<rect x="1456.6" y="575.6" width="15" height="14.7" fill="#0712b7"/>
<rect x="1471.4" y="575.6" width="15" height="14.7" fill="#0d1582"/>
<rect x="1486.1" y="575.6" width="15" height="14.7" fill="#0a0d9d"/>
<rect x="1500.8" y="575.6" width="15" height="14.7" fill="#0807ac"/>
<rect x="1515.6" y="575.6" width="15" height="14.7" fill="#06049d"/>
<rect x="1530.3" y="575.6" width="15" height="14.7" fill="#030bbc"/>
<rect x="1545.1" y="575.6" width="15" height="14.7" fill="#0816a8"/>
<rect x="1559.8" y="575.6" width="15" height="14.7" fill="#001a9e"/>
<rect x="1574.5" y="575.6" width="15" height="14.7" fill="#0400a3"/>
<rect x="1589.3" y="575.6" width="15" height="14.7" fill="#00168d"/>
<rect x="1604" y="575.6" width="15" height="14.7" fill="#070991"/>
<rect x="1618.7" y="575.6" width="15" height="14.7" fill="#051a8b"/>
<rect x="1633.5" y="575.6" width="15" height="14.7" fill="#041788"/>
<rect x="1648.2" y="575.6" width="15" height="14.7" fill="#030589"/>
<rect x="1663" y="575.6" width="15" height="14.7" fill="#09129a"/>
<rect x="1677.7" y="575.6" width="15" height="14.7" fill="#05007b"/>
<rect x="1692.4" y="575.6" width="15" height="14.7" fill="#010db3"/>
<rect x="1707.2" y="575.6" width="15" height="14.7" fill="#0b0099"/>
<rect x="1721.9" y="575.6" width="15" height="14.7" fill="#0804a8"/>
<rect x="1736.7" y="575.6" width="15" height="14.7" fill="#000589"/>
<rect x="1412.4" y="589.9" width="15" height="14.7" fill="#081186"/>
<rect x="1427.1" y="589.9" width="15" height="14.7" fill="#0711a3"/>
<rect x="1441.9" y="589.9" width="15" height="14.7" fill="#03009d"/>
<rect x="1456.6" y="589.9" width="15" height="14.7" fill="#031899"/>
<rect x="1471.4" y="589.9" width="15" height="14.7" fill="#0400b6"/>
<rect x="1486.1" y="589.9" width="15" height="14.7" fill="#01199b"/>
<rect x="1500.8" y="589.9" width="15" height="14.7" fill="#0b15bb"/>
<rect x="1515.6" y="589.9" width="15" height="14.7" fill="#040fa7"/>
<rect x="1530.3" y="589.9" width="15" height="14.7" fill="#020086"/>
<rect x="1545.1" y="589.9" width="15" height="14.7" fill="#020f92"/>
<rect x="1559.8" y="589.9" width="15" height="14.7" fill="#070e98"/>
<rect x="1574.5" y="589.9" width="15" height="14.7" fill="#070a9a"/>
<rect x="1589.3" y="589.9" width="15" height="14.7" fill="#050c82"/>
<rect x="1604" y="589.9" width="15" height="14.7" fill="#0b00ab"/>
<rect x="1618.7" y="589.9" width="15" height="14.7" fill="#0917b3"/>
<rect x="1633.5" y="589.9" width="15" height="14.7" fill="#0c128c"/>
<rect x="1648.2" y="589.9" width="15" height="14.7" fill="#121177"/>
<rect x="1663" y="589.9" width="15" height="14.7" fill="#031595"/>
<rect x="1677.7" y="589.9" width="15" height="14.7" fill="#0600ab"/>
<rect x="1692.4" y="589.9" width="15" height="14.7" fill="#0e1cde"/>
<rect x="1707.2" y="589.9" width="15" height="14.7" fill="#06118b"/>
<rect x="1721.9" y="589.9" width="15" height="14.7" fill="#06139f"/>
<rect x="1736.7" y="589.9" width="15" height="14.7" fill="#0501b0"/>
<rect x="1412.4" y="604.3" width="15" height="14.7" fill="#0902b3"/>
<rect x="1427.1" y="604.3" width="15" height="14.7" fill="#0609bb"/>
<rect x="1441.9" y="604.3" width="15" height="14.7" fill="#071f90"/>
<rect x="1456.6" y="604.3" width="15" height="14.7" fill="#050d6e"/>
<rect x="1471.4" y="604.3" width="15" height="14.7" fill="#0c0c94"/>
<rect x="1486.1" y="604.3" width="15" height="14.7" fill="#070f9a"/>
<rect x="1500.8" y="604.3" width="15" height="14.7" fill="#0011a0"/>
<rect x="1515.6" y="604.3" width="15" height="14.7" fill="#080d72"/>
<rect x="1530.3" y="604.3" width="15" height="14.7" fill="#040671"/>
<rect x="1545.1" y="604.3" width="15" height="14.7" fill="#02147d"/>
<rect x="1559.8" y="604.3" width="15" height="14.7" fill="#00106a"/>
<rect x="1574.5" y="604.3" width="15" height="14.7" fill="#081177"/>
<rect x="1589.3" y="604.3" width="15" height="14.7" fill="#08097f"/>
<rect x="1604" y="604.3" width="15" height="14.7" fill="#120582"/>
<rect x="1618.7" y="604.3" width="15" height="14.7" fill="#071691"/>
<rect x="1633.5" y="604.3" width="15" height="14.7" fill="#0619a5"/>
<rect x="1648.2" y="604.3" width="15" height="14.7" fill="#0a0197"/>
<rect x="1663" y="604.3" width="15" height="14.7" fill="#0a0593"/>
<rect x="1677.7" y="604.3" width="15" height="14.7" fill="#031f9c"/>
<rect x="1692.4" y="604.3" width="15" height="14.7" fill="#051386"/>
<rect x="1707.2" y="604.3" width="15" height="14.7" fill="#0009bf"/>
<rect x="1721.9" y="604.3" width="15" height="14.7" fill="#0812a7"/>
<rect x="1736.7" y="604.3" width="15" height="14.7" fill="#0509af"/>
<rect x="1412.4" y="618.6" width="15" height="14.7" fill="#080e94"/>
<rect x="1427.1" y="618.6" width="15" height="14.7" fill="#05179f"/>
<rect x="1441.9" y="618.6" width="15" height="14.7" fill="#021a7a"/>
<rect x="1456.6" y="618.6" width="15" height="14.7" fill="#0b03b7"/>
<rect x="1471.4" y="618.6" width="15" height="14.7" fill="#0c08a6"/>
<rect x="1486.1" y="618.6" width="15" height="14.7" fill="#0b0379"/>
<rect x="1500.8" y="618.6" width="15" height="14.7" fill="#0c0694"/>
<rect x="1515.6" y="618.6" width="15" height="14.7" fill="#0b049b"/>
<rect x="1530.3" y="618.6" width="15" height="14.7" fill="#0a059f"/>
<rect x="1545.1" y="618.6" width="15" height="14.7" fill="#060d91"/>
<rect x="1559.8" y="618.6" width="15" height="14.7" fill="#060bab"/>
<rect x="1574.5" y="618.6" width="15" height="14.7" fill="#021997"/>
<rect x="1589.3" y="618.6" width="15" height="14.7" fill="#0e1a91"/>
<rect x="1604" y="618.6" width="15" height="14.7" fill="#0a11a1"/>
<rect x="1618.7" y="618.6" width="15" height="14.7" fill="#0a0f85"/>
<rect x="1633.5" y="618.6" width="15" height="14.7" fill="#020eb4"/>
<rect x="1648.2" y="618.6" width="15" height="14.7" fill="#0115b8"/>
<rect x="1663" y="618.6" width="15" height="14.7" fill="#0004b0"/>
<rect x="1677.7" y="618.6" width="15" height="14.7" fill="#0700bf"/>
<rect x="1692.4" y="618.6" width="15" height="14.7" fill="#08008a"/>
<rect x="1707.2" y="618.6" width="15" height="14.7" fill="#060ca7"/>
<rect x="1721.9" y="618.6" width="15" height="14.7" fill="#050c91"/>
<rect x="1736.7" y="618.6" width="15" height="14.7" fill="#030f8d"/>
</g>
<rect x="1751.4" y="40" width="10" height="600" fill="#fff"/>
<rect x="1410.4" y="633" width="345" height="8" fill="#fff"/>
<path d="M1412.4,415.2L1751.4,415.2" stroke="#fff" stroke-width="4.2" stroke-dasharray="4.2,4.17" stroke-dashoffset="1.27" fill="none"/>
<text transform="translate(1407.2,32.5) scale(1.045,1)" font-size="38">(d)</text></g>
<g id="panel_e"><rect x="1762" y="48.3" width="230.4" height="586" fill="#fbfbfb" stroke="#222" stroke-width="1.6"/>
<path d="M1811.2,48.3L1811.2,634.3" stroke="#333" stroke-width="1.3"/>
<path d="M1770,634.3L1770,629.3" stroke="#222" stroke-width="1.3"/>
<path d="M1811.2,634.3L1811.2,625.3" stroke="#222" stroke-width="1.3"/>
<path d="M1852.3,634.3L1852.3,629.3" stroke="#222" stroke-width="1.3"/>
<path d="M1893.4,634.3L1893.4,625.3" stroke="#222" stroke-width="1.3"/>
<path d="M1934.5,634.3L1934.5,629.3" stroke="#222" stroke-width="1.3"/>
<path d="M1975.7,634.3L1975.7,625.3" stroke="#222" stroke-width="1.3"/>
<clipPath id="eclip"><rect x="1762" y="48.3" width="230.4" height="586"/></clipPath>
<g clip-path="url(#eclip)" fill="none" stroke-width="3.9" stroke-linejoin="miter">
<path d="M1809.3,49.7L1809.3,65.1L1800.4,80.4L1817.3,95.8L1805.7,111.2L1807.1,126.5L1818.5,141.9L1809.3,157.3L1812.4,172.7L1820.9,188L1814.4,203.4L1815.3,218.8L1804.7,234.1L1812.4,249.5L1813.6,264.9L1812.4,280.2L1807.6,295.6L1822.1,311L1822.8,326.4L1810.6,341.7L1841.1,357.1L1846.6,372.5L1838.3,387.8L1830,403.2L1850.8,418.6L1855,433.9L1866,449.3L1885.4,464.7L1884,480.1L1903.4,495.4L1911.7,510.8L1920,526.2L1929.8,541.5L1929.8,556.9L1939.4,572.3L1943.6,587.6L1936.1,603L1954.7,618.4L1947.8,633.8" stroke="#0000ff"/>
<path d="M1931,49.7L1962.1,65.1L1904.2,80.4L1841.4,95.8L1800.4,111.2L1785.9,126.5L1819.7,141.9L1858.3,157.3L1896.9,172.7L1957.3,188L1975.4,203.4L1896.9,218.8L1853.5,234.1L1810,249.5L1801.6,264.9L1817.3,280.2L1831.7,295.6L1887.3,311L1932.2,326.4L1936.1,341.7L1907.6,357.1L1886.8,372.5L1846.6,387.8L1828.6,403.2L1805.1,418.6L1823.1,433.9L1822.5,449.3L1812.6,464.7L1809.3,480.1L1786.5,495.4L1791.2,510.8L1795.4,526.2L1784.3,541.5L1789.3,556.9L1799.6,572.3L1788.5,587.6L1803.2,603L1785.7,618.4L1783.5,633.8" stroke="#ff0000"/>
<path d="M1864.3,49.7L1859.5,65.1L1869.2,80.4L1904.2,95.8L1940.4,111.2L1975.4,126.5L1954.9,141.9L1909,157.3L1866.7,172.7L1853.5,188L1847.4,203.4L1865.5,218.8L1884.4,234.1L1923.5,249.5L1962.1,264.9L1947.6,280.2L1896.9,295.6L1872,311L1843.5,326.4L1843.9,341.7L1844.7,357.1L1848.6,372.5L1861.9,387.8L1870.2,403.2L1870.2,418.6L1853.6,433.9L1841.1,449.3L1835.6,464.7L1828.6,480.1L1816.2,495.4L1813.4,510.8L1816.2,526.2L1816.2,541.5L1806.5,556.9L1802.3,572.3L1807.9,587.6L1809.3,603L1809.3,618.4L1811.5,633.8" stroke="#007d00"/>
</g>
<path d="M1766,415.6L1998.5,415.6" stroke="#000" stroke-width="4.3" stroke-dasharray="4.2,4.17" fill="none"/>
<path d="M1895,530.8L1935.5,530.8" stroke="#0000ff" stroke-width="4.2"/>
<text transform="translate(1944.6,542.3) scale(1.045,1)" font-size="32.5">Al</text>
<path d="M1895,572.8L1935.5,572.8" stroke="#ff0000" stroke-width="4.2"/>
<text transform="translate(1938.5,582.5) scale(1.045,1)" font-size="32.5">Cu</text>
<path d="M1895,613.7L1935.5,613.7" stroke="#007d00" stroke-width="4.2"/>
<text transform="translate(1942,622.8) scale(1.045,1)" font-size="32.5">Cr</text>
<text transform="translate(1880,669) scale(1.045,1)" font-size="32.5" text-anchor="middle">Intensity (a.u.)</text>
<text transform="translate(1761.5,33.3) scale(1.045,1)" font-size="38">(e)</text></g>
<g id="panel_f"><rect x="712.3" y="667.6" width="282.1" height="650.8" fill="#fdfdfd" stroke="#1a1a1a" stroke-width="1.5"/>
<path d="M814.5,1318.4L814.5,1308.9" stroke="#1a1a1a" stroke-width="1.4"/>
<path d="M917.2,1318.4L917.2,1308.9" stroke="#1a1a1a" stroke-width="1.4"/>
<path d="M763.4,1318.4L763.4,1313.4" stroke="#1a1a1a" stroke-width="1.4"/>
<path d="M865.8,1318.4L865.8,1313.4" stroke="#1a1a1a" stroke-width="1.4"/>
<path d="M968.6,1318.4L968.6,1313.4" stroke="#1a1a1a" stroke-width="1.4"/>
<g fill="none" stroke-width="2.5" stroke-linejoin="round">
<path d="M712.3,820.4L714,821.1L715.7,822.9L717.4,822.8L719.1,821.7L720.8,821.8L722.5,822.2L724.2,822.1L725.9,821.4L727.6,820.5L729.3,820.5L731,820.5L732.7,819.4L734.4,820.4L736.1,821.3L737.8,821.8L739.5,823.6L741.2,824.6L742.9,825.4L744.6,825.2L746.3,823.7L748,822.8L749.7,821.6L751.4,820.7L753.1,820.8L754.8,820.9L756.5,819.2L758.2,818.6L759.9,819L761.6,819.6L763.3,820.2L765,818.1L766.7,816.1L768.4,814.7L770.1,813.8L771.8,812.2L773.5,809.3L775.2,806.1L776.9,801.3L778.6,797.4L780.3,794.2L782,791.7L783.7,789L785.4,785.3L787.1,781.8L788.8,779.6L790.5,777L792.2,773.9L793.9,772.7L795.6,770.1L797.3,768.2L799,768.1L800.7,768.3L802.4,767.2L804.1,764.1L805.8,763.6L807.5,763.8L809.2,764.6L810.9,765.6L812.6,765.9L814.3,767L816,767.7L817.7,769.1L819.4,771L821.1,771.3L822.8,771.5L824.5,771.1L826.2,770.2L827.9,768.7L829.6,768.7L831.3,769.1L833,768.7L834.7,768.2L836.4,766.9L838.1,766.3L839.8,766.2L841.5,766.2L843.2,766.6L844.9,766.4L846.6,765.6L848.3,765.2L850,765.8L851.7,766.1L853.3,765.7L855,765.9L856.7,765.3L858.4,764.5L860.1,764.9L861.8,764.3L863.5,763L865.2,762.5L866.9,763.9L868.6,762.9L870.3,761.9L872,762.8L873.7,763.7L875.4,763.3L877.1,762.3L878.8,762.1L880.5,762L882.2,763.1L883.9,763.6L885.6,764L887.3,763.6L889,762.6L890.7,763.5L892.4,763.4L894.1,762.8L895.8,763.6L897.5,763.4L899.2,763.9L900.9,765L902.6,764.6L904.3,763.6L906,763.7L907.7,763.8L909.4,763.3L911.1,764L912.8,763.9L914.5,763.5L916.2,762.4L917.9,762.5L919.6,763.3L921.3,763L923,764.3L924.7,764.4L926.4,764L928.1,763.8L929.8,763.8L931.5,764.5L933.2,764.1L934.9,764.4L936.6,765.6L938.3,766.1L940,765.8L941.7,764.4L943.4,765L945.1,765.8L946.8,765.3L948.5,765.2L950.2,765L951.9,765.7L953.6,767.7L955.3,768.1L957,767.9L958.7,768.2L960.4,767.3L962.1,766.2L963.8,767L965.5,768.9L967.2,768.6L968.9,767.8L970.6,768.3L972.3,768.4L974,768.7L975.7,769L977.4,768.6L979.1,767.5L980.8,768.1L982.5,769.5L984.2,769.6L985.9,770.9L987.6,771.4L989.3,770.3L991,769.4L992.7,769L994.4,768.2" stroke="#ff0000"/>
<path d="M712.3,865.2L714,865.2L715.7,866.2L717.4,866.1L719.1,866.1L720.8,867.7L722.5,867.2L724.2,866.7L725.9,865.8L727.6,865.1L729.3,864.3L731,863.4L732.7,863.9L734.4,863.3L736.1,864.2L737.8,866.5L739.5,867.4L741.2,868.1L742.9,869.2L744.6,869L746.3,867L748,867.5L749.7,866.4L751.4,864.5L753.1,864.7L754.8,865L756.5,865.2L758.2,863.3L759.9,862.3L761.6,862.1L763.3,861.4L765,861L766.7,859.9L768.4,858.8L770.1,858.1L771.8,855.4L773.5,851.3L775.2,847.9L776.9,843.3L778.6,839.4L780.3,835.7L782,832.2L783.7,828.7L785.4,824.7L787.1,821.1L788.8,816.6L790.5,812.9L792.2,810.5L793.9,808.5L795.6,806.3L797.3,804.4L799,803.7L800.7,802.6L802.4,801.8L804.1,801L805.8,800.1L807.5,800.1L809.2,799.9L810.9,801L812.6,803.7L814.3,805.3L816,806.5L817.7,809.2L819.4,811.2L821.1,809.7L822.8,808.8L824.5,809.3L826.2,807.7L827.9,807.6L829.6,808L831.3,806.2L833,806.1L834.7,806.3L836.4,805.5L838.1,804.8L839.8,804.2L841.5,805.3L843.2,805.1L844.9,804.3L846.6,803.5L848.3,803.8L850,804.8L851.7,804.9L853.3,804.1L855,803.4L856.7,802.7L858.4,802.6L860.1,803.5L861.8,803.1L863.5,802.7L865.2,802L866.9,800.9L868.6,799.6L870.3,799.7L872,800L873.7,801L875.4,802.1L877.1,800.5L878.8,799.6L880.5,800.1L882.2,800.9L883.9,801.3L885.6,802L887.3,802.7L889,802.3L890.7,802L892.4,801.7L894.1,801.5L895.8,801.7L897.5,801.8L899.2,800.8L900.9,800L902.6,801L904.3,800.9L906,801L907.7,801.4L909.4,800.7L911.1,801.1L912.8,801.9L914.5,802.5L916.2,802.6L917.9,802.2L919.6,801.9L921.3,801.9L923,801.8L924.7,800.1L926.4,800.2L928.1,801.6L929.8,802.7L931.5,803.3L933.2,803.7L934.9,802.9L936.6,802.5L938.3,805.1L940,805.1L941.7,804.9L943.4,805.1L945.1,805.2L946.8,806.8L948.5,805.7L950.2,804.5L951.9,805.4L953.6,807L955.3,807.8L957,807.8L958.7,808.1L960.4,808.4L962.1,808.8L963.8,808.3L965.5,807.5L967.2,808.2L968.9,808.8L970.6,808.3L972.3,808.4L974,809.2L975.7,809.7L977.4,810.6L979.1,809.5L980.8,808.4L982.5,809.7L984.2,809.8L985.9,809.7L987.6,809.7L989.3,810.1L991,811.3L992.7,811.2L994.4,811" stroke="#007d00"/>
<path d="M712.3,908.4L714,910.2L715.7,910.2L717.4,909.5L719.1,910.6L720.8,910.9L722.5,910.7L724.2,910L725.9,909.4L727.6,908.5L729.3,908L731,907.9L732.7,908.3L734.4,908.6L736.1,909.2L737.8,909.2L739.5,909.7L741.2,911.4L742.9,911.9L744.6,911.9L746.3,912.5L748,912.3L749.7,910.2L751.4,909.1L753.1,908.7L754.8,907.9L756.5,908.1L758.2,907.4L759.9,906.5L761.6,905.5L763.3,904.3L765,904.7L766.7,904.9L768.4,902.9L770.1,900.8L771.8,898.1L773.5,894.9L775.2,892.5L776.9,889.2L778.6,885.6L780.3,881.9L782,879.1L783.7,876.3L785.4,873L787.1,869.5L788.8,865.4L790.5,862.3L792.2,860.3L793.9,858.2L795.6,856.8L797.3,856.8L799,855.2L800.7,853.8L802.4,854.3L804.1,853.3L805.8,851.6L807.5,850.7L809.2,851.7L810.9,852.7L812.6,853.8L814.3,855.6L816,857.3L817.7,859.2L819.4,859.5L821.1,858.9L822.8,858.8L824.5,857.9L826.2,857.5L827.9,857.7L829.6,857.3L831.3,855.9L833,855.3L834.7,855.2L836.4,854.7L838.1,855.4L839.8,855.5L841.5,854.9L843.2,855.5L844.9,855.1L846.6,855.1L848.3,853.8L850,852.5L851.7,852.6L853.3,853L855,854L856.7,853.2L858.4,853.3L860.1,852.7L861.8,851.6L863.5,852L865.2,851.4L866.9,851L868.6,850.6L870.3,851.1L872,852L873.7,851.6L875.4,851.5L877.1,852.4L878.8,853.2L880.5,853L882.2,852.3L883.9,852.2L885.6,851.5L887.3,850.8L889,852L890.7,852L892.4,850.4L894.1,851L895.8,851.9L897.5,851.8L899.2,851.9L900.9,850.9L902.6,849.8L904.3,850.4L906,851.1L907.7,851.5L909.4,851.7L911.1,851.1L912.8,851.1L914.5,851L916.2,850.7L917.9,850.8L919.6,850.4L921.3,850.4L923,851L924.7,852.1L926.4,851.8L928.1,851.2L929.8,851.4L931.5,851.7L933.2,852.7L934.9,852.9L936.6,852.8L938.3,854.2L940,854L941.7,852.3L943.4,851.8L945.1,853.3L946.8,854.6L948.5,854L950.2,853.9L951.9,855.3L953.6,856.7L955.3,857L957,857.6L958.7,856.8L960.4,856.4L962.1,857.6L963.8,857.6L965.5,857.5L967.2,858L968.9,858.4L970.6,858.6L972.3,857.7L974,857.6L975.7,858.5L977.4,857.8L979.1,857.3L980.8,857.9L982.5,858.3L984.2,859.3L985.9,858.2L987.6,857.7L989.3,859.3L991,859L992.7,858.2L994.4,858.5" stroke="#ff0000"/>
<path d="M712.3,951.5L714,952.1L715.7,953.6L717.4,954.4L719.1,953.6L720.8,953.2L722.5,953.3L724.2,952.1L725.9,952L727.6,953.1L729.3,953.2L731,952.8L732.7,951.6L734.4,951.3L736.1,952L737.8,953.4L739.5,954.3L741.2,955.3L742.9,957.1L744.6,957.2L746.3,956L748,955.4L749.7,954.5L751.4,952.5L753.1,951.7L754.8,951.1L756.5,950.4L758.2,950.6L759.9,950.6L761.6,949.6L763.3,949.5L765,949.8L766.7,947.6L768.4,945.8L770.1,944.2L771.8,941.4L773.5,938.8L775.2,935.3L776.9,930.6L778.6,925.9L780.3,922.1L782,919.6L783.7,916.7L785.4,911.4L787.1,907.3L788.8,904.4L790.5,901L792.2,897.5L793.9,895L795.6,894.1L797.3,892.4L799,890.7L800.7,889.9L802.4,888.4L804.1,887L805.8,887.3L807.5,888L809.2,887L810.9,887L812.6,889.1L814.3,891.4L816,894.6L817.7,897.3L819.4,898L821.1,898L822.8,899L824.5,898.8L826.2,897L827.9,896.8L829.6,897.2L831.3,897.1L833,896.5L834.7,895.7L836.4,895.1L838.1,894.1L839.8,893.6L841.5,893.8L843.2,893.3L844.9,893.2L846.6,894L848.3,893.2L850,892.7L851.7,892.6L853.3,892.1L855,892.9L856.7,892.5L858.4,890.7L860.1,890.9L861.8,891.4L863.5,891.2L865.2,889.9L866.9,890.5L868.6,891.2L870.3,890.8L872,890.3L873.7,889.6L875.4,889.9L877.1,890.4L878.8,889.7L880.5,888.9L882.2,888.7L883.9,888.6L885.6,888.3L887.3,887.6L889,888.5L890.7,888.8L892.4,888.6L894.1,889L895.8,888.7L897.5,888.2L899.2,888.7L900.9,887.8L902.6,888.2L904.3,888L906,887L907.7,887.9L909.4,887.5L911.1,887.3L912.8,887.4L914.5,889.1L916.2,889.7L917.9,888.8L919.6,889L921.3,889.2L923,890.1L924.7,890.5L926.4,890.2L928.1,890.9L929.8,890.7L931.5,890.1L933.2,890.6L934.9,890.9L936.6,890.8L938.3,891L940,892.8L941.7,893.2L943.4,892.7L945.1,893.4L946.8,894L948.5,894.7L950.2,895.3L951.9,896.7L953.6,896.9L955.3,897L957,897.1L958.7,897.7L960.4,899.2L962.1,899.1L963.8,899.1L965.5,898.8L967.2,898.6L968.9,899.1L970.6,899.2L972.3,898.9L974,899.4L975.7,899.2L977.4,899.4L979.1,900.6L980.8,900.6L982.5,899.9L984.2,900.1L985.9,901.1L987.6,901.5L989.3,901.1L991,900.4L992.7,900.9L994.4,901.7" stroke="#007d00"/>
<path d="M712.3,995.7L714,995.8L715.7,995.1L717.4,996L719.1,996.4L720.8,996.1L722.5,996.5L724.2,996.5L725.9,996.6L727.6,995.5L729.3,994.2L731,994.9L732.7,994.5L734.4,994.4L736.1,996.2L737.8,997.4L739.5,998.1L741.2,998.1L742.9,998.4L744.6,998.2L746.3,997.6L748,996L749.7,994.4L751.4,994.7L753.1,995.3L754.8,994.8L756.5,994.4L758.2,994.1L759.9,994.4L761.6,994.4L763.3,993.3L765,991.7L766.7,991.4L768.4,991.3L770.1,989L771.8,986.5L773.5,984L775.2,981.1L776.9,978.6L778.6,976.1L780.3,972.5L782,969L783.7,965.6L785.4,962.7L787.1,960.8L788.8,957.9L790.5,953.6L792.2,951.5L793.9,949.9L795.6,947.6L797.3,947.1L799,946.5L800.7,945.9L802.4,944.9L804.1,943.2L805.8,942.9L807.5,942.9L809.2,943.1L810.9,945.3L812.6,946.6L814.3,947.8L816,949.4L817.7,951.1L819.4,952.7L821.1,953.3L822.8,952.6L824.5,951.9L826.2,950.8L827.9,949.6L829.6,949.8L831.3,950L833,949.6L834.7,949.4L836.4,950.4L838.1,949.2L839.8,947.5L841.5,948.9L843.2,949.2L844.9,948L846.6,947.7L848.3,947.4L850,947.7L851.7,947L853.3,946.6L855,946.3L856.7,947.6L858.4,948.8L860.1,946.8L861.8,944.8L863.5,945.5L865.2,946.6L866.9,945.8L868.6,945.3L870.3,945.6L872,945.6L873.7,945.9L875.4,946.2L877.1,944.7L878.8,943.8L880.5,945L882.2,944.2L883.9,943.4L885.6,944L887.3,943.8L889,943L890.7,943.7L892.4,943.5L894.1,942.3L895.8,942.4L897.5,942.1L899.2,942.9L900.9,943.3L902.6,943.2L904.3,943.1L906,943.9L907.7,943.3L909.4,943.1L911.1,942.9L912.8,941.1L914.5,942.2L916.2,943.2L917.9,944.2L919.6,942.9L921.3,942.4L923,943.1L924.7,942.8L926.4,943.9L928.1,944.9L929.8,945L931.5,945.7L933.2,945.2L934.9,945L936.6,946.3L938.3,946.2L940,946.3L941.7,947.2L943.4,947.7L945.1,948.3L946.8,949.2L948.5,948.1L950.2,947.9L951.9,949.2L953.6,949.1L955.3,949.6L957,950.2L958.7,950.2L960.4,949.4L962.1,949.6L963.8,950.8L965.5,951.1L967.2,952.1L968.9,952.1L970.6,950.9L972.3,951.6L974,952.8L975.7,952.3L977.4,951.7L979.1,951.3L980.8,952L982.5,952.7L984.2,951.9L985.9,952.9L987.6,953.4L989.3,952.5L991,952.3L992.7,952.5L994.4,951.8" stroke="#ff0000"/>
<path d="M712.3,1041.9L714,1041.9L715.7,1041.4L717.4,1042.5L719.1,1041.9L720.8,1041.3L722.5,1042.1L724.2,1042.4L725.9,1042.7L727.6,1042.2L729.3,1040.1L731,1039.6L732.7,1041.1L734.4,1040.3L736.1,1040.4L737.8,1041.2L739.5,1042.7L741.2,1045L742.9,1044.3L744.6,1043.5L746.3,1042.2L748,1041.4L749.7,1041.4L751.4,1040.8L753.1,1040.5L754.8,1039.9L756.5,1039.1L758.2,1039.4L759.9,1039.1L761.6,1038.1L763.3,1037.2L765,1037.3L766.7,1036.2L768.4,1034.9L770.1,1034.1L771.8,1030.4L773.5,1027.8L775.2,1025.8L776.9,1021.5L778.6,1017.5L780.3,1014.8L782,1011.9L783.7,1008.6L785.4,1003.7L787.1,999.4L788.8,996.4L790.5,993.3L792.2,990.8L793.9,988.2L795.6,986.7L797.3,984.7L799,985.2L800.7,984.7L802.4,983.2L804.1,982.6L805.8,980.9L807.5,981L809.2,982L810.9,982.5L812.6,983.6L814.3,985.8L816,988.7L817.7,989.9L819.4,990.3L821.1,990.5L822.8,990.4L824.5,990.7L826.2,990.6L827.9,989.9L829.6,989.1L831.3,989.8L833,990.5L834.7,989.9L836.4,989.4L838.1,989.8L839.8,989.4L841.5,988.8L843.2,989.3L844.9,989.3L846.6,989L848.3,987.8L850,986.8L851.7,988L853.3,989.3L855,988.5L856.7,987.7L858.4,987.3L860.1,986.2L861.8,986.4L863.5,987.2L865.2,987.5L866.9,987L868.6,986.8L870.3,987.2L872,985.9L873.7,985.5L875.4,985.3L877.1,984.3L878.8,983.8L880.5,983L882.2,983.4L883.9,983.8L885.6,982.1L887.3,981.7L889,981.5L890.7,980.8L892.4,980.9L894.1,980.9L895.8,980.4L897.5,978.7L899.2,979.3L900.9,980.3L902.6,979.8L904.3,980.3L906,981.3L907.7,980.4L909.4,979.9L911.1,980.4L912.8,981.6L914.5,982.8L916.2,982.7L917.9,982.3L919.6,982.1L921.3,983.2L923,983.7L924.7,984.7L926.4,985.8L928.1,985.3L929.8,986L931.5,987.7L933.2,988L934.9,987.6L936.6,988.4L938.3,988.5L940,989.4L941.7,989.7L943.4,989.9L945.1,990.6L946.8,991.7L948.5,992.9L950.2,993.2L951.9,992.6L953.6,992.7L955.3,994.1L957,994.2L958.7,994.7L960.4,995.8L962.1,994.3L963.8,993.2L965.5,993.9L967.2,993.6L968.9,993.6L970.6,994.2L972.3,993.9L974,994.1L975.7,994.3L977.4,993.5L979.1,994.3L980.8,995.6L982.5,995.4L984.2,994.4L985.9,994.8L987.6,995.1L989.3,994.7L991,994.5L992.7,995.4L994.4,996.2" stroke="#007d00"/>
<path d="M712.3,1084.8L714,1084.9L715.7,1085.1L717.4,1085.7L719.1,1086.8L720.8,1086.8L722.5,1085.5L724.2,1085.7L725.9,1085.9L727.6,1085L729.3,1085.7L731,1086.8L732.7,1086.1L734.4,1085.4L736.1,1084.9L737.8,1085.8L739.5,1086.6L741.2,1086.5L742.9,1087.8L744.6,1087.5L746.3,1085.9L748,1085.7L749.7,1086.4L751.4,1084.7L753.1,1083.5L754.8,1084.6L756.5,1085L758.2,1084.4L759.9,1083.1L761.6,1081.9L763.3,1080.9L765,1080.9L766.7,1079.2L768.4,1077.2L770.1,1077.2L771.8,1076.1L773.5,1073.8L775.2,1072.2L776.9,1071.3L778.6,1068.5L780.3,1065.8L782,1063.6L783.7,1060.5L785.4,1057.4L787.1,1055.7L788.8,1051.2L790.5,1045.7L792.2,1042.7L793.9,1038.3L795.6,1034L797.3,1032.7L799,1031.7L800.7,1031.3L802.4,1030.5L804.1,1029L805.8,1027.4L807.5,1026.1L809.2,1028.9L810.9,1031.6L812.6,1032.3L814.3,1035.1L816,1037L817.7,1036.9L819.4,1037.2L821.1,1037.9L822.8,1036.6L824.5,1034.6L826.2,1036.1L827.9,1036.6L829.6,1035.3L831.3,1035.6L833,1034.4L834.7,1032.9L836.4,1034.1L838.1,1034.6L839.8,1036.3L841.5,1038.8L843.2,1038.2L844.9,1037.2L846.6,1038.1L848.3,1040.3L850,1041.7L851.7,1042.2L853.3,1042.2L855,1041.7L856.7,1041.7L858.4,1041.6L860.1,1041.8L861.8,1041.4L863.5,1040.6L865.2,1040.7L866.9,1041.4L868.6,1041.2L870.3,1039.5L872,1037.2L873.7,1035.3L875.4,1033.8L877.1,1032.3L878.8,1031.1L880.5,1031.2L882.2,1030.6L883.9,1029.2L885.6,1027.1L887.3,1025.8L889,1025.7L890.7,1024.2L892.4,1023.7L894.1,1023.5L895.8,1023.3L897.5,1023.6L899.2,1022.8L900.9,1022.6L902.6,1022.7L904.3,1021.6L906,1021.9L907.7,1022.3L909.4,1022.5L911.1,1022.5L912.8,1023L914.5,1025.2L916.2,1026L917.9,1026.4L919.6,1027.1L921.3,1028.8L923,1031.8L924.7,1032.6L926.4,1032.4L928.1,1033L929.8,1034L931.5,1036.4L933.2,1037.7L934.9,1037.9L936.6,1037.2L938.3,1037.4L940,1039.4L941.7,1040L943.4,1040.4L945.1,1041.6L946.8,1042L948.5,1041L950.2,1042L951.9,1042.6L953.6,1042.4L955.3,1043.4L957,1043L958.7,1042.7L960.4,1042.2L962.1,1042.1L963.8,1042.5L965.5,1043.1L967.2,1044.3L968.9,1043.3L970.6,1041.7L972.3,1041.2L974,1042L975.7,1043.3L977.4,1044L979.1,1043.7L980.8,1043.4L982.5,1042.9L984.2,1043.3L985.9,1043.6L987.6,1043.9L989.3,1043.8L991,1042.5L992.7,1042.6L994.4,1044" stroke="#0000ff"/>
<path d="M712.3,1127.8L714,1128L715.7,1128.3L717.4,1129.3L719.1,1130.1L720.8,1129.4L722.5,1130.3L724.2,1130.4L725.9,1128.7L727.6,1128.4L729.3,1128.6L731,1127.9L732.7,1126.4L734.4,1126.7L736.1,1128.4L737.8,1129.2L739.5,1129.9L741.2,1130.2L742.9,1130.3L744.6,1130.2L746.3,1130.1L748,1130.7L749.7,1128.7L751.4,1127.1L753.1,1127L754.8,1126.4L756.5,1125.7L758.2,1125.6L759.9,1126.2L761.6,1126.5L763.3,1125.2L765,1123.8L766.7,1123.9L768.4,1123.4L770.1,1121.1L771.8,1119L773.5,1118.1L775.2,1116.7L776.9,1113.6L778.6,1110.4L780.3,1108.5L782,1105.2L783.7,1100.9L785.4,1097.6L787.1,1094.2L788.8,1089.4L790.5,1084.4L792.2,1079.7L793.9,1075.1L795.6,1071.9L797.3,1068.8L799,1067.2L800.7,1067.5L802.4,1066.3L804.1,1063.5L805.8,1062.1L807.5,1063.7L809.2,1065.9L810.9,1067.8L812.6,1069.9L814.3,1072.8L816,1075.1L817.7,1076.8L819.4,1076.7L821.1,1076.2L822.8,1076.7L824.5,1075.5L826.2,1074.5L827.9,1075.3L829.6,1075L831.3,1073.8L833,1073.7L834.7,1074L836.4,1073.6L838.1,1073.8L839.8,1074L841.5,1075.1L843.2,1076.6L844.9,1077.9L846.6,1079.2L848.3,1080.4L850,1080.9L851.7,1082.1L853.3,1082.9L855,1083.4L856.7,1084.4L858.4,1084.3L860.1,1084.4L861.8,1084.7L863.5,1084.3L865.2,1083.5L866.9,1084.1L868.6,1083.5L870.3,1080.7L872,1077L873.7,1073.4L875.4,1071.6L877.1,1069.7L878.8,1068.3L880.5,1067L882.2,1064.2L883.9,1063L885.6,1062.4L887.3,1059.6L889,1058.9L890.7,1059.8L892.4,1058.8L894.1,1057.3L895.8,1055.8L897.5,1055L899.2,1054.5L900.9,1053.9L902.6,1053.4L904.3,1052.9L906,1053.3L907.7,1053.7L909.4,1054.3L911.1,1057.2L912.8,1058.7L914.5,1057.5L916.2,1058.2L917.9,1061.4L919.6,1063.7L921.3,1064.6L923,1065.9L924.7,1066.9L926.4,1067.8L928.1,1070.3L929.8,1072.7L931.5,1072.8L933.2,1074.2L934.9,1076.3L936.6,1076L938.3,1075.2L940,1076.3L941.7,1078.1L943.4,1080L945.1,1081.2L946.8,1081.2L948.5,1081.6L950.2,1082.4L951.9,1081.8L953.6,1081.1L955.3,1081.8L957,1081.8L958.7,1081.4L960.4,1082.3L962.1,1083.4L963.8,1083.3L965.5,1082.4L967.2,1082.4L968.9,1083.2L970.6,1082.3L972.3,1081.7L974,1083.5L975.7,1083.2L977.4,1081.7L979.1,1080.9L980.8,1080.5L982.5,1082.5L984.2,1082.8L985.9,1081.4L987.6,1081.3L989.3,1081L991,1081.8L992.7,1082.5L994.4,1081.8" stroke="#0000ff"/>
<path d="M712.3,1171.5L714,1171.9L715.7,1173.1L717.4,1173.4L719.1,1172.8L720.8,1174.3L722.5,1175.2L724.2,1174L725.9,1172.9L727.6,1171.9L729.3,1172.2L731,1172.1L732.7,1172.2L734.4,1173.3L736.1,1172.6L737.8,1171.8L739.5,1173.7L741.2,1175L742.9,1175L744.6,1175.6L746.3,1175.5L748,1173.2L749.7,1172.1L751.4,1173.2L753.1,1172.4L754.8,1171L756.5,1170.6L758.2,1171L759.9,1171.2L761.6,1170.9L763.3,1170.5L765,1170.7L766.7,1170.7L768.4,1168.9L770.1,1168.5L771.8,1167.3L773.5,1164.5L775.2,1162.7L776.9,1160.3L778.6,1157.3L780.3,1154.2L782,1151L783.7,1147.1L785.4,1142L787.1,1136.7L788.8,1131.6L790.5,1126.5L792.2,1121.6L793.9,1116L795.6,1109.7L797.3,1106.7L799,1105.3L800.7,1102.8L802.4,1101.5L804.1,1101.3L805.8,1101L807.5,1101.3L809.2,1102.7L810.9,1104.3L812.6,1107.8L814.3,1113.6L816,1116.5L817.7,1116.9L819.4,1117.4L821.1,1118.4L822.8,1119.2L824.5,1118.5L826.2,1118.2L827.9,1117.6L829.6,1116.9L831.3,1116.7L833,1116.7L834.7,1117.1L836.4,1116.6L838.1,1116.7L839.8,1118.4L841.5,1119.4L843.2,1118.9L844.9,1119.8L846.6,1121.9L848.3,1123.2L850,1124.6L851.7,1125.5L853.3,1126.2L855,1127.7L856.7,1129L858.4,1128.7L860.1,1128.3L861.8,1128L863.5,1128.2L865.2,1129L866.9,1128.3L868.6,1127.2L870.3,1123.3L872,1119.1L873.7,1115.4L875.4,1112.2L877.1,1110.1L878.8,1107.9L880.5,1106.7L882.2,1103.6L883.9,1100.6L885.6,1098.9L887.3,1097.9L889,1097.6L890.7,1095.4L892.4,1093L894.1,1090.9L895.8,1090.4L897.5,1090.4L899.2,1090.5L900.9,1089.3L902.6,1087L904.3,1086.6L906,1086.9L907.7,1087.7L909.4,1088.8L911.1,1089.7L912.8,1090.3L914.5,1091.8L916.2,1094.2L917.9,1096.9L919.6,1099.4L921.3,1101.8L923,1104.3L924.7,1106.9L926.4,1107.6L928.1,1108.9L929.8,1111L931.5,1111.6L933.2,1112.1L934.9,1114.8L936.6,1117.3L938.3,1116.4L940,1116.3L941.7,1118.5L943.4,1119.8L945.1,1119.7L946.8,1120.8L948.5,1121.8L950.2,1123.1L951.9,1124.7L953.6,1123.3L955.3,1122.7L957,1123.5L958.7,1122.8L960.4,1123L962.1,1124.5L963.8,1124.4L965.5,1124.7L967.2,1125.5L968.9,1125.3L970.6,1126.1L972.3,1125.6L974,1124.2L975.7,1125L977.4,1125.2L979.1,1125.1L980.8,1124.7L982.5,1124.6L984.2,1125.9L985.9,1125.2L987.6,1123.9L989.3,1124.9L991,1125.6L992.7,1124.9L994.4,1124.5" stroke="#0000ff"/>
<path d="M712.3,1216.5L714,1217.5L715.7,1217.5L717.4,1216.8L719.1,1217.1L720.8,1217.9L722.5,1217L724.2,1216.2L725.9,1216.1L727.6,1214.9L729.3,1215L731,1215.8L732.7,1214.8L734.4,1214.4L736.1,1214.9L737.8,1216.8L739.5,1216.9L741.2,1217L742.9,1217.9L744.6,1217.7L746.3,1218.3L748,1217.9L749.7,1216.1L751.4,1214.8L753.1,1215.3L754.8,1215.5L756.5,1213.6L758.2,1213.6L759.9,1215.3L761.6,1215L763.3,1214.3L765,1214.3L766.7,1214.8L768.4,1215.8L770.1,1213.6L771.8,1209.7L773.5,1206.8L775.2,1205.4L776.9,1203.9L778.6,1199.5L780.3,1196.2L782,1191.5L783.7,1186.9L785.4,1182.9L787.1,1178.8L788.8,1174.1L790.5,1167.9L792.2,1161.5L793.9,1154.9L795.6,1151.1L797.3,1149.3L799,1145.9L800.7,1142.6L802.4,1142L804.1,1141.5L805.8,1140.6L807.5,1140.5L809.2,1142.3L810.9,1144L812.6,1148.4L814.3,1154.6L816,1157.3L817.7,1158.5L819.4,1158.1L821.1,1157.2L822.8,1156.8L824.5,1156.2L826.2,1156.2L827.9,1156L829.6,1155.5L831.3,1155.9L833,1156.6L834.7,1156.4L836.4,1155.5L838.1,1155.4L839.8,1157.1L841.5,1157.3L843.2,1157.4L844.9,1160.2L846.6,1163L848.3,1164.3L850,1165.2L851.7,1166.9L853.3,1167.7L855,1168.2L856.7,1170.2L858.4,1171.7L860.1,1171.6L861.8,1170.5L863.5,1169.8L865.2,1170.3L866.9,1169.7L868.6,1168.5L870.3,1166.4L872,1161L873.7,1154.8L875.4,1150.7L877.1,1147.6L878.8,1145.2L880.5,1142.9L882.2,1140.9L883.9,1139.1L885.6,1137.8L887.3,1136.6L889,1134.1L890.7,1131.9L892.4,1130.6L894.1,1129.4L895.8,1126L897.5,1124L899.2,1124L900.9,1123.5L902.6,1122.9L904.3,1122.2L906,1121.7L907.7,1123L909.4,1125.2L911.1,1125.7L912.8,1127.2L914.5,1129.5L916.2,1132.1L917.9,1136.1L919.6,1139.7L921.3,1141.6L923,1144.2L924.7,1147.4L926.4,1149.1L928.1,1150.6L929.8,1152.4L931.5,1154.2L933.2,1155.4L934.9,1157.1L936.6,1159.7L938.3,1160.2L940,1160.3L941.7,1160.8L943.4,1162.4L945.1,1164.2L946.8,1165L948.5,1166.6L950.2,1167.1L951.9,1165L953.6,1165.6L955.3,1167.5L957,1166.7L958.7,1167.1L960.4,1168.9L962.1,1169.6L963.8,1169.9L965.5,1170.6L967.2,1170.1L968.9,1168.8L970.6,1168.9L972.3,1169.4L974,1167.9L975.7,1168L977.4,1168.1L979.1,1168.1L980.8,1169.2L982.5,1168.6L984.2,1168.5L985.9,1167.8L987.6,1166.6L989.3,1167.8L991,1169L992.7,1168.8L994.4,1168.3" stroke="#0000ff"/>
<path d="M712.3,1261.1L714,1262L715.7,1261.4L717.4,1261.6L719.1,1261.7L720.8,1261.3L722.5,1260.6L724.2,1260.9L725.9,1260L727.6,1259.6L729.3,1260.4L731,1259.3L732.7,1259L734.4,1259.1L736.1,1258.9L737.8,1260.4L739.5,1261.6L741.2,1262.6L742.9,1264.1L744.6,1263.3L746.3,1261.6L748,1261.6L749.7,1259.9L751.4,1257.9L753.1,1258.5L754.8,1259.4L756.5,1259.8L758.2,1260L759.9,1260.7L761.6,1261L763.3,1261.3L765,1261.6L766.7,1261.1L768.4,1260L770.1,1258.4L771.8,1257L773.5,1255L775.2,1253.2L776.9,1250.7L778.6,1247.3L780.3,1242.7L782,1237.4L783.7,1232.6L785.4,1227.8L787.1,1224.2L788.8,1218.6L790.5,1211.9L792.2,1206L793.9,1201.5L795.6,1196.1L797.3,1191.4L799,1189L800.7,1187.5L802.4,1186L804.1,1185L805.8,1185.2L807.5,1184.7L809.2,1186.5L810.9,1188.3L812.6,1191.9L814.3,1198.5L816,1202.8L817.7,1203.6L819.4,1203.4L821.1,1203.8L822.8,1203.6L824.5,1202.3L826.2,1202.2L827.9,1201.4L829.6,1199.7L831.3,1200.2L833,1200.1L834.7,1199.3L836.4,1200.8L838.1,1202.4L839.8,1201L841.5,1201.7L843.2,1205L844.9,1205.9L846.6,1208L848.3,1209.4L850,1209.8L851.7,1211.8L853.3,1213.7L855,1215.2L856.7,1216L858.4,1216L860.1,1216.9L861.8,1217.6L863.5,1216.3L865.2,1215.4L866.9,1216L868.6,1215.2L870.3,1210.1L872,1204.4L873.7,1199.9L875.4,1194.2L877.1,1189.9L878.8,1188.6L880.5,1186L882.2,1184.3L883.9,1182.3L885.6,1178.7L887.3,1176.7L889,1175.6L890.7,1174.2L892.4,1171.7L894.1,1170.1L895.8,1168.3L897.5,1166.9L899.2,1166.7L900.9,1166.2L902.6,1164.7L904.3,1164.7L906,1165.2L907.7,1165.3L909.4,1166.2L911.1,1166.3L912.8,1167.1L914.5,1169.1L916.2,1172.5L917.9,1176.1L919.6,1180.3L921.3,1185L923,1186.5L924.7,1188.9L926.4,1191.7L928.1,1194.6L929.8,1196.9L931.5,1198.7L933.2,1200.6L934.9,1200.5L936.6,1201.7L938.3,1203.6L940,1205.3L941.7,1205.6L943.4,1206.3L945.1,1207.9L946.8,1209.2L948.5,1210.4L950.2,1211.1L951.9,1211.8L953.6,1211.9L955.3,1212.3L957,1212.5L958.7,1212.2L960.4,1212.8L962.1,1213.4L963.8,1212.8L965.5,1214.1L967.2,1214.1L968.9,1212.2L970.6,1213.3L972.3,1214.3L974,1213.9L975.7,1213.2L977.4,1212.1L979.1,1212.3L980.8,1212.9L982.5,1213L984.2,1213.1L985.9,1213.7L987.6,1213.1L989.3,1211.6L991,1212L992.7,1212.3L994.4,1211.2" stroke="#0000ff"/>
</g>
<text transform="translate(727.3,804.3) scale(1.045,1)" font-size="28.5">11</text>
<text transform="translate(727.3,850.4) scale(1.045,1)" font-size="28.5">10</text>
<text transform="translate(734.2,895.1) scale(1.045,1)" font-size="28.5">9</text>
<text transform="translate(734.2,939.9) scale(1.045,1)" font-size="28.5">8</text>
<text transform="translate(734.2,984.6) scale(1.045,1)" font-size="28.5">7</text>
<text transform="translate(734.2,1028.7) scale(1.045,1)" font-size="28.5">6</text>
<text transform="translate(734.2,1073.4) scale(1.045,1)" font-size="28.5">5</text>
<text transform="translate(734.2,1120.6) scale(1.045,1)" font-size="28.5">4</text>
<text transform="translate(734.2,1164.7) scale(1.045,1)" font-size="28.5">3</text>
<text transform="translate(734.2,1209.3) scale(1.045,1)" font-size="28.5">2</text>
<text transform="translate(732.4,1258) scale(1.045,1)" font-size="28.5">1</text>
<text transform="translate(748.7,705.8) scale(1.045,1)" font-size="32.5">Cr M<tspan font-size="20.8" dy="7.2">4,5</tspan><tspan dy="-7.2"> edge</tspan></text>
<path d="M813.4,718L813.4,743" stroke="#000" stroke-width="2.8"/><path d="M813.4,750.5L807.7,738L813.4,741.5L819.1,738Z" fill="#000"/>
<text transform="translate(806,1288.3) scale(1.045,1)" font-size="32.5">Al L<tspan font-size="20.8" dy="7.2">2,3</tspan><tspan dy="-7.2"> edge</tspan></text>
<path d="M825.9,1246.4L825.9,1221" stroke="#000" stroke-width="2.8"/><path d="M825.9,1213.5L820.2,1226L825.9,1222.5L831.6,1226Z" fill="#000"/>
<path d="M910.6,1225L910.6,1198.5" stroke="#000" stroke-width="2.8"/><path d="M910.6,1191L904.9,1203.5L910.6,1200L916.3,1203.5Z" fill="#000"/>
<text transform="translate(717.8,1354.7) scale(1.045,1)" font-size="32" text-anchor="middle">60</text>
<text transform="translate(820.6,1354.7) scale(1.045,1)" font-size="32" text-anchor="middle">80</text>
<text transform="translate(923.5,1354.7) scale(1.045,1)" font-size="32" text-anchor="middle">100</text>
<text transform="translate(867.6,1394.1) scale(1.045,1)" font-size="32.5" text-anchor="middle">Energy (eV)</text>
<text transform="translate(697,1040) rotate(-90) scale(1.045,1)" font-size="32.5" text-anchor="middle">Intensity (a.u.)</text>
<text transform="translate(667.5,691) scale(1.045,1)" font-size="38">(f)</text>
<rect x="1009" y="667.2" width="282.2" height="651.4" fill="#fdfdfd" stroke="#1a1a1a" stroke-width="1.5"/>
<path d="M1097.9,1318.6L1097.9,1309.1" stroke="#1a1a1a" stroke-width="1.4"/>
<path d="M1187.6,1318.6L1187.6,1309.1" stroke="#1a1a1a" stroke-width="1.4"/>
<path d="M1276.7,1318.6L1276.7,1309.1" stroke="#1a1a1a" stroke-width="1.4"/>
<path d="M1053.8,1318.6L1053.8,1313.6" stroke="#1a1a1a" stroke-width="1.4"/>
<path d="M1142.9,1318.6L1142.9,1313.6" stroke="#1a1a1a" stroke-width="1.4"/>
<path d="M1232.3,1318.6L1232.3,1313.6" stroke="#1a1a1a" stroke-width="1.4"/>
<g fill="none" stroke-width="2.7" stroke-linejoin="round">
<path d="M1009,828.7L1010.9,829.9L1012.8,828.9L1014.7,829.7L1016.6,829.2L1018.5,828L1020.4,829.4L1022.3,827.4L1024.2,827.1L1026,826.3L1027.9,822.9L1029.8,824.5L1031.7,826.2L1033.6,827.2L1035.5,830.1L1037.4,827.5L1039.3,825.5L1041.2,827.6L1043.1,826.3L1045,826.9L1046.9,826L1048.8,825.2L1050.7,826.7L1052.6,825.4L1054.5,825.3L1056.3,826.3L1058.2,827.6L1060.1,826.1L1062,824.2L1063.9,823.5L1065.8,822L1067.7,819.3L1069.6,817.7L1071.5,814.8L1073.4,807.9L1075.3,801.3L1077.2,798.8L1079.1,801.1L1081,804.9L1082.9,807.9L1084.8,807.4L1086.7,807.9L1088.5,810.9L1090.4,811.6L1092.3,808L1094.2,804.7L1096.1,800.8L1098,799.3L1099.9,799.5L1101.8,798.4L1103.7,796.9L1105.6,795.5L1107.5,798.6L1109.4,798.4L1111.3,797.3L1113.2,797.8L1115.1,797L1117,799.6L1118.8,800.4L1120.7,802.1L1122.6,803.3L1124.5,802.2L1126.4,801.1L1128.3,803.2L1130.2,811L1132.1,814.4L1134,815.1L1135.9,814.7L1137.8,813.9L1139.7,813.7L1141.6,813.4L1143.5,812.4L1145.4,811.3L1147.3,810.1L1149.2,811.1L1151,811.4L1152.9,807.6L1154.8,806.5L1156.7,805.3L1158.6,803.4L1160.5,803.4L1162.4,804.6L1164.3,804.8L1166.2,804.4L1168.1,802L1170,801.6L1171.9,803.1L1173.8,804.7L1175.7,804.3L1177.6,802.7L1179.5,802.6L1181.4,800.4L1183.2,801.1L1185.1,804.4L1187,804L1188.9,804.4L1190.8,805.8L1192.7,804.1L1194.6,802.6L1196.5,802.2L1198.4,802L1200.3,801L1202.2,797.1L1204.1,785.3L1206,770.9L1207.9,756.4L1209.8,748.2L1211.7,744.8L1213.5,744.4L1215.4,751.2L1217.3,761.6L1219.2,768L1221.1,774.9L1223,782L1224.9,784.1L1226.8,785.2L1228.7,781.8L1230.6,776L1232.5,768.5L1234.4,762.4L1236.3,760.5L1238.2,760.6L1240.1,759.8L1242,761.4L1243.9,766L1245.7,774.7L1247.6,781.8L1249.5,786.7L1251.4,791.6L1253.3,793.4L1255.2,797.1L1257.1,800.2L1259,802.8L1260.9,801.8L1262.8,802.5L1264.7,801.9L1266.6,799L1268.5,800.2L1270.4,800.1L1272.3,800.3L1274.2,799.8L1276,801.5L1277.9,800.8L1279.8,799.2L1281.7,800.7L1283.6,799L1285.5,801.3L1287.4,802.1L1289.3,799.8L1291.2,800.3" stroke="#ff0000"/>
<path d="M1009,873.6L1010.9,872.8L1012.8,873.1L1014.7,875.6L1016.6,877.3L1018.5,874.6L1020.4,874L1022.3,874.9L1024.2,872.6L1026,871.6L1027.9,873L1029.8,874.1L1031.7,872.7L1033.6,871.7L1035.5,873.5L1037.4,874.2L1039.3,874.6L1041.2,873.2L1043.1,872.2L1045,870.1L1046.9,869L1048.8,872.2L1050.7,869.8L1052.6,871.1L1054.5,875.1L1056.3,872.1L1058.2,868.1L1060.1,868.9L1062,871.9L1063.9,871.1L1065.8,868.7L1067.7,863.5L1069.6,857.1L1071.5,846.7L1073.4,838.3L1075.3,833.9L1077.2,827.8L1079.1,826.3L1081,829.8L1082.9,832.9L1084.8,837.9L1086.7,843.9L1088.5,845.9L1090.4,845.5L1092.3,842.8L1094.2,841.6L1096.1,838.5L1098,835.8L1099.9,832L1101.8,829.5L1103.7,830.8L1105.6,829.9L1107.5,827.1L1109.4,826.9L1111.3,827.6L1113.2,830.1L1115.1,835.5L1117,836.9L1118.8,837.5L1120.7,841L1122.6,841.7L1124.5,842.6L1126.4,845.1L1128.3,844.7L1130.2,847.4L1132.1,848.8L1134,849.7L1135.9,849.3L1137.8,847.1L1139.7,850.2L1141.6,851.5L1143.5,850.1L1145.4,848.9L1147.3,849.5L1149.2,848.2L1151,846.8L1152.9,850.5L1154.8,850.2L1156.7,846.4L1158.6,843.4L1160.5,841.6L1162.4,843L1164.3,845.8L1166.2,847.1L1168.1,842.9L1170,842.4L1171.9,845.5L1173.8,843.2L1175.7,840.3L1177.6,843.3L1179.5,843.1L1181.4,839.7L1183.2,840L1185.1,839.4L1187,838.9L1188.9,836.5L1190.8,837.3L1192.7,839.1L1194.6,839.6L1196.5,840.8L1198.4,839.2L1200.3,834.8L1202.2,822.8L1204.1,799L1206,761.8L1207.9,722.3L1209.8,695.6L1211.7,682.4L1213.5,690.8L1215.4,707.7L1217.3,728.6L1219.2,753.4L1221.1,773L1223,787.3L1224.9,794.3L1226.8,795.8L1228.7,786.7L1230.6,771.1L1232.5,758.4L1234.4,744.5L1236.3,734.8L1238.2,732.9L1240.1,733.8L1242,736.6L1243.9,745.7L1245.7,764.8L1247.6,782.5L1249.5,794.9L1251.4,804.3L1253.3,810L1255.2,815L1257.1,817.3L1259,819.7L1260.9,819.9L1262.8,820.4L1264.7,822.1L1266.6,820.2L1268.5,818.9L1270.4,821L1272.3,820L1274.2,822.6L1276,823.8L1277.9,820.6L1279.8,820L1281.7,819.8L1283.6,820.4L1285.5,820.5L1287.4,824L1289.3,826.9L1291.2,823.5" stroke="#007d00"/>
<path d="M1009,914.4L1010.9,915.5L1012.8,916.7L1014.7,916.9L1016.6,918L1018.5,915.5L1020.4,913.3L1022.3,914.2L1024.2,914.4L1026,915.9L1027.9,917.4L1029.8,916L1031.7,915.5L1033.6,914.8L1035.5,916.1L1037.4,916.1L1039.3,915.8L1041.2,915.9L1043.1,913.9L1045,915.8L1046.9,917L1048.8,915.6L1050.7,916L1052.6,915.9L1054.5,914.2L1056.3,916.8L1058.2,918.3L1060.1,914.1L1062,912.6L1063.9,914.5L1065.8,915.7L1067.7,912.9L1069.6,909.5L1071.5,904.3L1073.4,893.9L1075.3,888.6L1077.2,886.4L1079.1,885.1L1081,888.7L1082.9,891.6L1084.8,893.2L1086.7,897.4L1088.5,899.5L1090.4,899.5L1092.3,899.2L1094.2,897L1096.1,893.7L1098,888.9L1099.9,885.1L1101.8,885.9L1103.7,884.4L1105.6,883.8L1107.5,882.8L1109.4,884.5L1111.3,887.5L1113.2,884L1115.1,884.4L1117,888.7L1118.8,892.9L1120.7,894L1122.6,894.2L1124.5,893.7L1126.4,894.1L1128.3,898.1L1130.2,900.2L1132.1,900.3L1134,896.9L1135.9,897.9L1137.8,900.4L1139.7,899.3L1141.6,899.3L1143.5,899.3L1145.4,901.3L1147.3,900.1L1149.2,902.7L1151,905.3L1152.9,899.9L1154.8,897.4L1156.7,897L1158.6,898.4L1160.5,900.2L1162.4,898.8L1164.3,901.1L1166.2,902.9L1168.1,900.5L1170,901.3L1171.9,903.1L1173.8,901.9L1175.7,904.1L1177.6,904.6L1179.5,902L1181.4,901.1L1183.2,899L1185.1,902L1187,905.3L1188.9,903.1L1190.8,903.2L1192.7,903.3L1194.6,900.8L1196.5,900.2L1198.4,901.2L1200.3,898.3L1202.2,893.1L1204.1,882.6L1206,866.6L1207.9,848.6L1209.8,835.1L1211.7,830.7L1213.5,834.2L1215.4,839.6L1217.3,849.1L1219.2,861.2L1221.1,866.3L1223,868.7L1224.9,871.4L1226.8,874L1228.7,874.4L1230.6,869.8L1232.5,864.3L1234.4,859.9L1236.3,856L1238.2,855.3L1240.1,857.2L1242,855.4L1243.9,858.3L1245.7,867.1L1247.6,873.2L1249.5,877.5L1251.4,879.4L1253.3,883L1255.2,885.1L1257.1,886.4L1259,886.4L1260.9,885.4L1262.8,887.1L1264.7,889.8L1266.6,890.5L1268.5,890.7L1270.4,889L1272.3,887L1274.2,890.6L1276,891.4L1277.9,888.8L1279.8,888.5L1281.7,889.7L1283.6,889L1285.5,888.1L1287.4,889.2L1289.3,886.9L1291.2,886.1" stroke="#ff0000"/>
<path d="M1009,958.4L1010.9,958.3L1012.8,958.2L1014.7,958.5L1016.6,958.1L1018.5,957.7L1020.4,958.7L1022.3,957.4L1024.2,956.2L1026,959.3L1027.9,958.2L1029.8,957.3L1031.7,959.5L1033.6,957.9L1035.5,956.3L1037.4,955.3L1039.3,957.2L1041.2,959.5L1043.1,959.9L1045,959.3L1046.9,959.9L1048.8,958.9L1050.7,958.9L1052.6,961.1L1054.5,960.9L1056.3,962.6L1058.2,962.9L1060.1,961.6L1062,959.5L1063.9,959.8L1065.8,959.4L1067.7,955L1069.6,948.3L1071.5,938L1073.4,927.7L1075.3,922.2L1077.2,918.5L1079.1,916.4L1081,919.5L1082.9,926.2L1084.8,931.7L1086.7,932.4L1088.5,935.1L1090.4,938.5L1092.3,939.2L1094.2,937.2L1096.1,933.6L1098,927.6L1099.9,920.3L1101.8,919.6L1103.7,919.5L1105.6,920.9L1107.5,920.6L1109.4,921.6L1111.3,923.3L1113.2,923L1115.1,926.1L1117,927.1L1118.8,930.1L1120.7,933.6L1122.6,934.6L1124.5,934L1126.4,931.7L1128.3,932L1130.2,936.3L1132.1,937.1L1134,938L1135.9,940.6L1137.8,938.2L1139.7,936.9L1141.6,938.4L1143.5,939.4L1145.4,939L1147.3,940.7L1149.2,940.3L1151,937.8L1152.9,933.9L1154.8,934.5L1156.7,936.1L1158.6,935L1160.5,935.4L1162.4,934.4L1164.3,935.7L1166.2,936.5L1168.1,934.9L1170,933.9L1171.9,934.9L1173.8,936.5L1175.7,936L1177.6,934.1L1179.5,933.4L1181.4,934.6L1183.2,935.7L1185.1,935.3L1187,934.3L1188.9,930.9L1190.8,931.6L1192.7,935.7L1194.6,936.7L1196.5,934.6L1198.4,932.3L1200.3,926.4L1202.2,913.5L1204.1,887.6L1206,847.8L1207.9,811.1L1209.8,787.2L1211.7,773.7L1213.5,779.3L1215.4,795.8L1217.3,819.9L1219.2,843.9L1221.1,862.1L1223,875.5L1224.9,884.3L1226.8,888.7L1228.7,876.5L1230.6,859.5L1232.5,846.3L1234.4,831.7L1236.3,821.8L1238.2,817.8L1240.1,818.7L1242,821.7L1243.9,831L1245.7,852.2L1247.6,870.9L1249.5,881.4L1251.4,891.3L1253.3,900L1255.2,906.2L1257.1,906.3L1259,907.2L1260.9,909.6L1262.8,908.6L1264.7,909L1266.6,908.7L1268.5,908.2L1270.4,908L1272.3,906.8L1274.2,906.1L1276,906.4L1277.9,904.9L1279.8,904.7L1281.7,905.9L1283.6,903.4L1285.5,904.3L1287.4,906.6L1289.3,904.1L1291.2,903.1" stroke="#007d00"/>
<path d="M1009,1003L1010.9,1003L1012.8,1003.2L1014.7,1002.1L1016.6,1005.3L1018.5,1008.7L1020.4,1007.3L1022.3,1004.7L1024.2,1004.6L1026,1004.6L1027.9,1003.5L1029.8,1003.7L1031.7,1003.7L1033.6,1003.7L1035.5,1006.3L1037.4,1002.9L1039.3,1002.1L1041.2,1003.6L1043.1,1003.2L1045,1004.9L1046.9,1004.9L1048.8,1004.6L1050.7,1003.2L1052.6,1001.2L1054.5,1000.6L1056.3,1001.9L1058.2,1003.5L1060.1,1002.5L1062,1001.4L1063.9,1003.4L1065.8,1003.9L1067.7,1001.2L1069.6,997.8L1071.5,990.4L1073.4,984.7L1075.3,983.5L1077.2,981.2L1079.1,979.5L1081,982.1L1082.9,984.1L1084.8,982.5L1086.7,983.3L1088.5,984.9L1090.4,983.1L1092.3,983L1094.2,981.1L1096.1,979.2L1098,979.8L1099.9,981L1101.8,982.1L1103.7,980.2L1105.6,977.2L1107.5,973.9L1109.4,976.2L1111.3,978.9L1113.2,978.6L1115.1,979.1L1117,980.1L1118.8,983.2L1120.7,985.5L1122.6,985.5L1124.5,984.4L1126.4,985.4L1128.3,987.8L1130.2,988.2L1132.1,988.6L1134,987.5L1135.9,988.5L1137.8,990.8L1139.7,987.3L1141.6,986.7L1143.5,989.9L1145.4,988.1L1147.3,985.9L1149.2,985.7L1151,986.6L1152.9,989.4L1154.8,991.1L1156.7,988.7L1158.6,987.6L1160.5,989.8L1162.4,989.4L1164.3,988.5L1166.2,988.5L1168.1,986.5L1170,984.8L1171.9,983.5L1173.8,982.9L1175.7,986.8L1177.6,986.6L1179.5,981.6L1181.4,981.2L1183.2,983.1L1185.1,984.5L1187,983.5L1188.9,984.7L1190.8,986L1192.7,985.9L1194.6,984.7L1196.5,980.7L1198.4,981.4L1200.3,982.4L1202.2,976.5L1204.1,967.3L1206,955.8L1207.9,945L1209.8,936.9L1211.7,932.8L1213.5,937.4L1215.4,941.7L1217.3,947.4L1219.2,955.7L1221.1,962.1L1223,966.7L1224.9,966.7L1226.8,965.8L1228.7,962.9L1230.6,960.7L1232.5,960.4L1234.4,961L1236.3,961.2L1238.2,956.2L1240.1,954.1L1242,958.1L1243.9,961L1245.7,963.6L1247.6,967.1L1249.5,969.3L1251.4,972.5L1253.3,974.4L1255.2,973.8L1257.1,975.3L1259,979.5L1260.9,982.4L1262.8,981.4L1264.7,980.8L1266.6,980.1L1268.5,979.7L1270.4,981L1272.3,978.9L1274.2,978.5L1276,982.3L1277.9,982.7L1279.8,980.9L1281.7,980.3L1283.6,979.7L1285.5,980.3L1287.4,982L1289.3,981.7L1291.2,979.4" stroke="#ff0000"/>
<path d="M1009,1050.8L1010.9,1047.5L1012.8,1048.2L1014.7,1050.7L1016.6,1050.9L1018.5,1052.5L1020.4,1052.7L1022.3,1050.3L1024.2,1047.7L1026,1048.4L1027.9,1050.2L1029.8,1051.3L1031.7,1049.9L1033.6,1048.1L1035.5,1048.3L1037.4,1050.3L1039.3,1052L1041.2,1052.8L1043.1,1051.7L1045,1047.5L1046.9,1046.9L1048.8,1051.1L1050.7,1050.7L1052.6,1047L1054.5,1046L1056.3,1046.8L1058.2,1048.8L1060.1,1046.2L1062,1044.1L1063.9,1045.8L1065.8,1042.7L1067.7,1040L1069.6,1041.5L1071.5,1036.4L1073.4,1029.2L1075.3,1027.1L1077.2,1025.8L1079.1,1024.9L1081,1024.6L1082.9,1022.4L1084.8,1019L1086.7,1018.7L1088.5,1018.3L1090.4,1016L1092.3,1016.2L1094.2,1016.5L1096.1,1013.7L1098,1009.6L1099.9,1005.9L1101.8,1006.9L1103.7,1008.9L1105.6,1009.3L1107.5,1011.6L1109.4,1011.7L1111.3,1014.1L1113.2,1015.6L1115.1,1014.5L1117,1016.9L1118.8,1021.3L1120.7,1024.1L1122.6,1022.4L1124.5,1020.5L1126.4,1024L1128.3,1027.9L1130.2,1026.3L1132.1,1025.3L1134,1028.4L1135.9,1030.4L1137.8,1029.5L1139.7,1029.2L1141.6,1025.2L1143.5,1022.8L1145.4,1024.4L1147.3,1025.2L1149.2,1027.9L1151,1027L1152.9,1025.4L1154.8,1026.1L1156.7,1024.1L1158.6,1022.7L1160.5,1023.3L1162.4,1023.7L1164.3,1025.9L1166.2,1025.5L1168.1,1026L1170,1028L1171.9,1026.9L1173.8,1026.5L1175.7,1026.3L1177.6,1028.6L1179.5,1026.8L1181.4,1026.1L1183.2,1029.9L1185.1,1029.3L1187,1028.9L1188.9,1028.7L1190.8,1027.8L1192.7,1029.4L1194.6,1030.9L1196.5,1029.2L1198.4,1028L1200.3,1026.5L1202.2,1022.8L1204.1,1013.8L1206,993.9L1207.9,976.7L1209.8,963.2L1211.7,958.2L1213.5,960.2L1215.4,962.1L1217.3,966L1219.2,977.9L1221.1,986.4L1223,994.6L1224.9,1003.1L1226.8,1003.7L1228.7,1004.5L1230.6,1001.7L1232.5,992.6L1234.4,985.8L1236.3,981.5L1238.2,975.9L1240.1,976.1L1242,982.1L1243.9,988.2L1245.7,993.6L1247.6,997.9L1249.5,1001.5L1251.4,1008.6L1253.3,1012.7L1255.2,1014.3L1257.1,1015.4L1259,1015.9L1260.9,1018.7L1262.8,1018.3L1264.7,1018.2L1266.6,1018L1268.5,1016.7L1270.4,1018.6L1272.3,1017.1L1274.2,1017.3L1276,1020.3L1277.9,1016.7L1279.8,1017.2L1281.7,1018.5L1283.6,1016.9L1285.5,1015.6L1287.4,1015.3L1289.3,1017.7L1291.2,1014.3" stroke="#007d00"/>
<path d="M1008.9,1094.1L1010.7,1094.9L1012.6,1094.8L1014.5,1095.1L1016.4,1096.4L1018.3,1094L1020.2,1092.7L1022.1,1095.4L1024,1097.9L1025.9,1096L1027.8,1094.2L1029.7,1095.2L1031.6,1094.4L1033.5,1094.3L1035.4,1095.6L1037.3,1095.3L1039.2,1095L1041.1,1097.5L1043,1098.2L1044.9,1097.1L1046.8,1096L1048.7,1096.7L1050.6,1098.3L1052.5,1096.5L1054.4,1095L1056.3,1096.3L1058.2,1096.8L1060.1,1095.3L1062,1098L1063.9,1096.2L1065.8,1090.5L1067.7,1087.7L1069.6,1083.6L1071.5,1082.8L1073.4,1081L1075.3,1076.5L1077.2,1072.4L1079.1,1069.4L1081,1067.3L1082.9,1065.1L1084.8,1061.9L1086.7,1057.8L1088.6,1055.7L1090.5,1055.2L1092.4,1051.4L1094.2,1048.8L1096.1,1048.6L1098,1047.5L1099.9,1046.7L1101.8,1045.7L1103.7,1047.6L1105.6,1048.7L1107.5,1048L1109.4,1047.8L1111.3,1052.8L1113.2,1057.2L1115.1,1059.3L1117,1060.8L1118.9,1065.5L1120.8,1073.7L1122.7,1076.7L1124.6,1074.2L1126.5,1074.2L1128.4,1073.3L1130.3,1071L1132.2,1070.1L1134.1,1069.8L1136,1072L1137.9,1072.3L1139.8,1071.3L1141.7,1070.2L1143.6,1068.9L1145.5,1069L1147.4,1068.6L1149.3,1067L1151.2,1067.1L1153.1,1068.5L1155,1069.8L1156.9,1069L1158.8,1068L1160.7,1068.2L1162.6,1068L1164.5,1067L1166.4,1064.5L1168.3,1064.3L1170.2,1066.6L1172.1,1066.9L1174,1067.3L1175.9,1068.6L1177.7,1068.2L1179.6,1069L1181.5,1069.7L1183.4,1068L1185.3,1069.8L1187.2,1071.1L1189.1,1069L1191,1070.2L1192.9,1070.8L1194.8,1069.3L1196.7,1068L1198.6,1067.6L1200.5,1065L1202.4,1057.5L1204.3,1048.9L1206.2,1040.6L1208.1,1031.4L1210,1025.3L1211.9,1020.9L1213.8,1018.3L1215.7,1022.7L1217.6,1032.2L1219.5,1039.1L1221.4,1047L1223.3,1052.5L1225.2,1057.3L1227.1,1062.4L1229,1057.9L1230.9,1052.7L1232.8,1048.6L1234.7,1045.8L1236.6,1042.4L1238.5,1039.3L1240.4,1041L1242.3,1044.4L1244.2,1049.1L1246.1,1052.8L1248,1057.2L1249.9,1064L1251.8,1067.8L1253.7,1067.1L1255.6,1068.4L1257.5,1068.4L1259.4,1066.5L1261.2,1067.4L1263.1,1068.8L1265,1066.7L1266.9,1065.8L1268.8,1065.2L1270.7,1063.2L1272.6,1065.6L1274.5,1066.9L1276.4,1065.7L1278.3,1065.7L1280.2,1066.6L1282.1,1065.3L1284,1064.2L1285.9,1065.2L1287.8,1065.5L1289.7,1065.5L1291.6,1065.1" stroke="#0000ff"/>
<path d="M1008.9,1139.4L1010.7,1140.2L1012.6,1140.7L1014.5,1140.3L1016.4,1141.8L1018.3,1139.5L1020.2,1137.6L1022.1,1137.4L1024,1136.4L1025.9,1137.5L1027.8,1138.8L1029.7,1140.7L1031.6,1139.9L1033.5,1138.5L1035.4,1137.3L1037.3,1138.5L1039.2,1140.1L1041.1,1139.7L1043,1139.8L1044.9,1140.6L1046.8,1139.4L1048.7,1136.1L1050.6,1137.6L1052.5,1139.9L1054.4,1139.3L1056.3,1138.4L1058.2,1139.5L1060.1,1143L1062,1140.4L1063.9,1137.4L1065.8,1139L1067.7,1140.9L1069.6,1137.2L1071.5,1132L1073.4,1133L1075.3,1131L1077.2,1126.8L1079.1,1121.3L1081,1117.7L1082.9,1115.2L1084.8,1113L1086.7,1109.7L1088.6,1102.1L1090.5,1094L1092.4,1090.5L1094.2,1084.3L1096.1,1077.1L1098,1075.6L1099.9,1073.4L1101.8,1071.4L1103.7,1072.9L1105.6,1076.6L1107.5,1079.4L1109.4,1084.6L1111.3,1089.9L1113.2,1095.8L1115.1,1101.7L1117,1107.6L1118.9,1109.8L1120.8,1110.8L1122.7,1113.1L1124.6,1114.6L1126.5,1116.2L1128.4,1115.8L1130.3,1117.1L1132.2,1116.4L1134.1,1113L1136,1109.8L1137.9,1105.9L1139.8,1104.9L1141.7,1107L1143.6,1107.6L1145.5,1103.8L1147.4,1101.1L1149.3,1104.4L1151.2,1104L1153.1,1101.2L1155,1100.5L1156.9,1099.9L1158.8,1100.5L1160.7,1104.8L1162.6,1108.1L1164.5,1105.4L1166.4,1105L1168.3,1103.4L1170.2,1104.3L1172.1,1110L1174,1111.7L1175.9,1111.9L1177.7,1110.6L1179.6,1108.3L1181.5,1110.1L1183.4,1111.6L1185.3,1112L1187.2,1112.1L1189.1,1109.7L1191,1110L1192.9,1109.9L1194.8,1108.9L1196.7,1106.1L1198.6,1104L1200.5,1104.4L1202.4,1105.7L1204.3,1103.7L1206.2,1099.3L1208.1,1100.3L1210,1101.3L1211.9,1100.6L1213.8,1098.3L1215.7,1096.1L1217.6,1096.9L1219.5,1099.9L1221.4,1102.4L1223.3,1103.9L1225.2,1101L1227.1,1098L1229,1101.1L1230.9,1101L1232.8,1101.2L1234.7,1104.1L1236.6,1102.8L1238.5,1102.3L1240.4,1103.2L1242.3,1104L1244.2,1104.9L1246.1,1107.5L1248,1109.8L1249.9,1110.8L1251.8,1111.6L1253.7,1111.1L1255.6,1109.2L1257.5,1110.6L1259.4,1111.9L1261.2,1110L1263.1,1109.9L1265,1109.8L1266.9,1110.4L1268.8,1111.8L1270.7,1110.6L1272.6,1109.3L1274.5,1113L1276.4,1113.6L1278.3,1110.7L1280.2,1110L1282.1,1110L1284,1111.1L1285.9,1113.3L1287.8,1113.4L1289.7,1112.1L1291.6,1112.2" stroke="#0000ff"/>
<path d="M1008.9,1183.3L1010.7,1183.8L1012.6,1186.9L1014.5,1185.5L1016.4,1184L1018.3,1185.3L1020.2,1185.3L1022.1,1184.2L1024,1184.8L1025.9,1186.4L1027.8,1184.6L1029.7,1185L1031.6,1185.6L1033.5,1187.6L1035.4,1189.2L1037.3,1187.5L1039.2,1185.8L1041.1,1183.9L1043,1184.5L1044.9,1185.1L1046.8,1182.4L1048.7,1181.8L1050.6,1184.6L1052.5,1184.9L1054.4,1185.2L1056.3,1184.4L1058.2,1182.8L1060.1,1181.7L1062,1181.5L1063.9,1182.9L1065.8,1183.1L1067.7,1184.4L1069.6,1184.2L1071.5,1182.3L1073.4,1181.1L1075.3,1180.1L1077.2,1176.4L1079.1,1173.3L1081,1170.5L1082.9,1162.4L1084.8,1157.4L1086.7,1151.8L1088.6,1141.2L1090.5,1131.6L1092.4,1121L1094.2,1116.8L1096.1,1115.1L1098,1109.6L1099.9,1106.6L1101.8,1105.6L1103.7,1106L1105.6,1106.5L1107.5,1106.1L1109.4,1116.1L1111.3,1124.6L1113.2,1130.6L1115.1,1137.2L1117,1144L1118.9,1148.7L1120.8,1150.5L1122.7,1155.2L1124.6,1157L1126.5,1157.8L1128.4,1160.7L1130.3,1162.2L1132.2,1160.7L1134.1,1159.2L1136,1157.7L1137.9,1158.4L1139.8,1155.4L1141.7,1150.8L1143.6,1152.7L1145.5,1149.5L1147.4,1145.3L1149.3,1146.3L1151.2,1148.5L1153.1,1148.6L1155,1148.1L1156.9,1150.2L1158.8,1148.5L1160.7,1146.5L1162.6,1146.6L1164.5,1149.1L1166.4,1151.3L1168.3,1151.4L1170.2,1150.4L1172.1,1149.6L1174,1151.7L1175.9,1153.1L1177.7,1156.7L1179.6,1156.9L1181.5,1154.8L1183.4,1154.2L1185.3,1156.1L1187.2,1156.9L1189.1,1156.4L1191,1156.3L1192.9,1152.5L1194.8,1151.8L1196.7,1152.3L1198.6,1150.9L1200.5,1151.6L1202.4,1151.5L1204.3,1147.5L1206.2,1147.7L1208.1,1148.7L1210,1147.9L1211.9,1147.5L1213.8,1147.5L1215.7,1147.5L1217.6,1145.4L1219.5,1146.7L1221.4,1147.8L1223.3,1148.5L1225.2,1150.3L1227.1,1152.9L1229,1154.7L1230.9,1153.8L1232.8,1151.2L1234.7,1152.1L1236.6,1153.6L1238.5,1150.6L1240.4,1150.3L1242.3,1153.3L1244.2,1154.6L1246.1,1153.5L1248,1154.8L1249.9,1157.4L1251.8,1157L1253.7,1156.8L1255.6,1157.6L1257.5,1156.9L1259.4,1155.7L1261.2,1155.3L1263.1,1153.3L1265,1155.6L1266.9,1159.2L1268.8,1156L1270.7,1153.2L1272.6,1154.3L1274.5,1157.7L1276.4,1158.2L1278.3,1156.7L1280.2,1155.1L1282.1,1156.3L1284,1158.3L1285.9,1156.5L1287.8,1154.9L1289.7,1153.7L1291.6,1154" stroke="#0000ff"/>
<path d="M1008.9,1228.4L1010.7,1227.4L1012.6,1227.1L1014.5,1228.4L1016.4,1228.7L1018.3,1229.2L1020.2,1229.9L1022.1,1229.3L1024,1228.2L1025.9,1227.8L1027.8,1230L1029.7,1229.9L1031.6,1230.4L1033.5,1229.9L1035.4,1228.6L1037.3,1228.8L1039.2,1226.6L1041.1,1227.2L1043,1230.7L1044.9,1229.9L1046.8,1225.9L1048.7,1226L1050.6,1227.7L1052.5,1229L1054.4,1228L1056.3,1226.5L1058.2,1227.7L1060.1,1227.9L1062,1228L1063.9,1227L1065.8,1226L1067.7,1226.8L1069.6,1230.1L1071.5,1230L1073.4,1225.7L1075.3,1224.8L1077.2,1226.5L1079.1,1226.8L1081,1222.2L1082.9,1216.1L1084.8,1206.9L1086.7,1195.4L1088.6,1187.3L1090.5,1178.2L1092.4,1167.2L1094.2,1159.6L1096.1,1153.1L1098,1147.3L1099.9,1145.5L1101.8,1145.9L1103.7,1146.4L1105.6,1146.7L1107.5,1151.8L1109.4,1161.2L1111.3,1169.1L1113.2,1177.2L1115.1,1186.8L1117,1191.3L1118.9,1194L1120.8,1200.5L1122.7,1204L1124.6,1203.1L1126.5,1203.5L1128.4,1204.9L1130.3,1200.9L1132.2,1196.8L1134.1,1196.1L1136,1193.4L1137.9,1192.8L1139.8,1194.9L1141.7,1193.9L1143.6,1193.2L1145.5,1192.8L1147.4,1190.8L1149.3,1190.9L1151.2,1190.3L1153.1,1186.6L1155,1188.2L1156.9,1193.8L1158.8,1195.9L1160.7,1198L1162.6,1195.6L1164.5,1193L1166.4,1192.6L1168.3,1191.2L1170.2,1191.9L1172.1,1193.9L1174,1194.7L1175.9,1192.3L1177.7,1191.7L1179.6,1191.3L1181.5,1190.5L1183.4,1194.2L1185.3,1195.4L1187.2,1193.6L1189.1,1196L1191,1197.3L1192.9,1195.3L1194.8,1192.4L1196.7,1192.6L1198.6,1193.7L1200.5,1194.5L1202.4,1195.4L1204.3,1195.3L1206.2,1194.9L1208.1,1193.2L1210,1194L1211.9,1194.4L1213.8,1192.8L1215.7,1194.1L1217.6,1196.5L1219.5,1195.3L1221.4,1193.4L1223.3,1192.1L1225.2,1192.7L1227.1,1193.6L1229,1195.4L1230.9,1196.5L1232.8,1192.5L1234.7,1190.5L1236.6,1193L1238.5,1192.5L1240.4,1193.4L1242.3,1193.9L1244.2,1190.3L1246.1,1192.8L1248,1195.6L1249.9,1196.4L1251.8,1196.6L1253.7,1193.9L1255.6,1193L1257.5,1194.3L1259.4,1195.4L1261.2,1195.4L1263.1,1195.1L1265,1197L1266.9,1198.8L1268.8,1195.4L1270.7,1194.3L1272.6,1195L1274.5,1196.1L1276.4,1196.6L1278.3,1192.9L1280.2,1193.7L1282.1,1195.5L1284,1195.8L1285.9,1195.8L1287.8,1195.3L1289.7,1194.5L1291.6,1194.5" stroke="#0000ff"/>
<path d="M1008.9,1274.7L1010.7,1274L1012.6,1275L1014.5,1276.1L1016.4,1273.7L1018.3,1273.6L1020.2,1273.6L1022.1,1272.5L1024,1272.4L1025.9,1272L1027.8,1271.9L1029.7,1273.3L1031.6,1276.4L1033.5,1275.3L1035.4,1274.2L1037.3,1273.9L1039.2,1272.8L1041.1,1276L1043,1275.7L1044.9,1274.9L1046.8,1274.8L1048.7,1272.1L1050.6,1276.5L1052.5,1278.4L1054.4,1275.6L1056.3,1274.4L1058.2,1273.2L1060.1,1273.1L1062,1274.3L1063.9,1276.4L1065.8,1276.8L1067.7,1276.7L1069.6,1274.9L1071.5,1274.2L1073.4,1274.7L1075.3,1273.4L1077.2,1272.9L1079.1,1271.4L1081,1266.4L1082.9,1259.7L1084.8,1252.8L1086.7,1245.7L1088.6,1234.9L1090.5,1224.1L1092.4,1212.7L1094.2,1201.7L1096.1,1192L1098,1184.1L1099.9,1183.1L1101.8,1184.5L1103.7,1188.3L1105.6,1193.5L1107.5,1199.5L1109.4,1208.9L1111.3,1217.1L1113.2,1223.6L1115.1,1230.9L1117,1236.7L1118.9,1242.6L1120.8,1248.9L1122.7,1254.6L1124.6,1256.3L1126.5,1255.8L1128.4,1254.5L1130.3,1251.3L1132.2,1249.9L1134.1,1247.6L1136,1246.9L1137.9,1245.2L1139.8,1242.8L1141.7,1240.8L1143.6,1235L1145.5,1233.6L1147.4,1236.8L1149.3,1237L1151.2,1234.1L1153.1,1232.1L1155,1234.4L1156.9,1236L1158.8,1234.7L1160.7,1234.8L1162.6,1235.9L1164.5,1236.4L1166.4,1236.8L1168.3,1239.2L1170.2,1239.1L1172.1,1238.3L1174,1240.1L1175.9,1239.8L1177.7,1242.4L1179.6,1245L1181.5,1245.8L1183.4,1243.6L1185.3,1241L1187.2,1244.5L1189.1,1245.4L1191,1244.1L1192.9,1243.3L1194.8,1243.1L1196.7,1244.8L1198.6,1244.8L1200.5,1243.8L1202.4,1241.9L1204.3,1242.3L1206.2,1243.6L1208.1,1243.5L1210,1244.8L1211.9,1244.5L1213.8,1244.6L1215.7,1245.3L1217.6,1244.3L1219.5,1241.7L1221.4,1241L1223.3,1242.4L1225.2,1244.2L1227.1,1244.4L1229,1242.8L1230.9,1243.3L1232.8,1243.8L1234.7,1243L1236.6,1242.2L1238.5,1242.7L1240.4,1244.3L1242.3,1243L1244.2,1242.4L1246.1,1242.8L1248,1241.1L1249.9,1241.1L1251.8,1243.1L1253.7,1242.9L1255.6,1243.1L1257.5,1245.7L1259.4,1248.4L1261.2,1244.2L1263.1,1240.7L1265,1243.9L1266.9,1244.3L1268.8,1245.5L1270.7,1246.7L1272.6,1247L1274.5,1246.6L1276.4,1246L1278.3,1246.8L1280.2,1246L1282.1,1243.7L1284,1245.5L1285.9,1247.2L1287.8,1246.3L1289.7,1247.3L1291.6,1248.4" stroke="#0000ff"/>
</g>
<path d="M1291.2,1040L1291.2,1318.6" stroke="#15156a" stroke-width="1.7"/>
<text transform="translate(1013.8,812) scale(1.045,1)" font-size="28.5">11</text>
<text transform="translate(1013.8,859.3) scale(1.045,1)" font-size="28.5">10</text>
<text transform="translate(1021.8,902.7) scale(1.045,1)" font-size="28.5">9</text>
<text transform="translate(1021.8,947.5) scale(1.045,1)" font-size="28.5">8</text>
<text transform="translate(1021.8,992.3) scale(1.045,1)" font-size="28.5">7</text>
<text transform="translate(1020.8,1036) scale(1.045,1)" font-size="28.5">6</text>
<text transform="translate(1020.8,1081) scale(1.045,1)" font-size="28.5">5</text>
<text transform="translate(1020.8,1126) scale(1.045,1)" font-size="28.5">4</text>
<text transform="translate(1020.8,1173.7) scale(1.045,1)" font-size="28.5">3</text>
<text transform="translate(1020.8,1220.9) scale(1.045,1)" font-size="28.5">2</text>
<text transform="translate(1019,1266.5) scale(1.045,1)" font-size="28.5">1</text>
<text transform="translate(1023.5,704.4) scale(1.045,1)" font-size="32.5">Cr L<tspan font-size="20.8" dy="7.2">2,3</tspan><tspan dy="-7.2"> edge</tspan></text>
<path d="M1161.3,721.3L1186.4,721.3" stroke="#000" stroke-width="2.8"/><path d="M1194.5,721.3L1181,715.9L1184.8,721.3L1181,726.7Z" fill="#000"/>
<text transform="translate(1114.5,1295) scale(1.045,1)" font-size="32.5">O K edge</text>
<path d="M1109.7,1281.3L1109.7,1255.5" stroke="#000" stroke-width="2.8"/><path d="M1109.7,1248L1104,1260.5L1109.7,1257L1115.4,1260.5Z" fill="#000"/>
<text transform="translate(1012.3,1354.7) scale(1.045,1)" font-size="32" text-anchor="middle">510</text>
<text transform="translate(1101.8,1354.7) scale(1.045,1)" font-size="32" text-anchor="middle">540</text>
<text transform="translate(1193.7,1354.7) scale(1.045,1)" font-size="32" text-anchor="middle">570</text>
<text transform="translate(1277.1,1354.7) scale(1.045,1)" font-size="32" text-anchor="middle">600</text>
<text transform="translate(1163.7,1394.1) scale(1.045,1)" font-size="32.5" text-anchor="middle">Energy (eV)</text>
<rect x="1306.6" y="667.6" width="281.7" height="651.4" fill="#fdfdfd" stroke="#1a1a1a" stroke-width="1.5"/>
<path d="M1353.2,1319L1353.2,1309.5" stroke="#1a1a1a" stroke-width="1.4"/>
<path d="M1431.4,1319L1431.4,1309.5" stroke="#1a1a1a" stroke-width="1.4"/>
<path d="M1509.5,1319L1509.5,1309.5" stroke="#1a1a1a" stroke-width="1.4"/>
<path d="M1587.4,1319L1587.4,1309.5" stroke="#1a1a1a" stroke-width="1.4"/>
<path d="M1314.3,1319L1314.3,1314" stroke="#1a1a1a" stroke-width="1.4"/>
<path d="M1392.5,1319L1392.5,1314" stroke="#1a1a1a" stroke-width="1.4"/>
<path d="M1470.9,1319L1470.9,1314" stroke="#1a1a1a" stroke-width="1.4"/>
<path d="M1548.4,1319L1548.4,1314" stroke="#1a1a1a" stroke-width="1.4"/>
<g fill="none" stroke-width="3.7" stroke-linejoin="round">
<path d="M1306.6,817.5L1308.9,819.8L1311.2,826.3L1313.5,835.4L1315.8,829.1L1318.1,821L1320.5,823.7L1322.8,818.1L1325.1,823.7L1327.4,828.7L1329.7,836.1L1332,829L1334.3,824.4L1336.6,824.3L1338.9,822.2L1341.2,823.2L1343.5,818.5L1345.9,824.6L1348.2,817.1L1350.5,827.6L1352.8,821.8L1355.1,822.8L1357.4,821L1359.7,827.8L1362,825.1L1364.3,835.9L1366.6,830L1368.9,820.5L1371.3,823.7L1373.6,829.4L1375.9,829.9L1378.2,825.1L1380.5,827.6L1382.8,821L1385.1,829.3L1387.4,827.2L1389.7,814.7L1392,830.7L1394.3,818.5L1396.7,832.6L1399,824.3L1401.3,830.6L1403.6,818.2L1405.9,814.2L1408.2,809.2L1410.5,800.2L1412.8,798.3L1415.1,800.7L1417.4,802.8L1419.7,803.3L1422.1,804.1L1424.4,813.4L1426.7,806.2L1429,804L1431.3,815.4L1433.6,801.5L1435.9,799.4L1438.2,798.2L1440.5,785L1442.8,788.5L1445.1,791.9L1447.4,779.5L1449.8,784.4L1452.1,783.7L1454.4,783.1L1456.7,790.2L1459,791.2L1461.3,786L1463.6,788.6L1465.9,781.6L1468.2,788L1470.5,778.3L1472.8,791.5L1475.2,789.3L1477.5,785.8L1479.8,780.5L1482.1,782.6L1484.4,786.1L1486.7,791L1489,791.3L1491.3,783.1L1493.6,781.9L1495.9,784.4L1498.2,790.2L1500.6,787.1L1502.9,786.1L1505.2,783.5L1507.5,767.9L1509.8,781.6L1512.1,790.3L1514.4,782.2L1516.7,782.6L1519,790.3L1521.3,781.7L1523.6,785.1L1526,790.5L1528.3,785.9L1530.6,786.6L1532.9,791.6L1535.2,781.4L1537.5,790L1539.8,786.1L1542.1,776.8L1544.4,780.1L1546.7,787.5L1549,784.9L1551.4,793L1553.7,784.6L1556,782.8L1558.3,782.9L1560.6,779.7L1562.9,792.6L1565.2,784.6L1567.5,791.5L1569.8,794L1572.1,788.7L1574.4,788.7L1576.8,785.4L1579.1,776.7L1581.4,793.4L1583.7,791.8L1586,783.6L1588.3,794.1" stroke="#ff0000"/>
<path d="M1306.6,869.7L1308.9,871.6L1311.2,867.9L1313.5,868.8L1315.8,864.8L1318.1,871.7L1320.5,868.3L1322.8,865.6L1325.1,865.3L1327.4,867.7L1329.7,860.3L1332,870L1334.3,873.2L1336.6,870.7L1338.9,865.3L1341.2,868.8L1343.5,867.2L1345.9,869L1348.2,870.4L1350.5,873.6L1352.8,868.3L1355.1,865.5L1357.4,875.7L1359.7,869.9L1362,866.8L1364.3,865.6L1366.6,866.2L1368.9,866.8L1371.3,871L1373.6,870.9L1375.9,864.6L1378.2,861.7L1380.5,866.3L1382.8,869.2L1385.1,866.1L1387.4,871.5L1389.7,864.4L1392,867.4L1394.3,868.7L1396.7,868.2L1399,855.5L1401.3,866.4L1403.6,867.5L1405.9,866.3L1408.2,861.3L1410.5,852.1L1412.8,861.9L1415.1,856.5L1417.4,861L1419.7,853L1422.1,855L1424.4,858L1426.7,864L1429,862.8L1431.3,859.6L1433.6,862.5L1435.9,863.3L1438.2,872.3L1440.5,862.3L1442.8,855.5L1445.1,867.3L1447.4,861.9L1449.8,858.2L1452.1,859.5L1454.4,860.7L1456.7,861L1459,866.8L1461.3,862.5L1463.6,856.8L1465.9,864.5L1468.2,862.1L1470.5,861.7L1472.8,862.4L1475.2,860.3L1477.5,857.5L1479.8,857L1482.1,867.3L1484.4,856.1L1486.7,861.6L1489,854.6L1491.3,855.3L1493.6,853.2L1495.9,851.7L1498.2,853.2L1500.6,854.3L1502.9,858.8L1505.2,853.7L1507.5,858L1509.8,851.9L1512.1,858.8L1514.4,859.8L1516.7,858.1L1519,851.2L1521.3,859.6L1523.6,865L1526,852.9L1528.3,858.7L1530.6,852.7L1532.9,860.2L1535.2,853.2L1537.5,864.9L1539.8,860.2L1542.1,853L1544.4,856.4L1546.7,852.5L1549,856.2L1551.4,853.3L1553.7,864.3L1556,859L1558.3,856.5L1560.6,847.5L1562.9,861.3L1565.2,857.5L1567.5,862.2L1569.8,864.1L1572.1,855.6L1574.4,860.1L1576.8,852.4L1579.1,853.8L1581.4,852.5L1583.7,857.4L1586,861.3L1588.3,860.2" stroke="#007d00"/>
<path d="M1306.6,918.9L1308.9,918.3L1311.2,915L1313.5,921.7L1315.8,919.7L1318.1,908.5L1320.5,910.5L1322.8,911.4L1325.1,918.2L1327.4,919.5L1329.7,911.7L1332,908.1L1334.3,914.1L1336.6,911.8L1338.9,916L1341.2,916.3L1343.5,919L1345.9,924L1348.2,911.7L1350.5,919.3L1352.8,915.6L1355.1,917.3L1357.4,912.9L1359.7,922.3L1362,917.7L1364.3,918.7L1366.6,927.9L1368.9,921.2L1371.3,918.7L1373.6,922.8L1375.9,922.5L1378.2,923.4L1380.5,917.4L1382.8,925.6L1385.1,916.1L1387.4,914.9L1389.7,919.1L1392,917.6L1394.3,918.1L1396.7,919.8L1399,920.2L1401.3,924.1L1403.6,926.3L1405.9,913.9L1408.2,902.9L1410.5,897.9L1412.8,898.1L1415.1,897.2L1417.4,894.7L1419.7,906.7L1422.1,903.8L1424.4,908.6L1426.7,897.4L1429,900.7L1431.3,893.7L1433.6,910.3L1435.9,904.6L1438.2,897.5L1440.5,890.8L1442.8,887.3L1445.1,892.4L1447.4,879.7L1449.8,890.4L1452.1,885.7L1454.4,886.3L1456.7,893.3L1459,885.5L1461.3,887.5L1463.6,891L1465.9,871.9L1468.2,888.9L1470.5,879.1L1472.8,886.2L1475.2,887.1L1477.5,874.6L1479.8,881.6L1482.1,877L1484.4,882.6L1486.7,885.9L1489,884.6L1491.3,884.4L1493.6,874.4L1495.9,881.6L1498.2,878.1L1500.6,880.8L1502.9,888.3L1505.2,888.6L1507.5,875L1509.8,878.6L1512.1,885.8L1514.4,881.4L1516.7,876.2L1519,884.8L1521.3,881.4L1523.6,880.1L1526,875.9L1528.3,886.3L1530.6,881.6L1532.9,884.5L1535.2,882.3L1537.5,878.2L1539.8,884.6L1542.1,885.3L1544.4,884L1546.7,873.3L1549,882.9L1551.4,886.5L1553.7,881.1L1556,887L1558.3,876.4L1560.6,876.3L1562.9,881.7L1565.2,882L1567.5,877.1L1569.8,873.2L1572.1,878.1L1574.4,877.7L1576.8,887.3L1579.1,891.7L1581.4,888.4L1583.7,891.4L1586,880.5L1588.3,876.5" stroke="#ff0000"/>
<path d="M1306.6,962.5L1308.9,964L1311.2,959.9L1313.5,958.2L1315.8,953L1318.1,960.9L1320.5,959.8L1322.8,969L1325.1,959.3L1327.4,950.5L1329.7,957.3L1332,950.7L1334.3,956.2L1336.6,967.7L1338.9,955.4L1341.2,953.3L1343.5,966.3L1345.9,966.5L1348.2,960.3L1350.5,958L1352.8,956.1L1355.1,954.8L1357.4,961.3L1359.7,959.8L1362,956.2L1364.3,957.9L1366.6,954L1368.9,953.4L1371.3,957.9L1373.6,958.6L1375.9,961.3L1378.2,955.3L1380.5,951.7L1382.8,956.2L1385.1,958.3L1387.4,955L1389.7,967.3L1392,951.7L1394.3,961.9L1396.7,963.4L1399,955.2L1401.3,958.6L1403.6,961.6L1405.9,957.9L1408.2,955.5L1410.5,958L1412.8,964.1L1415.1,953.6L1417.4,951.7L1419.7,959.6L1422.1,954.1L1424.4,951L1426.7,956.2L1429,954L1431.3,951.2L1433.6,951.4L1435.9,953.9L1438.2,951L1440.5,950.3L1442.8,953.3L1445.1,947.6L1447.4,952.4L1449.8,950.2L1452.1,948.3L1454.4,952.2L1456.7,952.5L1459,948.3L1461.3,956.8L1463.6,947.6L1465.9,947.2L1468.2,948.1L1470.5,952.2L1472.8,951.5L1475.2,956.4L1477.5,954.7L1479.8,957.1L1482.1,946.1L1484.4,952.9L1486.7,951.4L1489,949.9L1491.3,951.5L1493.6,954.3L1495.9,952.6L1498.2,950.9L1500.6,953.6L1502.9,958.5L1505.2,947L1507.5,946.4L1509.8,949.6L1512.1,954.3L1514.4,949L1516.7,942.2L1519,943.5L1521.3,949.4L1523.6,952.3L1526,943.4L1528.3,947.6L1530.6,950.1L1532.9,954.6L1535.2,946.8L1537.5,944.8L1539.8,947.5L1542.1,947.8L1544.4,945.8L1546.7,948.7L1549,948.1L1551.4,950L1553.7,948.9L1556,952.2L1558.3,947.5L1560.6,950.5L1562.9,944.3L1565.2,944.6L1567.5,941.9L1569.8,955.7L1572.1,943.5L1574.4,949.5L1576.8,943.8L1579.1,949.1L1581.4,955L1583.7,945.2L1586,942.4L1588.3,938.7" stroke="#007d00"/>
<path d="M1306.6,1001.7L1308.9,996.4L1311.2,1010.1L1313.5,1003.7L1315.8,990.5L1318.1,1002.2L1320.5,1005.6L1322.8,1007.7L1325.1,1000L1327.4,1010.5L1329.7,994.9L1332,1007.9L1334.3,1004.2L1336.6,1007.9L1338.9,1009L1341.2,1006L1343.5,1009.6L1345.9,993.8L1348.2,990.9L1350.5,1003.1L1352.8,1006.2L1355.1,1001.6L1357.4,1014.4L1359.7,1002.6L1362,1004.9L1364.3,1006.8L1366.6,1011.6L1368.9,1010.4L1371.3,1009.5L1373.6,1004.4L1375.9,1016.4L1378.2,1007.6L1380.5,1010.6L1382.8,1011.3L1385.1,1013L1387.4,999L1389.7,1000.7L1392,1001.6L1394.3,1005.7L1396.7,1001.3L1399,1016.8L1401.3,1009.2L1403.6,1002.9L1405.9,994.3L1408.2,977L1410.5,975.5L1412.8,978.1L1415.1,977.1L1417.4,990L1419.7,992.5L1422.1,988.6L1424.4,987.2L1426.7,996.2L1429,990.2L1431.3,992.3L1433.6,986.5L1435.9,985.4L1438.2,985.2L1440.5,979.3L1442.8,979.1L1445.1,980.5L1447.4,970.8L1449.8,963.7L1452.1,966.3L1454.4,980L1456.7,972.8L1459,975.1L1461.3,959L1463.6,969.4L1465.9,978.8L1468.2,964.8L1470.5,968.2L1472.8,966.7L1475.2,958.9L1477.5,971.2L1479.8,965L1482.1,964.4L1484.4,966.5L1486.7,965L1489,960L1491.3,970.8L1493.6,968L1495.9,968.8L1498.2,967.5L1500.6,961.1L1502.9,961.4L1505.2,955.9L1507.5,968L1509.8,965.9L1512.1,952.7L1514.4,958.4L1516.7,964.9L1519,964.9L1521.3,956.2L1523.6,964.6L1526,979.6L1528.3,966.5L1530.6,973.9L1532.9,960.6L1535.2,967.4L1537.5,958.4L1539.8,966.8L1542.1,973L1544.4,964.4L1546.7,971.7L1549,962.5L1551.4,965.4L1553.7,958L1556,965.4L1558.3,964.4L1560.6,969.5L1562.9,969.9L1565.2,967L1567.5,967.6L1569.8,971L1572.1,976.6L1574.4,977.3L1576.8,967.5L1579.1,969.6L1581.4,978.5L1583.7,967.7L1586,964.6L1588.3,970.3" stroke="#ff0000"/>
<path d="M1306.6,1051L1308.9,1042.7L1311.2,1052.5L1313.5,1052.7L1315.8,1051.6L1318.1,1051.7L1320.5,1050.8L1322.8,1053L1325.1,1053.7L1327.4,1061.9L1329.7,1048.5L1332,1049.9L1334.3,1060.2L1336.6,1053.3L1338.9,1051.2L1341.2,1060.9L1343.5,1050.4L1345.9,1060.9L1348.2,1049.4L1350.5,1051.8L1352.8,1055.3L1355.1,1052.6L1357.4,1051.2L1359.7,1048.2L1362,1049.8L1364.3,1049.8L1366.6,1047.5L1368.9,1051.9L1371.3,1057.3L1373.6,1051.9L1375.9,1054.5L1378.2,1053.9L1380.5,1056.3L1382.8,1052.8L1385.1,1046.1L1387.4,1048.8L1389.7,1048.9L1392,1048.3L1394.3,1055.7L1396.7,1044.5L1399,1048.3L1401.3,1053.8L1403.6,1043.6L1405.9,1047L1408.2,1049.2L1410.5,1036.6L1412.8,1040.6L1415.1,1034.5L1417.4,1036.4L1419.7,1029.9L1422.1,1036L1424.4,1040L1426.7,1038.5L1429,1033.9L1431.3,1039.4L1433.6,1030.3L1435.9,1035.5L1438.2,1024.9L1440.5,1042.5L1442.8,1035.2L1445.1,1034.1L1447.4,1029.5L1449.8,1028.3L1452.1,1032.2L1454.4,1034.6L1456.7,1026.9L1459,1030.9L1461.3,1033.8L1463.6,1034.8L1465.9,1032.7L1468.2,1030.7L1470.5,1037.8L1472.8,1034.1L1475.2,1034.2L1477.5,1029.9L1479.8,1030.5L1482.1,1022.8L1484.4,1037L1486.7,1024.6L1489,1026.4L1491.3,1032.3L1493.6,1037.9L1495.9,1022.4L1498.2,1033.5L1500.6,1032L1502.9,1032.1L1505.2,1031.4L1507.5,1038.8L1509.8,1036.4L1512.1,1030.8L1514.4,1036.4L1516.7,1036.5L1519,1030.1L1521.3,1033.7L1523.6,1038.7L1526,1035.7L1528.3,1033.4L1530.6,1028L1532.9,1032.5L1535.2,1032.4L1537.5,1034.4L1539.8,1028.2L1542.1,1027L1544.4,1034.7L1546.7,1027.1L1549,1028.5L1551.4,1034.6L1553.7,1031.2L1556,1031.3L1558.3,1031.2L1560.6,1028.2L1562.9,1023.1L1565.2,1028.3L1567.5,1028.5L1569.8,1029.8L1572.1,1027.9L1574.4,1025.9L1576.8,1026.6L1579.1,1024.3L1581.4,1034.1L1583.7,1035.2L1586,1026.2L1588.3,1033.6" stroke="#007d00"/>
<path d="M1306.6,1094.7L1308.9,1093.3L1311.2,1084.1L1313.5,1096.5L1315.8,1103.3L1318.1,1092.3L1320.5,1093.8L1322.8,1095.4L1325.1,1092.5L1327.4,1097.9L1329.7,1099.7L1332,1100.5L1334.3,1094.5L1336.6,1092.8L1338.9,1094.4L1341.2,1091.4L1343.5,1091.1L1345.9,1094.6L1348.2,1101.9L1350.5,1094.9L1352.8,1095.4L1355.1,1092.3L1357.4,1097.2L1359.7,1100.1L1362,1094.7L1364.3,1102.6L1366.6,1092.2L1368.9,1088.3L1371.3,1100.9L1373.6,1093.5L1375.9,1092.7L1378.2,1084.8L1380.5,1098.1L1382.8,1095.5L1385.1,1097.9L1387.4,1100.7L1389.7,1090.9L1392,1095.2L1394.3,1095.6L1396.7,1094.9L1399,1094.1L1401.3,1097.7L1403.6,1090L1405.9,1096.2L1408.2,1087.8L1410.5,1101.3L1412.8,1094L1415.1,1100.1L1417.4,1095.6L1419.7,1084.8L1422.1,1102.4L1424.4,1104.4L1426.7,1095.6L1429,1091L1431.3,1093.8L1433.6,1088.6L1435.9,1099.9L1438.2,1089.5L1440.5,1096.6L1442.8,1094L1445.1,1096.1L1447.4,1095.9L1449.8,1095.2L1452.1,1090L1454.4,1093L1456.7,1103.2L1459,1095.1L1461.3,1090.8L1463.6,1095.6L1465.9,1093.2L1468.2,1101.1L1470.5,1098.4L1472.8,1089.5L1475.2,1093.4L1477.5,1091.9L1479.8,1095.4L1482.1,1098.8L1484.4,1102.5L1486.7,1089.9L1489,1090.4L1491.3,1100.4L1493.6,1099.2L1495.9,1093.8L1498.2,1096.9L1500.6,1092.4L1502.9,1097.1L1505.2,1085.1L1507.5,1092.7L1509.8,1094.3L1512.1,1097.2L1514.4,1086.5L1516.7,1100.5L1519,1086L1521.3,1096L1523.6,1095L1526,1098L1528.3,1089.4L1530.6,1089.1L1532.9,1097.3L1535.2,1091.3L1537.5,1089.2L1539.8,1094.2L1542.1,1091.8L1544.4,1094.3L1546.7,1092.1L1549,1096.4L1551.4,1091.3L1553.7,1092.4L1556,1095.7L1558.3,1085.5L1560.6,1090.5L1562.9,1096.2L1565.2,1094.1L1567.5,1095L1569.8,1092.1L1572.1,1092.9L1574.4,1094.1L1576.8,1092.6L1579.1,1099.2L1581.4,1094.7L1583.7,1095.3L1586,1095.4L1588.3,1101" stroke="#0000ff"/>
<path d="M1306.6,1141.4L1308.9,1135.4L1311.2,1136.1L1313.5,1139.2L1315.8,1132.4L1318.1,1129.6L1320.5,1140.2L1322.8,1137.5L1325.1,1136L1327.4,1137.3L1329.7,1143.6L1332,1136.1L1334.3,1134.9L1336.6,1137.2L1338.9,1139.8L1341.2,1132.4L1343.5,1129.1L1345.9,1142.2L1348.2,1139.2L1350.5,1139.3L1352.8,1139.3L1355.1,1136.8L1357.4,1132.8L1359.7,1137.5L1362,1131.3L1364.3,1129.2L1366.6,1134.8L1368.9,1131.7L1371.3,1134L1373.6,1131.5L1375.9,1132.1L1378.2,1133.3L1380.5,1140L1382.8,1142.5L1385.1,1137L1387.4,1138.6L1389.7,1137.8L1392,1135.1L1394.3,1131.3L1396.7,1137.7L1399,1139.6L1401.3,1138.7L1403.6,1131.7L1405.9,1129.4L1408.2,1141.1L1410.5,1132.2L1412.8,1137.1L1415.1,1125.3L1417.4,1129.1L1419.7,1140.9L1422.1,1135.3L1424.4,1147L1426.7,1128.1L1429,1135L1431.3,1129.5L1433.6,1135.1L1435.9,1134.9L1438.2,1139.1L1440.5,1136.6L1442.8,1139.4L1445.1,1133.2L1447.4,1137.2L1449.8,1132.4L1452.1,1131.7L1454.4,1134.8L1456.7,1142.2L1459,1132.8L1461.3,1140.3L1463.6,1136.1L1465.9,1139.2L1468.2,1136.9L1470.5,1136.2L1472.8,1141.6L1475.2,1141.9L1477.5,1141L1479.8,1134.5L1482.1,1144.1L1484.4,1134.2L1486.7,1131.6L1489,1135.5L1491.3,1143.4L1493.6,1138.4L1495.9,1140L1498.2,1129.2L1500.6,1138.6L1502.9,1138.7L1505.2,1135.1L1507.5,1133.4L1509.8,1135.6L1512.1,1130.9L1514.4,1131.8L1516.7,1136.1L1519,1140.2L1521.3,1136.2L1523.6,1135.8L1526,1136.6L1528.3,1134.7L1530.6,1137.9L1532.9,1136.3L1535.2,1137.4L1537.5,1128.3L1539.8,1131.3L1542.1,1137.5L1544.4,1145.3L1546.7,1135.3L1549,1136.1L1551.4,1129.3L1553.7,1133.1L1556,1131.7L1558.3,1132.6L1560.6,1144.4L1562.9,1132.8L1565.2,1134.8L1567.5,1135.9L1569.8,1127L1572.1,1136.3L1574.4,1134.2L1576.8,1136.9L1579.1,1138L1581.4,1142.8L1583.7,1142.3L1586,1131.7L1588.3,1143.4" stroke="#0000ff"/>
<path d="M1306.6,1180.7L1308.9,1187.2L1311.2,1188.5L1313.5,1184.5L1315.8,1179.8L1318.1,1190.9L1320.5,1181.9L1322.8,1179.7L1325.1,1186.1L1327.4,1177.8L1329.7,1180.4L1332,1185.2L1334.3,1184.1L1336.6,1180.4L1338.9,1179.7L1341.2,1186.1L1343.5,1184.6L1345.9,1189.7L1348.2,1184.2L1350.5,1182.9L1352.8,1183.8L1355.1,1182L1357.4,1184.9L1359.7,1174.5L1362,1187.6L1364.3,1179.3L1366.6,1178.3L1368.9,1183.8L1371.3,1183.2L1373.6,1181L1375.9,1179.4L1378.2,1181.7L1380.5,1187.6L1382.8,1180L1385.1,1187.2L1387.4,1185.7L1389.7,1186.5L1392,1181.7L1394.3,1182L1396.7,1184.6L1399,1180.3L1401.3,1186L1403.6,1181.6L1405.9,1186.1L1408.2,1178.9L1410.5,1187.2L1412.8,1185.4L1415.1,1181.9L1417.4,1182.6L1419.7,1184.1L1422.1,1184.6L1424.4,1186.5L1426.7,1183.8L1429,1188.7L1431.3,1181.8L1433.6,1191.3L1435.9,1182.1L1438.2,1178.7L1440.5,1187.2L1442.8,1187.2L1445.1,1186.9L1447.4,1187.8L1449.8,1181L1452.1,1182.1L1454.4,1185.3L1456.7,1184.8L1459,1183.6L1461.3,1187.9L1463.6,1183.7L1465.9,1182.2L1468.2,1182.4L1470.5,1183.1L1472.8,1187.4L1475.2,1180.9L1477.5,1190.7L1479.8,1183.6L1482.1,1183.6L1484.4,1194.2L1486.7,1180.9L1489,1183.3L1491.3,1184.1L1493.6,1184.1L1495.9,1178.4L1498.2,1184.5L1500.6,1179.9L1502.9,1178L1505.2,1176.4L1507.5,1188.5L1509.8,1185.2L1512.1,1183.7L1514.4,1183.9L1516.7,1184L1519,1184.4L1521.3,1187.8L1523.6,1184.3L1526,1184.1L1528.3,1182.9L1530.6,1187.9L1532.9,1180.2L1535.2,1187.5L1537.5,1187.5L1539.8,1186.3L1542.1,1179.7L1544.4,1186.1L1546.7,1183.7L1549,1183.7L1551.4,1178.9L1553.7,1182.6L1556,1183.8L1558.3,1184.7L1560.6,1183.4L1562.9,1184.3L1565.2,1183.4L1567.5,1182.8L1569.8,1184.9L1572.1,1186.3L1574.4,1182.4L1576.8,1178.5L1579.1,1181.5L1581.4,1185.7L1583.7,1187.5L1586,1178.6L1588.3,1186.7" stroke="#0000ff"/>
<path d="M1306.6,1231.9L1308.9,1229.5L1311.2,1232.5L1313.5,1224.7L1315.8,1237L1318.1,1221.1L1320.5,1223.7L1322.8,1228.3L1325.1,1226L1327.4,1225.3L1329.7,1225.8L1332,1227.5L1334.3,1230.2L1336.6,1229.8L1338.9,1228.3L1341.2,1220.7L1343.5,1225L1345.9,1226.3L1348.2,1217.7L1350.5,1227.4L1352.8,1229.6L1355.1,1220.7L1357.4,1231L1359.7,1223L1362,1225.4L1364.3,1223.8L1366.6,1230.7L1368.9,1224.8L1371.3,1226.9L1373.6,1229.5L1375.9,1230.5L1378.2,1226.5L1380.5,1225.4L1382.8,1218L1385.1,1226.4L1387.4,1228.4L1389.7,1224.3L1392,1225.8L1394.3,1226.1L1396.7,1229.5L1399,1228.7L1401.3,1233.3L1403.6,1227.6L1405.9,1227.8L1408.2,1225L1410.5,1231L1412.8,1220.5L1415.1,1234.8L1417.4,1227.7L1419.7,1227.1L1422.1,1224.2L1424.4,1232.3L1426.7,1225.5L1429,1225L1431.3,1220.3L1433.6,1224.6L1435.9,1225.1L1438.2,1220.8L1440.5,1230L1442.8,1228.5L1445.1,1226.4L1447.4,1228.1L1449.8,1237.8L1452.1,1230.3L1454.4,1225.3L1456.7,1228.2L1459,1232L1461.3,1229.4L1463.6,1228.5L1465.9,1225.4L1468.2,1225.5L1470.5,1229.2L1472.8,1230.7L1475.2,1228.3L1477.5,1227.8L1479.8,1232L1482.1,1234.9L1484.4,1228.5L1486.7,1221.6L1489,1231.7L1491.3,1218.9L1493.6,1229.8L1495.9,1231.8L1498.2,1225.2L1500.6,1229.4L1502.9,1230.2L1505.2,1232.9L1507.5,1232.6L1509.8,1230.9L1512.1,1223L1514.4,1227.1L1516.7,1229.3L1519,1217.9L1521.3,1228.6L1523.6,1231.1L1526,1222.6L1528.3,1228.8L1530.6,1226.1L1532.9,1227.4L1535.2,1228.3L1537.5,1226.9L1539.8,1227.5L1542.1,1227.1L1544.4,1226.8L1546.7,1233.3L1549,1229.4L1551.4,1224.6L1553.7,1233.4L1556,1225.4L1558.3,1233L1560.6,1226.3L1562.9,1226.2L1565.2,1221.9L1567.5,1227.6L1569.8,1225L1572.1,1228.8L1574.4,1224.1L1576.8,1227.8L1579.1,1224.5L1581.4,1228.9L1583.7,1223.5L1586,1233.1L1588.3,1227.2" stroke="#0000ff"/>
<path d="M1306.6,1275.5L1308.9,1265.7L1311.2,1273.2L1313.5,1279.1L1315.8,1270.5L1318.1,1278.2L1320.5,1274.9L1322.8,1275.4L1325.1,1277.1L1327.4,1268.8L1329.7,1267.8L1332,1274.3L1334.3,1263.6L1336.6,1274.8L1338.9,1275.1L1341.2,1274L1343.5,1275.8L1345.9,1274.5L1348.2,1274.4L1350.5,1269.9L1352.8,1271L1355.1,1269.8L1357.4,1272.3L1359.7,1271L1362,1271.7L1364.3,1269.8L1366.6,1277.3L1368.9,1262.3L1371.3,1272.9L1373.6,1274.1L1375.9,1272.2L1378.2,1276.9L1380.5,1264.6L1382.8,1273.3L1385.1,1271.2L1387.4,1266.5L1389.7,1272.5L1392,1274.3L1394.3,1273L1396.7,1273.3L1399,1271.9L1401.3,1267.5L1403.6,1277.8L1405.9,1272.2L1408.2,1272.1L1410.5,1274.3L1412.8,1281.5L1415.1,1274.4L1417.4,1273.2L1419.7,1265.3L1422.1,1267.4L1424.4,1273.5L1426.7,1267.4L1429,1273.6L1431.3,1269.2L1433.6,1271.5L1435.9,1264.1L1438.2,1271.1L1440.5,1273L1442.8,1271.4L1445.1,1275L1447.4,1272.3L1449.8,1270.5L1452.1,1269.4L1454.4,1273.3L1456.7,1273L1459,1275.2L1461.3,1273.1L1463.6,1266.3L1465.9,1273.8L1468.2,1271.3L1470.5,1266L1472.8,1268.3L1475.2,1268.6L1477.5,1273.8L1479.8,1264.2L1482.1,1271.1L1484.4,1273.7L1486.7,1271.3L1489,1267.5L1491.3,1275.1L1493.6,1272.4L1495.9,1271.8L1498.2,1264.9L1500.6,1271.9L1502.9,1278.7L1505.2,1269.7L1507.5,1267.9L1509.8,1275.1L1512.1,1272L1514.4,1272.5L1516.7,1272.7L1519,1273.1L1521.3,1272L1523.6,1273.5L1526,1269.1L1528.3,1272.8L1530.6,1266.2L1532.9,1269.7L1535.2,1273.2L1537.5,1271.7L1539.8,1269.9L1542.1,1270L1544.4,1274.7L1546.7,1277.2L1549,1273.3L1551.4,1271.7L1553.7,1271.9L1556,1272.2L1558.3,1265.2L1560.6,1272.6L1562.9,1275.8L1565.2,1275.5L1567.5,1269.4L1569.8,1273.6L1572.1,1273L1574.4,1269L1576.8,1273L1579.1,1276.2L1581.4,1269.2L1583.7,1272.8L1586,1273.7L1588.3,1277.2" stroke="#0000ff"/>
</g>
<path d="M1588.3,780L1588.3,1000" stroke="#ff0000" stroke-width="1.6"/>
<path d="M1588.3,1000L1588.3,1075" stroke="#007d00" stroke-width="1.6"/>
<path d="M1588.3,1075L1588.3,1319" stroke="#0000c0" stroke-width="1.6"/>
<path d="M1306.6,820L1306.6,1010" stroke="#ff0000" stroke-width="1.6"/>
<path d="M1306.6,1090L1306.6,1319" stroke="#0000c0" stroke-width="1.6"/>
<text transform="translate(1308.7,810.7) scale(1.045,1)" font-size="28.5">11</text>
<text transform="translate(1308.7,856.7) scale(1.045,1)" font-size="28.5">10</text>
<text transform="translate(1315.6,901.5) scale(1.045,1)" font-size="28.5">9</text>
<text transform="translate(1315.6,946.2) scale(1.045,1)" font-size="28.5">8</text>
<text transform="translate(1315.6,992.3) scale(1.045,1)" font-size="28.5">7</text>
<text transform="translate(1316.2,1035.4) scale(1.045,1)" font-size="28.5">6</text>
<text transform="translate(1316.2,1081) scale(1.045,1)" font-size="28.5">5</text>
<text transform="translate(1316.2,1128.2) scale(1.045,1)" font-size="28.5">4</text>
<text transform="translate(1316.2,1172.2) scale(1.045,1)" font-size="28.5">3</text>
<text transform="translate(1316.2,1217.7) scale(1.045,1)" font-size="28.5">2</text>
<text transform="translate(1314.4,1265) scale(1.045,1)" font-size="28.5">1</text>
<text transform="translate(1385.8,724.2) scale(1.045,1)" font-size="32.5">Cu L<tspan font-size="20.8" dy="7.2">2,3</tspan><tspan dy="-7.2"> edge</tspan></text>
<path d="M1413.5,741L1413.5,767" stroke="#000" stroke-width="2.8"/><path d="M1413.5,774.5L1407.8,762L1413.5,765.5L1419.2,762Z" fill="#000"/>
<path d="M1447,736.8L1447,762.8" stroke="#000" stroke-width="2.8"/><path d="M1447,770.3L1441.3,757.8L1447,761.3L1452.7,757.8Z" fill="#000"/>
<text transform="translate(1353.7,1354.7) scale(1.045,1)" font-size="32" text-anchor="middle">900</text>
<text transform="translate(1429.5,1354.7) scale(1.045,1)" font-size="32" text-anchor="middle">950</text>
<text transform="translate(1504,1354.7) scale(1.045,1)" font-size="32" text-anchor="middle">1000</text>
<text transform="translate(1588.7,1354.7) scale(1.045,1)" font-size="32" text-anchor="middle">1050</text>
<text transform="translate(1439.7,1394.1) scale(1.045,1)" font-size="32.5" text-anchor="middle">Energy (eV)</text></g>
<g id="panel_g"><rect x="1643.8" y="717.5" width="354.4" height="552.5" fill="#fdfdfd"/>
<clipPath id="gclip"><rect x="1643.8" y="717.5" width="354.4" height="552.5"/></clipPath>
<g clip-path="url(#gclip)" fill="none" stroke-linejoin="round">
<path d="M1688.5,911L1690.1,911.2L1691.7,911L1693.3,909.1L1694.9,908.6L1696.5,900.6L1698.1,879.1L1699.7,846.6L1701.3,821.4L1702.9,814.2L1704.5,821.8L1706.1,831L1707.7,842.1L1709.2,852.3L1710.8,859L1712.4,869.9L1714,878.5L1715.6,882.7L1717.2,885.1L1718.8,890.9L1720.4,889.4L1722,888.9L1723.6,891.6L1725.2,892.2L1726.8,893.7L1728.4,888.2L1730,886.6L1731.6,879.5L1733.2,872.6L1734.8,859L1736.4,846.2L1738,833.9L1739.6,821.6L1741.1,801.8L1742.7,798.7L1744.3,786.1L1745.9,775.5L1747.5,776.4L1749.1,782.6L1750.7,780.8L1752.3,789.3L1753.9,788L1755.5,785L1757.1,792L1758.7,787.1L1760.3,782.7L1761.9,784.1L1763.5,781.8L1765.1,773.2L1766.7,767.7L1768.3,763.3L1769.9,753.8L1771.5,747L1773,739.8L1774.6,736.9L1776.2,740.8L1777.8,744.2L1779.4,746.3L1781,751.5L1782.6,765.7L1784.2,779.9L1785.8,788.4L1787.4,801.8L1789,806.3L1790.6,813.9L1792.2,822.2L1793.8,832L1795.4,836.1L1797,842.9L1798.6,847.4L1800.2,851.3L1801.8,854.2L1803.3,858.6L1804.9,862.2L1806.5,865L1808.1,866.2L1809.7,867.5L1811.3,866.3L1812.9,869.1L1814.5,871.2L1816.1,873.1L1817.7,873.9L1819.3,869.5L1820.9,867.5L1822.5,865.5L1824.1,867.4L1825.7,864.7L1827.3,866.4L1828.9,868.9L1830.5,870L1832.1,874.2L1833.7,874.3L1835.2,874.5L1836.8,877.5L1838.4,876.9L1840,880L1841.6,880.5L1843.2,879.2L1844.8,880.3L1846.4,881.4" stroke="#858585" stroke-width="2.8"/>
<path d="M1645.3,1011.9L1647.5,1009.7L1649.7,1009L1651.9,1009.2L1654.1,1009.4L1656.3,1011.1L1658.5,1013.9L1660.7,1016.1L1662.9,1017.3L1665.1,1015L1667.3,1007.3L1669.5,1004.6L1671.7,1003.5L1673.8,1001.6L1676,1001.4L1678.2,1003.8L1680.4,1005.2L1682.6,1004.8L1684.8,1005.2L1687,1013.2L1689.2,1015L1691.4,1011.9L1693.6,1010.4L1695.8,1009.8L1698,1010.9L1700.2,1013.4L1702.4,1015L1704.6,1013.5L1706.8,1006.9L1708.9,1004L1711.1,1005.1L1713.3,1007.7L1715.5,1005.8L1717.7,1003.3L1719.9,1003.5L1722.1,1001.7L1724.3,996.3L1726.5,985.7L1728.7,978.4L1730.9,972.5L1733.1,967.2L1735.3,963.6L1737.5,961.7L1739.7,954.8L1741.8,935.3L1744,918.4L1746.2,900.7L1748.4,881.6L1750.6,860.8L1752.8,840.3L1755,834.3L1757.2,830.9L1759.4,829.6L1761.6,827.2L1763.8,821.7L1766,813.6L1768.2,811.2L1770.4,811.3L1772.6,813.6L1774.8,815.6L1776.9,814.4L1779.1,818.6L1781.3,828.6L1783.5,839L1785.7,843.3L1787.9,844.5L1790.1,844.1L1792.3,849.6L1794.5,865.6L1796.7,875.9L1798.9,886L1801.1,895.5L1803.3,904.2L1805.5,914.3L1807.7,920.3L1809.9,927.8L1812,930.1L1814.2,930.9L1816.4,932.2L1818.6,934.7L1820.8,943.6L1823,953.7L1825.2,962.8L1827.4,966.2L1829.6,965.1L1831.8,962.8L1834,964.9L1836.2,971L1838.4,970.5L1840.6,971.1L1842.8,970.8L1844.9,971.2L1847.1,969.1L1849.3,967.1L1851.5,964.5L1853.7,960.2L1855.9,957.7L1858.1,957L1860.3,956.5L1862.5,953.6L1864.7,946.7L1866.9,942.2L1869.1,941.6L1871.3,941.3L1873.5,941.5L1875.7,941.6L1877.9,940.2L1880,937.3L1882.2,938L1884.4,939.1L1886.6,939.2L1888.8,940.2L1891,939.7L1893.2,940L1895.4,937.2L1897.6,933.2L1899.8,929.7L1902,927.4L1904.2,925.5L1906.4,920.4L1908.6,919.6L1910.8,918.7L1912.9,922.6L1915.1,928.8L1917.3,930.1L1919.5,931.1L1921.7,931.9L1923.9,933.1L1926.1,931.2L1928.3,930.6L1930.5,933.2L1932.7,937.5L1934.9,939.2L1937.1,942.3L1939.3,943.6L1941.5,946L1943.7,944.7L1945.9,941.3L1948,937L1950.2,933.1L1952.4,936.6L1954.6,939.9L1956.8,936.1L1959,933.2L1961.2,930.2L1963.4,930.3L1965.6,932.5L1967.8,937.7L1970,944.2L1972.2,948.5L1974.4,950.2L1976.6,949.4L1978.8,947.2L1981,945.6L1983.1,942.8L1985.3,940.6L1987.5,948L1989.7,955L1991.9,953.1L1994.1,951.5L1996.3,947.1L1998.5,942.3" stroke="#0000ff" stroke-width="3.9"/>
<path d="M1644.5,1108L1646.7,1105.8L1648.9,1104.5L1651.1,1101.7L1653.3,1099.3L1655.5,1096.8L1657.7,1101.6L1659.9,1108.1L1662.1,1113.1L1664.3,1111.6L1666.4,1108.5L1668.6,1111.3L1670.8,1113L1673,1113.1L1675.2,1112.2L1677.4,1107.1L1679.6,1102L1681.8,1094.9L1684,1089.4L1686.2,1083.2L1688.4,1073.6L1690.6,1054L1692.8,1034.3L1695,1021.4L1697.2,1017.1L1699.4,1012L1701.6,999.4L1703.8,989.2L1706,980L1708.2,959.9L1710.4,945.9L1712.6,943.3L1714.8,941.8L1717,947.5L1719.2,960.4L1721.4,975.8L1723.6,978.4L1725.8,983.6L1728,987.2L1730.2,996.2L1732.4,1002L1734.6,1007.5L1736.8,1012.4L1738.9,1019L1741.1,1022L1743.3,1024.6L1745.5,1024L1747.7,1022.9L1749.9,1016.9L1752.1,1016.4L1754.3,1014.2L1756.5,1014.4L1758.7,1014.4L1760.9,1010.8L1763.1,1001.7L1765.3,993.5L1767.5,985.1L1769.7,978.5L1771.9,975.6L1774.1,975.1L1776.3,973.8L1778.5,969.1L1780.7,955.3L1782.9,949.9L1785.1,950.8L1787.3,953.8L1789.5,955.1L1791.7,950L1793.9,951.6L1796.1,964L1798.3,971.5L1800.5,973.7L1802.7,979.3L1804.9,983.2L1807.1,989.1L1809.3,991.1L1811.5,992.6L1813.6,994.2L1815.8,998.5L1818,1000.4L1820.2,1002.5L1822.4,1008.1L1824.6,1012.6L1826.8,1013.8L1829,1017.6L1831.2,1018.5L1833.4,1025.3L1835.6,1026L1837.8,1021.4L1840,1016.9L1842.2,1015L1844.4,1017.6L1846.6,1019L1848.8,1022.3L1851,1022.7L1853.2,1023.9L1855.4,1024.4L1857.6,1025L1859.8,1028.8L1862,1030.9L1864.2,1034.3L1866.4,1034.7L1868.6,1037.8L1870.8,1038.1L1873,1034.1L1875.2,1031.7L1877.4,1028.1L1879.6,1030.8L1881.8,1030.7L1884,1031.6L1886.2,1030.4L1888.3,1030.5L1890.5,1030.8L1892.7,1032.5L1894.9,1030.1L1897.1,1024.6L1899.3,1021.2L1901.5,1020.4L1903.7,1021.4L1905.9,1022L1908.1,1024.1L1910.3,1026.8L1912.5,1024.6L1914.7,1022.5L1916.9,1018.3L1919.1,1014.8L1921.3,1013.2L1923.5,1008.6L1925.7,1008.5L1927.9,1008.9L1930.1,1009.9L1932.3,1011.5L1934.5,1013L1936.7,1013.2L1938.9,1017.3L1941.1,1022.5L1943.3,1025.4L1945.5,1024L1947.7,1019.7L1949.9,1015.4L1952.1,1010.9L1954.3,1009.6L1956.5,1006.8L1958.7,1006L1960.9,1004.1L1963,1001.7L1965.2,1002.7L1967.4,1006.1L1969.6,1005.4L1971.8,1003.2L1974,1001.5L1976.2,997.8L1978.4,1000.4L1980.6,1005.1L1982.8,1006.2L1985,1008.7L1987.2,1014.4L1989.4,1014.9L1991.6,1015.7L1993.8,1013L1996,1011L1998.2,1006.8" stroke="#007d00" stroke-width="3.9"/>
<path d="M1645.1,1206.6L1647.2,1210.1L1649.4,1209.4L1651.6,1204.5L1653.8,1202.5L1656,1200L1658.2,1201.2L1660.4,1199.5L1662.6,1199.6L1664.8,1200.8L1667,1201.5L1669.2,1204.5L1671.4,1205.3L1673.6,1201.4L1675.8,1190L1678,1179.6L1680.2,1177.4L1682.3,1175.8L1684.5,1175.8L1686.7,1172L1688.9,1171.5L1691.1,1172.6L1693.3,1164.5L1695.5,1148.9L1697.7,1134.2L1699.9,1130.2L1702.1,1127.5L1704.3,1126.5L1706.5,1122.9L1708.7,1113.9L1710.9,1108.1L1713.1,1114.8L1715.2,1117.5L1717.4,1120L1719.6,1122.6L1721.8,1124.2L1724,1121L1726.2,1116.3L1728.4,1119L1730.6,1118.1L1732.8,1115L1735,1105.4L1737.2,1098.2L1739.4,1087.1L1741.6,1082.1L1743.8,1077.9L1746,1077.3L1748.1,1080.9L1750.3,1081.6L1752.5,1079.5L1754.7,1078.1L1756.9,1078L1759.1,1078.6L1761.3,1079.6L1763.5,1078.5L1765.7,1074.9L1767.9,1071.1L1770.1,1065.8L1772.3,1061.4L1774.5,1057L1776.7,1055.2L1778.9,1050.5L1781,1048.3L1783.2,1047.1L1785.4,1047.3L1787.6,1050.9L1789.8,1057.9L1792,1058.4L1794.2,1063L1796.4,1068.8L1798.6,1070.6L1800.8,1068.2L1803,1070.2L1805.2,1077.4L1807.4,1077.8L1809.6,1084.9L1811.8,1096.7L1814,1105.8L1816.1,1107.3L1818.3,1107.5L1820.5,1108L1822.7,1108.1L1824.9,1115.5L1827.1,1115.6L1829.3,1116.3L1831.5,1120.4L1833.7,1124.5L1835.9,1128.4L1838.1,1121.6L1840.3,1115.9L1842.5,1119.3L1844.7,1124.8L1846.9,1123.1L1849,1127.7L1851.2,1130L1853.4,1130.1L1855.6,1128L1857.8,1127.5L1860,1126.4L1862.2,1119.4L1864.4,1115.2L1866.6,1112.3L1868.8,1113.4L1871,1112.2L1873.2,1112.1L1875.4,1110.6L1877.6,1110.5L1879.8,1112.2L1881.9,1113.6L1884.1,1119.9L1886.3,1114.4L1888.5,1107L1890.7,1100.2L1892.9,1097.7L1895.1,1099.6L1897.3,1100.6L1899.5,1107.6L1901.7,1112.9L1903.9,1117.1L1906.1,1115.2L1908.3,1107.9L1910.5,1102.4L1912.7,1098L1914.8,1096.1L1917,1097.3L1919.2,1102L1921.4,1108.1L1923.6,1110.7L1925.8,1114.7L1928,1123L1930.2,1126.1L1932.4,1129.5L1934.6,1131L1936.8,1130.4L1939,1133.6L1941.2,1138.5L1943.4,1136.7L1945.6,1127.8L1947.8,1122.7L1949.9,1119.8L1952.1,1116L1954.3,1113.4L1956.5,1111L1958.7,1110.3L1960.9,1108.2L1963.1,1107.8L1965.3,1108.7L1967.5,1110.5L1969.7,1112.3L1971.9,1114L1974.1,1113.7L1976.3,1115.9L1978.5,1115.1L1980.7,1114.1L1982.8,1115.5L1985,1118.6L1987.2,1126.4L1989.4,1131L1991.6,1128.7L1993.8,1119.9L1996,1114.2L1998.2,1107.8" stroke="#007d00" stroke-width="3.9"/>
</g>
<rect x="1643.8" y="717.5" width="354.4" height="552.5" fill="none" stroke="#000" stroke-width="3"/>
<path d="M1682.7,1270L1682.7,1255" stroke="#000" stroke-width="2.6"/>
<path d="M1722.7,1270L1722.7,1261.5" stroke="#000" stroke-width="2.6"/>
<path d="M1762.4,1270L1762.4,1255" stroke="#000" stroke-width="2.6"/>
<path d="M1801.5,1270L1801.5,1261.5" stroke="#000" stroke-width="2.6"/>
<path d="M1840.6,1270L1840.6,1255" stroke="#000" stroke-width="2.6"/>
<path d="M1879.8,1270L1879.8,1261.5" stroke="#000" stroke-width="2.6"/>
<path d="M1919.5,1270L1919.5,1255" stroke="#000" stroke-width="2.6"/>
<path d="M1958.6,1270L1958.6,1261.5" stroke="#000" stroke-width="2.6"/>
<text transform="translate(1690.3,1305.7) scale(1.045,1)" font-size="32" text-anchor="middle">530</text>
<text transform="translate(1767.5,1305.7) scale(1.045,1)" font-size="32" text-anchor="middle">540</text>
<text transform="translate(1841.1,1305.7) scale(1.045,1)" font-size="32" text-anchor="middle">550</text>
<text transform="translate(1919.8,1305.7) scale(1.045,1)" font-size="32" text-anchor="middle">560</text>
<text transform="translate(1812.8,1340.5) scale(1.045,1)" font-size="32.5" text-anchor="middle">Energy (eV)</text>
<text transform="translate(1821.7,1237.1) scale(1.045,1)" font-size="37.5">O K edge</text>
<text transform="translate(1632,992) rotate(-90) scale(1.045,1)" font-size="32.5" text-anchor="middle">Intensity (a.u.)</text>
<text transform="translate(1841,804) scale(1.045,1)" font-size="32.5">ref)</text>
<text transform="translate(1840.7,845) scale(1.045,1)" font-size="32.5">CuAlO<tspan font-size="20.8" dy="7.5">2</tspan><tspan dy="-7.5"></tspan></text>
<text transform="translate(1953,917.1) scale(1.045,1)" font-size="31">1</text>
<text transform="translate(1945,992.4) scale(1.045,1)" font-size="31">10</text>
<text transform="translate(1955,1095) scale(1.045,1)" font-size="31">6</text>
<path d="M1747.4,729L1747.4,754.5" stroke="#000" stroke-width="2.8"/><path d="M1747.4,762L1741.7,749.5L1747.4,753L1753.1,749.5Z" fill="#000"/>
<path d="M1745.6,1034.8L1745.6,1060.5" stroke="#000" stroke-width="2.8"/><path d="M1745.6,1068L1739.9,1055.5L1745.6,1059L1751.3,1055.5Z" fill="#000"/>
<text transform="translate(1642.5,698.6) scale(1.045,1)" font-size="38">(g)</text></g>
</svg>
</body></html>
